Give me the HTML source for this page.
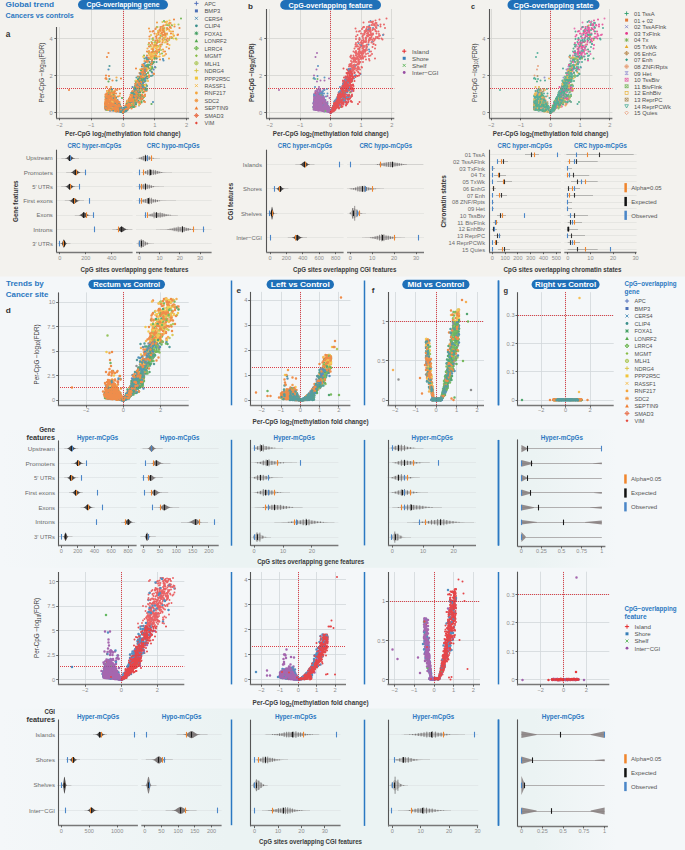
<!DOCTYPE html><html><head><meta charset="utf-8"><title>Figure</title><style>html,body{margin:0;padding:0;background:#f4f7f9;width:685px;height:850px;overflow:hidden;font-family:"Liberation Sans",sans-serif}svg{display:block}</style></head><body><svg width="685" height="850" viewBox="0 0 685 850" font-family="Liberation Sans, sans-serif"><rect x="0" y="0" width="685" height="850" fill="#f4f7f9"/>
<rect x="0" y="0" width="685" height="276.5" fill="#f3f2ee"/>
<defs><linearGradient id="band" x1="0" x2="1" y1="0" y2="0"><stop offset="0" stop-color="#ebf3f3" stop-opacity="0"/><stop offset="0.12" stop-color="#ebf3f3" stop-opacity="0.3"/><stop offset="0.33" stop-color="#ebf3f3" stop-opacity="1"/><stop offset="0.78" stop-color="#ebf3f3" stop-opacity="1"/><stop offset="0.9" stop-color="#ebf3f3" stop-opacity="0"/></linearGradient></defs>
<rect x="0" y="429.5" width="685" height="138.3" fill="url(#band)"/>
<rect x="0" y="708.5" width="685" height="141.5" fill="url(#band)"/>
<text x="5.6" y="6.9" font-size="7.54" fill="#2b78c1" font-weight="bold" textLength="48.5" lengthAdjust="spacingAndGlyphs">Global trend</text>
<text x="5.6" y="18.2" font-size="7.36" fill="#2b78c1" font-weight="bold" textLength="68.2" lengthAdjust="spacingAndGlyphs">Cancers vs controls</text>
<text x="5.8" y="36.8" font-size="8.28" fill="#333333" font-weight="bold" textLength="4.6" lengthAdjust="spacingAndGlyphs">a</text>
<text x="248" y="8.9" font-size="7.82" fill="#333333" font-weight="bold" textLength="4.9" lengthAdjust="spacingAndGlyphs">b</text>
<text x="471" y="8.9" font-size="7.82" fill="#333333" font-weight="bold" textLength="4" lengthAdjust="spacingAndGlyphs">c</text>
<line x1="59.5" y1="27" x2="59.5" y2="118" stroke="#d3d3cf" stroke-width="0.8"/>
<line x1="91.5" y1="9" x2="91.5" y2="118" stroke="#d3d3cf" stroke-width="0.8"/>
<line x1="123.5" y1="9" x2="123.5" y2="118" stroke="#d3d3cf" stroke-width="0.8"/>
<line x1="154.5" y1="9" x2="154.5" y2="118" stroke="#d3d3cf" stroke-width="0.8"/>
<line x1="186.5" y1="9" x2="186.5" y2="118" stroke="#d3d3cf" stroke-width="0.8"/>
<line x1="56.6" y1="112.5" x2="189.1" y2="112.5" stroke="#d3d3cf" stroke-width="0.8"/>
<line x1="56.6" y1="75.5" x2="189.1" y2="75.5" stroke="#d3d3cf" stroke-width="0.8"/>
<line x1="56.6" y1="38.5" x2="189.1" y2="38.5" stroke="#d3d3cf" stroke-width="0.8"/>
<line x1="123.5" y1="9" x2="123.5" y2="118" stroke="#dc4149" stroke-width="1.0" stroke-dasharray="1 1"/>
<line x1="57" y1="88.5" x2="189.1" y2="88.5" stroke="#dc4149" stroke-width="1.0" stroke-dasharray="1 1"/>
<g transform="scale(.5)" stroke-linecap="round" stroke-width="4.4" opacity="0.85"><path d="M338 80h0" stroke="#a7c44c"/><path d="M344 76h0" stroke="#66b247"/><path d="M325 44h0m0 17h0m12-10h0" stroke="#d8c23c"/><path d="M299 78h0m1 33h0m3-18h0m2 5h0m6-5h0m3-13h0m7-13h0m10 6h0" stroke="#f6b73c"/><path d="M222 194h0m3-3h0m0 30h0m6 0h0m4-21h0m17 13h0m6-3h0m7-36h0m11 20h0m6-24h0m2-11h0" stroke="#4d70b6"/><path d="M214 196h0m6 9h0m4-1h0m2-2h0m6 15h0m5-1h0m21-10h0m2-9h0m6-6h0m27-11h0m34-104h0m25 1h0" stroke="#86bc44"/><path d="M211 194h0m2 16h0m0 4h0m2-24h0m2-27h0m3 38h0m2 12h0m6-26h0m25 26h0m3-8h0m2 4h0m1-4h0m1 2h0m3-15h0m0 9h0m6-12h0m5-17h0m2 19h0m1-30h0m4 11h0m1-19h0m3 23h0m7-35h0m9-23h0" stroke="#52a84c"/><path d="M212 216h0m7-18h0m1-19h0m0 32h0m1-19h0m1 15h0m3-3h0m2-14h0m1 19h0m1 5h0m2-21h0m32 9h0m0 8h0m5-30h0m2 0h0m2 22h0m4-26h0m3-5h0m8-25h0m0 7h0m5-13h0m8-77h0m2 76h0m5 8h0m11-45h0m2-6h0m12-52h0m2 12h0" stroke="#f29236"/><path d="M252 212h0m2-6h0m0 1h0m3-5h0m0 3h0m0 7h0m0 1h0m1-5h0m2-8h0m2-4h0m1-2h0m1 0h0m1-5h0m1-4h0m0 14h0m2 12h0m1-33h0m0 6h0m1-3h0m2-8h0m0 12h0m1 20h0m8-7h0m4-49h0m0 17h0m3 36h0m3-62h0m1 8h0m3 9h0m1-38h0" stroke="#3a9a5c"/><path d="M219 180h0m3 0h0m1 32h0m5-15h0m8 22h0m1 0h0m17-5h0m2-4h0m1-2h0m1-2h0m6 9h0m2-29h0m1-3h0m2-4h0m2 0h0m10 20h0m1-33h0m9-5h0m6-10h0m2 0h0m7-48h0m5 3h0m3-14h0m2-26h0m4 16h0m3-23h0m3 53h0m3-36h0m4-16h0m6-19h0m0 49h0m8-18h0" stroke="#f2c53a"/><path d="M211 207h0m2 0h0m0 10h0m1 1h0m1-11h0m0 1h0m3-5h0m0 17h0m2-11h0m1 5h0m0 4h0m3-10h0m2-13h0m3 27h0m1-3h0m1-6h0m1-16h0m22 13h0m7 3h0m8-28h0m10-3h0m0 24h0m1-59h0m8-15h0m1 28h0m1-2h0m3-21h0m0 33h0m13-94h0m0 27h0m1 10h0m2 5h0m5-47h0m28-15h0" stroke="#f5a53a"/><path d="M213 204h0m3 3h0m1-68h0m0 74h0m1-9h0m5-12h0m1-1h0m2 22h0m2-12h0m2 4h0m4 5h0m5 13h0m1-6h0m2 1h0m0 1h0m1-3h0m0 2h0m2 6h0m1 1h0m1-1h0m1-2h0m0 1h0m1-3h0m0 1h0m1-4h0m0 2h0m1-2h0m1 4h0m2-16h0m0 10h0m0 1h0m1-5h0m1-2h0m3-2h0m1 1h0m2-10h0m1 2h0m4-9h0m1-7h0m0 16h0m4-30h0m2 20h0m3 13h0m4-12h0m8-64h0m38-6h0" stroke="#3a83b1"/><path d="M211 214h0m1-18h0m0 12h0m2-7h0m3 6h0m5-10h0m1-10h0m1-4h0m0 28h0m2 2h0m0 6h0m3-18h0m2-3h0m0 9h0m1 5h0m1 0h0m4 4h0m2 2h0m1 0h0m1-2h0m1 8h0m1-2h0m0 2h0m2-2h0m0 1h0m0 1h0m1 0h0m0 1h0m1-2h0m0 1h0m1-2h0m0 1h0m1-7h0m0 4h0m0 1h0m1-5h0m0 1h0m0 1h0m0 1h0m1-3h0m0 1h0m0 2h0m0 1h0m1-6h0m0 1h0m0 1h0m0 2h0m0 1h0m0 3h0m1-5h0m1 2h0m2-13h0m2 0h0m0 9h0m1 0h0m1-17h0m1 16h0m7-37h0m2 2h0m1 20h0m4-27h0m0 16h0m2-11h0m1-7h0m1-5h0m1 13h0m4-45h0m0 47h0m1-40h0m0 22h0m3 9h0m1-54h0m5 2h0m0 13h0m2 2h0m2-4h0m6-1h0m2-5h0m7 0h0" stroke="#3b8f8c"/><path d="M211 205h0m0 3h0m0 3h0m0 1h0m0 1h0m0 1h0m1-15h0m0 10h0m0 7h0m1-11h0m0 10h0m0 4h0m1-20h0m0 5h0m0 5h0m0 1h0m0 8h0m1-18h0m0 6h0m0 6h0m0 1h0m1-18h0m0 13h0m0 2h0m0 3h0m0 3h0m1-29h0m0 11h0m0 3h0m0 12h0m0 5h0m1-66h0m0 36h0m0 10h0m0 6h0m0 1h0m0 4h0m0 7h0m1-13h0m0 4h0m1-11h0m0 7h0m0 10h0m0 3h0m0 4h0m1-4h0m1-16h0m0 6h0m0 10h0m1-7h0m0 7h0m1-37h0m0 16h0m0 1h0m0 16h0m0 1h0m0 3h0m0 2h0m0 2h0m1-59h0m0 33h0m0 3h0m0 1h0m0 6h0m0 12h0m1-23h0m1 0h0m0 2h0m0 10h0m0 5h0m0 1h0m1-24h0m0 11h0m1-4h0m0 3h0m0 20h0m1 3h0m1-42h0m0 20h0m0 15h0m0 9h0m1-20h0m0 2h0m0 11h0m1-15h0m0 8h0m0 1h0m0 5h0m1-5h0m1 13h0m1-29h0m0 10h0m0 5h0m0 1h0m0 2h0m1-2h0m1 0h0m0 8h0m0 5h0m1-44h0m1 34h0m1 1h0m4 9h0m1 3h0m1-1h0m3-6h0m0 3h0m2-5h0m1-3h0m0 1h0m1-3h0m0 4h0m1-11h0m0 3h0m0 1h0m0 2h0m0 7h0m0 2h0m1-10h0m0 4h0m1-7h0m0 4h0m0 4h0m1-14h0m0 3h0m0 2h0m0 3h0m2-7h0m1 6h0m1-13h0m0 1h0m0 7h0m0 3h0m0 3h0m0 2h0m3-22h0m1 2h0m1-2h0m1 17h0m1-28h0m1 15h0m1 1h0m1 10h0m2-29h0m1-11h0m0 4h0m1-14h0m0 11h0m0 2h0m0 6h0m1 5h0m1 18h0m0 9h0m4-33h0m0 28h0m1-36h0m1-23h0m1 35h0m0 4h0m1-38h0m1-3h0m1 38h0m2-6h0m4-46h0m2 8h0m2-46h0m0 65h0m0 3h0m6-45h0m1-46h0m0 42h0m0 8h0m0 14h0m4-60h0m2-9h0m1 15h0m1 42h0m0 2h0m1-31h0m0 5h0m1-10h0m0 13h0m4-10h0m1 35h0m1-26h0m3-28h0m1-11h0m10 4h0m14-5h0m6 17h0" stroke="#ef7b2d"/><path d="M299 110h0" stroke="#f6b73c"/><path d="M302 70h0m2 38h0m12-46h0" stroke="#d8c23c"/><path d="M309 106h0m2-22h0m6 8h0m7-3h0m5-33h0m1 23h0" stroke="#a7c44c"/><path d="M286 138h0m2-27h0m0 35h0m0 6h0m0 21h0m17-95h0m1 24h0m2 12h0m3-27h0m0 48h0m23-85h0" stroke="#66b247"/><path d="M212 207h0m16-8h0m30 7h0m6 1h0m2-4h0m6-12h0m7-2h0m4 5h0m26-104h0m5-36h0m5 23h0m8-1h0" stroke="#86bc44"/><path d="M211 216h0m5-9h0m3 6h0m9-5h0m25 5h0m1-10h0m1 2h0m2 5h0m4 2h0m9-28h0m3-11h0m5 0h0m3 9h0m3 17h0m8-30h0m4-40h0" stroke="#52a84c"/><path d="M256 204h0m4-6h0m1 4h0m1 6h0m3-9h0m5-23h0m0 30h0m1-24h0m0 1h0m0 13h0m2-13h0m0 5h0m8-20h0m4-6h0m1 16h0m3-20h0m2 4h0m5-16h0" stroke="#3a9a5c"/><path d="M211 213h0m0 4h0m6-7h0m17-1h0m23-2h0m14-19h0m1-15h0m3 2h0m3-1h0m3-9h0m0 4h0m5-20h0m2-5h0m1 9h0m3 4h0m1-42h0m0 66h0m1-49h0m2 0h0" stroke="#4d70b6"/><path d="M211 192h0m1-36h0m1 39h0m1-4h0m2 27h0m8-8h0m2-7h0m2-19h0m0 30h0m2 1h0m9-1h0m1-4h0m15 3h0m2-1h0m1-1h0m1-8h0m11-6h0m16-50h0m22-36h0m6-66h0m2 56h0m1-1h0m2 13h0m7-14h0m1-37h0m3-18h0m16 19h0" stroke="#f29236"/><path d="M212 218h0m5-4h0m14-21h0m1 25h0m2 4h0m26-20h0m1-8h0m3 0h0m1-5h0m5-11h0m2 0h0m0 3h0m2-12h0m1 27h0m1-30h0m0 30h0m2-41h0m2-16h0m6 14h0m2 21h0m3-15h0m1-17h0m13-19h0m1-8h0m6-2h0m3-19h0m25-20h0" stroke="#f2c53a"/><path d="M212 207h0m2-6h0m0 18h0m1-7h0m1 1h0m3-15h0m3 15h0m5-13h0m0 21h0m1-22h0m1 19h0m1-8h0m6-3h0m17 4h0m5 3h0m4-21h0m5-3h0m0 4h0m0 10h0m5-28h0m2 22h0m5-22h0m1-10h0m8-12h0m0 10h0m4-47h0m3-20h0m2 7h0m8-15h0m0 17h0m7-9h0m10-24h0m5 30h0m1-27h0m3-2h0m7 43h0" stroke="#f5a53a"/><path d="M212 196h0m10 19h0m16 7h0m2-2h0m1 0h0m1-2h0m1 3h0m2 0h0m1 3h0m1-1h0m0 1h0m1-2h0m1-2h0m0 1h0m1-5h0m0 3h0m0 1h0m1-4h0m1-4h0m0 3h0m0 5h0m1-7h0m0 2h0m0 1h0m0 2h0m1-9h0m1 6h0m6-16h0m0 2h0m3-3h0m0 13h0m11-43h0m2-8h0m2 22h0m2 15h0m2-41h0m0 3h0m0 19h0m3-10h0m2-40h0m2 17h0m0 30h0m1 5h0" stroke="#3a83b1"/><path d="M213 199h0m0 3h0m0 1h0m4-20h0m0 19h0m1-8h0m0 3h0m1-11h0m0 24h0m1-13h0m0 4h0m1-16h0m0 23h0m0 6h0m1-2h0m1-33h0m3 18h0m2 4h0m0 15h0m2-12h0m0 13h0m2-22h0m1-34h0m1 48h0m1-3h0m2 2h0m1 6h0m0 1h0m3-1h0m0 1h0m0 1h0m0 2h0m1 3h0m0 1h0m2-1h0m0 1h0m1 2h0m1 1h0m1-3h0m0 1h0m0 1h0m1-3h0m0 1h0m0 1h0m1-3h0m0 1h0m1-4h0m0 1h0m0 2h0m0 1h0m1-6h0m0 2h0m0 1h0m0 1h0m1-3h0m0 1h0m1-4h0m0 3h0m0 4h0m1-6h0m0 2h0m3-7h0m1 0h0m3-11h0m2 0h0m1 1h0m1 2h0m5 5h0m1-38h0m0 8h0m1 2h0m2 22h0m1-26h0m1-6h0m1 12h0m2-21h0m0 5h0m1 33h0m3-39h0m2 35h0m2-60h0m1 13h0m3-22h0m2 54h0m7-37h0m5 10h0" stroke="#3b8f8c"/><path d="M210 207h0m1-18h0m0 14h0m0 1h0m0 1h0m0 1h0m0 1h0m0 3h0m0 3h0m0 5h0m0 1h0m1-19h0m0 9h0m0 2h0m0 6h0m0 2h0m1-28h0m0 1h0m0 14h0m1-92h0m0 68h0m0 8h0m0 17h0m0 1h0m0 3h0m0 1h0m0 5h0m1-16h0m0 3h0m0 8h0m0 2h0m0 3h0m0 2h0m1-30h0m0 16h0m0 8h0m0 1h0m1-8h0m0 7h0m1-25h0m0 16h0m0 3h0m0 13h0m1-22h0m0 13h0m1-33h0m0 7h0m0 13h0m0 6h0m0 9h0m0 6h0m1-10h0m0 1h0m1-8h0m0 11h0m0 2h0m0 2h0m0 4h0m1-22h0m0 16h0m1-34h0m0 22h0m0 7h0m1-18h0m0 14h0m1-15h0m0 16h0m0 1h0m0 2h0m0 9h0m1-33h0m0 1h0m0 14h0m0 11h0m4-5h0m0 14h0m1-34h0m0 19h0m0 4h0m0 10h0m1-6h0m0 6h0m1-16h0m0 14h0m2-5h0m0 1h0m1-6h0m0 4h0m0 1h0m0 3h0m0 2h0m2-6h0m1 4h0m2-59h0m1 65h0m3 3h0m1-2h0m1-1h0m1 0h0m1-4h0m0 2h0m1-4h0m0 5h0m1-10h0m1-3h0m0 13h0m1-18h0m0 1h0m0 7h0m0 2h0m1-12h0m0 5h0m0 5h0m1 8h0m1-13h0m0 2h0m0 8h0m1-10h0m0 1h0m1-1h0m1-10h0m0 4h0m0 5h0m1-5h0m0 2h0m0 3h0m0 1h0m1-10h0m0 11h0m1-10h0m0 20h0m1-27h0m1-8h0m0 12h0m1-3h0m1-5h0m0 6h0m1-14h0m0 10h0m0 5h0m0 7h0m1-6h0m1-16h0m1-10h0m0 13h0m0 8h0m0 24h0m2-49h0m2 11h0m0 6h0m0 6h0m2-18h0m0 2h0m1-11h0m1-14h0m0 49h0m2-11h0m0 11h0m1 1h0m0 3h0m1-38h0m0 31h0m2 5h0m1-36h0m0 12h0m0 24h0m1-40h0m0 20h0m2 14h0m1-55h0m2 6h0m0 10h0m0 3h0m2-44h0m2 25h0m2-29h0m0 30h0m1-64h0m0 32h0m4 31h0m1-17h0m0 2h0m4 27h0m1-57h0m0 13h0m3-2h0m0 9h0m1-56h0m4 14h0m0 14h0m2-7h0m2-19h0m1 32h0m3-17h0m2-17h0m0 3h0m3 45h0m3-23h0m1-13h0m1 16h0m4-37h0m1 8h0" stroke="#ef7b2d"/><path d="M297 105h0m14 3h0m4-54h0m7 46h0" stroke="#a7c44c"/><path d="M313 107h0m6-28h0m10-15h0m5 5h0" stroke="#d8c23c"/><path d="M271 162h0m14-6h0m6-7h0m27-45h0m10-42h0" stroke="#66b247"/><path d="M287 113h0m17-6h0m1-10h0m8-29h0m17 17h0m4-42h0m1 45h0m7-25h0" stroke="#f6b73c"/><path d="M212 209h0m2-3h0m9 12h0m8-5h0m24-1h0m1 2h0m6-18h0m7-13h0m11-23h0m3 16h0m9-42h0m12 11h0m3-6h0" stroke="#4d70b6"/><path d="M211 214h0m6-23h0m0 11h0m5-7h0m3-12h0m2 29h0m24 0h0m11-15h0m0 1h0m5-12h0m5 1h0m12-6h0m25-96h0m9-2h0m20-33h0" stroke="#86bc44"/><path d="M213 217h0m1-12h0m1 14h0m10-4h0m8 5h0m2-14h0m0 15h0m1-1h0m18-7h0m5-2h0m2-12h0m0 1h0m2-4h0m3-4h0m2 15h0m8-43h0m1 6h0m12-48h0m1 25h0m3 35h0m5-80h0m8-22h0m0 20h0m8 7h0m6-32h0m21-29h0m2 4h0m0 24h0" stroke="#f29236"/><path d="M212 205h0m1 2h0m2-24h0m2 16h0m6-7h0m2 10h0m0 3h0m1 11h0m9-8h0m1 10h0m3-9h0m16-1h0m4-6h0m0 3h0m4-13h0m0 5h0m12-22h0m3 3h0m6-15h0m1-21h0m18-6h0m1-13h0m1-12h0m11 2h0m1-29h0m8-2h0m1-13h0m7-23h0m13 22h0m1 9h0" stroke="#f2c53a"/><path d="M254 213h0m3-6h0m0 2h0m2 5h0m1-1h0m2 0h0m1-27h0m3 19h0m1-9h0m4-15h0m4-10h0m1 14h0m1-27h0m0 44h0m2-33h0m0 3h0m1-16h0m0 23h0m0 6h0m3-14h0m1-15h0m0 7h0m1 9h0m7-33h0m3-7h0m2 4h0m4-8h0m2 15h0m1-9h0" stroke="#3a9a5c"/><path d="M212 199h0m1 8h0m0 12h0m4-24h0m1 3h0m5 12h0m4-21h0m5 23h0m1-4h0m3 7h0m8-19h0m11 15h0m2-6h0m1-7h0m1 17h0m5-22h0m0 2h0m1 16h0m3-23h0m4-23h0m0 36h0m2-31h0m3 26h0m5-55h0m1 64h0m1-49h0m4 38h0m1-61h0m6-14h0m5 11h0m3 8h0m2-2h0" stroke="#52a84c"/><path d="M211 209h0m1 3h0m1-3h0m2 5h0m0 6h0m2-7h0m3-6h0m1 12h0m1-1h0m6-8h0m3-8h0m2 11h0m0 2h0m1-1h0m3-7h0m2-15h0m14 15h0m2-5h0m1 2h0m4 4h0m10-8h0m2 1h0m1-8h0m1-26h0m3-2h0m0 1h0m4 14h0m1-20h0m5-30h0m4 40h0m5-25h0m3-21h0m3-16h0m1-10h0m2 12h0m3-4h0m8-4h0m4 6h0m11-58h0m6-2h0m2 14h0" stroke="#f5a53a"/><path d="M212 219h0m14-23h0m0 16h0m12 3h0m0 5h0m2-6h0m5 10h0m0 1h0m1-1h0m0 1h0m1-2h0m0 1h0m1-2h0m0 1h0m1-7h0m0 4h0m1 1h0m1-6h0m0 6h0m2-4h0m0 2h0m1-5h0m3-1h0m6-15h0m6-19h0m1-3h0m1 32h0m4-37h0m1-12h0m2 12h0m1-8h0m1 11h0m1-28h0m9-3h0m0 20h0m1-32h0m13-9h0m0 3h0m2 79h0m20-86h0" stroke="#3a83b1"/><path d="M213 217h0m1-17h0m1 15h0m1-13h0m1 1h0m1-14h0m0 21h0m2 11h0m6-22h0m5 11h0m2-9h0m3 9h0m1-1h0m1-2h0m1 15h0m1-2h0m1 0h0m0 3h0m1-7h0m0 2h0m0 5h0m1-8h0m0 3h0m0 2h0m1-1h0m0 1h0m0 1h0m0 3h0m1-1h0m0 1h0m1 0h0m0 1h0m1-2h0m0 1h0m1-3h0m0 1h0m0 1h0m1-2h0m0 1h0m1-4h0m0 1h0m0 1h0m1-6h0m0 4h0m0 1h0m0 2h0m0 2h0m1-8h0m0 1h0m0 2h0m0 2h0m1-5h0m0 1h0m0 5h0m1-7h0m5-13h0m4-6h0m4 1h0m0 14h0m3-38h0m2 8h0m0 4h0m0 18h0m1-47h0m0 26h0m0 20h0m1-8h0m5-39h0m5 6h0m0 32h0m3-33h0m6-42h0m13 9h0" stroke="#3b8f8c"/><path d="M211 200h0m0 8h0m0 2h0m0 4h0m1-63h0m0 50h0m0 3h0m0 4h0m0 4h0m0 1h0m0 2h0m1-57h0m0 16h0m0 39h0m0 1h0m0 4h0m1-18h0m0 8h0m0 8h0m1-30h0m0 13h0m0 12h0m1-16h0m0 4h0m0 20h0m1-113h0m0 89h0m0 13h0m0 12h0m1-24h0m0 4h0m1 10h0m0 1h0m0 1h0m1-26h0m0 14h0m0 15h0m1-22h0m0 4h0m0 20h0m1-32h0m0 4h0m0 5h0m0 4h0m1-6h0m0 17h0m0 7h0m1 2h0m0 1h0m1-21h0m0 12h0m1-24h0m0 12h0m0 12h0m0 1h0m1-14h0m0 2h0m0 10h0m1-16h0m1-9h0m0 7h0m0 7h0m2 2h0m1 11h0m1-2h0m0 6h0m1-35h0m0 31h0m0 5h0m1-5h0m0 1h0m0 4h0m0 4h0m1-12h0m1 3h0m0 2h0m0 1h0m0 1h0m1-7h0m0 1h0m1-2h0m0 2h0m0 3h0m7 12h0m0 1h0m3-6h0m1 2h0m1-9h0m0 7h0m1-6h0m0 6h0m1-6h0m0 2h0m1-8h0m0 4h0m0 5h0m1-6h0m0 2h0m1-5h0m0 2h0m1-2h0m1-4h0m0 4h0m2-13h0m0 12h0m0 4h0m4-26h0m1 3h0m0 10h0m0 6h0m0 5h0m1-18h0m0 15h0m1-20h0m0 4h0m0 11h0m0 10h0m1-19h0m1-4h0m0 12h0m2-27h0m0 10h0m2-1h0m0 9h0m0 4h0m2-21h0m0 9h0m0 11h0m2 12h0m1-40h0m0 3h0m0 9h0m0 27h0m1-41h0m0 26h0m0 15h0m1-39h0m0 43h0m1-56h0m1 13h0m0 6h0m0 23h0m1-48h0m0 29h0m1-15h0m0 1h0m1-31h0m0 20h0m0 11h0m2-28h0m0 12h0m0 25h0m0 14h0m1 19h0m1-61h0m0 50h0m1 12h0m2-27h0m0 1h0m1-56h0m3-7h0m1 7h0m4-32h0m3 14h0m0 16h0m2-22h0m1-36h0m4 19h0m0 34h0m1-25h0m1-14h0m1 28h0m1-20h0m5-22h0m1-8h0m0 8h0m4-9h0m0 26h0m2-28h0m1 13h0m3 5h0m0 1h0m4-13h0m0 20h0m0 11h0m5-33h0m8-16h0m11 17h0" stroke="#ef7b2d"/><path d="M332 84h0" stroke="#d8c23c"/><path d="M300 106h0m7-11h0m13 0h0m7-40h0" stroke="#f6b73c"/><path d="M283 173h0m13-28h0m32-103h0m34-5h0" stroke="#66b247"/><path d="M297 89h0m3 4h0m3-9h0m3-5h0m51-30h0" stroke="#a7c44c"/><path d="M220 221h0m7 0h0m8-7h0m0 8h0m21-11h0m19-45h0m3 45h0m9-46h0m23-31h0" stroke="#4d70b6"/><path d="M214 220h0m4-34h0m7 33h0m12-9h0m16 1h0m3-5h0m1-2h0m0 2h0m1-6h0m6 9h0m3-20h0m1 11h0m0 3h0m3-18h0m50-114h0m3 36h0m3-50h0m17-6h0" stroke="#86bc44"/><path d="M254 208h0m1 2h0m3-7h0m0 6h0m2-8h0m0 5h0m1-8h0m5-12h0m0 28h0m2 0h0m4-5h0m1-27h0m1 1h0m2-24h0m2 2h0m0 16h0m2-13h0m5-3h0m3-3h0m2 21h0m3-1h0m1-25h0m1-19h0m13-10h0" stroke="#3a9a5c"/><path d="M212 216h0m7-12h0m2 15h0m9 3h0m3-21h0m29-11h0m0 7h0m3-2h0m7-34h0m0 44h0m3-29h0m3 34h0m9-96h0m2 78h0m1-21h0m5-34h0m0 2h0m4-28h0m2 23h0m2-17h0m2-8h0m5-22h0m3 9h0m4 4h0m11-30h0m21-21h0m4 30h0" stroke="#f2c53a"/><path d="M213 213h0m8-22h0m0 22h0m0 3h0m40-16h0m0 3h0m1-1h0m7-27h0m0 16h0m1 10h0m4-25h0m0 19h0m1-8h0m1 1h0m3 6h0m2-4h0m2 13h0m1-32h0m1-11h0m1 11h0m0 14h0m4-23h0m3 15h0m1-47h0m9 78h0m2-81h0m4-11h0m0 1h0" stroke="#52a84c"/><path d="M211 211h0m2-19h0m2 8h0m0 14h0m2 6h0m4-22h0m1-24h0m0 40h0m1-27h0m0 22h0m2-11h0m2-4h0m0 7h0m4 9h0m6-3h0m18 7h0m2-7h0m8-11h0m1-2h0m7-11h0m0 22h0m19-69h0m6-79h0m1 47h0m3 9h0m17-53h0m1 30h0m12 18h0" stroke="#f29236"/><path d="M211 203h0m4 12h0m2-9h0m0 12h0m1-18h0m5-11h0m0 15h0m2-23h0m1 15h0m6 3h0m1-44h0m3 64h0m0 1h0m20-10h0m6-16h0m1 12h0m7-22h0m5-19h0m1 9h0m1 24h0m13-16h0m6-20h0m3-44h0m3-3h0m4-2h0m2-20h0m6 6h0m5-36h0m8 18h0m1-21h0m1 51h0m4-17h0m5-35h0m10 12h0" stroke="#f5a53a"/><path d="M213 213h0m4 3h0m3-22h0m19 15h0m0 7h0m0 7h0m2-6h0m0 1h0m1 1h0m1-3h0m0 4h0m1 3h0m2 1h0m0 1h0m1-2h0m0 1h0m1-3h0m0 1h0m0 1h0m1-4h0m0 2h0m0 1h0m1-6h0m0 4h0m0 2h0m1-5h0m0 1h0m1-4h0m0 2h0m1 1h0m0 1h0m1-5h0m0 6h0m1-4h0m1-1h0m2-5h0m1 4h0m1-12h0m2-1h0m1 4h0m5-15h0m1 2h0m6-6h0m1-10h0m4-8h0m2 5h0m4 2h0m2-32h0m2 18h0m1-4h0m2-41h0m4 3h0" stroke="#3a83b1"/><path d="M212 207h0m0 2h0m2 7h0m1-19h0m0 17h0m4-82h0m0 26h0m0 46h0m4 4h0m1-29h0m3 17h0m0 24h0m3-15h0m3 2h0m1 16h0m2-15h0m0 6h0m2 6h0m1-11h0m0 6h0m0 1h0m0 1h0m3-1h0m0 4h0m0 4h0m1-2h0m1-1h0m0 1h0m0 2h0m2 0h0m0 1h0m1-2h0m0 1h0m1-5h0m0 2h0m0 1h0m0 1h0m1-5h0m0 2h0m1-4h0m0 1h0m0 1h0m0 1h0m0 1h0m0 1h0m1-6h0m0 1h0m0 1h0m0 2h0m1-5h0m0 1h0m0 5h0m0 1h0m1-5h0m0 2h0m0 1h0m0 1h0m0 1h0m2-12h0m0 3h0m0 3h0m3-5h0m1-4h0m3-6h0m0 3h0m1-17h0m0 13h0m1 1h0m2-5h0m2-7h0m0 6h0m1-4h0m1-7h0m2 23h0m1-29h0m2 19h0m4-35h0m1 34h0m1-47h0m2 12h0m7-21h0m1 9h0m1 32h0m2-8h0m5-48h0m3 28h0m11-35h0" stroke="#3b8f8c"/><path d="M138 180h0m73-23h0m0 41h0m0 9h0m0 2h0m0 6h0m0 1h0m1-22h0m0 10h0m0 12h0m1-29h0m0 14h0m0 1h0m0 8h0m0 6h0m1-22h0m0 5h0m0 2h0m0 3h0m0 3h0m0 11h0m1-26h0m0 10h0m0 7h0m0 4h0m0 5h0m1-20h0m0 7h0m0 7h0m1-18h0m0 6h0m0 1h0m0 11h0m0 2h0m1-34h0m0 2h0m0 9h0m0 5h0m0 6h0m0 14h0m1-29h0m0 8h0m0 8h0m0 14h0m1-26h0m0 4h0m0 12h0m0 3h0m1-14h0m0 17h0m1-15h0m0 8h0m0 1h0m0 1h0m1-12h0m0 16h0m0 7h0m1-20h0m1 8h0m0 2h0m2-23h0m0 14h0m0 15h0m0 3h0m1-33h0m0 24h0m1-15h0m0 5h0m1-17h0m0 14h0m0 8h0m0 7h0m0 6h0m0 1h0m0 2h0m1-5h0m0 7h0m1-21h0m0 13h0m0 9h0m1-20h0m0 11h0m0 5h0m1-12h0m1-5h0m0 2h0m1 9h0m0 4h0m1-7h0m0 3h0m0 5h0m0 3h0m0 2h0m1-14h0m0 2h0m0 2h0m1-9h0m1-17h0m1 26h0m1 6h0m4 5h0m0 1h0m1-1h0m1-4h0m4-9h0m0 7h0m3-9h0m0 8h0m1-8h0m0 3h0m0 1h0m1-1h0m1-15h0m0 5h0m0 5h0m0 8h0m1-18h0m0 2h0m0 2h0m0 7h0m0 3h0m0 1h0m2-22h0m0 7h0m0 2h0m0 2h0m0 1h0m0 9h0m1-21h0m0 11h0m0 2h0m0 8h0m2-17h0m1-3h0m0 8h0m0 2h0m1-2h0m1 3h0m3-10h0m1-25h0m0 17h0m1-47h0m1 49h0m0 10h0m0 5h0m1-26h0m0 26h0m1-39h0m0 25h0m2-12h0m1-9h0m1 4h0m0 25h0m0 10h0m1-46h0m0 11h0m1 1h0m1-17h0m0 10h0m0 11h0m1-37h0m0 6h0m1 0h0m0 45h0m1-60h0m0 26h0m0 36h0m2-53h0m0 4h0m0 37h0m2 4h0m1-36h0m0 42h0m0 3h0m3-52h0m1-37h0m4-10h0m0 23h0m4 13h0m2-43h0m0 39h0m13-60h0m1 34h0m2-39h0m3 7h0m2 2h0m0 16h0m1-27h0m0 3h0m2 9h0m2-3h0m8 30h0m1-20h0m3-10h0m14 2h0" stroke="#ef7b2d"/></g>
<line x1="56.5" y1="27" x2="56.5" y2="118.5" stroke="#555555" stroke-width="1.1"/>
<line x1="56.1" y1="118.5" x2="189.1" y2="118.5" stroke="#777" stroke-width="1.3"/>
<line x1="59.5" y1="118" x2="59.5" y2="120.3" stroke="#555555" stroke-width="0.9"/>
<line x1="91.5" y1="118" x2="91.5" y2="120.3" stroke="#555555" stroke-width="0.9"/>
<line x1="123.5" y1="118" x2="123.5" y2="120.3" stroke="#555555" stroke-width="0.9"/>
<line x1="154.5" y1="118" x2="154.5" y2="120.3" stroke="#555555" stroke-width="0.9"/>
<line x1="186.5" y1="118" x2="186.5" y2="120.3" stroke="#555555" stroke-width="0.9"/>
<line x1="54.4" y1="112.5" x2="56.6" y2="112.5" stroke="#555555" stroke-width="0.9"/>
<line x1="54.4" y1="75.5" x2="56.6" y2="75.5" stroke="#555555" stroke-width="0.9"/>
<line x1="54.4" y1="38.5" x2="56.6" y2="38.5" stroke="#555555" stroke-width="0.9"/>
<text x="59.4" y="127.2" font-size="5.89" fill="#8c8c8c" text-anchor="middle" textLength="6.4" lengthAdjust="spacingAndGlyphs">−2</text>
<text x="91.2" y="127.2" font-size="5.89" fill="#8c8c8c" text-anchor="middle" textLength="6.4" lengthAdjust="spacingAndGlyphs">−1</text>
<text x="123" y="127.2" font-size="5.89" fill="#8c8c8c" text-anchor="middle" textLength="3.2" lengthAdjust="spacingAndGlyphs">0</text>
<text x="154.8" y="127.2" font-size="5.89" fill="#8c8c8c" text-anchor="middle" textLength="3.2" lengthAdjust="spacingAndGlyphs">1</text>
<text x="186.6" y="127.2" font-size="5.89" fill="#8c8c8c" text-anchor="middle" textLength="3.2" lengthAdjust="spacingAndGlyphs">2</text>
<text x="52.8" y="114.7" font-size="5.89" fill="#8c8c8c" text-anchor="end" textLength="3.2" lengthAdjust="spacingAndGlyphs">0</text>
<text x="52.8" y="77.6" font-size="5.89" fill="#8c8c8c" text-anchor="end" textLength="3.2" lengthAdjust="spacingAndGlyphs">2</text>
<text x="52.8" y="40.5" font-size="5.89" fill="#8c8c8c" text-anchor="end" textLength="3.2" lengthAdjust="spacingAndGlyphs">4</text>
<text x="41.8" y="72.6" font-size="6.8" fill="#3a3a3a" text-anchor="middle" textLength="60" lengthAdjust="spacingAndGlyphs" transform="rotate(-90 41.8 72.6) translate(0 2.2)">Per-CpG −log<tspan font-size="4.5" dy="1.5">10</tspan><tspan dy="-1.5">(FDR)</tspan></text>
<text x="122.8" y="135.7" font-size="6.8" fill="#3a3a3a" font-weight="bold" text-anchor="middle" textLength="115.7" lengthAdjust="spacingAndGlyphs">Per-CpG log<tspan font-size="4.5" dy="1.5">2</tspan><tspan dy="-1.5">(methylation fold change)</tspan></text>
<rect x="78" y="0" width="90" height="9.5" rx="4.8" fill="#1f70b8"/>
<text x="123" y="7.2" font-size="6.99" fill="#ffffff" font-weight="bold" text-anchor="middle" textLength="73" lengthAdjust="spacingAndGlyphs">CpG-overlapping gene</text>
<path d="M194.3 3.4h4.2M196.4 1.3v4.2" stroke="#4a69b8" stroke-width="0.9"/>
<text x="204.5" y="5.8" font-size="6.07" fill="#505050" textLength="11.2" lengthAdjust="spacingAndGlyphs">APC</text>
<rect x="194.9" y="9.4" width="3" height="3" fill="#4d70b6"/>
<text x="204.5" y="13.2" font-size="6.07" fill="#505050" textLength="15.8" lengthAdjust="spacingAndGlyphs">BMP3</text>
<path d="M194.9 16.8l3 3M194.9 19.8l3 -3" stroke="#3a83b1" stroke-width="0.8"/>
<text x="204.5" y="20.7" font-size="6.07" fill="#505050" textLength="18" lengthAdjust="spacingAndGlyphs">CERS4</text>
<circle cx="196.4" cy="25.8" r="1.4" fill="#3b8f8c"/>
<text x="204.5" y="28.2" font-size="6.07" fill="#505050" textLength="15.7" lengthAdjust="spacingAndGlyphs">CLIP4</text>
<path d="M194.5 33.3h3.8M196.4 31.4v3.8M194.9 31.8l3 3M194.9 34.8l3 -3" stroke="#3a9a5c" stroke-width="0.8"/>
<text x="204.5" y="35.7" font-size="6.07" fill="#505050" textLength="17.9" lengthAdjust="spacingAndGlyphs">FOXA1</text>
<path d="M196.4 39L198.2 42.2L194.6 42.2Z" fill="#52a84c"/>
<text x="204.5" y="43.1" font-size="6.07" fill="#505050" textLength="22.1" lengthAdjust="spacingAndGlyphs">LONRF2</text>
<path d="M196.4 46.2L198.4 48.2L196.4 50.2L194.4 48.2ZM194.4 48.2h4M196.4 46.2v4" fill="none" stroke="#66b247" stroke-width="0.8"/>
<text x="204.5" y="50.6" font-size="6.07" fill="#505050" textLength="17.9" lengthAdjust="spacingAndGlyphs">LRRC4</text>
<path d="M196.4 54.2L197.9 55.7L196.4 57.2L194.9 55.7Z" fill="#86bc44"/>
<text x="204.5" y="58.1" font-size="6.07" fill="#505050" textLength="17.1" lengthAdjust="spacingAndGlyphs">MGMT</text>
<circle cx="196.4" cy="63.2" r="1.7" fill="none" stroke="#a7c44c" stroke-width="0.8"/>
<path d="M194.7 63.2h3.4M196.4 61.5v3.4" stroke="#a7c44c" stroke-width="0.7"/>
<text x="204.5" y="65.5" font-size="6.07" fill="#505050" textLength="15.4" lengthAdjust="spacingAndGlyphs">MLH1</text>
<path d="M194.3 70.6h4.2M196.4 68.5v4.2" stroke="#d8c23c" stroke-width="0.9"/>
<text x="204.5" y="73" font-size="6.07" fill="#505050" textLength="19.4" lengthAdjust="spacingAndGlyphs">NDRG4</text>
<rect x="194.9" y="76.6" width="3" height="3" fill="#f2c53a"/>
<text x="204.5" y="80.5" font-size="6.07" fill="#505050" textLength="25.7" lengthAdjust="spacingAndGlyphs">PPP2R5C</text>
<path d="M194.9 84.1l3 3M194.9 87.1l3 -3" stroke="#f6b73c" stroke-width="0.8"/>
<text x="204.5" y="87.9" font-size="6.07" fill="#505050" textLength="21.2" lengthAdjust="spacingAndGlyphs">RASSF1</text>
<circle cx="196.4" cy="93" r="1.4" fill="#f5a53a"/>
<text x="204.5" y="95.4" font-size="6.07" fill="#505050" textLength="21.2" lengthAdjust="spacingAndGlyphs">RNF217</text>
<path d="M194.5 100.5h3.8M196.4 98.6v3.8M194.9 99l3 3M194.9 102l3 -3" stroke="#f29236" stroke-width="0.8"/>
<text x="204.5" y="102.9" font-size="6.07" fill="#505050" textLength="14.6" lengthAdjust="spacingAndGlyphs">SDC2</text>
<path d="M196.4 106.2L198.2 109.5L194.6 109.5Z" fill="#ef7b2d"/>
<text x="204.5" y="110.4" font-size="6.07" fill="#505050" textLength="23.8" lengthAdjust="spacingAndGlyphs">SEPTIN9</text>
<path d="M196.4 113.5L198.4 115.5L196.4 117.5L194.4 115.5ZM194.4 115.5h4M196.4 113.5v4" fill="none" stroke="#e8623a" stroke-width="0.8"/>
<text x="204.5" y="117.8" font-size="6.07" fill="#505050" textLength="19.2" lengthAdjust="spacingAndGlyphs">SMAD3</text>
<path d="M196.4 121.4L197.9 122.9L196.4 124.4L194.9 122.9Z" fill="#e4473a"/>
<text x="204.5" y="125.3" font-size="6.07" fill="#505050" textLength="9.8" lengthAdjust="spacingAndGlyphs">VIM</text>
<line x1="269.5" y1="9" x2="269.5" y2="118" stroke="#d3d3cf" stroke-width="0.8"/>
<line x1="300.5" y1="9" x2="300.5" y2="118" stroke="#d3d3cf" stroke-width="0.8"/>
<line x1="330.5" y1="9" x2="330.5" y2="118" stroke="#d3d3cf" stroke-width="0.8"/>
<line x1="361.5" y1="9" x2="361.5" y2="118" stroke="#d3d3cf" stroke-width="0.8"/>
<line x1="391.5" y1="9" x2="391.5" y2="118" stroke="#d3d3cf" stroke-width="0.8"/>
<line x1="266.5" y1="112.5" x2="394.3" y2="112.5" stroke="#d3d3cf" stroke-width="0.8"/>
<line x1="266.5" y1="75.5" x2="394.3" y2="75.5" stroke="#d3d3cf" stroke-width="0.8"/>
<line x1="266.5" y1="38.5" x2="394.3" y2="38.5" stroke="#d3d3cf" stroke-width="0.8"/>
<line x1="330.5" y1="9" x2="330.5" y2="118" stroke="#dc4149" stroke-width="1.0" stroke-dasharray="1 1"/>
<line x1="266" y1="88.5" x2="394.3" y2="88.5" stroke="#dc4149" stroke-width="1.0" stroke-dasharray="1 1"/>
<g transform="scale(.5)" stroke-linecap="round" stroke-width="4" opacity="0.8"><path d="M631 208h0m9-21h0m3 13h0m1 1h0m10 15h0m9 7h0m3-11h0m4-1h0" stroke="#4daf4a"/><path d="M631 186h0m2 5h0m2 7h0m0 6h0m1-18h0m13 29h0m3 5h0m5 2h0" stroke="#e41a1c"/><path d="M699 130h0m3-19h0m0 21h0m3 9h0m1-7h0m2-2h0m0 2h0m1-37h0m0 37h0m1-2h0m1-43h0m1-16h0m0 13h0m0 21h0m0 3h0m0 14h0m1-31h0m0 18h0m0 30h0m2-7h0m1-41h0m0 15h0m0 9h0m0 19h0m1-16h0m0 3h0m0 15h0m1-40h0m0 7h0m0 1h0m0 17h0m1-23h0m0 13h0m1-18h0m1-10h0m3-27h0m0 29h0m2-19h0m0 3h0m0 5h0m0 41h0m1-37h0m0 27h0m3-15h0m1-9h0m0 16h0m0 3h0m1-42h0m0 2h0m0 57h0m3-46h0m1-8h0m0 2h0m1-14h0m1 5h0m1-3h0m1 3h0m1 4h0m1 5h0m1 2h0m2-23h0m0 34h0m0 14h0m1-44h0m1 7h0m3 40h0m1-56h0m1 14h0m1 1h0m0 11h0m2 7h0m2-11h0m1 14h0m9-8h0m1-20h0m2 7h0" stroke="#e8474a"/><path d="M628 210h0m0 9h0m2-24h0m2 14h0m0 4h0m1-6h0m2-55h0m1 61h0m1-27h0m0 10h0m0 23h0m2-21h0m0 11h0m2-18h0m3-7h0m0 13h0m2 8h0m2-18h0m2 17h0m2-11h0m0 15h0m1 3h0m1-2h0m1-2h0m3 11h0m0 1h0m0 1h0m1 0h0m0 1h0m1 0h0m1 4h0m1-1h0m0 1h0m4-9h0m0 5h0m1-10h0m1 4h0m0 2h0m1-1h0m1-15h0m0 3h0m0 1h0m0 4h0m0 2h0m1-9h0m0 2h0m0 2h0m1-6h0m2 7h0m1-13h0m0 12h0m1-16h0m0 16h0m1-12h0m1-2h0m2-18h0m0 8h0m1 3h0m0 4h0m2-9h0m0 9h0m2-17h0m1 24h0m2-15h0m0 15h0m1-28h0m1-9h0m2 11h0m2-14h0m6-18h0m1 4h0m10 9h0m9-38h0m13-18h0m3-36h0m1 30h0m1 10h0m1-42h0m2-15h0m5 14h0" stroke="#377eb8"/><path d="M627 205h0m0 2h0m0 7h0m1-16h0m0 2h0m0 4h0m0 4h0m0 1h0m0 4h0m0 5h0m1-26h0m0 12h0m0 1h0m0 3h0m0 1h0m0 1h0m0 3h0m0 3h0m0 2h0m1-16h0m0 5h0m0 7h0m0 1h0m0 1h0m1-17h0m0 6h0m0 1h0m0 3h0m0 5h0m0 2h0m0 1h0m0 2h0m0 1h0m1-30h0m0 12h0m0 5h0m0 5h0m0 3h0m0 1h0m1-77h0m0 50h0m0 17h0m0 2h0m0 2h0m0 10h0m1-57h0m0 33h0m0 11h0m0 6h0m1-31h0m0 6h0m0 8h0m0 7h0m0 1h0m1-7h0m0 7h0m0 1h0m0 4h0m1-31h0m0 13h0m0 9h0m0 7h0m0 9h0m1-42h0m0 20h0m0 12h0m0 2h0m0 5h0m0 1h0m0 4h0m1-31h0m0 5h0m0 3h0m0 9h0m1-25h0m0 17h0m0 8h0m0 8h0m0 3h0m0 1h0m0 2h0m1-57h0m0 20h0m0 2h0m0 21h0m0 2h0m0 3h0m1-14h0m0 20h0m1-22h0m0 2h0m0 6h0m0 9h0m1-23h0m0 12h0m0 15h0m0 2h0m1-22h0m0 4h0m1 6h0m0 6h0m0 7h0m0 5h0m1-24h0m0 23h0m0 1h0m1-10h0m0 6h0m0 1h0m1-58h0m0 53h0m0 1h0m1-6h0m0 2h0m1-5h0m1 2h0m0 1h0m0 1h0m0 3h0m0 1h0m0 2h0m0 3h0m0 1h0m1-12h0m0 4h0m0 4h0m0 6h0m1-14h0m0 1h0m0 8h0m0 3h0m1-16h0m0 6h0m0 13h0m1-9h0m1 6h0m1-2h0m0 3h0m1 1h0m1 0h0m7-5h0m13-25h0m15 3h0m8-37h0" stroke="#984ea3"/><path d="M661 225h0m1-2h0m0 1h0m0 1h0m1-4h0m0 1h0m0 1h0m0 1h0m1-4h0m0 3h0m1-4h0m0 1h0m1-5h0m0 4h0m1-6h0m0 2h0m0 1h0m0 1h0m0 1h0m0 2h0m0 1h0m0 1h0m1-11h0m0 1h0m0 1h0m0 3h0m0 2h0m0 1h0m0 1h0m1-17h0m0 2h0m0 6h0m1-1h0m0 3h0m0 1h0m0 3h0m1-12h0m0 5h0m0 1h0m0 3h0m1-7h0m0 2h0m0 1h0m0 2h0m1-9h0m0 3h0m0 1h0m0 3h0m0 1h0m1 4h0m1-9h0m1-9h0m0 1h0m0 1h0m0 1h0m0 1h0m0 4h0m0 2h0m0 5h0m1-17h0m0 2h0m0 5h0m0 1h0m0 5h0m1-22h0m0 10h0m0 6h0m0 7h0m1-15h0m0 5h0m1-10h0m0 7h0m0 1h0m0 6h0m1-13h0m0 4h0m0 8h0m0 8h0m1-24h0m0 2h0m0 1h0m0 5h0m0 8h0m1-2h0m1 6h0m1-30h0m0 6h0m0 2h0m0 1h0m1-23h0m0 11h0m0 3h0m0 5h0m0 12h0m0 8h0m0 1h0m0 3h0m1-68h0m0 28h0m0 8h0m0 8h0m0 10h0m0 3h0m0 8h0m0 1h0m1-21h0m0 8h0m0 11h0m1-36h0m0 10h0m0 12h0m0 13h0m1-29h0m0 1h0m0 3h0m1-4h0m0 6h0m0 25h0m1-34h0m0 9h0m0 34h0m1-52h0m0 2h0m0 2h0m0 1h0m0 25h0m0 17h0m1-40h0m0 4h0m0 25h0m0 2h0m0 11h0m1-43h0m0 3h0m0 12h0m0 2h0m1-22h0m0 10h0m0 29h0m1-43h0m0 4h0m0 13h0m0 5h0m0 25h0m1-44h0m0 2h0m0 20h0m0 8h0m1-40h0m0 6h0m0 1h0m0 6h0m0 4h0m0 6h0m1-15h0m0 16h0m1-35h0m0 15h0m0 1h0m0 5h0m0 20h0m1 23h0m1-19h0m0 9h0m1-45h0m0 12h0m0 16h0m1-27h0m0 30h0m1 0h0m3-33h0m0 1h0m0 16h0m3-11h0m3 1h0m2-7h0" stroke="#e42a2e"/><path d="M628 208h0m9 5h0" stroke="#e41a1c"/><path d="M630 218h0m5-60h0m4 57h0m2-11h0m1 9h0m10-2h0m1 5h0m1-7h0m14 5h0m11-20h0" stroke="#4daf4a"/><path d="M630 158h0m0 49h0m2-12h0m4-63h0m0 53h0m0 13h0m0 9h0m1-12h0m0 2h0m0 16h0m1-28h0m0 4h0m1 0h0m1 2h0m0 5h0m3-10h0m1 22h0m1-14h0m1 2h0m1-3h0m0 17h0m2-9h0m0 19h0m1 3h0m6-7h0m1 0h0m0 2h0m0 3h0m1-6h0m4 9h0m1-2h0m1-1h0m1-4h0m0 3h0m0 1h0m1-9h0m0 3h0m0 2h0m0 2h0m1-1h0m2-14h0m0 10h0m3-12h0m0 3h0m0 3h0m1 1h0m2-11h0m1 13h0m1-18h0m0 14h0m4-16h0m1-8h0m1-6h0m0 28h0m1-27h0m1 14h0m0 5h0m3-2h0m1-24h0m0 14h0m2-10h0m1-20h0m6-11h0m0 36h0m1-1h0m5-36h0m0 18h0m4-4h0m2-25h0m11 16h0m6-54h0m10-33h0m2-10h0" stroke="#377eb8"/><path d="M698 133h0m3-19h0m0 16h0m0 3h0m1 9h0m1-15h0m1 4h0m0 5h0m0 3h0m1-22h0m0 19h0m0 4h0m1 0h0m1-29h0m0 4h0m0 7h0m0 8h0m1-6h0m1-9h0m0 4h0m1 17h0m1-79h0m0 36h0m0 11h0m0 18h0m1-20h0m0 2h0m0 1h0m0 13h0m3-3h0m0 13h0m1-30h0m0 38h0m1-11h0m0 4h0m1-20h0m0 1h0m0 9h0m1-39h0m2 26h0m0 5h0m1-5h0m0 10h0m0 1h0m0 1h0m1-34h0m1-3h0m0 9h0m0 18h0m0 7h0m1-18h0m0 14h0m0 2h0m2-21h0m0 7h0m1-45h0m1 15h0m0 14h0m1-18h0m0 39h0m1-28h0m1-13h0m0 19h0m0 26h0m1-51h0m0 39h0m1 4h0m4-56h0m0 17h0m0 18h0m1-3h0m2-12h0m0 12h0m1-32h0m1 6h0m1-6h0m0 26h0m0 38h0m3-25h0m0 5h0m1-40h0m2 2h0m0 9h0m9-20h0" stroke="#e8474a"/><path d="M627 213h0m0 1h0m0 5h0m1-68h0m0 41h0m0 2h0m0 9h0m0 3h0m0 5h0m0 1h0m0 1h0m0 1h0m1-18h0m0 10h0m0 3h0m0 7h0m0 2h0m1-9h0m0 5h0m0 3h0m0 2h0m1-105h0m0 68h0m0 12h0m0 7h0m0 3h0m0 6h0m0 2h0m0 2h0m1-22h0m0 8h0m0 8h0m0 4h0m1-10h0m0 10h0m0 1h0m0 5h0m1-112h0m0 77h0m0 3h0m0 8h0m0 4h0m0 2h0m0 1h0m0 13h0m1-17h0m0 5h0m0 1h0m0 1h0m0 3h0m0 3h0m0 3h0m0 7h0m1-10h0m0 1h0m0 6h0m0 3h0m0 1h0m1-20h0m0 2h0m0 4h0m0 12h0m1-19h0m0 13h0m0 1h0m0 2h0m1-17h0m0 13h0m0 3h0m0 1h0m0 5h0m1-18h0m0 16h0m1-9h0m0 1h0m0 10h0m1-24h0m0 1h0m0 1h0m0 3h0m0 6h0m0 4h0m0 7h0m1-23h0m0 4h0m0 11h0m1-10h0m0 8h0m0 1h0m1 12h0m1-5h0m0 3h0m1-42h0m0 29h0m0 3h0m0 12h0m1-27h0m0 2h0m0 2h0m0 2h0m0 3h0m0 6h0m0 3h0m0 10h0m3-20h0m0 1h0m0 10h0m0 3h0m0 3h0m1-7h0m0 2h0m0 3h0m1-6h0m0 1h0m0 1h0m0 4h0m0 3h0m3-4h0m0 3h0m1-7h0m0 5h0m0 5h0m1-7h0m0 2h0m0 4h0m0 2h0m1-4h0m1 2h0m0 2h0m1 0h0m0 1h0m7-12h0m4-9h0m3-4h0m10 0h0m10-10h0m5-41h0" stroke="#984ea3"/><path d="M661 225h0m1-2h0m0 1h0m0 1h0m1-3h0m0 1h0m1-3h0m0 1h0m0 1h0m1-4h0m0 1h0m0 1h0m0 1h0m1-6h0m0 1h0m0 1h0m0 1h0m0 1h0m0 1h0m0 1h0m1-8h0m0 1h0m0 2h0m0 1h0m0 1h0m0 1h0m0 2h0m1-8h0m0 3h0m0 1h0m0 1h0m1-10h0m0 3h0m0 2h0m0 1h0m0 7h0m1-11h0m0 1h0m0 6h0m1-13h0m0 5h0m0 3h0m0 3h0m1-12h0m0 3h0m0 1h0m0 3h0m0 4h0m0 2h0m1-14h0m0 5h0m0 7h0m1-17h0m0 2h0m0 13h0m0 2h0m1-18h0m0 1h0m0 3h0m0 1h0m0 4h0m0 3h0m1-12h0m0 5h0m0 1h0m0 8h0m1-24h0m0 4h0m0 10h0m0 2h0m0 1h0m0 1h0m1-4h0m0 10h0m1-15h0m0 3h0m2-8h0m0 6h0m1-12h0m0 2h0m0 5h0m0 9h0m0 10h0m1-27h0m0 8h0m0 2h0m0 18h0m1-32h0m0 4h0m0 1h0m0 3h0m1-15h0m0 4h0m0 8h0m0 17h0m0 12h0m1-43h0m0 8h0m0 2h0m1 3h0m0 2h0m0 8h0m0 8h0m0 4h0m1-50h0m1 12h0m0 7h0m0 1h0m0 1h0m0 17h0m0 3h0m1-32h0m0 2h0m0 6h0m0 9h0m0 1h0m0 3h0m1-20h0m0 31h0m0 2h0m1-37h0m0 10h0m0 2h0m0 37h0m1-28h0m0 13h0m0 9h0m1-57h0m1 1h0m0 4h0m0 13h0m0 4h0m0 3h0m0 12h0m1-31h0m0 1h0m0 12h0m0 5h0m0 1h0m0 27h0m0 6h0m1-59h0m0 13h0m0 2h0m0 14h0m0 1h0m0 18h0m1-38h0m1-9h0m0 3h0m0 11h0m1-15h0m0 15h0m0 10h0m0 3h0m0 23h0m1-52h0m0 13h0m0 13h0m0 6h0m0 7h0m1-32h0m0 51h0m1-58h0m1 2h0m0 15h0m0 42h0m1-52h0m0 28h0m1-25h0m0 14h0m0 11h0m1 1h0m0 1h0m1-29h0m8 55h0m4-61h0" stroke="#e42a2e"/><path d="M629 201h0m1 0h0m16 4h0" stroke="#e41a1c"/><path d="M627 157h0m0 59h0m7-22h0m2 21h0m1-5h0m5 3h0m1-24h0m5 31h0m4-13h0m3 5h0m1 5h0m3 2h0m22-5h0m19-29h0m4-22h0" stroke="#4daf4a"/><path d="M627 207h0m0 7h0m1-58h0m0 33h0m0 14h0m3 3h0m0 1h0m0 11h0m0 1h0m1-21h0m0 15h0m0 5h0m2-23h0m0 4h0m0 4h0m0 13h0m2 0h0m1-8h0m3-29h0m0 2h0m1 17h0m1-12h0m1 1h0m1 12h0m1-15h0m4-4h0m0 28h0m2-8h0m0 8h0m1 5h0m1-6h0m1 2h0m1-22h0m0 25h0m2 3h0m0 3h0m3 3h0m1 4h0m1-1h0m1-4h0m0 2h0m2-6h0m0 2h0m0 2h0m1-4h0m1-1h0m0 1h0m0 1h0m1-4h0m1-10h0m0 4h0m1-1h0m0 2h0m3-11h0m0 1h0m0 2h0m0 7h0m0 2h0m0 2h0m2-13h0m1-4h0m0 5h0m10-21h0m2-14h0m1 2h0m2 39h0m1-1h0m2-19h0m7-47h0m9 13h0m2-21h0m7-52h0m20 25h0m5-19h0" stroke="#377eb8"/><path d="M699 129h0m5-5h0m1 15h0m2-36h0m0 12h0m0 22h0m1-18h0m1 0h0m3-41h0m0 33h0m0 5h0m1-53h0m1 27h0m0 28h0m1-5h0m0 26h0m2-35h0m0 21h0m0 9h0m1-71h0m0 34h0m0 12h0m0 18h0m0 9h0m1-60h0m0 3h0m0 10h0m0 9h0m0 4h0m0 22h0m3-57h0m0 23h0m0 14h0m1-17h0m1 6h0m0 42h0m1-62h0m1-18h0m0 60h0m0 2h0m1-63h0m0 27h0m0 3h0m2 16h0m0 1h0m0 12h0m3-38h0m0 2h0m0 2h0m1-19h0m0 30h0m1-36h0m0 17h0m0 18h0m3-17h0m1 40h0m0 6h0m1-63h0m0 26h0m0 40h0m1-51h0m1-14h0m0 20h0m2-3h0m0 1h0m0 11h0m2-25h0m1-17h0m1 34h0m2 3h0m1 37h0m1-55h0m0 15h0m2-31h0m2 30h0m5-5h0" stroke="#e8474a"/><path d="M627 207h0m0 7h0m1-9h0m0 2h0m0 3h0m0 1h0m0 1h0m0 3h0m0 1h0m0 1h0m1-30h0m0 5h0m0 4h0m0 3h0m0 6h0m0 2h0m0 4h0m0 1h0m0 3h0m0 2h0m1-18h0m0 1h0m0 2h0m0 2h0m0 3h0m0 1h0m0 2h0m0 5h0m1-25h0m0 1h0m0 5h0m0 1h0m0 17h0m0 4h0m1 1h0m1-24h0m0 6h0m0 4h0m0 2h0m0 6h0m1-33h0m0 18h0m0 7h0m0 1h0m0 8h0m0 2h0m1-36h0m0 15h0m1-16h0m0 19h0m0 14h0m0 7h0m1-34h0m0 19h0m0 6h0m0 4h0m0 7h0m1-23h0m0 8h0m0 7h0m0 4h0m0 1h0m1-38h0m0 12h0m0 6h0m0 4h0m0 5h0m0 1h0m0 4h0m1-33h0m0 31h0m0 6h0m1-22h0m0 4h0m0 9h0m0 6h0m0 3h0m0 3h0m1-27h0m0 4h0m0 6h0m0 5h0m0 9h0m1-26h0m0 4h0m0 3h0m0 4h0m0 2h0m0 2h0m0 7h0m0 7h0m0 2h0m1-36h0m0 14h0m1 0h0m0 15h0m1 1h0m1-1h0m0 1h0m0 6h0m1-19h0m0 7h0m0 2h0m0 1h0m0 3h0m1-14h0m0 2h0m0 4h0m0 2h0m0 5h0m1-7h0m0 2h0m0 2h0m0 5h0m0 2h0m0 4h0m1-6h0m0 3h0m0 2h0m0 1h0m1-3h0m1-11h0m0 1h0m0 1h0m0 3h0m0 10h0m1-8h0m0 7h0m1 0h0m1-8h0m0 4h0m1-5h0m0 3h0m1-59h0m0 59h0m0 3h0m0 1h0m0 4h0m1-28h0m1 28h0m1 0h0m0 1h0m1-2h0m7-13h0m2 3h0m13-34h0m11 20h0" stroke="#984ea3"/><path d="M661 225h0m1-2h0m0 1h0m0 1h0m1-3h0m0 1h0m1-7h0m0 4h0m0 1h0m0 1h0m0 1h0m1-5h0m0 1h0m0 3h0m1-6h0m0 1h0m0 2h0m0 1h0m0 1h0m1-9h0m0 3h0m0 1h0m0 3h0m0 1h0m1-12h0m0 3h0m0 2h0m0 2h0m0 1h0m0 1h0m0 1h0m0 3h0m1-15h0m0 1h0m0 2h0m0 2h0m0 2h0m0 3h0m0 3h0m1-12h0m0 12h0m1-12h0m0 6h0m0 6h0m1-14h0m0 2h0m0 3h0m0 3h0m0 2h0m1-12h0m0 2h0m0 1h0m0 2h0m0 1h0m1-8h0m0 2h0m0 2h0m0 8h0m0 2h0m1-21h0m0 7h0m0 6h0m0 3h0m0 3h0m1-23h0m0 7h0m0 2h0m0 1h0m0 8h0m0 5h0m0 1h0m1-18h0m0 1h0m0 4h0m0 5h0m0 5h0m1-19h0m0 3h0m0 16h0m0 6h0m1-23h0m1-8h0m0 13h0m1-8h0m0 8h0m0 4h0m0 1h0m1-26h0m0 10h0m0 4h0m0 2h0m1-9h0m0 3h0m0 2h0m0 4h0m0 9h0m0 4h0m1-29h0m0 1h0m0 13h0m1-11h0m0 25h0m1-45h0m0 6h0m0 12h0m0 2h0m0 27h0m1-31h0m0 10h0m0 19h0m1-37h0m0 3h0m0 11h0m0 3h0m0 2h0m1 8h0m1-30h0m0 2h0m0 8h0m0 11h0m1-29h0m0 11h0m0 11h0m0 23h0m1-42h0m0 5h0m0 4h0m0 25h0m0 1h0m0 8h0m1-58h0m0 8h0m0 9h0m0 2h0m0 5h0m0 1h0m0 1h0m0 2h0m0 20h0m1-55h0m0 21h0m0 4h0m0 3h0m1 4h0m0 20h0m0 6h0m0 1h0m1-57h0m0 23h0m0 32h0m1-40h0m0 7h0m0 8h0m1-11h0m0 3h0m0 8h0m0 21h0m0 7h0m1-59h0m0 21h0m0 1h0m0 35h0m1-44h0m2 11h0m0 30h0m1-36h0m0 2h0m0 31h0m1-29h0m0 9h0m0 8h0m0 10h0m1-33h0m0 24h0m1-10h0m1 8h0m2-33h0m2 9h0" stroke="#e42a2e"/><path d="M630 213h0m7-22h0" stroke="#e41a1c"/><path d="M629 209h0m14-18h0m4 9h0m4 22h0m19-14h0m6-5h0m4-2h0m7-18h0" stroke="#4daf4a"/><path d="M629 191h0m0 13h0m1-30h0m1 25h0m2 14h0m2-13h0m5 9h0m0 1h0m1 0h0m2-24h0m1 7h0m1-6h0m0 31h0m1-36h0m0 9h0m0 20h0m0 6h0m3-62h0m4 52h0m0 2h0m0 1h0m1-32h0m2 37h0m3 6h0m2 3h0m0 1h0m1-1h0m0 1h0m1-2h0m1-4h0m0 1h0m0 1h0m0 1h0m1-6h0m1 2h0m1-2h0m0 5h0m1-8h0m0 6h0m1-6h0m3-1h0m1-6h0m1-5h0m4-17h0m1 3h0m0 21h0m2-9h0m1-14h0m3-9h0m1-8h0m1 33h0m1-3h0m1-10h0m0 13h0m1-37h0m0 23h0m1-27h0m1 0h0m1 35h0m1-16h0m2-14h0m0 29h0m1-56h0m1 2h0m1 2h0m0 33h0m0 1h0m0 17h0m2-51h0m16-56h0m5 5h0m34-40h0m10 19h0" stroke="#377eb8"/><path d="M701 113h0m0 15h0m1-6h0m1-5h0m0 16h0m0 9h0m2 0h0m1-25h0m0 23h0m0 2h0m2-10h0m0 5h0m1-8h0m0 10h0m1-34h0m1 13h0m1 6h0m0 13h0m1-31h0m0 24h0m2-60h0m0 59h0m1-45h0m0 59h0m1-36h0m0 1h0m0 13h0m0 1h0m1-9h0m0 14h0m1-24h0m0 8h0m0 4h0m0 11h0m1-64h0m0 77h0m1-46h0m0 21h0m0 10h0m2 10h0m1-28h0m1-4h0m1-16h0m0 10h0m0 11h0m0 17h0m1-79h0m0 46h0m0 13h0m1-10h0m0 8h0m1-40h0m0 4h0m1 18h0m1 29h0m1-29h0m2-22h0m0 5h0m0 26h0m2 14h0m1-38h0m0 13h0m0 3h0m1-31h0m0 15h0m1-7h0m2-2h0m0 4h0m0 6h0m0 41h0m1-32h0m0 24h0m4-36h0m0 2h0m1-11h0m0 30h0m2-37h0m2-5h0m0 44h0m1-36h0m0 20h0m1-11h0m1-13h0m4 18h0m0 4h0m3-23h0m0 4h0m2 24h0m2 2h0m8-42h0" stroke="#e8474a"/><path d="M558 180h0m70 20h0m0 8h0m0 1h0m1-15h0m0 5h0m0 2h0m0 3h0m0 5h0m0 4h0m0 3h0m0 1h0m0 2h0m1-18h0m0 2h0m0 2h0m0 3h0m0 5h0m0 3h0m1-33h0m0 17h0m0 1h0m0 3h0m0 3h0m0 3h0m0 1h0m0 1h0m1-13h0m0 1h0m0 11h0m0 2h0m0 2h0m0 4h0m0 1h0m1-33h0m0 8h0m0 4h0m0 3h0m0 6h0m0 4h0m0 1h0m0 1h0m0 4h0m1-20h0m0 2h0m0 2h0m0 1h0m0 1h0m0 6h0m0 10h0m1-33h0m0 1h0m0 1h0m0 2h0m0 4h0m0 9h0m0 5h0m0 2h0m0 5h0m0 4h0m1-22h0m1-6h0m0 1h0m0 1h0m0 2h0m0 5h0m0 10h0m0 6h0m1-23h0m0 3h0m0 10h0m0 2h0m0 7h0m1-24h0m0 17h0m0 3h0m0 1h0m1-30h0m0 12h0m0 13h0m0 10h0m0 2h0m1-23h0m0 1h0m0 1h0m0 6h0m1 5h0m1-17h0m0 16h0m0 9h0m0 3h0m1-23h0m0 11h0m0 1h0m0 5h0m0 5h0m1-23h0m0 4h0m1 3h0m0 14h0m0 1h0m1-26h0m0 5h0m0 4h0m0 11h0m1-7h0m0 6h0m0 5h0m1-17h0m0 14h0m1-12h0m0 7h0m0 1h0m0 4h0m1-2h0m1-5h0m0 1h0m0 6h0m0 1h0m1-8h0m0 2h0m0 2h0m0 7h0m1-4h0m0 1h0m0 2h0m0 3h0m1-28h0m0 24h0m0 2h0m0 5h0m1-11h0m0 6h0m0 2h0m1-1h0m0 1h0m0 4h0m1-8h0m0 2h0m0 4h0m1-2h0m1 1h0m0 2h0m0 1h0m1-1h0m0 1h0m0 1h0m2-4h0m2-2h0m0 2h0m2-5h0m0 1h0m13-6h0m24-29h0" stroke="#984ea3"/><path d="M661 225h0m1-2h0m0 1h0m0 1h0m1-3h0m0 1h0m1-3h0m0 1h0m0 1h0m1-6h0m0 1h0m0 1h0m0 1h0m0 1h0m0 1h0m0 1h0m1-6h0m0 1h0m0 1h0m0 1h0m0 2h0m0 2h0m1-9h0m0 1h0m0 1h0m0 2h0m0 1h0m0 1h0m1-13h0m0 9h0m1-5h0m0 2h0m0 1h0m0 1h0m0 4h0m0 1h0m1-11h0m0 1h0m0 2h0m0 3h0m1-9h0m0 3h0m0 1h0m1-2h0m0 4h0m1-4h0m0 1h0m0 6h0m1-15h0m0 2h0m0 4h0m0 5h0m1-11h0m0 1h0m0 1h0m0 6h0m0 2h0m1-16h0m0 2h0m0 6h0m1-4h0m0 3h0m0 4h0m1-12h0m0 1h0m0 3h0m0 1h0m0 1h0m0 1h0m0 15h0m1-27h0m0 2h0m0 9h0m0 8h0m1-16h0m0 4h0m0 6h0m0 4h0m1-19h0m0 9h0m0 10h0m2-30h0m0 14h0m0 2h0m0 23h0m1-15h0m1-21h0m0 2h0m0 2h0m0 1h0m0 5h0m1-15h0m0 8h0m0 3h0m0 5h0m0 10h0m1 6h0m0 4h0m1-39h0m0 20h0m1-28h0m0 1h0m0 4h0m0 6h0m0 2h0m0 18h0m1-19h0m0 14h0m0 3h0m0 3h0m1-41h0m0 13h0m1 11h0m0 1h0m1-13h0m0 4h0m0 7h0m0 6h0m0 23h0m1-46h0m0 15h0m0 4h0m1-32h0m1 25h0m0 4h0m1-31h0m0 14h0m0 34h0m1-32h0m0 3h0m0 28h0m1-31h0m1-19h0m0 27h0m0 10h0m1-13h0m0 5h0m1-26h0m0 2h0m0 27h0m0 1h0m0 2h0m1-23h0m0 7h0m1-11h0m0 21h0m0 22h0m1-22h0m0 7h0m1-20h0m1 15h0m0 5h0m11-26h0m1 53h0" stroke="#e42a2e"/></g>
<line x1="266.5" y1="9" x2="266.5" y2="118.5" stroke="#555555" stroke-width="1.1"/>
<line x1="266" y1="118.5" x2="394.3" y2="118.5" stroke="#777" stroke-width="1.3"/>
<line x1="269.5" y1="118" x2="269.5" y2="120.3" stroke="#555555" stroke-width="0.9"/>
<line x1="300.5" y1="118" x2="300.5" y2="120.3" stroke="#555555" stroke-width="0.9"/>
<line x1="330.5" y1="118" x2="330.5" y2="120.3" stroke="#555555" stroke-width="0.9"/>
<line x1="361.5" y1="118" x2="361.5" y2="120.3" stroke="#555555" stroke-width="0.9"/>
<line x1="391.5" y1="118" x2="391.5" y2="120.3" stroke="#555555" stroke-width="0.9"/>
<line x1="264.3" y1="112.5" x2="266.5" y2="112.5" stroke="#555555" stroke-width="0.9"/>
<line x1="264.3" y1="75.5" x2="266.5" y2="75.5" stroke="#555555" stroke-width="0.9"/>
<line x1="264.3" y1="38.5" x2="266.5" y2="38.5" stroke="#555555" stroke-width="0.9"/>
<text x="269.6" y="127.2" font-size="5.89" fill="#8c8c8c" text-anchor="middle" textLength="6.4" lengthAdjust="spacingAndGlyphs">−2</text>
<text x="300.1" y="127.2" font-size="5.89" fill="#8c8c8c" text-anchor="middle" textLength="6.4" lengthAdjust="spacingAndGlyphs">−1</text>
<text x="330.7" y="127.2" font-size="5.89" fill="#8c8c8c" text-anchor="middle" textLength="3.2" lengthAdjust="spacingAndGlyphs">0</text>
<text x="361.2" y="127.2" font-size="5.89" fill="#8c8c8c" text-anchor="middle" textLength="3.2" lengthAdjust="spacingAndGlyphs">1</text>
<text x="391.8" y="127.2" font-size="5.89" fill="#8c8c8c" text-anchor="middle" textLength="3.2" lengthAdjust="spacingAndGlyphs">2</text>
<text x="262.3" y="114.7" font-size="5.89" fill="#8c8c8c" text-anchor="end" textLength="3.2" lengthAdjust="spacingAndGlyphs">0</text>
<text x="262.3" y="77.6" font-size="5.89" fill="#8c8c8c" text-anchor="end" textLength="3.2" lengthAdjust="spacingAndGlyphs">2</text>
<text x="262.3" y="40.5" font-size="5.89" fill="#8c8c8c" text-anchor="end" textLength="3.2" lengthAdjust="spacingAndGlyphs">4</text>
<text x="251.8" y="72.8" font-size="6.8" fill="#333" text-anchor="middle" font-weight="bold" textLength="58.5" lengthAdjust="spacingAndGlyphs" transform="rotate(-90 251.8 72.8) translate(0 2.2)">Per-CpG −log<tspan font-size="4.5" dy="1.5">10</tspan><tspan dy="-1.5">(FDR)</tspan></text>
<text x="330.7" y="135.7" font-size="6.8" fill="#3a3a3a" font-weight="bold" text-anchor="middle" textLength="115.7" lengthAdjust="spacingAndGlyphs">Per-CpG log<tspan font-size="4.5" dy="1.5">2</tspan><tspan dy="-1.5">(methylation fold change)</tspan></text>
<rect x="280.2" y="0" width="100.8" height="9.8" rx="4.9" fill="#1f70b8"/>
<text x="330.6" y="7.5" font-size="6.99" fill="#ffffff" font-weight="bold" text-anchor="middle" textLength="84" lengthAdjust="spacingAndGlyphs">CpG-overlapping feature</text>
<path d="M402.1 51.2h4.2M404.2 49.1v4.2" stroke="#e41a1c" stroke-width="0.9"/>
<text x="412" y="53.6" font-size="6.26" fill="#505050" textLength="17" lengthAdjust="spacingAndGlyphs">Island</text>
<rect x="402.7" y="56.8" width="3" height="3" fill="#377eb8"/>
<text x="412" y="60.7" font-size="6.26" fill="#505050" textLength="16.7" lengthAdjust="spacingAndGlyphs">Shore</text>
<path d="M402.7 63.9l3 3M402.7 66.9l3 -3" stroke="#4daf4a" stroke-width="0.8"/>
<text x="412" y="67.8" font-size="6.26" fill="#505050" textLength="14.4" lengthAdjust="spacingAndGlyphs">Shelf</text>
<circle cx="404.2" cy="72.5" r="1.4" fill="#984ea3"/>
<text x="412" y="74.9" font-size="6.26" fill="#505050" textLength="26.5" lengthAdjust="spacingAndGlyphs">Inter−CGI</text>
<line x1="491.5" y1="9" x2="491.5" y2="118" stroke="#d3d3cf" stroke-width="0.8"/>
<line x1="520.5" y1="9" x2="520.5" y2="118" stroke="#d3d3cf" stroke-width="0.8"/>
<line x1="550.5" y1="9" x2="550.5" y2="118" stroke="#d3d3cf" stroke-width="0.8"/>
<line x1="580.5" y1="9" x2="580.5" y2="118" stroke="#d3d3cf" stroke-width="0.8"/>
<line x1="609.5" y1="9" x2="609.5" y2="118" stroke="#d3d3cf" stroke-width="0.8"/>
<line x1="489.6" y1="112.5" x2="612.4" y2="112.5" stroke="#d3d3cf" stroke-width="0.8"/>
<line x1="489.6" y1="75.5" x2="612.4" y2="75.5" stroke="#d3d3cf" stroke-width="0.8"/>
<line x1="489.6" y1="38.5" x2="612.4" y2="38.5" stroke="#d3d3cf" stroke-width="0.8"/>
<line x1="550.5" y1="9" x2="550.5" y2="118" stroke="#dc4149" stroke-width="1.0" stroke-dasharray="1 1"/>
<line x1="490" y1="88.5" x2="612.4" y2="88.5" stroke="#dc4149" stroke-width="1.0" stroke-dasharray="1 1"/>
<g transform="scale(.5)" stroke-linecap="round" stroke-width="4" opacity="0.8"><path d="M1071 199h0m1 8h0m7-22h0m9 21h0m2 3h0m3 0h0m4 10h0" stroke="#a8874f"/><path d="M1075 220h0m2-9h0m4-8h0m3-17h0m9 30h0m1-8h0m0 1h0m3 4h0" stroke="#b8894d"/><path d="M1102 223h0m3-4h0m4 0h0m1 0h0m2-16h0m3-6h0m11 9h0m7-59h0" stroke="#e17a3b"/><path d="M1069 210h0m5-71h0m0 81h0m1-6h0m1-10h0m1-13h0m1 17h0m5-10h0m4-5h0m6 17h0m6 11h0" stroke="#e8926a"/><path d="M1102 224h0m3-3h0m3 0h0m2-11h0m2-3h0m5-9h0m2 3h0m1-7h0m3-15h0m7-19h0m2 35h0m7-54h0m5-2h0m2-7h0m0 21h0" stroke="#6fb052"/><path d="M1070 196h0m0 20h0m0 2h0m1-17h0m0 14h0m4-27h0m1-56h0m0 78h0m2 8h0m1-11h0m2-16h0m1 5h0m0 8h0m0 15h0m5 2h0m8-17h0" stroke="#e5956a"/><path d="M1071 216h0m6-30h0m0 10h0m5 14h0m4-12h0m3-43h0m0 59h0m8 2h0m3 8h0m1 1h0m1-1h0m25-69h0m10 8h0m4-41h0m1 60h0m1-34h0" stroke="#7d7fc5"/><path d="M1101 225h0m4-4h0m12-25h0m9-19h0m1 11h0m2 3h0m3-22h0m3-25h0m0 26h0m1-7h0m2 30h0m1-44h0m0 25h0m1-36h0m9-81h0m1 53h0m5-3h0m1 2h0m0 10h0m1-17h0m3-12h0m7 10h0m1-8h0m4 8h0m3-46h0m3 2h0" stroke="#e45da3"/><path d="M1070 210h0m1-6h0m4-6h0m1 6h0m3 14h0m2-14h0m9 3h0m1 7h0m5 0h0m5 11h0m2-2h0m4-2h0m2-10h0m1-9h0m0 3h0m0 8h0m1-8h0m1 2h0m7 4h0m6-30h0m4-17h0m2 13h0m0 18h0m2-25h0m1 20h0m3-46h0m0 12h0m0 25h0m4 2h0m2-13h0m6-19h0" stroke="#72ad4f"/><path d="M1071 210h0m9 5h0m2-34h0m0 38h0m6-4h0m1-14h0m3 12h0m1 1h0m3 6h0m1-2h0m0 6h0m1-4h0m3 4h0m4-7h0m1-2h0m1 2h0m1 4h0m1-10h0m3-3h0m2-14h0m0 6h0m0 15h0m1-4h0m1-13h0m4-3h0m3-3h0m2-13h0m4 9h0m1-19h0m1 35h0m7-26h0m4-16h0m6-26h0m6-21h0m0 2h0m10 0h0" stroke="#e8b23a"/><path d="M1069 209h0m1 2h0m1-11h0m0 13h0m0 5h0m4-4h0m1-11h0m0 9h0m3 4h0m3-6h0m2 4h0m3 8h0m1-20h0m1 1h0m0 4h0m0 5h0m1-3h0m3 4h0m3 7h0m2-1h0m1 2h0m2 3h0m0 1h0m1-1h0m1-2h0m3-6h0m0 4h0m1-4h0m7-17h0m0 11h0m1-10h0m0 2h0m3-9h0m0 18h0m4 0h0m2-11h0m1-11h0m0 10h0m5 3h0m2 4h0m2-24h0m2-24h0m1 4h0m3-20h0m2 1h0m2 26h0m1-52h0m0 60h0" stroke="#e7a92a"/><path d="M1101 225h0m1-2h0m0 1h0m3-6h0m0 1h0m2-5h0m0 5h0m1-11h0m2 4h0m1-8h0m1-1h0m0 2h0m2 2h0m2 7h0m1-17h0m2-1h0m0 5h0m1 4h0m4-29h0m1-8h0m5 3h0m6-31h0m0 21h0m0 2h0m2 34h0m1-55h0m1 16h0m1 15h0m0 1h0m2 5h0m1-37h0m7-49h0m0 18h0m5-48h0m0 62h0m1-46h0m0 24h0m0 8h0m6 0h0m1-56h0m0 41h0m0 11h0m1-15h0m1-38h0m1 59h0m3-53h0m4 5h0m5-1h0m0 12h0m8 21h0m3-41h0m2 18h0m3 3h0" stroke="#e5358c"/><path d="M1000 180h0m68 27h0m1-1h0m0 12h0m1-19h0m0 10h0m1 7h0m1-102h0m1 91h0m2-99h0m0 88h0m1 1h0m0 16h0m7 1h0m0 7h0m3-2h0m2 4h0m1-1h0m2-4h0m1-3h0m2 7h0m1-8h0m6 13h0m1-2h0m0 1h0m2-5h0m1 0h0m1-8h0m0 7h0m2-12h0m0 7h0m1-1h0m0 2h0m0 5h0m1-15h0m0 2h0m0 1h0m0 7h0m1-6h0m1-10h0m0 9h0m1 7h0m1-8h0m0 2h0m2-6h0m1-7h0m3-4h0m1-8h0m3 0h0m1-1h0m3 18h0m1-32h0m2-2h0m3 2h0m1 3h0m1-15h0m0 47h0m2-53h0m0 18h0m5-5h0m1-27h0m1 44h0m4-62h0m5-10h0m0 31h0m1-1h0m2-35h0m3 15h0m10-22h0m2-3h0m3-40h0m2 17h0m3 9h0" stroke="#35a58d"/><path d="M1069 208h0m1 0h0m0 8h0m2-8h0m0 1h0m1 1h0m0 3h0m1-30h0m1 23h0m2-6h0m0 13h0m3-9h0m0 12h0m1-5h0m1 4h0m3-16h0m1 6h0m1-3h0m0 5h0m3 11h0m3 4h0m1-13h0m0 6h0m1-8h0m0 16h0m2-5h0m0 2h0m1-4h0m0 5h0m1 0h0m0 1h0m1-1h0m0 4h0m1 0h0m1-2h0m0 1h0m1-2h0m0 1h0m1-5h0m0 5h0m1-7h0m0 4h0m1-5h0m0 2h0m3-4h0m1-7h0m0 9h0m2-15h0m0 6h0m0 7h0m1-2h0m2-12h0m4 9h0m4-29h0m1 27h0m1-21h0m2-15h0m0 12h0m0 16h0m1-2h0m4-32h0m0 7h0m0 1h0m2-20h0m0 32h0m0 14h0m1 7h0m1-30h0m1-33h0m0 18h0m0 39h0m3-45h0m0 40h0m1-30h0m4-42h0m1 10h0m4 5h0m8 10h0m1-41h0m5 9h0m12 3h0m6-58h0" stroke="#2e9f6e"/><path d="M1069 210h0m0 6h0m1-10h0m0 3h0m1-7h0m0 8h0m0 1h0m1-10h0m0 4h0m1-6h0m1 0h0m1-19h0m1 37h0m1-23h0m0 27h0m1-36h0m0 25h0m1 11h0m2-38h0m0 33h0m1 0h0m1-15h0m0 10h0m0 2h0m1-29h0m1 17h0m1 16h0m2-3h0m1 1h0m2 7h0m1-13h0m0 4h0m1-6h0m0 4h0m1-2h0m4 10h0m0 3h0m1-26h0m1 26h0m0 2h0m1 1h0m1-1h0m2-4h0m0 1h0m1-5h0m1 3h0m1-6h0m1-2h0m2-7h0m0 8h0m0 5h0m2-10h0m0 6h0m1-7h0m0 5h0m1-9h0m1-4h0m0 9h0m1-10h0m0 2h0m0 3h0m2-8h0m1 5h0m1-9h0m0 24h0m2-11h0m2-27h0m1 5h0m3 12h0m1-8h0m1-8h0m0 19h0m1-36h0m0 11h0m0 33h0m2-39h0m1-5h0m1-7h0m0 18h0m3 8h0m5-30h0m4-17h0m5-42h0m3 118h0m1-79h0m1-5h0m0 2h0m7-2h0m1-33h0m2-22h0m2 44h0m1 6h0m1-62h0m5 55h0m2-1h0m4-65h0m2 11h0m5-3h0m1-8h0" stroke="#2f9c87"/><path d="M1069 151h0m3 43h0m0 18h0m2-10h0m1 1h0m0 1h0m16 18h0m4-30h0m6 33h0" stroke="#e5956a"/><path d="M1103 223h0m1-7h0m1 2h0m8-3h0m13-12h0m7-8h0m0 13h0m29-118h0m6-25h0m0 37h0m19-22h0" stroke="#e17a3b"/><path d="M1069 216h0m1 2h0m0 1h0m2-11h0m3-1h0m3 9h0m4-7h0m1-16h0m0 19h0m9 5h0m3 6h0m4-3h0" stroke="#e8926a"/><path d="M1069 204h0m0 4h0m5 12h0m1-68h0m2 26h0m3 18h0m0 12h0m0 4h0m2-10h0m2-9h0m0 5h0m5 22h0m8 2h0" stroke="#a8874f"/><path d="M1069 210h0m2 4h0m5-34h0m1 27h0m2-9h0m2-7h0m3 17h0m8 7h0m1 1h0m10 7h0m4-7h0m9-18h0m13-32h0m1 9h0m9-4h0m23-36h0" stroke="#7d7fc5"/><path d="M1068 214h0m1 5h0m1-2h0m4-4h0m2-2h0m3-4h0m1-28h0m4 42h0m2-27h0m2 18h0m4 7h0m0 1h0m2-7h0m4 5h0m0 4h0m1-3h0m1 3h0m1 2h0" stroke="#b8894d"/><path d="M1102 224h0m1-2h0m1-2h0m1-4h0m0 5h0m3-10h0m2-1h0m1-3h0m2 8h0m1-17h0m1 5h0m2 14h0m4-28h0m0 2h0m1 2h0m3-20h0m2 8h0m1 20h0m2-48h0m5 13h0m4 11h0m11-61h0m14 1h0" stroke="#6fb052"/><path d="M1102 224h0m2-3h0m2 2h0m4-6h0m5-9h0m1-14h0m4-3h0m5-3h0m1-5h0m6-9h0m0 31h0m12-88h0m2-6h0m1 18h0m4-23h0m5 3h0m1-11h0m7-27h0m0 15h0m1-5h0m2 20h0m2-2h0m1-37h0m5 7h0m4-2h0m1 7h0m0 11h0m12-9h0m3-4h0" stroke="#e45da3"/><path d="M1070 205h0m2 4h0m0 5h0m2-12h0m0 8h0m1-3h0m3 7h0m3-16h0m1 0h0m1 2h0m5-2h0m0 6h0m4 14h0m0 1h0m1-9h0m1-1h0m7 16h0m1-2h0m3-6h0m0 3h0m2-6h0m2-6h0m0 8h0m1-5h0m3-10h0m2-1h0m7 0h0m0 14h0m3-34h0m0 22h0m0 6h0m3-45h0m1 1h0m15-22h0m0 36h0m11-55h0" stroke="#e8b23a"/><path d="M1068 219h0m1-6h0m2 3h0m1-2h0m6-23h0m3 5h0m5 24h0m3-6h0m0 1h0m12 10h0m1-1h0m4-7h0m0 4h0m2-10h0m0 3h0m1 5h0m2-9h0m0 2h0m2-6h0m3-6h0m0 8h0m9-27h0m2-17h0m2 12h0m2-2h0m3-5h0m2-10h0m1-10h0m0 7h0m0 3h0m1-12h0m2-2h0m5-30h0m12 0h0" stroke="#72ad4f"/><path d="M1068 216h0m1-11h0m1 2h0m0 5h0m1-54h0m3 55h0m1-31h0m2 19h0m0 12h0m7-26h0m0 8h0m4 18h0m2-2h0m10 12h0m1 2h0m1-2h0m0 1h0m1-2h0m1-2h0m1-3h0m0 1h0m0 1h0m0 1h0m0 2h0m1-7h0m0 4h0m2-6h0m1-10h0m7-2h0m1 5h0m1-12h0m5-11h0m2-22h0m1 4h0m1 4h0m1 4h0m0 3h0m1 18h0m1-36h0m2 18h0m1-4h0m4 19h0m5-44h0m0 57h0m2-47h0m2-27h0m2 16h0m1 5h0m3-10h0m7-48h0m17-12h0m11-31h0m0 67h0" stroke="#2e9f6e"/><path d="M1101 225h0m1-1h0m1-2h0m3-6h0m0 3h0m9-22h0m2-3h0m1 0h0m0 5h0m0 1h0m3 2h0m3-30h0m0 9h0m1-8h0m1 21h0m0 8h0m3-15h0m5 7h0m1-29h0m1-27h0m4 4h0m0 34h0m3-40h0m1 44h0m1-43h0m2 8h0m3-41h0m1-31h0m0 32h0m4 20h0m1-17h0m1-19h0m0 8h0m1-35h0m0 33h0m0 44h0m7-55h0m3 20h0m1-21h0m1 25h0m1-54h0m0 13h0m1 6h0m2 16h0m1-17h0m2-14h0m7 0h0m2-7h0m1 8h0m7 4h0m1 5h0m3-19h0m0 4h0" stroke="#e5358c"/><path d="M1070 187h0m0 18h0m1-6h0m0 9h0m1-4h0m0 3h0m2-18h0m0 11h0m2 13h0m2 0h0m1-15h0m1-17h0m0 11h0m6 19h0m1 2h0m2-16h0m0 22h0m1-3h0m1-4h0m1-5h0m1 5h0m1 5h0m0 3h0m1-10h0m3 12h0m2 2h0m1 1h0m1-1h0m2-4h0m1-4h0m1 3h0m1-4h0m0 1h0m0 3h0m2-8h0m0 2h0m4-5h0m0 1h0m0 5h0m3-12h0m0 6h0m1-6h0m5-25h0m3 28h0m3-43h0m0 25h0m1-11h0m1 29h0m2-16h0m3-48h0m4 12h0m3-14h0m9-15h0m2 4h0" stroke="#e7a92a"/><path d="M1068 205h0m1 2h0m1 9h0m1-9h0m0 3h0m1-4h0m0 7h0m0 6h0m1-27h0m2 4h0m0 8h0m0 12h0m2-37h0m0 26h0m2 3h0m1 1h0m0 9h0m2-21h0m2-10h0m0 12h0m0 2h0m1-2h0m2-1h0m1-5h0m2 17h0m2-17h0m1 25h0m0 3h0m3-9h0m0 6h0m1-2h0m4 9h0m2-2h0m1-4h0m0 1h0m2-9h0m0 6h0m0 2h0m1-3h0m0 2h0m1-4h0m2-8h0m0 3h0m0 1h0m1-8h0m0 12h0m1-4h0m4-20h0m0 6h0m2 13h0m2-24h0m2-7h0m1 21h0m1-15h0m2-6h0m0 23h0m2-8h0m2 10h0m1-33h0m4 5h0m1 19h0m2-28h0m1-53h0m3 47h0m2 17h0m2-74h0m2 29h0m2-8h0m3 10h0m2-12h0m1 5h0m3-16h0m3-30h0m1 21h0m6-25h0m7-1h0m4 27h0m3-60h0" stroke="#35a58d"/><path d="M1068 157h0m0 56h0m0 1h0m1-14h0m1 13h0m0 6h0m1-2h0m1-2h0m1-20h0m0 10h0m0 3h0m1-2h0m0 7h0m1-27h0m0 11h0m2 18h0m1-18h0m2 2h0m0 11h0m0 6h0m3-20h0m2-12h0m1 21h0m4-44h0m1 43h0m2 14h0m1-1h0m1-30h0m1 29h0m4 6h0m1 1h0m0 2h0m1-2h0m0 1h0m2-4h0m0 1h0m0 1h0m1-6h0m0 1h0m0 2h0m0 2h0m2-8h0m0 6h0m1-6h0m0 4h0m0 3h0m1-15h0m0 11h0m3-12h0m0 2h0m0 3h0m2-13h0m0 10h0m1 7h0m1-13h0m0 5h0m1-13h0m1 6h0m1 5h0m1-13h0m3-15h0m2 3h0m0 3h0m1-44h0m0 47h0m0 21h0m1-33h0m2 10h0m1-2h0m2-10h0m1-3h0m4 5h0m5-12h0m0 32h0m5-58h0m6-5h0m1 7h0m0 7h0m7-59h0m4 15h0m5-24h0m0 7h0m11-13h0m8-14h0m17 1h0" stroke="#2f9c87"/><path d="M1068 208h0m4 4h0m6 7h0m2-11h0m0 11h0m3-22h0m4-19h0m0 4h0m0 28h0" stroke="#a8874f"/><path d="M1072 212h0m3-3h0m2-14h0m1 11h0m3 13h0m2-26h0m2-6h0m0 14h0m8 8h0" stroke="#e8926a"/><path d="M1102 223h0m1-1h0m0 1h0m3-5h0m1-3h0m8-16h0m7-22h0m1 29h0m9-50h0m6 17h0m31-89h0" stroke="#e17a3b"/><path d="M1069 203h0m1-2h0m0 12h0m2 2h0m0 3h0m0 1h0m3-16h0m3 10h0m1-33h0m3 17h0m7 11h0m4 1h0m3 8h0" stroke="#b8894d"/><path d="M1102 223h0m0 1h0m3-6h0m4-11h0m3 5h0m1 1h0m4-15h0m9-5h0m4-28h0m2-11h0m7-21h0m3 25h0m1-34h0m7 27h0m2-33h0" stroke="#6fb052"/><path d="M1068 214h0m1-3h0m0 3h0m1-5h0m10 3h0m2-29h0m1 35h0m1-18h0m3 15h0m4 6h0m1-13h0m0 6h0m1-6h0m0 4h0m0 2h0m6 6h0" stroke="#e5956a"/><path d="M1070 191h0m2 13h0m0 13h0m4-28h0m6 32h0m4-4h0m5-11h0m7 18h0m6-3h0m2-5h0m9-15h0m4-12h0m12-21h0m2-29h0m4-6h0m9-14h0m1 20h0" stroke="#7d7fc5"/><path d="M1102 224h0m2-4h0m3-8h0m2-1h0m4-3h0m18 2h0m3-11h0m6 4h0m14-110h0m3 20h0m5-55h0m2 10h0m1 39h0m6-45h0m2-3h0m2 2h0m2 15h0m4 32h0m7-46h0m21-25h0" stroke="#e45da3"/><path d="M1073 213h0m1-5h0m0 5h0m4-17h0m2 22h0m1-8h0m2-9h0m5 10h0m16 5h0m1 3h0m1 1h0m2-7h0m1-10h0m1 10h0m6-18h0m5-6h0m1 5h0m1-10h0m3-1h0m3-11h0m0 3h0m4 3h0m0 1h0m2 17h0m3-67h0m1 17h0m4 24h0m7-52h0m5 2h0m5-4h0" stroke="#72ad4f"/><path d="M1069 189h0m0 19h0m0 4h0m0 1h0m2-39h0m0 25h0m0 20h0m1-22h0m1 15h0m0 1h0m1-26h0m0 8h0m1 3h0m1 5h0m1-6h0m2 18h0m1-28h0m0 25h0m3-1h0m5 1h0m1-3h0m1-29h0m1 23h0m2 5h0m0 15h0m1-1h0m1 0h0m2-1h0m4 4h0m4-9h0m0 4h0m2 0h0m1-7h0m0 4h0m4-15h0m5-16h0m4-1h0m1 3h0m6-21h0m0 8h0m2 23h0m1-37h0m5-5h0m11 1h0" stroke="#e8b23a"/><path d="M1068 213h0m1-4h0m0 6h0m1-11h0m1-2h0m2 10h0m0 4h0m0 2h0m1 0h0m1-16h0m2 8h0m0 6h0m1-42h0m1 18h0m0 22h0m2-4h0m2-8h0m1-3h0m1 19h0m1-14h0m2 13h0m1-4h0m1-13h0m0 23h0m2-10h0m2-4h0m3 14h0m0 1h0m1-67h0m0 61h0m4 6h0m10-18h0m2-5h0m2-5h0m0 1h0m1 4h0m2-4h0m1 7h0m1-8h0m5-9h0m1 14h0m7-37h0m1-10h0m3-14h0m1 57h0m4-41h0m1-22h0m1 44h0m10-33h0" stroke="#e7a92a"/><path d="M1102 223h0m1-1h0m3-3h0m1 0h0m1-12h0m0 7h0m2 0h0m0 1h0m2-5h0m0 5h0m1-12h0m3 8h0m2-23h0m0 19h0m1-20h0m1 3h0m1 20h0m1-21h0m0 2h0m1-12h0m5 17h0m6-50h0m0 2h0m1 51h0m1-28h0m2-41h0m2 49h0m3-4h0m1-35h0m4-35h0m8-19h0m0 19h0m0 1h0m1-6h0m1 13h0m1 1h0m1-10h0m2-17h0m0 19h0m1-9h0m4 3h0m1-16h0m1-8h0m1-13h0m0 32h0m1-24h0m6-14h0m6-7h0m0 6h0m0 11h0m1 10h0m4-36h0m2 26h0m6-28h0m1 32h0" stroke="#e5358c"/><path d="M1069 201h0m0 14h0m0 1h0m4-21h0m1-32h0m5 49h0m1-33h0m2 16h0m0 11h0m1 1h0m3 13h0m14 4h0m1 1h0m1-1h0m1-1h0m2-3h0m1-6h0m1 2h0m2-6h0m0 5h0m2-8h0m1-1h0m0 3h0m1-12h0m0 6h0m1-3h0m2-6h0m0 16h0m1-3h0m1-23h0m2 26h0m1-24h0m0 8h0m1 13h0m6-36h0m0 4h0m0 10h0m1-13h0m3-7h0m0 17h0m1-18h0m3-4h0m1 1h0m4-19h0m1 3h0m1 17h0m4-43h0m1 17h0m0 9h0m1-56h0m7 24h0m0 21h0m3 14h0m15-41h0m7-23h0m7-7h0m2-14h0" stroke="#2e9f6e"/><path d="M1068 192h0m1 17h0m2-1h0m2 5h0m1-15h0m1-10h0m1-30h0m1 40h0m0 23h0m1-8h0m0 3h0m1-10h0m3-12h0m0 2h0m0 12h0m1-22h0m1 30h0m4-6h0m2-1h0m7 7h0m0 7h0m1-3h0m3 5h0m1-1h0m1-3h0m0 1h0m1-2h0m1-3h0m0 4h0m1-6h0m0 1h0m1-1h0m0 7h0m1-7h0m0 6h0m6-19h0m0 8h0m1-9h0m0 4h0m0 7h0m2-26h0m2 13h0m1-7h0m4-8h0m0 17h0m2-10h0m2-17h0m3-1h0m1-27h0m0 36h0m0 22h0m1-7h0m3-51h0m0 30h0m1-16h0m0 20h0m1-20h0m2-32h0m0 24h0m0 19h0m1 21h0m1-59h0m0 56h0m1-28h0m5-29h0m2-21h0m6-13h0m0 29h0m1-51h0m3 15h0m0 15h0m1 28h0m1-61h0m16 3h0m3-26h0m3 38h0m17-9h0" stroke="#35a58d"/><path d="M1068 214h0m1-3h0m0 5h0m0 1h0m1-25h0m1 25h0m1-11h0m0 8h0m1-12h0m1-7h0m0 6h0m1-10h0m0 9h0m1-2h0m1 5h0m0 4h0m0 2h0m1-11h0m1-4h0m0 6h0m0 15h0m1-6h0m1-48h0m0 44h0m1 2h0m2 3h0m1 4h0m2-4h0m4-4h0m0 2h0m0 12h0m2-13h0m0 11h0m2-6h0m1 3h0m0 2h0m1-4h0m0 2h0m3 7h0m1 2h0m0 1h0m1-2h0m0 1h0m1-2h0m0 1h0m1-1h0m1-4h0m0 3h0m2-7h0m0 1h0m0 3h0m0 3h0m2-8h0m1-4h0m3-4h0m0 1h0m0 6h0m1-18h0m0 11h0m2-9h0m0 6h0m0 11h0m1-3h0m2-28h0m1 4h0m1 0h0m0 14h0m0 2h0m1-12h0m0 1h0m2-19h0m0 20h0m1-24h0m0 13h0m0 15h0m3-31h0m0 9h0m0 1h0m1-1h0m0 7h0m3 8h0m4-11h0m1 11h0m1-34h0m1-17h0m0 15h0m1-42h0m6 61h0m3-50h0m1-15h0m0 23h0m1-67h0m2 50h0m1 39h0m1-31h0m1 30h0m1-73h0m4 9h0m1 28h0m1-2h0m2-59h0m0 26h0m2-18h0m8-18h0m0 17h0m0 18h0m3-37h0m0 20h0m3 8h0m7-24h0" stroke="#2f9c87"/><path d="M1107 217h0m6-6h0m7-8h0m4-6h0m11 2h0m4-85h0m3 44h0m30-69h0m5-38h0m3 22h0" stroke="#e17a3b"/><path d="M1068 207h0m1 2h0m1-10h0m2-16h0m1 17h0m6 13h0m4-23h0m1-5h0m2 11h0m3 12h0m2-8h0m9 23h0" stroke="#e8926a"/><path d="M1070 217h0m2 3h0m3-15h0m4-13h0m2 7h0m0 19h0m3-3h0m4-20h0m0 28h0m4-8h0m3 1h0m3 4h0" stroke="#b8894d"/><path d="M1069 216h0m2-1h0m5-29h0m1 15h0m1 15h0m4 0h0m1-22h0m0 9h0m4 12h0m1 3h0m5-2h0m5 6h0m0 2h0" stroke="#e5956a"/><path d="M1073 198h0m3-11h0m21 31h0m4 7h0m5-13h0m1 4h0m1 0h0m5-16h0m4 0h0m1-6h0m7-18h0m0 17h0m3-26h0m16 13h0m15-56h0" stroke="#7d7fc5"/><path d="M1069 217h0m2-26h0m1 9h0m0 18h0m8-29h0m0 20h0m1-30h0m3 30h0m1-12h0m3 23h0m2-16h0m2 10h0m2-5h0" stroke="#a8874f"/><path d="M1107 220h0m2-5h0m13-15h0m2 13h0m8-18h0m1-10h0m1 10h0m1-23h0m2 4h0m19-66h0m9-65h0m6 45h0m4-32h0m0 27h0m2-30h0m2-11h0m3 0h0m7 30h0m4-23h0m11 18h0" stroke="#e45da3"/><path d="M1102 224h0m2-3h0m1-9h0m0 6h0m2 0h0m1-4h0m0 2h0m0 3h0m1-10h0m8-12h0m1 18h0m2-10h0m1-17h0m0 4h0m5 9h0m4-35h0m2-3h0m7-6h0m1-19h0m1 53h0m2-60h0m13-8h0" stroke="#6fb052"/><path d="M1069 207h0m6-11h0m2 24h0m2-18h0m4-3h0m1 13h0m3-5h0m4 4h0m1-3h0m0 3h0m0 5h0m9 9h0m2-2h0m5-10h0m1 0h0m1-12h0m1 6h0m0 2h0m1-4h0m0 1h0m0 1h0m14-2h0m2-37h0m2 9h0m10-31h0m1-29h0m1 75h0m3-22h0m5-16h0" stroke="#72ad4f"/><path d="M1068 198h0m1 2h0m1 7h0m0 7h0m2-28h0m0 4h0m0 6h0m0 5h0m3-1h0m1 7h0m1 12h0m1-22h0m5 12h0m16 11h0m2 5h0m2-3h0m3-7h0m0 6h0m12-26h0m3-7h0m2-4h0m2-14h0m2 25h0m1-7h0m4-29h0m0 4h0m5 29h0m2-8h0m2-40h0m4 38h0" stroke="#e8b23a"/><path d="M1068 212h0m2-20h0m2-2h0m0 29h0m1-5h0m1 2h0m1-12h0m2 0h0m1-12h0m1-5h0m0 2h0m0 6h0m4 10h0m0 5h0m2-16h0m4 7h0m3 7h0m0 2h0m1-3h0m1 9h0m1 2h0m1 0h0m2-2h0m3 9h0m1-2h0m1-2h0m0 2h0m3-5h0m1-5h0m0 3h0m2-6h0m2-3h0m4 6h0m1-10h0m1-4h0m4-3h0m4-29h0m4-8h0m2 52h0m5-40h0m2 4h0m2-5h0m4-29h0m1-26h0m0 63h0m2-63h0m4 15h0" stroke="#e7a92a"/><path d="M1101 225h0m2-2h0m1-3h0m0 1h0m3-2h0m1-6h0m0 3h0m1-9h0m0 4h0m1-2h0m2 0h0m0 5h0m1-5h0m1-8h0m1-1h0m2-8h0m2-18h0m2 10h0m1 5h0m2-7h0m3-1h0m0 9h0m4 6h0m1-35h0m2 36h0m5-67h0m0 35h0m6-25h0m0 41h0m1-57h0m3-20h0m1-18h0m3-16h0m1 66h0m1-38h0m1 6h0m1-24h0m3-13h0m0 18h0m2 8h0m0 15h0m2-32h0m1 18h0m0 10h0m1-10h0m1-28h0m2-6h0m4 7h0m2 15h0m1 39h0m1-66h0m0 7h0m0 41h0m1-43h0m0 4h0m4 16h0m2 3h0m2-35h0m2 42h0m4-40h0m10 20h0m3-21h0" stroke="#e5358c"/><path d="M1069 156h0m0 47h0m1-7h0m2 18h0m2-15h0m0 14h0m1 7h0m1-25h0m0 3h0m2 11h0m0 5h0m2-19h0m4 26h0m1 1h0m1-18h0m0 15h0m1-19h0m0 18h0m1-31h0m2 22h0m1-7h0m3-24h0m0 37h0m2-1h0m2 1h0m0 1h0m2 5h0m1 4h0m1-2h0m0 1h0m1-2h0m1-2h0m2-6h0m0 4h0m1-2h0m0 2h0m1-5h0m1-8h0m0 4h0m0 5h0m1-2h0m1-6h0m0 10h0m1-8h0m0 2h0m1-5h0m6-16h0m1 10h0m2-19h0m1 7h0m2-25h0m1 23h0m2-10h0m1-16h0m2-4h0m0 22h0m1 17h0m1-34h0m1 5h0m0 6h0m4-10h0m3-29h0m0 14h0m1-19h0m2 21h0m0 4h0m13-16h0m9-34h0m3-23h0m13 15h0" stroke="#35a58d"/><path d="M1070 194h0m0 9h0m0 4h0m1-6h0m0 6h0m1 4h0m1-4h0m1 5h0m1-2h0m3 9h0m1-25h0m0 19h0m2-9h0m0 16h0m1-28h0m1-6h0m0 5h0m1-2h0m0 21h0m2-19h0m0 31h0m1-12h0m0 3h0m3 1h0m0 8h0m2-2h0m1-12h0m0 3h0m1 3h0m6 10h0m1 1h0m2-5h0m0 1h0m0 2h0m1-4h0m1 1h0m1-8h0m0 4h0m0 3h0m2 1h0m1-9h0m1-3h0m0 1h0m0 1h0m0 3h0m2-16h0m2 1h0m1 0h0m0 8h0m3-16h0m1 1h0m0 4h0m1 4h0m3-21h0m0 7h0m3-12h0m0 36h0m1-26h0m1-17h0m1 5h0m0 16h0m1-17h0m3-11h0m0 32h0m2-18h0m1-12h0m0 31h0m1-30h0m1-1h0m2-28h0m0 69h0m2-49h0m1-13h0m0 19h0m4-62h0m0 22h0m1 43h0m10 42h0m18-135h0m0 30h0" stroke="#2e9f6e"/><path d="M1068 214h0m1-20h0m0 10h0m1 0h0m0 1h0m1-23h0m0 13h0m0 25h0m1-2h0m1 1h0m1-28h0m0 3h0m0 7h0m0 1h0m0 5h0m1-3h0m1-6h0m0 12h0m1-25h0m1 8h0m0 24h0m3-19h0m0 15h0m2 0h0m1-4h0m0 11h0m4-21h0m1 2h0m0 13h0m3-7h0m0 12h0m2-4h0m2 3h0m1 2h0m3 4h0m1 1h0m1-1h0m1-3h0m0 2h0m1-4h0m0 3h0m1-3h0m1-2h0m0 2h0m0 2h0m1-6h0m0 1h0m1-1h0m0 1h0m0 2h0m1-14h0m2 5h0m0 3h0m2-5h0m1-6h0m2-11h0m0 3h0m0 10h0m1 1h0m3-18h0m2 2h0m0 6h0m0 6h0m0 5h0m1-27h0m1 0h0m0 2h0m0 3h0m1 18h0m2-15h0m0 4h0m0 6h0m2-30h0m2-5h0m0 4h0m0 13h0m2-12h0m1 14h0m5 5h0m1-26h0m2-12h0m0 24h0m2-16h0m3-18h0m1-3h0m2-41h0m0 9h0m1-24h0m4 6h0m5 33h0m7-34h0m11-13h0m5-1h0m1 19h0m16-11h0" stroke="#2f9c87"/></g>
<line x1="489.5" y1="9" x2="489.5" y2="118.5" stroke="#555555" stroke-width="1.1"/>
<line x1="489.1" y1="118.5" x2="612.4" y2="118.5" stroke="#777" stroke-width="1.3"/>
<line x1="491.5" y1="118" x2="491.5" y2="120.3" stroke="#555555" stroke-width="0.9"/>
<line x1="520.5" y1="118" x2="520.5" y2="120.3" stroke="#555555" stroke-width="0.9"/>
<line x1="550.5" y1="118" x2="550.5" y2="120.3" stroke="#555555" stroke-width="0.9"/>
<line x1="580.5" y1="118" x2="580.5" y2="120.3" stroke="#555555" stroke-width="0.9"/>
<line x1="609.5" y1="118" x2="609.5" y2="120.3" stroke="#555555" stroke-width="0.9"/>
<line x1="487.4" y1="112.5" x2="489.6" y2="112.5" stroke="#555555" stroke-width="0.9"/>
<line x1="487.4" y1="75.5" x2="489.6" y2="75.5" stroke="#555555" stroke-width="0.9"/>
<line x1="487.4" y1="38.5" x2="489.6" y2="38.5" stroke="#555555" stroke-width="0.9"/>
<text x="491.3" y="127.2" font-size="5.89" fill="#8c8c8c" text-anchor="middle" textLength="6.4" lengthAdjust="spacingAndGlyphs">−2</text>
<text x="521" y="127.2" font-size="5.89" fill="#8c8c8c" text-anchor="middle" textLength="6.4" lengthAdjust="spacingAndGlyphs">−1</text>
<text x="550.6" y="127.2" font-size="5.89" fill="#8c8c8c" text-anchor="middle" textLength="3.2" lengthAdjust="spacingAndGlyphs">0</text>
<text x="580.2" y="127.2" font-size="5.89" fill="#8c8c8c" text-anchor="middle" textLength="3.2" lengthAdjust="spacingAndGlyphs">1</text>
<text x="609.9" y="127.2" font-size="5.89" fill="#8c8c8c" text-anchor="middle" textLength="3.2" lengthAdjust="spacingAndGlyphs">2</text>
<text x="485.5" y="114.7" font-size="5.89" fill="#8c8c8c" text-anchor="end" textLength="3.2" lengthAdjust="spacingAndGlyphs">0</text>
<text x="485.5" y="77.6" font-size="5.89" fill="#8c8c8c" text-anchor="end" textLength="3.2" lengthAdjust="spacingAndGlyphs">2</text>
<text x="485.5" y="40.5" font-size="5.89" fill="#8c8c8c" text-anchor="end" textLength="3.2" lengthAdjust="spacingAndGlyphs">4</text>
<text x="474.8" y="72.8" font-size="6.8" fill="#3a3a3a" text-anchor="middle" textLength="58.5" lengthAdjust="spacingAndGlyphs" transform="rotate(-90 474.8 72.8) translate(0 2.2)">Per-CpG −log<tspan font-size="4.5" dy="1.5">10</tspan><tspan dy="-1.5">(FDR)</tspan></text>
<text x="550.6" y="135.7" font-size="6.8" fill="#3a3a3a" font-weight="bold" text-anchor="middle" textLength="115.7" lengthAdjust="spacingAndGlyphs">Per-CpG log<tspan font-size="4.5" dy="1.5">2</tspan><tspan dy="-1.5">(methylation fold change)</tspan></text>
<rect x="507.5" y="0" width="92" height="9.8" rx="4.9" fill="#1f70b8"/>
<text x="553.5" y="7.5" font-size="6.99" fill="#ffffff" font-weight="bold" text-anchor="middle" textLength="80" lengthAdjust="spacingAndGlyphs">CpG-overlapping state</text>
<path d="M624.5 13.5h4.2M626.6 11.4v4.2" stroke="#2e9f6e" stroke-width="0.9"/>
<text x="634" y="15.9" font-size="6.07" fill="#505050" textLength="20.6" lengthAdjust="spacingAndGlyphs">01 TssA</text>
<rect x="625.1" y="18.6" width="3" height="3" fill="#e17a3b"/>
<text x="634" y="22.5" font-size="6.07" fill="#505050" textLength="19" lengthAdjust="spacingAndGlyphs">01 + 02</text>
<path d="M625.1 25.2l3 3M625.1 28.2l3 -3" stroke="#7d7fc5" stroke-width="0.8"/>
<text x="634" y="29.1" font-size="6.07" fill="#505050" textLength="32.3" lengthAdjust="spacingAndGlyphs">02 TssAFlnk</text>
<circle cx="626.6" cy="33.4" r="1.4" fill="#e5358c"/>
<text x="634" y="35.7" font-size="6.07" fill="#505050" textLength="26.2" lengthAdjust="spacingAndGlyphs">03 TxFlnk</text>
<path d="M624.7 40h3.8M626.6 38.1v3.8M625.1 38.5l3 3M625.1 41.5l3 -3" stroke="#72ad4f" stroke-width="0.8"/>
<text x="634" y="42.4" font-size="6.07" fill="#505050" textLength="14.4" lengthAdjust="spacingAndGlyphs">04 Tx</text>
<path d="M626.6 44.8L628.4 48.1L624.8 48.1Z" fill="#e7a92a"/>
<text x="634" y="49" font-size="6.07" fill="#505050" textLength="22.8" lengthAdjust="spacingAndGlyphs">05 TxWk</text>
<path d="M626.6 51.2L628.6 53.2L626.6 55.2L624.6 53.2ZM624.6 53.2h4M626.6 51.2v4" fill="none" stroke="#b8894d" stroke-width="0.8"/>
<text x="634" y="55.6" font-size="6.07" fill="#505050" textLength="22.4" lengthAdjust="spacingAndGlyphs">06 EnhG</text>
<path d="M626.6 58.3L628.1 59.8L626.6 61.3L625.1 59.8Z" fill="#2f9c87"/>
<text x="634" y="62.2" font-size="6.07" fill="#505050" textLength="18.4" lengthAdjust="spacingAndGlyphs">07 Enh</text>
<circle cx="626.6" cy="66.5" r="1.7" fill="none" stroke="#e5956a" stroke-width="0.8"/>
<path d="M624.9 66.5h3.4M626.6 64.8v3.4" stroke="#e5956a" stroke-width="0.7"/>
<text x="634" y="68.8" font-size="6.07" fill="#505050" textLength="33.7" lengthAdjust="spacingAndGlyphs">08 ZNF/Rpts</text>
<path d="M625.1 71.6h3L625.1 74.6h3Z" fill="none" stroke="#8e8bd0" stroke-width="0.7"/>
<text x="634" y="75.5" font-size="6.07" fill="#505050" textLength="17.6" lengthAdjust="spacingAndGlyphs">09 Het</text>
<rect x="625.1" y="78.2" width="3" height="3" fill="none" stroke="#e45da3" stroke-width="0.7"/>
<path d="M625.1 78.2l3 3M625.1 81.2l3 -3" stroke="#e45da3" stroke-width="0.6"/>
<text x="634" y="82.1" font-size="6.07" fill="#505050" textLength="25.6" lengthAdjust="spacingAndGlyphs">10 TssBiv</text>
<rect x="625.1" y="84.8" width="3" height="3" fill="none" stroke="#6fb052" stroke-width="0.7"/>
<path d="M625.1 84.8l3 3M625.1 87.8l3 -3" stroke="#6fb052" stroke-width="0.6"/>
<text x="634" y="88.7" font-size="6.07" fill="#505050" textLength="28.2" lengthAdjust="spacingAndGlyphs">11 BivFlnk</text>
<rect x="625.1" y="91.4" width="3" height="3" fill="none" stroke="#e8b23a" stroke-width="0.7"/>
<text x="634" y="95.3" font-size="6.07" fill="#505050" textLength="27" lengthAdjust="spacingAndGlyphs">12 EnhBiv</text>
<rect x="625.1" y="98.1" width="3" height="3" fill="none" stroke="#a8874f" stroke-width="0.7"/>
<path d="M625.1 98.1l3 3M625.1 101.1l3 -3" stroke="#a8874f" stroke-width="0.6"/>
<text x="634" y="101.9" font-size="6.07" fill="#505050" textLength="28.5" lengthAdjust="spacingAndGlyphs">13 ReprPC</text>
<path d="M626.6 108L628.4 104.7L624.8 104.7Z" fill="none" stroke="#35a58d" stroke-width="0.7"/>
<text x="634" y="108.6" font-size="6.07" fill="#505050" textLength="36.9" lengthAdjust="spacingAndGlyphs">14 ReprPCWk</text>
<path d="M626.6 111L628.4 112.8L626.6 114.6L624.8 112.8Z" fill="none" stroke="#e8926a" stroke-width="0.7"/>
<text x="634" y="115.2" font-size="6.07" fill="#505050" textLength="23.4" lengthAdjust="spacingAndGlyphs">15 Quies</text>
<line x1="57" y1="158.5" x2="132.6" y2="158.5" stroke="#e2e2de" stroke-width="0.8"/>
<line x1="136" y1="158.5" x2="211.6" y2="158.5" stroke="#e2e2de" stroke-width="0.8"/>
<line x1="57" y1="172.5" x2="132.6" y2="172.5" stroke="#e2e2de" stroke-width="0.8"/>
<line x1="136" y1="172.5" x2="211.6" y2="172.5" stroke="#e2e2de" stroke-width="0.8"/>
<line x1="57" y1="186.5" x2="132.6" y2="186.5" stroke="#e2e2de" stroke-width="0.8"/>
<line x1="136" y1="186.5" x2="211.6" y2="186.5" stroke="#e2e2de" stroke-width="0.8"/>
<line x1="57" y1="200.5" x2="132.6" y2="200.5" stroke="#e2e2de" stroke-width="0.8"/>
<line x1="136" y1="200.5" x2="211.6" y2="200.5" stroke="#e2e2de" stroke-width="0.8"/>
<line x1="57" y1="215.5" x2="132.6" y2="215.5" stroke="#e2e2de" stroke-width="0.8"/>
<line x1="136" y1="215.5" x2="211.6" y2="215.5" stroke="#e2e2de" stroke-width="0.8"/>
<line x1="57" y1="229.5" x2="132.6" y2="229.5" stroke="#e2e2de" stroke-width="0.8"/>
<line x1="136" y1="229.5" x2="211.6" y2="229.5" stroke="#e2e2de" stroke-width="0.8"/>
<line x1="57" y1="243.5" x2="132.6" y2="243.5" stroke="#e2e2de" stroke-width="0.8"/>
<line x1="136" y1="243.5" x2="211.6" y2="243.5" stroke="#e2e2de" stroke-width="0.8"/>
<line x1="61.4" y1="158.5" x2="79" y2="158.5" stroke="#8a8585" stroke-width="0.8" opacity="0.4"/>
<path d="M65 158.2 65.5 158.1 66 158 66.4 157.9 66.9 157.7 67.4 157.3 67.9 156.9 68.4 156.4 68.8 155.9 69.3 155.6 69.8 155.5 70.3 155.6 70.9 155.9 71.4 156.4 72 156.9 72.5 157.3 73 157.7 73.6 157.9 74.1 158 74.7 158.1 75.2 158.2 75.2 158.2 74.7 158.3 74.1 158.4 73.6 158.5 73 158.7 72.5 159.1 72 159.5 71.4 160 70.9 160.5 70.3 160.8 69.8 160.9 69.3 160.8 68.8 160.5 68.4 160 67.9 159.5 67.4 159.1 66.9 158.7 66.4 158.5 66 158.4 65.5 158.3 65 158.2Z" fill="#3d3a3a" opacity="0.9"/>
<line x1="69.5" y1="155.4" x2="69.5" y2="161" stroke="#1a1a1a" stroke-width="1.1"/>
<line x1="70.5" y1="155.4" x2="70.5" y2="161" stroke="#4a86c8" stroke-width="1.1"/>
<line x1="139.3" y1="158.5" x2="160" y2="158.5" stroke="#8a8585" stroke-width="0.8" opacity="0.25"/>
<path d="M135.6 158.2 136.5 158.1 137.4 158.1 138.4 158 139.3 157.8 140.3 157.5 141.2 157.1 142.2 156.7 143.1 156.3 144.1 156 145 155.9 146.3 156 147.5 156.3 148.8 156.7 150 157.1 151.3 157.5 152.6 157.8 153.8 158 155.1 158.1 156.3 158.1 157.6 158.2 157.6 158.2 156.3 158.3 155.1 158.3 153.8 158.4 152.6 158.6 151.3 158.9 150 159.3 148.8 159.7 147.5 160.1 146.3 160.4 145 160.4 144.1 160.4 143.1 160.1 142.2 159.7 141.2 159.3 140.3 158.9 139.3 158.6 138.4 158.4 137.4 158.3 136.5 158.3 135.6 158.2Z" fill="#8f8989" opacity="0.45"/>
<path d="M139.3 157.6V158.8M141.3 156.9V159.5M143.3 155.9V160.5M145.4 154.7V161.7M147.4 155.3V161.1M149.4 156.3V160.1M151.4 157.4V159M153.4 157.9V158.5" stroke="#4a4545" stroke-width="0.9" opacity="0.6"/>
<line x1="151.5" y1="155.4" x2="151.5" y2="161" stroke="#f0852d" stroke-width="1.1"/>
<line x1="145.5" y1="155.4" x2="145.5" y2="161" stroke="#1a1a1a" stroke-width="1.1"/>
<line x1="147.5" y1="155.4" x2="147.5" y2="161" stroke="#4a86c8" stroke-width="1.1"/>
<line x1="66.2" y1="172.5" x2="85.4" y2="172.5" stroke="#8a8585" stroke-width="0.8" opacity="0.4"/>
<path d="M70 172.4 70.5 172.4 71.1 172.3 71.6 172.1 72.2 171.9 72.7 171.6 73.2 171.1 73.8 170.6 74.3 170.2 74.9 169.8 75.4 169.7 76 169.8 76.6 170.2 77.2 170.6 77.8 171.1 78.4 171.6 79 171.9 79.6 172.1 80.2 172.3 80.8 172.4 81.4 172.4 81.4 172.5 80.8 172.5 80.2 172.6 79.6 172.7 79 173 78.4 173.3 77.8 173.7 77.2 174.2 76.6 174.7 76 175 75.4 175.1 74.9 175 74.3 174.7 73.8 174.2 73.2 173.7 72.7 173.3 72.2 173 71.6 172.7 71.1 172.6 70.5 172.5 70 172.5Z" fill="#3d3a3a" opacity="0.9"/>
<line x1="76.5" y1="169.6" x2="76.5" y2="175.2" stroke="#f0852d" stroke-width="1.1"/>
<line x1="75.5" y1="169.6" x2="75.5" y2="175.2" stroke="#1a1a1a" stroke-width="1.1"/>
<line x1="85.5" y1="169.6" x2="85.5" y2="175.2" stroke="#4a86c8" stroke-width="1.1"/>
<line x1="141.5" y1="172.5" x2="172" y2="172.5" stroke="#8a8585" stroke-width="0.8" opacity="0.25"/>
<path d="M139 172.4 140.1 172.4 141.2 172.3 142.3 172.2 143.4 172 144.5 171.7 145.6 171.3 146.7 170.9 147.8 170.6 148.9 170.3 150 170.2 151.9 170.3 153.8 170.6 155.7 170.9 157.6 171.3 159.4 171.7 161.3 172 163.2 172.2 165.1 172.3 167 172.4 168.9 172.4 168.9 172.5 167 172.5 165.1 172.6 163.2 172.7 161.3 172.9 159.4 173.2 157.6 173.5 155.7 173.9 153.8 174.3 151.9 174.6 150 174.7 148.9 174.6 147.8 174.3 146.7 173.9 145.6 173.5 144.5 173.2 143.4 172.9 142.3 172.7 141.2 172.6 140.1 172.5 139 172.5Z" fill="#8f8989" opacity="0.45"/>
<path d="M143.5 172V172.9M145.5 171.1V173.7M147.6 169.9V175M149.6 169.2V175.6M151.6 169.8V175.1M153.6 169.8V175M155.6 170.1V174.7M157.7 170.9V173.9M159.7 171.6V173.2M161.7 172.1V172.8" stroke="#4a4545" stroke-width="0.9" opacity="0.6"/>
<line x1="143.5" y1="169.6" x2="143.5" y2="175.2" stroke="#f0852d" stroke-width="1.1"/>
<line x1="150.5" y1="169.6" x2="150.5" y2="175.2" stroke="#1a1a1a" stroke-width="1.1"/>
<line x1="139.5" y1="169.6" x2="139.5" y2="175.2" stroke="#4a86c8" stroke-width="1.1"/>
<line x1="61.2" y1="186.5" x2="78.8" y2="186.5" stroke="#8a8585" stroke-width="0.8" opacity="0.4"/>
<path d="M64.8 186.6 65.3 186.6 65.8 186.5 66.2 186.4 66.7 186.1 67.2 185.8 67.7 185.3 68.2 184.9 68.6 184.4 69.1 184.1 69.6 184 70.1 184.1 70.7 184.4 71.2 184.9 71.8 185.3 72.3 185.8 72.8 186.1 73.4 186.4 73.9 186.5 74.5 186.6 75 186.6 75 186.7 74.5 186.7 73.9 186.8 73.4 187 72.8 187.2 72.3 187.5 71.8 188 71.2 188.5 70.7 188.9 70.1 189.2 69.6 189.4 69.1 189.2 68.6 188.9 68.2 188.5 67.7 188 67.2 187.5 66.7 187.2 66.2 187 65.8 186.8 65.3 186.7 64.8 186.7Z" fill="#3d3a3a" opacity="0.9"/>
<line x1="70.5" y1="183.9" x2="70.5" y2="189.5" stroke="#f0852d" stroke-width="1.1"/>
<line x1="69.5" y1="183.9" x2="69.5" y2="189.5" stroke="#1a1a1a" stroke-width="1.1"/>
<line x1="79.5" y1="183.9" x2="79.5" y2="189.5" stroke="#4a86c8" stroke-width="1.1"/>
<line x1="139.3" y1="186.5" x2="164" y2="186.5" stroke="#8a8585" stroke-width="0.8" opacity="0.25"/>
<path d="M135.6 186.6 136.5 186.6 137.4 186.5 138.4 186.4 139.3 186.2 140.3 185.9 141.2 185.6 142.2 185.2 143.1 184.8 144.1 184.5 145 184.4 146.4 184.5 147.8 184.8 149.3 185.2 150.7 185.6 152.1 185.9 153.5 186.2 154.9 186.4 156.3 186.5 157.8 186.6 159.2 186.6 159.2 186.7 157.8 186.7 156.3 186.8 154.9 186.9 153.5 187.1 152.1 187.4 150.7 187.8 149.3 188.2 147.8 188.5 146.4 188.8 145 188.9 144.1 188.8 143.1 188.5 142.2 188.2 141.2 187.8 140.3 187.4 139.3 187.1 138.4 186.9 137.4 186.8 136.5 186.7 135.6 186.7Z" fill="#8f8989" opacity="0.45"/>
<path d="M139.3 186.3V187M141.3 184.9V188.4M143.3 184.1V189.2M145.4 183.1V190.2M147.4 184.5V188.9M149.4 184.6V188.7M151.4 185.3V188M153.4 186.1V187.2" stroke="#4a4545" stroke-width="0.9" opacity="0.6"/>
<line x1="141.5" y1="183.9" x2="141.5" y2="189.5" stroke="#f0852d" stroke-width="1.1"/>
<line x1="145.5" y1="183.9" x2="145.5" y2="189.5" stroke="#1a1a1a" stroke-width="1.1"/>
<line x1="139.5" y1="183.9" x2="139.5" y2="189.5" stroke="#4a86c8" stroke-width="1.1"/>
<line x1="64.8" y1="200.5" x2="84" y2="200.5" stroke="#8a8585" stroke-width="0.8" opacity="0.4"/>
<path d="M68.6 200.9 69.1 200.8 69.7 200.7 70.2 200.6 70.8 200.4 71.3 200 71.8 199.6 72.4 199.1 72.9 198.6 73.5 198.3 74 198.2 74.6 198.3 75.2 198.6 75.8 199.1 76.4 199.6 77 200 77.6 200.4 78.2 200.6 78.8 200.7 79.4 200.8 80 200.9 80 200.9 79.4 201 78.8 201 78.2 201.2 77.6 201.4 77 201.8 76.4 202.2 75.8 202.7 75.2 203.1 74.6 203.5 74 203.6 73.5 203.5 72.9 203.1 72.4 202.7 71.8 202.2 71.3 201.8 70.8 201.4 70.2 201.2 69.7 201 69.1 201 68.6 200.9Z" fill="#3d3a3a" opacity="0.9"/>
<line x1="74.5" y1="198.1" x2="74.5" y2="203.7" stroke="#f0852d" stroke-width="1.1"/>
<line x1="73.5" y1="198.1" x2="73.5" y2="203.7" stroke="#1a1a1a" stroke-width="1.1"/>
<line x1="89.5" y1="198.1" x2="89.5" y2="203.7" stroke="#4a86c8" stroke-width="1.1"/>
<line x1="139.3" y1="200.5" x2="176" y2="200.5" stroke="#8a8585" stroke-width="0.8" opacity="0.25"/>
<path d="M135.4 200.9 136.7 200.8 137.9 200.8 139.2 200.6 140.4 200.4 141.7 200.2 143 199.8 144.2 199.4 145.5 199 146.7 198.7 148 198.6 149.9 198.7 151.8 199 153.7 199.4 155.6 199.8 157.4 200.2 159.3 200.4 161.2 200.6 163.1 200.8 165 200.8 166.9 200.9 166.9 200.9 165 200.9 163.1 201 161.2 201.1 159.3 201.3 157.4 201.6 155.6 202 153.7 202.4 151.8 202.8 149.9 203 148 203.1 146.7 203 145.5 202.8 144.2 202.4 143 202 141.7 201.6 140.4 201.3 139.2 201.1 137.9 201 136.7 200.9 135.4 200.9Z" fill="#8f8989" opacity="0.45"/>
<path d="M139.3 200.6V201.1M141.3 200V201.8M143.3 199.4V202.4M145.4 199V202.8M147.4 198.2V203.6M149.4 197.6V204.2M151.4 197.8V204M153.4 199.3V202.4M155.5 199.3V202.4M157.5 199.9V201.9M159.5 200.5V201.2" stroke="#4a4545" stroke-width="0.9" opacity="0.6"/>
<line x1="141.5" y1="198.1" x2="141.5" y2="203.7" stroke="#f0852d" stroke-width="1.1"/>
<line x1="148.5" y1="198.1" x2="148.5" y2="203.7" stroke="#1a1a1a" stroke-width="1.1"/>
<line x1="139.5" y1="198.1" x2="139.5" y2="203.7" stroke="#4a86c8" stroke-width="1.1"/>
<line x1="74.8" y1="215.5" x2="94" y2="215.5" stroke="#8a8585" stroke-width="0.8" opacity="0.4"/>
<path d="M78.6 215.1 79.1 215 79.7 215 80.2 214.8 80.8 214.6 81.3 214.2 81.8 213.8 82.4 213.3 82.9 212.9 83.5 212.5 84 212.4 84.6 212.5 85.2 212.9 85.8 213.3 86.4 213.8 87 214.2 87.6 214.6 88.2 214.8 88.8 215 89.4 215 90 215.1 90 215.1 89.4 215.2 88.8 215.3 88.2 215.4 87.6 215.7 87 216 86.4 216.4 85.8 216.9 85.2 217.4 84.6 217.7 84 217.8 83.5 217.7 82.9 217.4 82.4 216.9 81.8 216.4 81.3 216 80.8 215.7 80.2 215.4 79.7 215.3 79.1 215.2 78.6 215.1Z" fill="#3d3a3a" opacity="0.9"/>
<line x1="86.5" y1="212.3" x2="86.5" y2="217.9" stroke="#f0852d" stroke-width="1.1"/>
<line x1="83.5" y1="212.3" x2="83.5" y2="217.9" stroke="#1a1a1a" stroke-width="1.1"/>
<line x1="93.5" y1="212.3" x2="93.5" y2="217.9" stroke="#4a86c8" stroke-width="1.1"/>
<line x1="144" y1="215.5" x2="178" y2="215.5" stroke="#8a8585" stroke-width="0.8" opacity="0.25"/>
<path d="M143.4 215.1 144.7 215.1 145.9 215 147.2 214.9 148.4 214.7 149.7 214.4 151 214 152.2 213.6 153.5 213.2 154.7 213 156 212.9 158.2 213 160.4 213.2 162.6 213.6 164.8 214 167 214.4 169.2 214.7 171.4 214.9 173.6 215 175.8 215.1 178.1 215.1 178.1 215.1 175.8 215.2 173.6 215.2 171.4 215.4 169.2 215.6 167 215.9 164.8 216.2 162.6 216.6 160.4 217 158.2 217.3 156 217.4 154.7 217.3 153.5 217 152.2 216.6 151 216.2 149.7 215.9 148.4 215.6 147.2 215.4 145.9 215.2 144.7 215.2 143.4 215.1Z" fill="#8f8989" opacity="0.45"/>
<path d="M148 214.8V215.4M150.1 213.9V216.3M152.1 213.7V216.5M154.1 211.9V218.3M156.1 212.6V217.6M158.1 212.9V217.4M160.2 212.4V217.8M162.2 213V217.2M164.2 213.6V216.7M166.2 214.2V216.1M168.2 214.5V215.7M170.3 214.8V215.5" stroke="#4a4545" stroke-width="0.9" opacity="0.6"/>
<line x1="147.5" y1="212.3" x2="147.5" y2="217.9" stroke="#f0852d" stroke-width="1.1"/>
<line x1="156.5" y1="212.3" x2="156.5" y2="217.9" stroke="#1a1a1a" stroke-width="1.1"/>
<line x1="145.5" y1="212.3" x2="145.5" y2="217.9" stroke="#4a86c8" stroke-width="1.1"/>
<line x1="112.3" y1="229.5" x2="132.3" y2="229.5" stroke="#8a8585" stroke-width="0.8" opacity="0.4"/>
<path d="M116.1 229.3 116.6 229.3 117.2 229.2 117.7 229.1 118.3 228.8 118.8 228.5 119.3 228 119.9 227.5 120.4 227.1 121 226.8 121.5 226.7 122.2 226.8 122.8 227.1 123.5 227.5 124.1 228 124.8 228.5 125.5 228.8 126.1 229.1 126.8 229.2 127.4 229.3 128.1 229.3 128.1 229.4 127.4 229.4 126.8 229.5 126.1 229.6 125.5 229.9 124.8 230.2 124.1 230.7 123.5 231.2 122.8 231.6 122.2 231.9 121.5 232 121 231.9 120.4 231.6 119.9 231.2 119.3 230.7 118.8 230.2 118.3 229.9 117.7 229.6 117.2 229.5 116.6 229.4 116.1 229.4Z" fill="#3d3a3a" opacity="0.9"/>
<line x1="118.5" y1="226.5" x2="118.5" y2="232.2" stroke="#f0852d" stroke-width="1.1"/>
<line x1="121.5" y1="226.5" x2="121.5" y2="232.2" stroke="#1a1a1a" stroke-width="1.1"/>
<line x1="94.5" y1="226.5" x2="94.5" y2="232.2" stroke="#4a86c8" stroke-width="1.1"/>
<line x1="156" y1="229.5" x2="205" y2="229.5" stroke="#8a8585" stroke-width="0.8" opacity="0.25"/>
<path d="M159.9 229.3 162.2 229.3 164.4 229.2 166.6 229.1 168.8 228.9 171 228.7 173.2 228.3 175.4 227.9 177.6 227.6 179.8 227.3 182 227.2 183.6 227.3 185.2 227.6 186.7 227.9 188.3 228.3 189.9 228.7 191.4 228.9 193 229.1 194.6 229.2 196.2 229.3 197.8 229.3 197.8 229.4 196.2 229.4 194.6 229.5 193 229.6 191.4 229.8 189.9 230 188.3 230.4 186.7 230.8 185.2 231.1 183.6 231.4 182 231.4 179.8 231.4 177.6 231.1 175.4 230.8 173.2 230.4 171 230 168.8 229.8 166.6 229.6 164.4 229.5 162.2 229.4 159.9 229.4Z" fill="#8f8989" opacity="0.45"/>
<path d="M168.1 229V229.7M170.1 228.6V230.1M172.2 228.4V230.3M174.2 227.5V231.2M176.2 227.3V231.4M178.2 226.6V232.1M180.2 227.1V231.6M182.3 226.1V232.6M184.3 227V231.7M186.3 227.8V230.9M188.3 228.1V230.6M190.3 228.8V229.9M192.4 229V229.7" stroke="#4a4545" stroke-width="0.9" opacity="0.6"/>
<line x1="193.5" y1="226.5" x2="193.5" y2="232.2" stroke="#f0852d" stroke-width="1.1"/>
<line x1="182.5" y1="226.5" x2="182.5" y2="232.2" stroke="#1a1a1a" stroke-width="1.1"/>
<line x1="203.5" y1="226.5" x2="203.5" y2="232.2" stroke="#4a86c8" stroke-width="1.1"/>
<line x1="58.1" y1="243.5" x2="70.5" y2="243.5" stroke="#8a8585" stroke-width="0.8" opacity="0.4"/>
<path d="M61 243.5 61.3 243.5 61.5 243.4 61.8 243.1 62.1 242.8 62.4 242.3 62.6 241.6 62.9 240.9 63.2 240.2 63.4 239.8 63.7 239.6 64.1 239.8 64.4 240.2 64.8 240.9 65.1 241.6 65.5 242.3 65.9 242.8 66.2 243.1 66.6 243.4 66.9 243.5 67.3 243.5 67.3 243.6 66.9 243.7 66.6 243.8 66.2 244 65.9 244.4 65.5 244.9 65.1 245.5 64.8 246.2 64.4 246.9 64.1 247.4 63.7 247.6 63.4 247.4 63.2 246.9 62.9 246.2 62.6 245.5 62.4 244.9 62.1 244.4 61.8 244 61.5 243.8 61.3 243.7 61 243.6Z" fill="#3d3a3a" opacity="0.9"/>
<line x1="63.5" y1="240.8" x2="63.5" y2="246.4" stroke="#f0852d" stroke-width="1.1"/>
<line x1="64.5" y1="240.8" x2="64.5" y2="246.4" stroke="#1a1a1a" stroke-width="1.1"/>
<line x1="59.5" y1="240.8" x2="59.5" y2="246.4" stroke="#4a86c8" stroke-width="1.1"/>
<line x1="139.3" y1="243.5" x2="154" y2="243.5" stroke="#8a8585" stroke-width="0.8" opacity="0.25"/>
<path d="M136 243.5 136.5 243.5 137 243.4 137.5 243.2 138 242.8 138.5 242.4 139 241.8 139.5 241.1 140 240.4 140.5 240 141 239.8 142.1 240 143.2 240.4 144.3 241.1 145.4 241.8 146.5 242.4 147.6 242.8 148.7 243.2 149.8 243.4 150.9 243.5 152 243.5 152 243.6 150.9 243.7 149.8 243.8 148.7 244 147.6 244.3 146.5 244.8 145.4 245.4 144.3 246.1 143.2 246.7 142.1 247.2 141 247.3 140.5 247.2 140 246.7 139.5 246.1 139 245.4 138.5 244.8 138 244.3 137.5 244 137 243.8 136.5 243.7 136 243.6Z" fill="#8f8989" opacity="0.45"/>
<path d="M139.3 240.3V246.9M141.3 239.2V248M143.3 240.1V247M145.4 241.7V245.4M147.4 242.6V244.6" stroke="#4a4545" stroke-width="0.9" opacity="0.6"/>
<line x1="141.5" y1="240.8" x2="141.5" y2="246.4" stroke="#1a1a1a" stroke-width="1.1"/>
<line x1="139.5" y1="240.8" x2="139.5" y2="246.4" stroke="#4a86c8" stroke-width="1.1"/>
<line x1="56.5" y1="149.7" x2="56.5" y2="252.5" stroke="#555555" stroke-width="1.1"/>
<line x1="56.4" y1="252.5" x2="132.6" y2="252.5" stroke="#777" stroke-width="1.3"/>
<line x1="59.5" y1="252" x2="59.5" y2="254.2" stroke="#555555" stroke-width="0.9"/>
<text x="59.8" y="259.7" font-size="5.7" fill="#8c8c8c" text-anchor="middle" textLength="3.1" lengthAdjust="spacingAndGlyphs">0</text>
<line x1="85.5" y1="252" x2="85.5" y2="254.2" stroke="#555555" stroke-width="0.9"/>
<text x="85.8" y="259.7" font-size="5.7" fill="#8c8c8c" text-anchor="middle" textLength="9.2" lengthAdjust="spacingAndGlyphs">200</text>
<line x1="111.5" y1="252" x2="111.5" y2="254.2" stroke="#555555" stroke-width="0.9"/>
<text x="111.6" y="259.7" font-size="5.7" fill="#8c8c8c" text-anchor="middle" textLength="9.2" lengthAdjust="spacingAndGlyphs">400</text>
<line x1="136" y1="252.5" x2="211.6" y2="252.5" stroke="#777" stroke-width="1.3"/>
<line x1="139.5" y1="252" x2="139.5" y2="254.2" stroke="#555555" stroke-width="0.9"/>
<text x="139.3" y="259.7" font-size="5.7" fill="#8c8c8c" text-anchor="middle" textLength="3.1" lengthAdjust="spacingAndGlyphs">0</text>
<line x1="159.5" y1="252" x2="159.5" y2="254.2" stroke="#555555" stroke-width="0.9"/>
<text x="159.6" y="259.7" font-size="5.7" fill="#8c8c8c" text-anchor="middle" textLength="6.2" lengthAdjust="spacingAndGlyphs">10</text>
<line x1="179.5" y1="252" x2="179.5" y2="254.2" stroke="#555555" stroke-width="0.9"/>
<text x="179.8" y="259.7" font-size="5.7" fill="#8c8c8c" text-anchor="middle" textLength="6.2" lengthAdjust="spacingAndGlyphs">20</text>
<line x1="200.5" y1="252" x2="200.5" y2="254.2" stroke="#555555" stroke-width="0.9"/>
<text x="200" y="259.7" font-size="5.7" fill="#8c8c8c" text-anchor="middle" textLength="6.2" lengthAdjust="spacingAndGlyphs">30</text>
<text x="52.8" y="160.4" font-size="6.07" fill="#6a6a6a" text-anchor="end" textLength="26.9" lengthAdjust="spacingAndGlyphs">Upstream</text>
<text x="52.8" y="174.7" font-size="6.07" fill="#6a6a6a" text-anchor="end" textLength="29" lengthAdjust="spacingAndGlyphs">Promoters</text>
<text x="52.8" y="188.9" font-size="6.07" fill="#6a6a6a" text-anchor="end" textLength="20.6" lengthAdjust="spacingAndGlyphs">5′ UTRs</text>
<text x="52.8" y="203.1" font-size="6.07" fill="#6a6a6a" text-anchor="end" textLength="29.5" lengthAdjust="spacingAndGlyphs">First exons</text>
<text x="52.8" y="217.4" font-size="6.07" fill="#6a6a6a" text-anchor="end" textLength="16.2" lengthAdjust="spacingAndGlyphs">Exons</text>
<text x="52.8" y="231.6" font-size="6.07" fill="#6a6a6a" text-anchor="end" textLength="19.5" lengthAdjust="spacingAndGlyphs">Introns</text>
<text x="52.8" y="245.8" font-size="6.07" fill="#6a6a6a" text-anchor="end" textLength="20.6" lengthAdjust="spacingAndGlyphs">3′ UTRs</text>
<text x="15.4" y="201.2" font-size="7" fill="#333333" text-anchor="middle" font-weight="bold" textLength="41.5" lengthAdjust="spacingAndGlyphs" transform="rotate(-90 15.4 201.2) translate(0 2.4)">Gene features</text>
<text x="94.4" y="147.9" font-size="6.35" fill="#2b78c1" font-weight="bold" text-anchor="middle" textLength="54" lengthAdjust="spacingAndGlyphs">CRC hyper-mCpGs</text>
<text x="173.2" y="147.9" font-size="6.35" fill="#2b78c1" font-weight="bold" text-anchor="middle" textLength="52.7" lengthAdjust="spacingAndGlyphs">CRC hypo-mCpGs</text>
<text x="134.5" y="271.5" font-size="6.35" fill="#3a3a3a" font-weight="bold" text-anchor="middle" textLength="107.8" lengthAdjust="spacingAndGlyphs">CpG sites overlapping gene features</text>
<line x1="267" y1="164.5" x2="343.6" y2="164.5" stroke="#e2e2de" stroke-width="0.8"/>
<line x1="347" y1="164.5" x2="424" y2="164.5" stroke="#e2e2de" stroke-width="0.8"/>
<line x1="267" y1="188.5" x2="343.6" y2="188.5" stroke="#e2e2de" stroke-width="0.8"/>
<line x1="347" y1="188.5" x2="424" y2="188.5" stroke="#e2e2de" stroke-width="0.8"/>
<line x1="267" y1="213.5" x2="343.6" y2="213.5" stroke="#e2e2de" stroke-width="0.8"/>
<line x1="347" y1="213.5" x2="424" y2="213.5" stroke="#e2e2de" stroke-width="0.8"/>
<line x1="267" y1="237.5" x2="343.6" y2="237.5" stroke="#e2e2de" stroke-width="0.8"/>
<line x1="347" y1="237.5" x2="424" y2="237.5" stroke="#e2e2de" stroke-width="0.8"/>
<line x1="295.3" y1="164.5" x2="314.5" y2="164.5" stroke="#8a8585" stroke-width="0.8" opacity="0.4"/>
<path d="M299.1 164.5 299.6 164.4 300.2 164.3 300.7 164.2 301.3 163.9 301.8 163.6 302.3 163.1 302.9 162.6 303.4 162.2 304 161.8 304.5 161.7 305.1 161.8 305.7 162.2 306.3 162.6 306.9 163.1 307.5 163.6 308.1 163.9 308.7 164.2 309.3 164.3 309.9 164.4 310.5 164.5 310.5 164.5 309.9 164.6 309.3 164.7 308.7 164.8 308.1 165.1 307.5 165.4 306.9 165.9 306.3 166.4 305.7 166.8 305.1 167.2 304.5 167.3 304 167.2 303.4 166.8 302.9 166.4 302.3 165.9 301.8 165.4 301.3 165.1 300.7 164.8 300.2 164.7 299.6 164.6 299.1 164.5Z" fill="#3d3a3a" opacity="0.9"/>
<line x1="305.5" y1="161.7" x2="305.5" y2="167.3" stroke="#f0852d" stroke-width="1.1"/>
<line x1="304.5" y1="161.7" x2="304.5" y2="167.3" stroke="#1a1a1a" stroke-width="1.1"/>
<line x1="339.5" y1="161.7" x2="339.5" y2="167.3" stroke="#4a86c8" stroke-width="1.1"/>
<line x1="360" y1="164.5" x2="423" y2="164.5" stroke="#8a8585" stroke-width="0.8" opacity="0.25"/>
<path d="M371.1 164.5 373 164.4 374.9 164.4 376.8 164.2 378.7 164 380.6 163.7 382.4 163.3 384.3 162.9 386.2 162.5 388.1 162.2 390 162.1 392.2 162.2 394.4 162.5 396.6 162.9 398.8 163.3 401 163.7 403.2 164 405.4 164.2 407.6 164.4 409.8 164.4 412.1 164.5 412.1 164.5 409.8 164.6 407.6 164.6 405.4 164.8 403.2 165 401 165.3 398.8 165.7 396.6 166.1 394.4 166.5 392.2 166.8 390 166.9 388.1 166.8 386.2 166.5 384.3 166.1 382.4 165.7 380.6 165.3 378.7 165 376.8 164.8 374.9 164.6 373 164.6 371.1 164.5Z" fill="#8f8989" opacity="0.45"/>
<path d="M377.5 164.1V164.9M379.7 163.7V165.3M381.9 163.3V165.7M384.1 162.7V166.3M386.3 162.4V166.6M388.5 162.1V166.9M390.7 161.8V167.2M392.8 162.2V166.8M395 162.6V166.4M397.2 162.8V166.2M399.4 163.2V165.8M401.6 163.6V165.4M403.8 164.1V164.9M406 164.2V164.8" stroke="#4a4545" stroke-width="0.9" opacity="0.6"/>
<line x1="380.5" y1="161.7" x2="380.5" y2="167.3" stroke="#f0852d" stroke-width="1.1"/>
<line x1="392.5" y1="161.7" x2="392.5" y2="167.3" stroke="#1a1a1a" stroke-width="1.1"/>
<line x1="350.5" y1="161.7" x2="350.5" y2="167.3" stroke="#4a86c8" stroke-width="1.1"/>
<line x1="272.4" y1="188.5" x2="288.4" y2="188.5" stroke="#8a8585" stroke-width="0.8" opacity="0.4"/>
<path d="M275.8 188.9 276.2 188.8 276.6 188.7 277.1 188.6 277.5 188.3 277.9 188 278.3 187.5 278.7 187 279.2 186.6 279.6 186.2 280 186.1 280.5 186.2 281 186.6 281.4 187 281.9 187.5 282.4 188 282.9 188.3 283.4 188.6 283.8 188.7 284.3 188.8 284.8 188.9 284.8 188.9 284.3 189 283.8 189.1 283.4 189.2 282.9 189.5 282.4 189.8 281.9 190.3 281.4 190.8 281 191.2 280.5 191.6 280 191.7 279.6 191.6 279.2 191.2 278.7 190.8 278.3 190.3 277.9 189.8 277.5 189.5 277.1 189.2 276.6 189.1 276.2 189 275.8 188.9Z" fill="#3d3a3a" opacity="0.9"/>
<line x1="279.5" y1="186.1" x2="279.5" y2="191.7" stroke="#f0852d" stroke-width="1.1"/>
<line x1="280.5" y1="186.1" x2="280.5" y2="191.7" stroke="#1a1a1a" stroke-width="1.1"/>
<line x1="274.5" y1="186.1" x2="274.5" y2="191.7" stroke="#4a86c8" stroke-width="1.1"/>
<line x1="349" y1="188.5" x2="384" y2="188.5" stroke="#8a8585" stroke-width="0.8" opacity="0.25"/>
<path d="M346.2 188.9 347.8 188.8 349.4 188.8 351 188.6 352.6 188.4 354.1 188.1 355.7 187.7 357.3 187.3 358.9 186.9 360.4 186.6 362 186.5 363.9 186.6 365.8 186.9 367.7 187.3 369.6 187.7 371.4 188.1 373.3 188.4 375.2 188.6 377.1 188.8 379 188.8 380.9 188.9 380.9 188.9 379 189 377.1 189 375.2 189.2 373.3 189.4 371.4 189.7 369.6 190.1 367.7 190.5 365.8 190.9 363.9 191.2 362 191.3 360.4 191.2 358.9 190.9 357.3 190.5 355.7 190.1 354.1 189.7 352.6 189.4 351 189.2 349.4 189 347.8 189 346.2 188.9Z" fill="#8f8989" opacity="0.45"/>
<path d="M351.2 188.5V189.3M353.4 188.1V189.7M355.6 187.4V190.4M357.8 186.3V191.5M359.9 186V191.8M362.1 185.9V191.9M364.3 185.7V192.1M366.5 187V190.8M368.7 187.5V190.3M370.9 188V189.8M373.1 188.2V189.6M375.3 188.6V189.2" stroke="#4a4545" stroke-width="0.9" opacity="0.6"/>
<line x1="372.5" y1="186.1" x2="372.5" y2="191.7" stroke="#f0852d" stroke-width="1.1"/>
<line x1="362.5" y1="186.1" x2="362.5" y2="191.7" stroke="#1a1a1a" stroke-width="1.1"/>
<line x1="365.5" y1="186.1" x2="365.5" y2="191.7" stroke="#4a86c8" stroke-width="1.1"/>
<line x1="267.2" y1="213.5" x2="277.2" y2="213.5" stroke="#8a8585" stroke-width="0.8" opacity="0.4"/>
<path d="M269.9 213.2 270.1 213.1 270.3 212.9 270.5 212.6 270.7 212 270.9 211.2 271.2 210.1 271.4 209 271.6 207.9 271.8 207.1 272 206.8 272.2 207.1 272.5 207.9 272.7 209 273 210.1 273.2 211.2 273.4 212 273.7 212.6 273.9 212.9 274.2 213.1 274.4 213.2 274.4 213.4 274.2 213.5 273.9 213.7 273.7 214 273.4 214.6 273.2 215.4 273 216.5 272.7 217.6 272.5 218.7 272.2 219.5 272 219.8 271.8 219.5 271.6 218.7 271.4 217.6 271.2 216.5 270.9 215.4 270.7 214.6 270.5 214 270.3 213.7 270.1 213.5 269.9 213.4Z" fill="#3d3a3a" opacity="0.9"/>
<line x1="272.5" y1="210.5" x2="272.5" y2="216.1" stroke="#f0852d" stroke-width="1.1"/>
<line x1="271.5" y1="210.5" x2="271.5" y2="216.1" stroke="#1a1a1a" stroke-width="1.1"/>
<line x1="269.5" y1="210.5" x2="269.5" y2="216.1" stroke="#4a86c8" stroke-width="1.1"/>
<line x1="350.3" y1="213.5" x2="366" y2="213.5" stroke="#8a8585" stroke-width="0.8" opacity="0.25"/>
<path d="M348.5 213.2 349 213.2 349.5 213 350 212.7 350.5 212.3 351 211.6 351.5 210.7 352 209.8 352.5 208.9 353 208.3 353.5 208.1 354.4 208.3 355.4 208.9 356.3 209.8 357.3 210.7 358.2 211.6 359.2 212.3 360.1 212.7 361.1 213 362 213.2 362.9 213.2 362.9 213.4 362 213.4 361.1 213.6 360.1 213.9 359.2 214.3 358.2 215 357.3 215.9 356.3 216.8 355.4 217.7 354.4 218.3 353.5 218.6 353 218.3 352.5 217.7 352 216.8 351.5 215.9 351 215 350.5 214.3 350 213.9 349.5 213.6 349 213.4 348.5 213.4Z" fill="#8f8989" opacity="0.45"/>
<path d="M350.3 212.5V214.1M352.5 208V218.6M354.7 205.9V220.7M356.9 209.4V217.2M359.1 211.7V214.9M361.2 213V213.6" stroke="#4a4545" stroke-width="0.9" opacity="0.6"/>
<line x1="359.5" y1="210.5" x2="359.5" y2="216.1" stroke="#f0852d" stroke-width="1.1"/>
<line x1="353.5" y1="210.5" x2="353.5" y2="216.1" stroke="#1a1a1a" stroke-width="1.1"/>
<line x1="357.5" y1="210.5" x2="357.5" y2="216.1" stroke="#4a86c8" stroke-width="1.1"/>
<line x1="287.8" y1="237.5" x2="307" y2="237.5" stroke="#8a8585" stroke-width="0.8" opacity="0.4"/>
<path d="M291.6 237.7 292.1 237.6 292.7 237.5 293.2 237.4 293.8 237.1 294.3 236.8 294.8 236.3 295.4 235.8 295.9 235.4 296.5 235 297 234.9 297.6 235 298.2 235.4 298.8 235.8 299.4 236.3 300 236.8 300.6 237.1 301.2 237.4 301.8 237.5 302.4 237.6 303 237.7 303 237.7 302.4 237.8 301.8 237.9 301.2 238 300.6 238.3 300 238.6 299.4 239.1 298.8 239.6 298.2 240 297.6 240.4 297 240.5 296.5 240.4 295.9 240 295.4 239.6 294.8 239.1 294.3 238.6 293.8 238.3 293.2 238 292.7 237.9 292.1 237.8 291.6 237.7Z" fill="#3d3a3a" opacity="0.9"/>
<line x1="295.5" y1="234.9" x2="295.5" y2="240.5" stroke="#f0852d" stroke-width="1.1"/>
<line x1="297.5" y1="234.9" x2="297.5" y2="240.5" stroke="#1a1a1a" stroke-width="1.1"/>
<line x1="270.5" y1="234.9" x2="270.5" y2="240.5" stroke="#4a86c8" stroke-width="1.1"/>
<line x1="362" y1="237.5" x2="405" y2="237.5" stroke="#8a8585" stroke-width="0.8" opacity="0.25"/>
<path d="M364.1 237.7 366 237.6 367.9 237.6 369.8 237.4 371.7 237.2 373.6 236.9 375.4 236.5 377.3 236.1 379.2 235.7 381.1 235.4 383 235.3 384.9 235.4 386.8 235.7 388.7 236.1 390.6 236.5 392.4 236.9 394.3 237.2 396.2 237.4 398.1 237.6 400 237.6 401.9 237.7 401.9 237.7 400 237.8 398.1 237.8 396.2 238 394.3 238.2 392.4 238.5 390.6 238.9 388.7 239.3 386.8 239.7 384.9 240 383 240.1 381.1 240 379.2 239.7 377.3 239.3 375.4 238.9 373.6 238.5 371.7 238.2 369.8 238 367.9 237.8 366 237.8 364.1 237.7Z" fill="#8f8989" opacity="0.45"/>
<path d="M370.8 237.3V238.1M372.9 236.9V238.5M375.1 236.4V239M377.3 235.8V239.6M379.5 234.8V240.6M381.7 234.1V241.3M383.9 234.3V241.1M386.1 235.5V239.9M388.3 235.6V239.8M390.5 236.3V239.1M392.7 236.6V238.8M394.8 237.3V238.1" stroke="#4a4545" stroke-width="0.9" opacity="0.6"/>
<line x1="394.5" y1="234.9" x2="394.5" y2="240.5" stroke="#f0852d" stroke-width="1.1"/>
<line x1="382.5" y1="234.9" x2="382.5" y2="240.5" stroke="#1a1a1a" stroke-width="1.1"/>
<line x1="418.5" y1="234.9" x2="418.5" y2="240.5" stroke="#4a86c8" stroke-width="1.1"/>
<line x1="266.5" y1="149.7" x2="266.5" y2="252.5" stroke="#555555" stroke-width="1.1"/>
<line x1="266.4" y1="252.5" x2="343.6" y2="252.5" stroke="#777" stroke-width="1.3"/>
<line x1="270.5" y1="252" x2="270.5" y2="254.2" stroke="#555555" stroke-width="0.9"/>
<text x="270" y="259.7" font-size="5.7" fill="#8c8c8c" text-anchor="middle" textLength="3.1" lengthAdjust="spacingAndGlyphs">0</text>
<line x1="286.5" y1="252" x2="286.5" y2="254.2" stroke="#555555" stroke-width="0.9"/>
<text x="286.4" y="259.7" font-size="5.7" fill="#8c8c8c" text-anchor="middle" textLength="9.2" lengthAdjust="spacingAndGlyphs">200</text>
<line x1="302.5" y1="252" x2="302.5" y2="254.2" stroke="#555555" stroke-width="0.9"/>
<text x="302.8" y="259.7" font-size="5.7" fill="#8c8c8c" text-anchor="middle" textLength="9.2" lengthAdjust="spacingAndGlyphs">400</text>
<line x1="319.5" y1="252" x2="319.5" y2="254.2" stroke="#555555" stroke-width="0.9"/>
<text x="319.2" y="259.7" font-size="5.7" fill="#8c8c8c" text-anchor="middle" textLength="9.2" lengthAdjust="spacingAndGlyphs">600</text>
<line x1="335.5" y1="252" x2="335.5" y2="254.2" stroke="#555555" stroke-width="0.9"/>
<text x="335.6" y="259.7" font-size="5.7" fill="#8c8c8c" text-anchor="middle" textLength="9.2" lengthAdjust="spacingAndGlyphs">800</text>
<line x1="347" y1="252.5" x2="424" y2="252.5" stroke="#777" stroke-width="1.3"/>
<line x1="350.5" y1="252" x2="350.5" y2="254.2" stroke="#555555" stroke-width="0.9"/>
<text x="350.3" y="259.7" font-size="5.7" fill="#8c8c8c" text-anchor="middle" textLength="3.1" lengthAdjust="spacingAndGlyphs">0</text>
<line x1="372.5" y1="252" x2="372.5" y2="254.2" stroke="#555555" stroke-width="0.9"/>
<text x="372.2" y="259.7" font-size="5.7" fill="#8c8c8c" text-anchor="middle" textLength="6.2" lengthAdjust="spacingAndGlyphs">10</text>
<line x1="394.5" y1="252" x2="394.5" y2="254.2" stroke="#555555" stroke-width="0.9"/>
<text x="394.1" y="259.7" font-size="5.7" fill="#8c8c8c" text-anchor="middle" textLength="6.2" lengthAdjust="spacingAndGlyphs">20</text>
<line x1="416.5" y1="252" x2="416.5" y2="254.2" stroke="#555555" stroke-width="0.9"/>
<text x="416" y="259.7" font-size="5.7" fill="#8c8c8c" text-anchor="middle" textLength="6.2" lengthAdjust="spacingAndGlyphs">30</text>
<text x="262" y="166.7" font-size="6.07" fill="#6a6a6a" text-anchor="end" textLength="19.3" lengthAdjust="spacingAndGlyphs">Islands</text>
<text x="262" y="191.1" font-size="6.07" fill="#6a6a6a" text-anchor="end" textLength="18.9" lengthAdjust="spacingAndGlyphs">Shores</text>
<text x="262" y="215.5" font-size="6.07" fill="#6a6a6a" text-anchor="end" textLength="21.1" lengthAdjust="spacingAndGlyphs">Shelves</text>
<text x="262" y="239.9" font-size="6.07" fill="#6a6a6a" text-anchor="end" textLength="25.7" lengthAdjust="spacingAndGlyphs">Inter−CGI</text>
<text x="230.8" y="201.4" font-size="7" fill="#333333" text-anchor="middle" font-weight="bold" textLength="37" lengthAdjust="spacingAndGlyphs" transform="rotate(-90 230.8 201.4) translate(0 2.4)">CGI features</text>
<text x="305" y="147.9" font-size="6.35" fill="#2b78c1" font-weight="bold" text-anchor="middle" textLength="54.4" lengthAdjust="spacingAndGlyphs">CRC hyper-mCpGs</text>
<text x="385.7" y="147.9" font-size="6.35" fill="#2b78c1" font-weight="bold" text-anchor="middle" textLength="52.6" lengthAdjust="spacingAndGlyphs">CRC hypo-mCpGs</text>
<text x="344.7" y="271.5" font-size="6.35" fill="#3a3a3a" font-weight="bold" text-anchor="middle" textLength="103.4" lengthAdjust="spacingAndGlyphs">CpG sites overlapping CGI features</text>
<line x1="490" y1="154.5" x2="561" y2="154.5" stroke="#e2e2de" stroke-width="0.8"/>
<line x1="564.3" y1="154.5" x2="636.6" y2="154.5" stroke="#e2e2de" stroke-width="0.8"/>
<line x1="490" y1="161.5" x2="561" y2="161.5" stroke="#e2e2de" stroke-width="0.8"/>
<line x1="564.3" y1="161.5" x2="636.6" y2="161.5" stroke="#e2e2de" stroke-width="0.8"/>
<line x1="490" y1="168.5" x2="561" y2="168.5" stroke="#e2e2de" stroke-width="0.8"/>
<line x1="564.3" y1="168.5" x2="636.6" y2="168.5" stroke="#e2e2de" stroke-width="0.8"/>
<line x1="490" y1="175.5" x2="561" y2="175.5" stroke="#e2e2de" stroke-width="0.8"/>
<line x1="564.3" y1="175.5" x2="636.6" y2="175.5" stroke="#e2e2de" stroke-width="0.8"/>
<line x1="490" y1="181.5" x2="561" y2="181.5" stroke="#e2e2de" stroke-width="0.8"/>
<line x1="564.3" y1="181.5" x2="636.6" y2="181.5" stroke="#e2e2de" stroke-width="0.8"/>
<line x1="490" y1="188.5" x2="561" y2="188.5" stroke="#e2e2de" stroke-width="0.8"/>
<line x1="564.3" y1="188.5" x2="636.6" y2="188.5" stroke="#e2e2de" stroke-width="0.8"/>
<line x1="490" y1="195.5" x2="561" y2="195.5" stroke="#e2e2de" stroke-width="0.8"/>
<line x1="564.3" y1="195.5" x2="636.6" y2="195.5" stroke="#e2e2de" stroke-width="0.8"/>
<line x1="490" y1="202.5" x2="561" y2="202.5" stroke="#e2e2de" stroke-width="0.8"/>
<line x1="564.3" y1="202.5" x2="636.6" y2="202.5" stroke="#e2e2de" stroke-width="0.8"/>
<line x1="490" y1="208.5" x2="561" y2="208.5" stroke="#e2e2de" stroke-width="0.8"/>
<line x1="564.3" y1="208.5" x2="636.6" y2="208.5" stroke="#e2e2de" stroke-width="0.8"/>
<line x1="490" y1="215.5" x2="561" y2="215.5" stroke="#e2e2de" stroke-width="0.8"/>
<line x1="564.3" y1="215.5" x2="636.6" y2="215.5" stroke="#e2e2de" stroke-width="0.8"/>
<line x1="490" y1="222.5" x2="561" y2="222.5" stroke="#e2e2de" stroke-width="0.8"/>
<line x1="564.3" y1="222.5" x2="636.6" y2="222.5" stroke="#e2e2de" stroke-width="0.8"/>
<line x1="490" y1="229.5" x2="561" y2="229.5" stroke="#e2e2de" stroke-width="0.8"/>
<line x1="564.3" y1="229.5" x2="636.6" y2="229.5" stroke="#e2e2de" stroke-width="0.8"/>
<line x1="490" y1="235.5" x2="561" y2="235.5" stroke="#e2e2de" stroke-width="0.8"/>
<line x1="564.3" y1="235.5" x2="636.6" y2="235.5" stroke="#e2e2de" stroke-width="0.8"/>
<line x1="490" y1="242.5" x2="561" y2="242.5" stroke="#e2e2de" stroke-width="0.8"/>
<line x1="564.3" y1="242.5" x2="636.6" y2="242.5" stroke="#e2e2de" stroke-width="0.8"/>
<line x1="490" y1="249.5" x2="561" y2="249.5" stroke="#e2e2de" stroke-width="0.8"/>
<line x1="564.3" y1="249.5" x2="636.6" y2="249.5" stroke="#e2e2de" stroke-width="0.8"/>
<line x1="525" y1="154.5" x2="539" y2="154.5" stroke="#777" stroke-width="0.9" opacity="0.5"/>
<line x1="534.5" y1="152.5" x2="534.5" y2="157.1" stroke="#f0852d" stroke-width="1.1"/>
<line x1="531.5" y1="152.5" x2="531.5" y2="157.1" stroke="#333" stroke-width="1.1"/>
<line x1="557.5" y1="152.5" x2="557.5" y2="157.1" stroke="#4a86c8" stroke-width="1.1"/>
<line x1="498" y1="161.5" x2="508" y2="161.5" stroke="#777" stroke-width="0.9" opacity="0.5"/>
<line x1="501.5" y1="159.2" x2="501.5" y2="163.9" stroke="#f0852d" stroke-width="1.1"/>
<line x1="503.5" y1="159.2" x2="503.5" y2="163.9" stroke="#333" stroke-width="1.1"/>
<line x1="497.5" y1="159.2" x2="497.5" y2="163.9" stroke="#4a86c8" stroke-width="1.1"/>
<line x1="492" y1="168.5" x2="495" y2="168.5" stroke="#777" stroke-width="0.9" opacity="0.5"/>
<line x1="492.5" y1="166" x2="492.5" y2="170.6" stroke="#333" stroke-width="1.1"/>
<line x1="492.5" y1="166" x2="492.5" y2="170.6" stroke="#4a86c8" stroke-width="1.1"/>
<line x1="494" y1="175.5" x2="506" y2="175.5" stroke="#777" stroke-width="0.9" opacity="0.5"/>
<line x1="498.5" y1="172.8" x2="498.5" y2="177.4" stroke="#f0852d" stroke-width="1.1"/>
<line x1="499.5" y1="172.8" x2="499.5" y2="177.4" stroke="#333" stroke-width="1.1"/>
<line x1="492.5" y1="172.8" x2="492.5" y2="177.4" stroke="#4a86c8" stroke-width="1.1"/>
<line x1="497" y1="181.5" x2="512" y2="181.5" stroke="#777" stroke-width="0.9" opacity="0.5"/>
<line x1="503.5" y1="179.5" x2="503.5" y2="184.1" stroke="#f0852d" stroke-width="1.1"/>
<line x1="504.5" y1="179.5" x2="504.5" y2="184.1" stroke="#333" stroke-width="1.1"/>
<line x1="492.5" y1="179.5" x2="492.5" y2="184.1" stroke="#4a86c8" stroke-width="1.1"/>
<line x1="492" y1="188.5" x2="496" y2="188.5" stroke="#777" stroke-width="0.9" opacity="0.5"/>
<line x1="493.5" y1="186.2" x2="493.5" y2="190.9" stroke="#f0852d" stroke-width="1.1"/>
<line x1="493.5" y1="186.2" x2="493.5" y2="190.9" stroke="#333" stroke-width="1.1"/>
<line x1="496" y1="195.5" x2="507" y2="195.5" stroke="#777" stroke-width="0.9" opacity="0.5"/>
<line x1="499.5" y1="193" x2="499.5" y2="197.6" stroke="#f0852d" stroke-width="1.1"/>
<line x1="501.5" y1="193" x2="501.5" y2="197.6" stroke="#333" stroke-width="1.1"/>
<line x1="492.5" y1="193" x2="492.5" y2="197.6" stroke="#4a86c8" stroke-width="1.1"/>
<line x1="492" y1="202.5" x2="494" y2="202.5" stroke="#777" stroke-width="0.9" opacity="0.5"/>
<line x1="492.5" y1="199.8" x2="492.5" y2="204.4" stroke="#4a86c8" stroke-width="1.1"/>
<line x1="492" y1="208.5" x2="494" y2="208.5" stroke="#777" stroke-width="0.9" opacity="0.5"/>
<line x1="492.5" y1="206.5" x2="492.5" y2="211.1" stroke="#4a86c8" stroke-width="1.1"/>
<line x1="497" y1="215.5" x2="506" y2="215.5" stroke="#777" stroke-width="0.9" opacity="0.5"/>
<line x1="502.5" y1="213.2" x2="502.5" y2="217.9" stroke="#f0852d" stroke-width="1.1"/>
<line x1="500.5" y1="213.2" x2="500.5" y2="217.9" stroke="#333" stroke-width="1.1"/>
<line x1="524.5" y1="213.2" x2="524.5" y2="217.9" stroke="#4a86c8" stroke-width="1.1"/>
<line x1="493" y1="222.5" x2="498" y2="222.5" stroke="#777" stroke-width="0.9" opacity="0.5"/>
<line x1="496.5" y1="220" x2="496.5" y2="224.6" stroke="#f0852d" stroke-width="1.1"/>
<line x1="495.5" y1="220" x2="495.5" y2="224.6" stroke="#333" stroke-width="1.1"/>
<line x1="495.5" y1="220" x2="495.5" y2="224.6" stroke="#4a86c8" stroke-width="1.1"/>
<line x1="492" y1="229.5" x2="497" y2="229.5" stroke="#777" stroke-width="0.9" opacity="0.5"/>
<line x1="493.5" y1="226.8" x2="493.5" y2="231.4" stroke="#333" stroke-width="1.1"/>
<line x1="494.5" y1="226.8" x2="494.5" y2="231.4" stroke="#4a86c8" stroke-width="1.1"/>
<line x1="494" y1="235.5" x2="501" y2="235.5" stroke="#777" stroke-width="0.9" opacity="0.5"/>
<line x1="497.5" y1="233.5" x2="497.5" y2="238.1" stroke="#333" stroke-width="1.1"/>
<line x1="499.5" y1="233.5" x2="499.5" y2="238.1" stroke="#4a86c8" stroke-width="1.1"/>
<line x1="494" y1="242.5" x2="499" y2="242.5" stroke="#777" stroke-width="0.9" opacity="0.5"/>
<line x1="495.5" y1="240.2" x2="495.5" y2="244.9" stroke="#f0852d" stroke-width="1.1"/>
<line x1="496.5" y1="240.2" x2="496.5" y2="244.9" stroke="#333" stroke-width="1.1"/>
<line x1="492.5" y1="240.2" x2="492.5" y2="244.9" stroke="#4a86c8" stroke-width="1.1"/>
<line x1="498" y1="249.5" x2="510" y2="249.5" stroke="#777" stroke-width="0.9" opacity="0.5"/>
<line x1="502.5" y1="247" x2="502.5" y2="251.6" stroke="#f0852d" stroke-width="1.1"/>
<line x1="504.5" y1="247" x2="504.5" y2="251.6" stroke="#333" stroke-width="1.1"/>
<line x1="492.5" y1="247" x2="492.5" y2="251.6" stroke="#4a86c8" stroke-width="1.1"/>
<line x1="566.4" y1="154.5" x2="633.7" y2="154.5" stroke="#777" stroke-width="0.9" opacity="0.5"/>
<line x1="587.5" y1="152.5" x2="587.5" y2="157.1" stroke="#f0852d" stroke-width="1.1"/>
<line x1="599.5" y1="152.5" x2="599.5" y2="157.1" stroke="#333" stroke-width="1.1"/>
<line x1="576.5" y1="152.5" x2="576.5" y2="157.1" stroke="#4a86c8" stroke-width="1.1"/>
<line x1="567.7" y1="161.5" x2="597.7" y2="161.5" stroke="#777" stroke-width="0.9" opacity="0.5"/>
<line x1="569.5" y1="159.2" x2="569.5" y2="163.9" stroke="#f0852d" stroke-width="1.1"/>
<line x1="576.5" y1="159.2" x2="576.5" y2="163.9" stroke="#333" stroke-width="1.1"/>
<line x1="574.5" y1="159.2" x2="574.5" y2="163.9" stroke="#4a86c8" stroke-width="1.1"/>
<line x1="567.7" y1="168.5" x2="572" y2="168.5" stroke="#777" stroke-width="0.9" opacity="0.5"/>
<line x1="567.5" y1="166" x2="567.5" y2="170.6" stroke="#4a86c8" stroke-width="1.1"/>
<line x1="567.7" y1="175.5" x2="589.2" y2="175.5" stroke="#777" stroke-width="0.9" opacity="0.5"/>
<line x1="567.5" y1="172.8" x2="567.5" y2="177.4" stroke="#f0852d" stroke-width="1.1"/>
<line x1="573.5" y1="172.8" x2="573.5" y2="177.4" stroke="#333" stroke-width="1.1"/>
<line x1="569.5" y1="172.8" x2="569.5" y2="177.4" stroke="#4a86c8" stroke-width="1.1"/>
<line x1="571" y1="181.5" x2="597.7" y2="181.5" stroke="#777" stroke-width="0.9" opacity="0.5"/>
<line x1="585.5" y1="179.5" x2="585.5" y2="184.1" stroke="#f0852d" stroke-width="1.1"/>
<line x1="577.5" y1="179.5" x2="577.5" y2="184.1" stroke="#333" stroke-width="1.1"/>
<line x1="581.5" y1="179.5" x2="581.5" y2="184.1" stroke="#4a86c8" stroke-width="1.1"/>
<line x1="567.7" y1="188.5" x2="580" y2="188.5" stroke="#777" stroke-width="0.9" opacity="0.5"/>
<line x1="572.5" y1="186.2" x2="572.5" y2="190.9" stroke="#f0852d" stroke-width="1.1"/>
<line x1="568.5" y1="186.2" x2="568.5" y2="190.9" stroke="#333" stroke-width="1.1"/>
<line x1="574.5" y1="186.2" x2="574.5" y2="190.9" stroke="#4a86c8" stroke-width="1.1"/>
<line x1="567.7" y1="195.5" x2="593" y2="195.5" stroke="#777" stroke-width="0.9" opacity="0.5"/>
<line x1="569.5" y1="193" x2="569.5" y2="197.6" stroke="#f0852d" stroke-width="1.1"/>
<line x1="574.5" y1="193" x2="574.5" y2="197.6" stroke="#333" stroke-width="1.1"/>
<line x1="567.5" y1="193" x2="567.5" y2="197.6" stroke="#4a86c8" stroke-width="1.1"/>
<line x1="567.7" y1="202.5" x2="572" y2="202.5" stroke="#777" stroke-width="0.9" opacity="0.5"/>
<line x1="567.5" y1="199.8" x2="567.5" y2="204.4" stroke="#4a86c8" stroke-width="1.1"/>
<line x1="567.7" y1="208.5" x2="572" y2="208.5" stroke="#777" stroke-width="0.9" opacity="0.5"/>
<line x1="567.5" y1="206.5" x2="567.5" y2="211.1" stroke="#4a86c8" stroke-width="1.1"/>
<line x1="567.7" y1="215.5" x2="588" y2="215.5" stroke="#777" stroke-width="0.9" opacity="0.5"/>
<line x1="574.5" y1="213.2" x2="574.5" y2="217.9" stroke="#333" stroke-width="1.1"/>
<line x1="570.5" y1="213.2" x2="570.5" y2="217.9" stroke="#4a86c8" stroke-width="1.1"/>
<line x1="567.7" y1="222.5" x2="582" y2="222.5" stroke="#777" stroke-width="0.9" opacity="0.5"/>
<line x1="574.5" y1="220" x2="574.5" y2="224.6" stroke="#f0852d" stroke-width="1.1"/>
<line x1="570.5" y1="220" x2="570.5" y2="224.6" stroke="#333" stroke-width="1.1"/>
<line x1="572.5" y1="220" x2="572.5" y2="224.6" stroke="#4a86c8" stroke-width="1.1"/>
<line x1="567.7" y1="229.5" x2="578" y2="229.5" stroke="#777" stroke-width="0.9" opacity="0.5"/>
<line x1="568.5" y1="226.8" x2="568.5" y2="231.4" stroke="#333" stroke-width="1.1"/>
<line x1="567.7" y1="235.5" x2="585" y2="235.5" stroke="#777" stroke-width="0.9" opacity="0.5"/>
<line x1="571.5" y1="233.5" x2="571.5" y2="238.1" stroke="#333" stroke-width="1.1"/>
<line x1="567.5" y1="233.5" x2="567.5" y2="238.1" stroke="#4a86c8" stroke-width="1.1"/>
<line x1="567.7" y1="242.5" x2="580" y2="242.5" stroke="#777" stroke-width="0.9" opacity="0.5"/>
<line x1="574.5" y1="240.2" x2="574.5" y2="244.9" stroke="#f0852d" stroke-width="1.1"/>
<line x1="570.5" y1="240.2" x2="570.5" y2="244.9" stroke="#333" stroke-width="1.1"/>
<line x1="572.5" y1="240.2" x2="572.5" y2="244.9" stroke="#4a86c8" stroke-width="1.1"/>
<line x1="567.7" y1="249.5" x2="597.7" y2="249.5" stroke="#777" stroke-width="0.9" opacity="0.5"/>
<line x1="585.5" y1="247" x2="585.5" y2="251.6" stroke="#f0852d" stroke-width="1.1"/>
<line x1="577.5" y1="247" x2="577.5" y2="251.6" stroke="#333" stroke-width="1.1"/>
<line x1="610.5" y1="247" x2="610.5" y2="251.6" stroke="#4a86c8" stroke-width="1.1"/>
<line x1="568.3" y1="226.8" x2="568.3" y2="231.4" stroke="#111" stroke-width="1.8"/>
<line x1="489.5" y1="149.7" x2="489.5" y2="252.5" stroke="#555555" stroke-width="1.1"/>
<line x1="489" y1="252.5" x2="561" y2="252.5" stroke="#777" stroke-width="1.3"/>
<line x1="492.5" y1="252" x2="492.5" y2="254.2" stroke="#555555" stroke-width="0.9"/>
<text x="492.2" y="259.7" font-size="5.7" fill="#8c8c8c" text-anchor="middle" textLength="3.1" lengthAdjust="spacingAndGlyphs">0</text>
<line x1="505.5" y1="252" x2="505.5" y2="254.2" stroke="#555555" stroke-width="0.9"/>
<text x="505.1" y="259.7" font-size="5.7" fill="#8c8c8c" text-anchor="middle" textLength="9.2" lengthAdjust="spacingAndGlyphs">100</text>
<line x1="517.5" y1="252" x2="517.5" y2="254.2" stroke="#555555" stroke-width="0.9"/>
<text x="517.9" y="259.7" font-size="5.7" fill="#8c8c8c" text-anchor="middle" textLength="9.2" lengthAdjust="spacingAndGlyphs">200</text>
<line x1="530.5" y1="252" x2="530.5" y2="254.2" stroke="#555555" stroke-width="0.9"/>
<text x="530.7" y="259.7" font-size="5.7" fill="#8c8c8c" text-anchor="middle" textLength="9.2" lengthAdjust="spacingAndGlyphs">300</text>
<line x1="543.5" y1="252" x2="543.5" y2="254.2" stroke="#555555" stroke-width="0.9"/>
<text x="543.5" y="259.7" font-size="5.7" fill="#8c8c8c" text-anchor="middle" textLength="9.2" lengthAdjust="spacingAndGlyphs">400</text>
<line x1="556.5" y1="252" x2="556.5" y2="254.2" stroke="#555555" stroke-width="0.9"/>
<text x="556.3" y="259.7" font-size="5.7" fill="#8c8c8c" text-anchor="middle" textLength="9.2" lengthAdjust="spacingAndGlyphs">500</text>
<line x1="564.3" y1="252.5" x2="636.6" y2="252.5" stroke="#777" stroke-width="1.3"/>
<line x1="567.5" y1="252" x2="567.5" y2="254.2" stroke="#555555" stroke-width="0.9"/>
<text x="567.7" y="259.7" font-size="5.7" fill="#8c8c8c" text-anchor="middle" textLength="3.1" lengthAdjust="spacingAndGlyphs">0</text>
<line x1="590.5" y1="252" x2="590.5" y2="254.2" stroke="#555555" stroke-width="0.9"/>
<text x="590.4" y="259.7" font-size="5.7" fill="#8c8c8c" text-anchor="middle" textLength="6.2" lengthAdjust="spacingAndGlyphs">10</text>
<line x1="613.5" y1="252" x2="613.5" y2="254.2" stroke="#555555" stroke-width="0.9"/>
<text x="613" y="259.7" font-size="5.7" fill="#8c8c8c" text-anchor="middle" textLength="6.2" lengthAdjust="spacingAndGlyphs">20</text>
<line x1="635.5" y1="252" x2="635.5" y2="254.2" stroke="#555555" stroke-width="0.9"/>
<text x="635.6" y="259.7" font-size="5.7" fill="#8c8c8c" text-anchor="middle" textLength="6.2" lengthAdjust="spacingAndGlyphs">30</text>
<text x="485" y="157" font-size="5.98" fill="#6a6a6a" text-anchor="end" textLength="20.3" lengthAdjust="spacingAndGlyphs">01 TssA</text>
<text x="485" y="163.8" font-size="5.98" fill="#6a6a6a" text-anchor="end" textLength="31.9" lengthAdjust="spacingAndGlyphs">02 TssAFlnk</text>
<text x="485" y="170.5" font-size="5.98" fill="#6a6a6a" text-anchor="end" textLength="25.8" lengthAdjust="spacingAndGlyphs">03 TxFlnk</text>
<text x="485" y="177.3" font-size="5.98" fill="#6a6a6a" text-anchor="end" textLength="14.2" lengthAdjust="spacingAndGlyphs">04 Tx</text>
<text x="485" y="184" font-size="5.98" fill="#6a6a6a" text-anchor="end" textLength="22.5" lengthAdjust="spacingAndGlyphs">05 TxWk</text>
<text x="485" y="190.8" font-size="5.98" fill="#6a6a6a" text-anchor="end" textLength="22.1" lengthAdjust="spacingAndGlyphs">06 EnhG</text>
<text x="485" y="197.5" font-size="5.98" fill="#6a6a6a" text-anchor="end" textLength="18.1" lengthAdjust="spacingAndGlyphs">07 Enh</text>
<text x="485" y="204.3" font-size="5.98" fill="#6a6a6a" text-anchor="end" textLength="33.1" lengthAdjust="spacingAndGlyphs">08 ZNF/Rpts</text>
<text x="485" y="211" font-size="5.98" fill="#6a6a6a" text-anchor="end" textLength="17.3" lengthAdjust="spacingAndGlyphs">09 Het</text>
<text x="485" y="217.8" font-size="5.98" fill="#6a6a6a" text-anchor="end" textLength="25.2" lengthAdjust="spacingAndGlyphs">10 TssBiv</text>
<text x="485" y="224.5" font-size="5.98" fill="#6a6a6a" text-anchor="end" textLength="27.8" lengthAdjust="spacingAndGlyphs">11 BivFlnk</text>
<text x="485" y="231.3" font-size="5.98" fill="#6a6a6a" text-anchor="end" textLength="26.6" lengthAdjust="spacingAndGlyphs">12 EnhBiv</text>
<text x="485" y="238" font-size="5.98" fill="#6a6a6a" text-anchor="end" textLength="28.1" lengthAdjust="spacingAndGlyphs">13 ReprPC</text>
<text x="485" y="244.8" font-size="5.98" fill="#6a6a6a" text-anchor="end" textLength="36.4" lengthAdjust="spacingAndGlyphs">14 ReprPCWk</text>
<text x="485" y="251.5" font-size="5.98" fill="#6a6a6a" text-anchor="end" textLength="23" lengthAdjust="spacingAndGlyphs">15 Quies</text>
<text x="443.6" y="201.4" font-size="7" fill="#333333" text-anchor="middle" font-weight="bold" textLength="52.2" lengthAdjust="spacingAndGlyphs" transform="rotate(-90 443.6 201.4) translate(0 2.4)">Chromatin states</text>
<text x="524.8" y="147.9" font-size="6.35" fill="#2b78c1" font-weight="bold" text-anchor="middle" textLength="54.5" lengthAdjust="spacingAndGlyphs">CRC hyper-mCpGs</text>
<text x="600.4" y="147.9" font-size="6.35" fill="#2b78c1" font-weight="bold" text-anchor="middle" textLength="52.7" lengthAdjust="spacingAndGlyphs">CRC hypo-mCpGs</text>
<text x="562.5" y="271.5" font-size="6.35" fill="#3a3a3a" font-weight="bold" text-anchor="middle" textLength="117.8" lengthAdjust="spacingAndGlyphs">CpG sites overlapping chromatin states</text>
<rect x="624.4" y="183.1" width="2.5" height="9.2" fill="#f0852d"/>
<text x="631.3" y="190" font-size="6.07" fill="#555" textLength="30.4" lengthAdjust="spacingAndGlyphs">Alpha=0.05</text>
<rect x="624.4" y="196.9" width="2.5" height="9.2" fill="#111"/>
<text x="631.3" y="203.8" font-size="6.07" fill="#555" textLength="25.4" lengthAdjust="spacingAndGlyphs">Expected</text>
<rect x="624.4" y="210.7" width="2.5" height="9.2" fill="#4a86c8"/>
<text x="631.3" y="217.6" font-size="6.07" fill="#555" textLength="26.2" lengthAdjust="spacingAndGlyphs">Observed</text>
<text x="6" y="286.1" font-size="8.1" fill="#2b78c1" font-weight="bold" textLength="37.8" lengthAdjust="spacingAndGlyphs">Trends by</text>
<text x="5.8" y="297" font-size="8.1" fill="#2b78c1" font-weight="bold" textLength="42.6" lengthAdjust="spacingAndGlyphs">Cancer site</text>
<text x="5.8" y="312.8" font-size="8.1" fill="#333333" font-weight="bold" textLength="5.1" lengthAdjust="spacingAndGlyphs">d</text>
<text x="236.5" y="292.8" font-size="8.1" fill="#333333" font-weight="bold" textLength="4.6" lengthAdjust="spacingAndGlyphs">e</text>
<text x="371.8" y="292.8" font-size="8.1" fill="#333333" font-weight="bold" textLength="2.7" lengthAdjust="spacingAndGlyphs">f</text>
<text x="503.5" y="292.8" font-size="8.1" fill="#333333" font-weight="bold" textLength="4.6" lengthAdjust="spacingAndGlyphs">g</text>
<line x1="86.5" y1="292.4" x2="86.5" y2="405.2" stroke="#d2d7da" stroke-width="0.8"/>
<line x1="123.5" y1="292.4" x2="123.5" y2="405.2" stroke="#d2d7da" stroke-width="0.8"/>
<line x1="160.5" y1="292.4" x2="160.5" y2="405.2" stroke="#d2d7da" stroke-width="0.8"/>
<line x1="58.4" y1="400.5" x2="188.7" y2="400.5" stroke="#d2d7da" stroke-width="0.8"/>
<line x1="58.4" y1="375.5" x2="188.7" y2="375.5" stroke="#d2d7da" stroke-width="0.8"/>
<line x1="58.4" y1="351.5" x2="188.7" y2="351.5" stroke="#d2d7da" stroke-width="0.8"/>
<line x1="58.4" y1="326.5" x2="188.7" y2="326.5" stroke="#d2d7da" stroke-width="0.8"/>
<line x1="58.4" y1="302.5" x2="188.7" y2="302.5" stroke="#d2d7da" stroke-width="0.8"/>
<line x1="123.5" y1="292" x2="123.5" y2="405.2" stroke="#dc4149" stroke-width="1.0" stroke-dasharray="1 1"/>
<line x1="58" y1="387.5" x2="188.7" y2="387.5" stroke="#dc4149" stroke-width="1.0" stroke-dasharray="1 1"/>
<g transform="scale(.5)" stroke-linecap="round" stroke-width="5" opacity="0.85"><path d="M215 783h0m12 1h0" stroke="#e8623a"/><path d="M262 783h0m17-46h0m1 1h0m1 12h0" stroke="#4a69b8"/><path d="M306 667h0m16-64h0m11 13h0m6 60h0m1-48h0" stroke="#a7c44c"/><path d="M240 799h0m2-4h0m7 3h0m1 1h0m1-2h0m6-15h0m18-21h0" stroke="#4d70b6"/><path d="M292 682h0m10-2h0m9-12h0m20-40h0m5-20h0m7 27h0m5-7h0m4-13h0" stroke="#f6b73c"/><path d="M247 800h0m7-9h0m5-15h0m4-11h0m0 9h0m19-30h0m8-25h0m9-11h0m24-51h0m20-54h0" stroke="#d8c23c"/><path d="M226 792h0m4-2h0m7 5h0m2-8h0m11 12h0m10-12h0m2 1h0m3-1h0m1-4h0m3-7h0m6-7h0m1-1h0m0 1h0m5-14h0m4-7h0m7-21h0m16-14h0" stroke="#86bc44"/><path d="M250 792h0m4 1h0m2 2h0m1-9h0m2 0h0m2-13h0m0 8h0m1 2h0m8-26h0m3 6h0m1-9h0m5-15h0m6-14h0m4-5h0m2 5h0m11-24h0m4-3h0" stroke="#7f7f7f"/><path d="M212 786h0m0 3h0m3-2h0m2 1h0m1-8h0m0 10h0m4-28h0m0 29h0m11 6h0m1-1h0m1-33h0m1 31h0m1-9h0m1 14h0m3-6h0m1-2h0m0 3h0" stroke="#f29236"/><path d="M249 798h0m0 1h0m4-10h0m6-5h0m1-5h0m0 4h0m3-3h0m2-2h0m1-5h0m3-5h0m2-11h0m0 10h0m3-24h0m6 4h0m1-3h0m0 4h0m4-13h0m5-32h0m1 26h0m1-11h0m2-11h0m3 2h0m3-13h0m1-7h0m2 0h0" stroke="#5d7f95"/><path d="M252 797h0m1-1h0m3-3h0m1 0h0m0 2h0m1-3h0m1-1h0m0 2h0m2-8h0m4 2h0m1 1h0m1-10h0m2-5h0m2 9h0m2-17h0m3 0h0m0 12h0m1-4h0m4-17h0m0 5h0m1-6h0m1-2h0m0 18h0m2-20h0m25-128h0m10 7h0m2 25h0m2 18h0m5-75h0" stroke="#66b247"/><path d="M211 787h0m1 8h0m1-8h0m3-5h0m2-1h0m0 10h0m1-19h0m2 1h0m1 13h0m1 5h0m1-32h0m17 33h0m7 7h0m4-6h0m5-4h0m7-10h0m1-3h0m17-80h0m13 13h0m8-26h0m0 6h0m2 1h0m2-26h0m3 16h0m1-50h0m1 16h0m14-11h0m2-18h0m15 15h0" stroke="#f5a53a"/><path d="M252 796h0m2-5h0m0 3h0m1-1h0m1-1h0m1-5h0m2 1h0m0 4h0m2-17h0m1 10h0m1 0h0m2-6h0m4-16h0m1-1h0m0 18h0m2 6h0m4-18h0m1 7h0m3 0h0m2-15h0m1-11h0m1-6h0m0 11h0m0 6h0m1-24h0m0 14h0m1-16h0m6-24h0m1 17h0m4-32h0m1 32h0m1-26h0m3 26h0m1-11h0m4-41h0m0 23h0m4-59h0m3 47h0m3-47h0m8 45h0m10 4h0" stroke="#3a9a5c"/><path d="M217 791h0m0 4h0m3-9h0m0 6h0m3-16h0m0 5h0m0 9h0m0 3h0m8-10h0m8 8h0m3 1h0m7 5h0m6-6h0m5-5h0m1-2h0m1-13h0m4-1h0m9-27h0m0 6h0m0 10h0m3-20h0m9-17h0m11-12h0m4-61h0m1 1h0m2 36h0m7-57h0m2-1h0m0 49h0m3-33h0m0 26h0m2-38h0m0 30h0m2 12h0m3-67h0m4 24h0m1-5h0m7-7h0m2 25h0m3 7h0m4-52h0m12 19h0" stroke="#f2c53a"/><path d="M212 780h0m5-2h0m1 1h0m0 13h0m2-1h0m1-65h0m3 63h0m1-12h0m2-4h0m1 9h0m0 12h0m2-11h0m5 2h0m4 6h0m19-1h0m2-1h0m2-5h0m0 1h0m2 4h0m2-4h0m1-7h0m0 11h0m1-3h0m1-6h0m1-7h0m0 3h0m2-6h0m0 3h0m1-3h0m2-2h0m2-8h0m0 9h0m1-12h0m3-3h0m2-6h0m1 6h0m0 17h0m3-8h0m1-1h0m1-15h0m4-15h0m4-13h0m5 2h0m3-11h0m0 7h0m8-14h0m7-17h0" stroke="#52a84c"/><path d="M210 787h0m14-4h0m2 4h0m3 4h0m2-8h0m3 11h0m1 2h0m1-7h0m2 0h0m1 7h0m1 0h0m1-1h0m0 5h0m3-3h0m1 1h0m0 2h0m1 0h0m1 0h0m1-1h0m1 0h0m1-1h0m2-4h0m0 1h0m0 2h0m1-3h0m0 1h0m1-2h0m1 2h0m1-1h0m2-3h0m2-1h0m2-11h0m1 9h0m2-13h0m3-8h0m0 2h0m0 11h0m4-21h0m2-7h0m0 7h0m1-7h0m2-37h0m0 45h0m1-16h0m3-20h0m0 30h0m1 7h0m1-11h0m2-38h0m0 27h0m0 27h0m15-71h0m5 11h0m1-12h0m0 10h0m2 5h0m7-21h0" stroke="#3a83b1"/><path d="M213 793h0m1-2h0m0 2h0m1-22h0m0 19h0m5-1h0m1-3h0m1 7h0m1-7h0m0 2h0m1 9h0m1-11h0m0 8h0m1-52h0m0 28h0m1 16h0m0 3h0m0 8h0m3-6h0m3 1h0m1 2h0m0 3h0m1-5h0m2-3h0m1-5h0m1 7h0m0 5h0m2-1h0m0 2h0m1-2h0m1 0h0m0 1h0m0 4h0m1-3h0m0 2h0m1 0h0m0 1h0m1 0h0m1 0h0m1-1h0m0 1h0m1-2h0m0 1h0m0 1h0m1-3h0m0 1h0m0 1h0m1-4h0m0 1h0m0 2h0m0 1h0m1-8h0m0 4h0m0 1h0m0 1h0m1-4h0m0 2h0m0 1h0m1-1h0m0 2h0m1-8h0m0 3h0m0 2h0m0 2h0m1-15h0m0 9h0m0 2h0m0 2h0m2 3h0m2-15h0m1 1h0m0 2h0m1-1h0m1-13h0m0 4h0m3-16h0m1 16h0m1 0h0m0 7h0m1-20h0m0 21h0m2-28h0m0 9h0m0 10h0m0 5h0m2-6h0m3-27h0m0 6h0m0 14h0m1-4h0m1 4h0m1-7h0m1-30h0m1-3h0m0 31h0m2 5h0m2-39h0m3 30h0m1-66h0m1 6h0m0 27h0m5-7h0m4 9h0m5 0h0m1 0h0m3-22h0m16-16h0" stroke="#3b8f8c"/><path d="M144 775h0m66 11h0m0 1h0m0 1h0m0 3h0m0 1h0m1-14h0m0 14h0m0 1h0m0 2h0m1-51h0m0 46h0m1-11h0m0 9h0m0 1h0m0 1h0m0 1h0m0 3h0m1-23h0m0 4h0m0 15h0m0 4h0m0 2h0m1-27h0m0 8h0m0 6h0m0 7h0m0 2h0m0 3h0m1-19h0m0 6h0m0 8h0m1-10h0m0 4h0m0 3h0m0 1h0m0 5h0m1-23h0m0 9h0m0 2h0m0 6h0m1-14h0m0 5h0m0 9h0m0 4h0m0 1h0m1-19h0m0 1h0m0 1h0m0 5h0m0 13h0m0 3h0m0 1h0m1-32h0m0 6h0m0 23h0m1-10h0m0 6h0m0 1h0m0 1h0m1-48h0m0 21h0m0 10h0m0 5h0m0 5h0m0 5h0m0 4h0m0 3h0m1-93h0m0 43h0m0 23h0m0 15h0m1-22h0m0 3h0m0 16h0m0 1h0m0 13h0m0 2h0m1-21h0m0 7h0m0 1h0m0 2h0m0 5h0m0 2h0m1-25h0m0 7h0m0 13h0m0 3h0m0 2h0m0 3h0m1-8h0m0 5h0m1-25h0m0 4h0m0 16h0m0 6h0m0 1h0m1-26h0m0 18h0m0 9h0m1-11h0m0 9h0m0 3h0m1-25h0m0 6h0m0 4h0m0 11h0m1-17h0m0 6h0m0 10h0m0 2h0m0 4h0m1-24h0m0 3h0m0 2h0m0 5h0m0 1h0m0 2h0m0 1h0m0 2h0m0 5h0m0 2h0m1-19h0m0 5h0m0 10h0m0 1h0m1-12h0m0 4h0m0 10h0m0 1h0m1-11h0m0 2h0m0 2h0m0 5h0m1-12h0m0 3h0m0 2h0m0 7h0m1-12h0m0 7h0m0 2h0m1-5h0m0 1h0m1-3h0m0 5h0m0 1h0m1-15h0m1 18h0m1 2h0m5 1h0m4-2h0m1-2h0m1-4h0m0 2h0m2-6h0m0 1h0m2 0h0m0 1h0m1-6h0m4-6h0m0 4h0m0 1h0m1-2h0m1-11h0m0 10h0m2-13h0m2 5h0m2-8h0m0 10h0m3-7h0m1-19h0m1-1h0m0 10h0m2 3h0m2-1h0m1 6h0m1-37h0m0 34h0m1-24h0m1-17h0m0 33h0m1-34h0m0 29h0m3-21h0m0 16h0m2-7h0m4-56h0m3-2h0m0 19h0m0 18h0m0 23h0m1-32h0m1 7h0m3-81h0m1 43h0m1 6h0m2 4h0m1-27h0m0 7h0m1 13h0m0 13h0m4-24h0m0 7h0m0 11h0m1-2h0m1-38h0m0 25h0m2-21h0m0 67h0m1-94h0m1-3h0m0 54h0m1-29h0m1-23h0m0 48h0m1-60h0m2 4h0m0 34h0m0 22h0m1-25h0m0 12h0m0 29h0m1-82h0m0 27h0m6-32h0m0 54h0m0 4h0m0 11h0m1 11h0m0 3h0m1-42h0m1 0h0m1-14h0m0 3h0m0 15h0m5-36h0m2 29h0m4-35h0m2 10h0m1 38h0m5-35h0m2 0h0" stroke="#ef7b2d"/><path d="M259 785h0" stroke="#4a69b8"/><path d="M216 796h0m1-5h0m22 1h0" stroke="#e8623a"/><path d="M313 640h0m5 32h0m9-30h0m4-43h0m1 26h0m10 25h0m12-20h0" stroke="#a7c44c"/><path d="M309 669h0m2-47h0m1 42h0m6-38h0m2 25h0m3-3h0m4 5h0m0 2h0m15-39h0m4 6h0" stroke="#f6b73c"/><path d="M253 795h0m2-4h0m4-4h0m2-3h0m1-12h0m9-3h0m6-23h0m47-98h0m5 12h0m5-2h0m6-24h0" stroke="#d8c23c"/><path d="M214 779h0m0 15h0m1-12h0m2 7h0m1-9h0m1-74h0m1 73h0m2 15h0m2-6h0m6-2h0m2 11h0" stroke="#f29236"/><path d="M242 799h0m5 1h0m1-1h0m0 1h0m3-5h0m1 0h0m0 3h0m1-3h0m4-6h0m1-5h0m4-5h0m5-10h0m5-12h0m0 2h0m1-4h0m3 2h0" stroke="#4d70b6"/><path d="M211 790h0m1 0h0m3-119h0m10 116h0m11 9h0m25-11h0m0 7h0m3-6h0m2-8h0m9-12h0m0 3h0m2-12h0m8 0h0m1-13h0m0 28h0m6-31h0m16-45h0m0 12h0m11-3h0" stroke="#86bc44"/><path d="M252 794h0m2 0h0m3-3h0m2-4h0m2-6h0m1 0h0m3-31h0m1 14h0m1 6h0m0 4h0m1-2h0m1-11h0m1 9h0m1-3h0m1-6h0m1-11h0m3-10h0m1 12h0m0 2h0m1 0h0m4-9h0m2 0h0m8-35h0m8-1h0m1-24h0" stroke="#5d7f95"/><path d="M215 790h0m5 6h0m10-15h0m1-2h0m4 2h0m0 2h0m2 9h0m8 6h0m8-2h0m4-6h0m0 1h0m2-3h0m5-7h0m1-2h0m0 1h0m0 3h0m0 1h0m2-3h0m2-8h0m1-1h0m0 6h0m1-5h0m9-5h0m2 2h0m2-6h0m0 4h0m1-17h0m2-4h0m10-19h0m8-22h0m2 7h0m1-12h0" stroke="#52a84c"/><path d="M210 794h0m7-13h0m3 0h0m2 4h0m1 1h0m10-7h0m1 12h0m4 5h0m3-6h0m15-6h0m1 0h0m2 3h0m6-9h0m4-17h0m0 3h0m8-17h0m4-5h0m1-33h0m15-46h0m3 45h0m1-9h0m1-31h0m3-11h0m2 7h0m3 13h0m2-24h0m6 14h0m1-27h0m3 35h0m8-50h0m6 17h0m2-10h0m5-20h0" stroke="#f2c53a"/><path d="M247 800h0m1 0h0m3-3h0m1-9h0m1 3h0m2 3h0m0 1h0m1-3h0m0 3h0m1-2h0m1-4h0m3-8h0m1-6h0m1 3h0m0 6h0m0 1h0m3-26h0m0 18h0m9-31h0m0 6h0m0 22h0m3-25h0m2 3h0m0 7h0m1-14h0m4-4h0m4-6h0m0 3h0m3 9h0m1-13h0m6 10h0m2-22h0m26-68h0" stroke="#3a9a5c"/><path d="M216 783h0m1 7h0m1-9h0m1 4h0m4-2h0m6-10h0m2 21h0m1-2h0m4-11h0m0 11h0m3 0h0m3 2h0m0 3h0m5 3h0m5-7h0m1 0h0m8-10h0m5-16h0m1 4h0m2-15h0m2-3h0m0 15h0m4-7h0m9-32h0m19-64h0m3-18h0m0 19h0m8-21h0m1 17h0m2-40h0m0 47h0m17-37h0m1-13h0m6 19h0m12-40h0" stroke="#f5a53a"/><path d="M255 794h0m1-1h0m2-3h0m1-1h0m3-4h0m0 1h0m1-3h0m2-3h0m0 2h0m1-4h0m3-5h0m1 2h0m0 1h0m1-7h0m1 4h0m2-4h0m4-10h0m0 24h0m2-26h0m1 0h0m4-7h0m0 18h0m5-36h0m1 8h0m3 3h0m6-28h0m1-1h0m1-74h0m4 40h0m1 33h0m3-2h0m8-12h0m8-55h0m2 12h0m5-15h0m6-23h0" stroke="#66b247"/><path d="M249 798h0m0 1h0m6-7h0m1-2h0m3-1h0m0 3h0m1-10h0m3-16h0m1 12h0m1 0h0m1-2h0m2-11h0m3 19h0m1-27h0m1-25h0m0 25h0m0 5h0m2-7h0m0 3h0m2-19h0m3 12h0m3-18h0m1 13h0m1-21h0m1 16h0m1-5h0m2-14h0m0 10h0m3-5h0m2-1h0m2 1h0m3-15h0m7 4h0m1-26h0m3-3h0m7 4h0m1 5h0" stroke="#7f7f7f"/><path d="M213 788h0m1-12h0m2 9h0m1 11h0m1-30h0m10 15h0m0 16h0m7-12h0m9 11h0m0 1h0m0 1h0m1 0h0m1 1h0m1 1h0m1-1h0m0 1h0m1-3h0m0 2h0m1-1h0m0 1h0m1-3h0m0 1h0m1-2h0m0 1h0m0 1h0m1-3h0m0 1h0m0 1h0m0 1h0m2-8h0m2 0h0m3-1h0m1-6h0m3-4h0m2 1h0m1 3h0m2-15h0m1 7h0m1-6h0m1-16h0m1-7h0m1 1h0m0 5h0m3 18h0m2-23h0m2-21h0m0 35h0m2-21h0m0 32h0m2-35h0m2 21h0m2-34h0m1-13h0m5-13h0m2-4h0m0 10h0m1 5h0m1-10h0" stroke="#3a83b1"/><path d="M212 791h0m3-3h0m1 7h0m2-3h0m1-6h0m2 0h0m0 10h0m3-3h0m1-11h0m4-4h0m1-9h0m0 29h0m4-16h0m0 15h0m1-17h0m0 13h0m1-2h0m2 7h0m1-5h0m1 3h0m1-4h0m0 4h0m0 3h0m1-3h0m0 1h0m1-2h0m0 2h0m0 1h0m1-2h0m0 1h0m0 1h0m0 1h0m1 0h0m1 0h0m1 1h0m1-1h0m0 1h0m1-2h0m0 1h0m1-4h0m0 2h0m0 1h0m0 1h0m1-4h0m0 1h0m0 1h0m0 2h0m1-4h0m0 1h0m0 1h0m1-4h0m0 2h0m0 1h0m1-6h0m0 3h0m0 4h0m1-10h0m0 4h0m0 4h0m1-7h0m1 5h0m1-5h0m2-4h0m0 2h0m1-13h0m0 13h0m0 1h0m0 2h0m2-12h0m0 6h0m1-2h0m2-10h0m3 1h0m0 6h0m1 1h0m1-24h0m0 14h0m0 1h0m0 4h0m2-15h0m0 4h0m1-43h0m0 35h0m4-17h0m0 3h0m0 8h0m3-61h0m0 76h0m1-10h0m1-25h0m2 6h0m1 0h0m0 22h0m1-9h0m1-20h0m4-18h0m4 4h0m1-7h0m3-8h0m0 32h0m2-39h0m3 1h0m8 2h0" stroke="#3b8f8c"/><path d="M208 789h0m2-23h0m0 25h0m0 1h0m0 1h0m1-24h0m0 18h0m0 2h0m0 2h0m0 4h0m1-16h0m0 8h0m0 3h0m0 2h0m0 4h0m1-3h0m0 1h0m1-16h0m0 3h0m0 3h0m0 2h0m0 1h0m0 2h0m1-19h0m0 17h0m0 4h0m0 1h0m1-10h0m0 11h0m1-44h0m0 30h0m0 12h0m0 2h0m1-14h0m0 6h0m0 5h0m0 5h0m1-57h0m0 7h0m0 16h0m0 12h0m0 11h0m0 3h0m0 2h0m0 5h0m0 1h0m0 2h0m1-23h0m0 3h0m0 3h0m0 5h0m0 6h0m0 1h0m0 3h0m1-15h0m0 4h0m0 1h0m0 10h0m0 1h0m1-29h0m0 2h0m0 2h0m0 16h0m0 2h0m0 7h0m1-28h0m0 1h0m0 6h0m0 1h0m0 1h0m0 3h0m0 7h0m0 6h0m0 1h0m1-18h0m0 17h0m0 3h0m1-19h0m0 5h0m0 1h0m0 3h0m0 3h0m0 8h0m1-54h0m0 22h0m0 13h0m0 16h0m1-28h0m0 1h0m0 23h0m1-15h0m0 9h0m0 2h0m0 3h0m0 2h0m0 2h0m1-47h0m0 30h0m0 6h0m0 1h0m0 6h0m0 8h0m1-36h0m0 22h0m0 6h0m0 4h0m1-14h0m0 6h0m0 2h0m0 7h0m1-19h0m0 5h0m1 6h0m0 4h0m1-2h0m0 2h0m0 4h0m0 5h0m1-16h0m0 2h0m0 1h0m0 1h0m0 3h0m0 4h0m0 3h0m0 2h0m1-36h0m0 21h0m0 2h0m0 2h0m0 4h0m0 6h0m1-15h0m0 9h0m0 1h0m0 4h0m0 2h0m2-9h0m0 1h0m1-1h0m0 1h0m0 1h0m0 5h0m1-4h0m0 1h0m0 3h0m1-3h0m0 4h0m1-5h0m0 5h0m1 2h0m1-1h0m1 1h0m1 0h0m3-2h0m2-4h0m0 1h0m1-2h0m1-2h0m0 2h0m0 1h0m2-1h0m1 2h0m1-12h0m0 12h0m1-15h0m0 4h0m1-10h0m1 8h0m1 0h0m0 3h0m0 6h0m2-16h0m0 9h0m2-32h0m2 16h0m0 1h0m1-21h0m0 20h0m1 12h0m1-18h0m1 5h0m0 2h0m1-5h0m1-15h0m3 1h0m0 13h0m1-14h0m0 21h0m4-39h0m0 24h0m1-34h0m1-8h0m0 9h0m1 3h0m0 12h0m1-13h0m1 34h0m1-26h0m1-1h0m1 5h0m0 7h0m4-44h0m2 1h0m3-23h0m2 14h0m0 19h0m2-69h0m0 39h0m0 11h0m2-14h0m1-76h0m0 54h0m0 26h0m1-10h0m1-13h0m0 12h0m2-9h0m0 5h0m0 14h0m2 10h0m0 13h0m2-70h0m3-13h0m0 57h0m1-59h0m0 57h0m1-31h0m0 35h0m2-37h0m1-18h0m1 7h0m0 24h0m1-17h0m3-10h0m0 4h0m1-34h0m0 33h0m1 24h0m4-34h0m0 4h0m3 27h0m2-41h0m0 42h0m3-21h0m2 7h0m0 14h0m1-28h0m3-16h0" stroke="#ef7b2d"/><path d="M254 793h0m8-14h0m34-67h0" stroke="#4a69b8"/><path d="M303 675h0m8-21h0m7 6h0m2-56h0m26 44h0" stroke="#a7c44c"/><path d="M229 797h0m2-18h0m4 6h0m0 4h0m1-24h0m3 27h0" stroke="#e8623a"/><path d="M302 671h0m13 3h0m2-67h0m6 62h0m5-39h0m6-1h0m1-17h0" stroke="#f6b73c"/><path d="M260 783h0m6-21h0m9-6h0m5-21h0m27-65h0m15-17h0m0 27h0m9-32h0m1-22h0m15-14h0" stroke="#d8c23c"/><path d="M214 794h0m1-13h0m1-6h0m0 14h0m5 5h0m1 2h0m2-28h0m1 29h0m2-30h0m2 3h0m0 27h0m5-14h0m4 2h0m1 2h0m3 4h0" stroke="#f29236"/><path d="M252 793h0m3-4h0m2-5h0m0 4h0m0 2h0m2-8h0m2 0h0m5-15h0m0 9h0m11-27h0m1 6h0m2-10h0m4-31h0m1 19h0m1 6h0m2-6h0m5-14h0" stroke="#5d7f95"/><path d="M240 796h0m0 2h0m3 2h0m1 0h0m2 0h0m5-3h0m2 1h0m3-10h0m3-3h0m5-7h0m2-2h0m4-10h0m6-26h0m0 8h0m3-2h0m1-4h0m14-27h0" stroke="#4d70b6"/><path d="M248 800h0m2-7h0m3-2h0m0 2h0m0 3h0m1-5h0m0 1h0m0 2h0m1-6h0m0 4h0m2 3h0m9-23h0m5-6h0m7-12h0m0 15h0m3-41h0m8-7h0m8-34h0m9 0h0" stroke="#7f7f7f"/><path d="M213 784h0m1 5h0m2-3h0m3-23h0m11 14h0m2 10h0m3 6h0m1 5h0m3-8h0m0 7h0m3 0h0m1-1h0m10 0h0m3-5h0m1 2h0m2 0h0m16-23h0m2-6h0m2-7h0m3 1h0m1 2h0m1-11h0m2-8h0m2-1h0m34-57h0" stroke="#86bc44"/><path d="M210 791h0m0 2h0m2-18h0m1 7h0m0 6h0m1-1h0m0 9h0m6-6h0m5 3h0m2-5h0m3 9h0m18 3h0m3-2h0m4-4h0m5-4h0m3-6h0m5-8h0m1-1h0m5 0h0m2-13h0m0 1h0m1 6h0m4-14h0m3-8h0m9-19h0m4-11h0m17-14h0" stroke="#52a84c"/><path d="M255 793h0m0 3h0m1 0h0m3-2h0m1-7h0m3-5h0m1-2h0m1 4h0m3-5h0m6-8h0m1-7h0m3-6h0m0 3h0m0 3h0m4-12h0m1 12h0m1-9h0m1 10h0m1-18h0m1-5h0m19-31h0m0 4h0m1-49h0m0 56h0m5-36h0m7-16h0m2-43h0m7-20h0m21-4h0" stroke="#66b247"/><path d="M210 784h0m0 5h0m4 6h0m1 1h0m1-6h0m0 2h0m8-1h0m4-5h0m1 7h0m2-8h0m0 3h0m8-36h0m2 41h0m1-1h0m6 8h0m4-6h0m5-4h0m22-45h0m1-8h0m2-3h0m7-24h0m4 8h0m5-5h0m8-60h0m7 16h0m3-1h0m12-1h0m3-34h0m4-12h0m1-13h0" stroke="#f5a53a"/><path d="M247 800h0m1-1h0m3-6h0m4-14h0m0 10h0m0 8h0m2-8h0m0 3h0m1-1h0m1 1h0m1-7h0m2-7h0m1-16h0m0 15h0m0 8h0m1-7h0m1 1h0m3-2h0m0 1h0m2-16h0m1 1h0m0 9h0m2-1h0m6-29h0m0 14h0m1 17h0m2-20h0m4-13h0m1 12h0m6-59h0m1 43h0m8-30h0m2 5h0m6-1h0m1-55h0m11 28h0m1-46h0m3-8h0m5 7h0" stroke="#3a9a5c"/><path d="M210 784h0m1 12h0m2-92h0m4 93h0m1-24h0m1 3h0m11 10h0m7 12h0m3-8h0m2 9h0m4 0h0m6-8h0m1 1h0m2 0h0m2-5h0m1-1h0m7-8h0m11-24h0m5-33h0m0 6h0m4 13h0m1-22h0m1 16h0m0 1h0m8-32h0m10-37h0m2-26h0m2 10h0m2-1h0m0 31h0m1-24h0m7 17h0m2-22h0m4-22h0m0 30h0m1-35h0m1 3h0m1 8h0m0 28h0m1-41h0m0 16h0m2-3h0m3 45h0m4-66h0m3-11h0m1 2h0m6 25h0" stroke="#f2c53a"/><path d="M213 772h0m3 2h0m7 18h0m1-25h0m5 23h0m1-18h0m2 9h0m3 4h0m5 12h0m1-2h0m0 1h0m1 1h0m0 2h0m1-2h0m2 3h0m2 0h0m1 0h0m1-2h0m0 1h0m1-1h0m0 1h0m1-4h0m0 1h0m1-1h0m0 1h0m1-1h0m1-5h0m1 3h0m3-5h0m1-2h0m2-3h0m0 1h0m2 5h0m4-9h0m1-4h0m1-3h0m2-13h0m0 14h0m0 6h0m2-12h0m2 0h0m0 6h0m1-22h0m3 16h0m1-45h0m1 20h0m0 11h0m1-7h0m2-7h0m1 27h0m2-47h0m6-13h0m0 34h0m8-24h0m3-16h0m8-7h0m8 0h0" stroke="#3a83b1"/><path d="M211 788h0m1-10h0m1 13h0m1-5h0m3 1h0m3-2h0m0 1h0m1-11h0m0 22h0m1-19h0m0 10h0m0 3h0m3-17h0m2 22h0m2 0h0m2 0h0m2-6h0m0 3h0m0 3h0m2-9h0m0 3h0m2-2h0m2 8h0m0 2h0m1-7h0m0 6h0m1-39h0m0 38h0m1-3h0m0 2h0m0 4h0m1-4h0m0 2h0m0 2h0m1-2h0m0 2h0m0 1h0m1-1h0m2 1h0m1-1h0m0 1h0m1-2h0m0 1h0m1-3h0m0 1h0m0 1h0m0 1h0m1-2h0m0 1h0m1-5h0m0 2h0m0 1h0m0 1h0m1-3h0m0 1h0m0 1h0m2 0h0m1-10h0m0 3h0m0 1h0m1-5h0m1 2h0m0 1h0m1-1h0m0 1h0m0 1h0m0 1h0m0 1h0m1-4h0m0 2h0m2-16h0m0 3h0m1-3h0m1 10h0m1-14h0m0 19h0m1-5h0m2-24h0m2 8h0m0 13h0m1-7h0m1 2h0m3-24h0m0 10h0m1 5h0m0 11h0m1-42h0m0 14h0m2-4h0m1 15h0m1-14h0m1-13h0m2 2h0m0 11h0m2-20h0m0 8h0m0 1h0m4-28h0m1 11h0m1 10h0m8-26h0m1-14h0m1 9h0m2-10h0m0 12h0m3 10h0m0 4h0m1 15h0" stroke="#3b8f8c"/><path d="M210 786h0m0 2h0m0 2h0m0 3h0m1-6h0m0 1h0m0 1h0m0 2h0m0 1h0m0 1h0m0 2h0m0 1h0m1-9h0m1-12h0m0 1h0m0 2h0m0 6h0m0 12h0m0 1h0m1-19h0m0 6h0m0 6h0m0 3h0m0 2h0m1-25h0m0 9h0m0 4h0m0 5h0m0 3h0m0 1h0m0 1h0m0 2h0m1-26h0m0 9h0m0 5h0m0 2h0m0 6h0m0 3h0m1-4h0m0 4h0m1-18h0m0 6h0m0 1h0m0 1h0m0 1h0m0 1h0m0 1h0m0 1h0m0 1h0m0 2h0m0 1h0m0 4h0m0 1h0m1-27h0m0 9h0m0 15h0m1-32h0m0 13h0m0 8h0m0 12h0m0 1h0m1-24h0m0 9h0m0 4h0m0 4h0m0 1h0m1-58h0m0 40h0m0 2h0m0 1h0m0 1h0m0 8h0m0 3h0m0 2h0m0 9h0m1-47h0m0 21h0m0 9h0m0 1h0m0 13h0m1-53h0m0 29h0m0 5h0m0 8h0m0 14h0m1-38h0m0 7h0m0 26h0m1-15h0m0 6h0m0 9h0m0 2h0m1-11h0m0 14h0m1-19h0m0 1h0m0 7h0m0 4h0m0 3h0m0 1h0m0 1h0m1-28h0m0 16h0m1-25h0m0 12h0m0 5h0m0 8h0m0 1h0m1-13h0m0 8h0m0 2h0m0 1h0m0 6h0m0 1h0m0 4h0m1-14h0m0 4h0m0 1h0m0 2h0m0 11h0m1-22h0m0 10h0m1-6h0m0 2h0m0 2h0m0 15h0m1-19h0m0 2h0m0 2h0m0 1h0m0 1h0m0 7h0m0 2h0m0 2h0m1-17h0m0 2h0m0 4h0m0 3h0m0 5h0m0 2h0m1-13h0m0 3h0m0 5h0m0 2h0m0 1h0m0 3h0m1-9h0m0 3h0m0 2h0m0 2h0m1-8h0m0 3h0m0 2h0m1 4h0m1-6h0m0 4h0m0 2h0m1-4h0m0 2h0m0 1h0m0 3h0m1-2h0m0 3h0m1 0h0m1 0h0m0 1h0m4-2h0m2-4h0m2-2h0m2-8h0m0 4h0m1-4h0m0 8h0m1-7h0m1-3h0m0 6h0m2-6h0m1 2h0m2-7h0m0 7h0m4-11h0m0 5h0m1-13h0m0 15h0m1-4h0m1-16h0m0 6h0m0 1h0m2-1h0m0 12h0m0 2h0m3-26h0m0 3h0m0 8h0m1-15h0m1-10h0m0 9h0m1 5h0m1-14h0m0 25h0m0 4h0m1-7h0m1-17h0m1-10h0m0 19h0m0 2h0m0 3h0m1-9h0m1 0h0m0 5h0m0 9h0m1-30h0m0 11h0m2-46h0m0 26h0m1-20h0m1 32h0m1-8h0m1-30h0m1 36h0m8-61h0m1-2h0m0 2h0m0 6h0m1-6h0m1-37h0m1 28h0m0 15h0m1 2h0m0 23h0m1-79h0m1 52h0m1-11h0m4 7h0m1-17h0m0 64h0m7-89h0m0 48h0m3 3h0m2-13h0m1-46h0m1-13h0m0 23h0m0 3h0m1-11h0m0 21h0m4-19h0m0 16h0m0 20h0m2-59h0m1 20h0m1-24h0m0 8h0m1-8h0m1 3h0m6 58h0" stroke="#ef7b2d"/><path d="M259 785h0m9-12h0m9-35h0" stroke="#4a69b8"/><path d="M306 662h0m0 10h0m7-5h0m4 1h0m20-8h0m2-26h0" stroke="#a7c44c"/><path d="M211 788h0m13 7h0m2-11h0m2-14h0m4 11h0m2 2h0" stroke="#e8623a"/><path d="M212 788h0m1-7h0m0 7h0m5 5h0m2-20h0m1 7h0m1 11h0m1-5h0m2-17h0m2 12h0m8 8h0m1-1h0m2 3h0" stroke="#f29236"/><path d="M304 603h0m0 57h0m9-21h0m2 20h0m1 12h0m2-64h0m2 42h0m5 4h0m4-3h0m2-27h0m2-26h0m2 21h0m7 10h0m6-14h0" stroke="#f6b73c"/><path d="M256 791h0m4-6h0m2-4h0m4-6h0m13-29h0m3-3h0m19-62h0m14 1h0m17-48h0m2 24h0m9-32h0m2-13h0m0 57h0m2-70h0m0 12h0" stroke="#d8c23c"/><path d="M239 795h0m6 3h0m2 2h0m1 0h0m3-2h0m5-10h0m1-6h0m1 1h0m0 4h0m0 3h0m1-4h0m2-2h0m1-2h0m1-3h0m1-22h0m2 20h0m10-18h0m17-37h0m7-34h0" stroke="#4d70b6"/><path d="M214 786h0m1 8h0m9-16h0m6 16h0m3-17h0m5 17h0m15 2h0m4-5h0m3-5h0m8-12h0m3-3h0m4-4h0m2 2h0m2-2h0m6-7h0m1-10h0m7-9h0m4-24h0m1 4h0m10-19h0" stroke="#86bc44"/><path d="M251 796h0m2-2h0m1-1h0m1-4h0m0 2h0m0 1h0m1-7h0m4-4h0m0 1h0m1 2h0m2-5h0m1-8h0m1 7h0m1-1h0m3-7h0m7-15h0m3-4h0m7-57h0m3 36h0m4-13h0m11-30h0m2-2h0m4-1h0" stroke="#5d7f95"/><path d="M247 800h0m1 0h0m6-2h0m1-6h0m2 0h0m1-3h0m6-3h0m2-24h0m1 8h0m2 3h0m4-13h0m0 9h0m1-20h0m0 4h0m3 3h0m5-3h0m0 5h0m1-9h0m3-4h0m1-25h0m0 32h0m1-3h0m8-19h0" stroke="#7f7f7f"/><path d="M211 784h0m1-5h0m0 11h0m1-8h0m1 5h0m4-20h0m0 16h0m5-5h0m2-7h0m3 9h0m1 11h0m5-5h0m1 10h0m2-7h0m0 2h0m9 8h0m5-3h0m4-3h0m15-33h0m5 1h0m4-18h0m9-15h0m8-28h0m9-11h0m2-48h0m15-19h0m5 26h0m7-40h0m2 66h0m6-35h0" stroke="#f5a53a"/><path d="M213 786h0m0 5h0m5-11h0m2-8h0m8-21h0m5 20h0m1 5h0m1 9h0m24-2h0m0 4h0m9-16h0m0 3h0m1-7h0m22-113h0m1 66h0m16-60h0m4-13h0m1 20h0m1 15h0m1-9h0m2-39h0m1 37h0m0 11h0m2-32h0m3-9h0m2-21h0m3-2h0m4-19h0m4 15h0m2-14h0m4 33h0m8-19h0m6 12h0" stroke="#f2c53a"/><path d="M250 799h0m5-5h0m1-2h0m1 2h0m1-5h0m4-3h0m0 2h0m8-18h0m5 3h0m3-11h0m1 4h0m1-3h0m2-4h0m2 3h0m0 6h0m2-18h0m11-18h0m3-10h0m1 6h0m4-54h0m1-26h0m3 32h0m0 22h0m2-12h0m0 14h0m4-11h0m2 10h0m7-53h0m1 33h0m6-44h0m1 48h0m5-57h0m1-10h0m5 1h0" stroke="#66b247"/><path d="M210 796h0m3-10h0m2 8h0m7-12h0m3-9h0m3 18h0m5-16h0m3 4h0m0 16h0m20-1h0m1-3h0m0 1h0m2-3h0m2-1h0m3-6h0m7-10h0m1 1h0m1-5h0m0 9h0m3-9h0m1-6h0m0 10h0m0 4h0m2-17h0m4-12h0m0 26h0m5-18h0m2-20h0m5 12h0m5-35h0m2 5h0m2 5h0m9-34h0m0 10h0m10-9h0" stroke="#52a84c"/><path d="M247 800h0m6-7h0m2 2h0m2-7h0m0 4h0m7-17h0m0 10h0m2-20h0m0 1h0m1 15h0m0 1h0m1-9h0m1-12h0m2-8h0m1 14h0m1 4h0m2-7h0m2-28h0m0 36h0m3-10h0m1-15h0m1 19h0m1-13h0m1-7h0m1 23h0m12-44h0m2-9h0m1-3h0m0 15h0m2-29h0m10-61h0m3 10h0m1 32h0m10-62h0m27-3h0m4 4h0" stroke="#3a9a5c"/><path d="M212 789h0m2-4h0m1 2h0m3-8h0m3 10h0m3-23h0m0 14h0m1-6h0m3 7h0m3 3h0m4-6h0m0 11h0m2-32h0m0 1h0m1 34h0m1 4h0m0 2h0m1-4h0m0 4h0m1-2h0m0 2h0m1-3h0m0 2h0m0 1h0m2-1h0m0 1h0m1 0h0m1 1h0m0 1h0m1 0h0m1-1h0m0 1h0m1-2h0m1 1h0m1-4h0m0 1h0m1-1h0m0 2h0m1-10h0m0 1h0m0 5h0m0 1h0m2 2h0m3-11h0m1 2h0m2-5h0m1 4h0m3-11h0m0 2h0m2-14h0m0 7h0m1 5h0m2-8h0m1-6h0m3-5h0m3 15h0m2-21h0m1-34h0m1 22h0m1 0h0m1 6h0m1 16h0m2-7h0m1-33h0m0 19h0m0 38h0m3-73h0m5-5h0m11-7h0m0 11h0" stroke="#3a83b1"/><path d="M210 786h0m3-3h0m0 1h0m2 11h0m1-10h0m0 12h0m1-19h0m1 12h0m1-22h0m1 8h0m3-14h0m2 25h0m2-4h0m4 4h0m1-1h0m5 2h0m1-1h0m1 11h0m1-9h0m0 7h0m0 2h0m1-4h0m0 4h0m1-2h0m0 1h0m2 0h0m0 2h0m0 1h0m1-1h0m1 0h0m1 1h0m1-2h0m0 1h0m0 1h0m1-1h0m1-4h0m0 2h0m0 2h0m1-3h0m0 1h0m1-1h0m0 1h0m1-5h0m0 2h0m1 3h0m1-4h0m0 1h0m1-8h0m1-1h0m0 6h0m1-5h0m0 1h0m0 1h0m0 4h0m0 1h0m1-10h0m0 3h0m0 2h0m1-1h0m2-7h0m0 11h0m1-23h0m1 17h0m1-8h0m1-7h0m1-10h0m0 14h0m0 6h0m1-14h0m0 11h0m1-22h0m0 11h0m0 13h0m1-35h0m0 13h0m0 9h0m0 3h0m1-9h0m1-6h0m1 7h0m1-1h0m0 25h0m1-40h0m0 21h0m0 11h0m2-38h0m0 18h0m0 26h0m1-43h0m1 24h0m2-30h0m1 18h0m1-10h0m1-17h0m1 19h0m0 4h0m0 6h0m3-16h0m2-13h0m1-5h0m0 13h0m1 7h0m2-39h0m3 12h0m1-21h0m10-1h0m25-7h0m6 10h0" stroke="#3b8f8c"/><path d="M206 783h0m4 6h0m1-11h0m0 4h0m0 4h0m0 1h0m0 3h0m0 3h0m0 1h0m1-9h0m0 4h0m1-6h0m0 2h0m0 3h0m0 3h0m0 3h0m1-30h0m0 8h0m0 8h0m0 11h0m1-11h0m0 7h0m0 2h0m0 1h0m0 2h0m0 4h0m1-36h0m0 3h0m0 6h0m0 1h0m0 18h0m0 1h0m0 2h0m0 5h0m0 1h0m1-15h0m0 6h0m0 2h0m0 5h0m1-46h0m0 43h0m1-31h0m0 5h0m0 14h0m0 3h0m0 5h0m0 6h0m0 1h0m1-75h0m0 48h0m0 10h0m0 7h0m0 4h0m0 3h0m0 2h0m1-6h0m0 2h0m1-7h0m0 3h0m0 7h0m1-8h0m0 3h0m0 9h0m1-28h0m0 8h0m0 2h0m0 5h0m0 6h0m0 1h0m1-18h0m0 2h0m0 14h0m0 7h0m0 1h0m1-29h0m0 27h0m1-18h0m0 4h0m0 1h0m0 8h0m1-17h0m0 8h0m0 5h0m0 6h0m1-5h0m0 2h0m0 8h0m1-51h0m0 22h0m0 13h0m0 8h0m0 3h0m0 2h0m1-22h0m0 5h0m0 1h0m0 2h0m0 4h0m0 14h0m1-22h0m0 17h0m1-18h0m0 14h0m0 3h0m1-48h0m0 31h0m0 1h0m0 4h0m0 1h0m0 5h0m1-44h0m0 40h0m0 6h0m0 5h0m0 1h0m0 3h0m1-28h0m0 9h0m0 8h0m0 6h0m1-7h0m0 4h0m0 2h0m1-5h0m0 1h0m0 3h0m0 4h0m0 2h0m0 1h0m1-7h0m0 1h0m1-39h0m0 41h0m0 1h0m0 5h0m1-40h0m0 31h0m2 4h0m1 1h0m2 4h0m1 1h0m1-1h0m2-4h0m4-5h0m1 6h0m2 0h0m1-10h0m0 5h0m1-9h0m0 3h0m0 8h0m1-8h0m1-2h0m1-1h0m0 7h0m1-5h0m1-7h0m5-23h0m0 10h0m0 13h0m2-13h0m0 8h0m1-7h0m0 1h0m2-24h0m1 10h0m0 1h0m0 18h0m1-32h0m1 7h0m1 5h0m0 32h0m2-28h0m1-4h0m1 13h0m1-34h0m1 34h0m2-47h0m0 16h0m3-24h0m2-2h0m0 12h0m5-1h0m2-64h0m2 13h0m0 18h0m0 35h0m1-21h0m1-27h0m0 38h0m3-82h0m1 59h0m1-47h0m1 36h0m1-6h0m2-5h0m1 1h0m0 21h0m2-36h0m2 1h0m3-33h0m0 34h0m1-8h0m0 13h0m0 18h0m1-2h0m1-15h0m1-31h0m2-1h0m1 35h0m2-37h0m1 14h0m3-14h0m1-22h0m2 6h0m6 32h0m1-43h0m0 37h0m3-34h0m0 10h0m0 12h0m1 18h0m4-26h0m0 5h0m2 12h0" stroke="#ef7b2d"/></g>
<line x1="58.5" y1="292.4" x2="58.5" y2="405.7" stroke="#555555" stroke-width="1.1"/>
<line x1="57.9" y1="405.5" x2="188.7" y2="405.5" stroke="#777" stroke-width="1.3"/>
<line x1="86.5" y1="405.2" x2="86.5" y2="407.5" stroke="#555555" stroke-width="0.9"/>
<line x1="123.5" y1="405.2" x2="123.5" y2="407.5" stroke="#555555" stroke-width="0.9"/>
<line x1="160.5" y1="405.2" x2="160.5" y2="407.5" stroke="#555555" stroke-width="0.9"/>
<line x1="56.2" y1="400.5" x2="58.4" y2="400.5" stroke="#555555" stroke-width="0.9"/>
<line x1="56.2" y1="375.5" x2="58.4" y2="375.5" stroke="#555555" stroke-width="0.9"/>
<line x1="56.2" y1="351.5" x2="58.4" y2="351.5" stroke="#555555" stroke-width="0.9"/>
<line x1="56.2" y1="326.5" x2="58.4" y2="326.5" stroke="#555555" stroke-width="0.9"/>
<line x1="56.2" y1="302.5" x2="58.4" y2="302.5" stroke="#555555" stroke-width="0.9"/>
<text x="86.2" y="412.4" font-size="5.89" fill="#8c8c8c" text-anchor="middle" textLength="6.4" lengthAdjust="spacingAndGlyphs">−2</text>
<text x="123.4" y="412.4" font-size="5.89" fill="#8c8c8c" text-anchor="middle" textLength="3.2" lengthAdjust="spacingAndGlyphs">0</text>
<text x="160.6" y="412.4" font-size="5.89" fill="#8c8c8c" text-anchor="middle" textLength="3.2" lengthAdjust="spacingAndGlyphs">2</text>
<text x="55.2" y="402.4" font-size="5.89" fill="#8c8c8c" text-anchor="end" textLength="3.2" lengthAdjust="spacingAndGlyphs">0</text>
<text x="55.2" y="377.9" font-size="5.89" fill="#8c8c8c" text-anchor="end" textLength="8" lengthAdjust="spacingAndGlyphs">2.5</text>
<text x="55.2" y="353.4" font-size="5.89" fill="#8c8c8c" text-anchor="end" textLength="3.2" lengthAdjust="spacingAndGlyphs">5</text>
<text x="55.2" y="328.9" font-size="5.89" fill="#8c8c8c" text-anchor="end" textLength="8" lengthAdjust="spacingAndGlyphs">7.5</text>
<text x="55.2" y="304.4" font-size="5.89" fill="#8c8c8c" text-anchor="end" textLength="6.4" lengthAdjust="spacingAndGlyphs">10</text>
<text x="36.8" y="354.4" font-size="6.8" fill="#3a3a3a" text-anchor="middle" textLength="60" lengthAdjust="spacingAndGlyphs" transform="rotate(-90 36.8 354.4) translate(0 2.2)">Per-CpG −log<tspan font-size="4.5" dy="1.5">10</tspan><tspan dy="-1.5">(FDR)</tspan></text>
<rect x="88.4" y="279.7" width="76.6" height="9.3" rx="4.7" fill="#1f70b8"/>
<text x="126.7" y="286.7" font-size="6.99" fill="#ffffff" font-weight="bold" text-anchor="middle" textLength="67" lengthAdjust="spacingAndGlyphs">Rectum vs Control</text>
<line x1="231.5" y1="280.5" x2="231.5" y2="405.3" stroke="#2a78c2" stroke-width="1.5"/>
<line x1="261.5" y1="291.9" x2="261.5" y2="405.3" stroke="#d2d7da" stroke-width="0.8"/>
<line x1="281.5" y1="291.9" x2="281.5" y2="405.3" stroke="#d2d7da" stroke-width="0.8"/>
<line x1="300.5" y1="291.9" x2="300.5" y2="405.3" stroke="#d2d7da" stroke-width="0.8"/>
<line x1="319.5" y1="291.9" x2="319.5" y2="405.3" stroke="#d2d7da" stroke-width="0.8"/>
<line x1="338.5" y1="291.9" x2="338.5" y2="405.3" stroke="#d2d7da" stroke-width="0.8"/>
<line x1="250.4" y1="400.5" x2="350.4" y2="400.5" stroke="#d2d7da" stroke-width="0.8"/>
<line x1="250.4" y1="375.5" x2="350.4" y2="375.5" stroke="#d2d7da" stroke-width="0.8"/>
<line x1="250.4" y1="350.5" x2="350.4" y2="350.5" stroke="#d2d7da" stroke-width="0.8"/>
<line x1="250.4" y1="325.5" x2="350.4" y2="325.5" stroke="#d2d7da" stroke-width="0.8"/>
<line x1="250.4" y1="300.5" x2="350.4" y2="300.5" stroke="#d2d7da" stroke-width="0.8"/>
<line x1="300.5" y1="292" x2="300.5" y2="405.3" stroke="#dc4149" stroke-width="1.0" stroke-dasharray="1 1"/>
<line x1="250" y1="367.5" x2="350.4" y2="367.5" stroke="#dc4149" stroke-width="1.0" stroke-dasharray="1 1"/>
<g transform="scale(.5)" stroke-linecap="round" stroke-width="5" opacity="0.85"><path d="M620 787h0" stroke="#4a69b8"/><path d="M568 793h0m24 6h0" stroke="#e8623a"/><path d="M654 729h0m2-16h0m4 12h0" stroke="#f6b73c"/><path d="M648 728h0m7 2h0m1-2h0" stroke="#a7c44c"/><path d="M619 792h0m8-14h0m5-4h0m3-9h0" stroke="#d8c23c"/><path d="M535 782h0m70 18h0m30-22h0m7-13h0m3 6h0" stroke="#52a84c"/><path d="M572 794h0m3-12h0m10-12h0m4 8h0m6 19h0m1 2h0" stroke="#f29236"/><path d="M586 781h0m3 2h0m4 5h0m19 11h0m35-41h0m4 10h0m9-32h0" stroke="#86bc44"/><path d="M568 794h0m4 3h0m5-2h0m3-8h0m44-7h0m14-28h0m6 2h0m9-21h0m9-20h0" stroke="#f5a53a"/><path d="M608 799h0m1 0h0m10-11h0m7-7h0m1-2h0m2 0h0m4-20h0m1 10h0m13-26h0m1 5h0" stroke="#5d7f95"/><path d="M606 800h0m4 0h0m15-10h0m6-7h0m1 3h0m6-16h0m5-10h0m8-32h0m2-17h0m0 34h0m5-10h0" stroke="#66b247"/><path d="M610 798h0m1 0h0m5-7h0m10-5h0m2 1h0m7-10h0m4-13h0m2 0h0m2-3h0m3 4h0m2-26h0m4-7h0m2-2h0" stroke="#3a9a5c"/><path d="M568 787h0m1 1h0m1 5h0m3-8h0m4 3h0m1-7h0m6 17h0m5-14h0m34 3h0m20-36h0m2-3h0m10-30h0m0 12h0m5-8h0m1 11h0m1-14h0" stroke="#f2c53a"/><path d="M604 800h0m13-4h0m5-6h0m1 1h0m1-2h0m1-4h0m1 1h0m0 1h0m2-7h0m5-11h0m1-6h0m1 9h0m2 1h0m1-5h0m2 8h0m1-28h0m7 8h0m1-10h0m1-5h0" stroke="#7f7f7f"/><path d="M584 790h0m0 3h0m2-3h0m2 7h0m3-8h0m0 7h0m3-3h0m4 6h0m5 1h0m2 0h0m5-2h0m0 1h0m1 0h0m5-8h0m3 2h0m1-1h0m3-1h0m0 2h0m3-12h0m3-1h0m0 1h0m22-44h0" stroke="#4d70b6"/><path d="M575 757h0m5 37h0m1-2h0m0 3h0m0 1h0m2 2h0m2-4h0m1-2h0m0 4h0m1 2h0m3-10h0m0 7h0m2 1h0m4 3h0m2-3h0m0 3h0m0 1h0m3 0h0m2-1h0m1 0h0m0 1h0m1 0h0m1-2h0m1 1h0m2-2h0m0 2h0m1-1h0m2 0h0m2-2h0m0 1h0m1-2h0m0 4h0m3-5h0m0 1h0m1-1h0m1-2h0m1 0h0m1-4h0m1 4h0m1 2h0m1-5h0m1-5h0m0 2h0m0 2h0m1-7h0m1 1h0m0 3h0m0 3h0m0 7h0m2-16h0m0 5h0m1-5h0m2-1h0m1-10h0m0 11h0m2-13h0m3-13h0m2 3h0m2 5h0m1-23h0m2 6h0m1 2h0m3 5h0m1-15h0m1 18h0m3-9h0" stroke="#3a83b1"/><path d="M535 792h0m23 3h0m5-2h0m1-3h0m0 1h0m0 3h0m0 1h0m0 1h0m1-7h0m1-1h0m1 2h0m0 5h0m1 2h0m1-6h0m0 5h0m2-26h0m0 15h0m0 5h0m0 2h0m1-11h0m0 1h0m0 15h0m1-18h0m0 6h0m0 11h0m1-13h0m0 3h0m0 2h0m2 9h0m1-15h0m2 15h0m1-5h0m1-15h0m1 12h0m2 2h0m1-36h0m0 29h0m2 1h0m2 2h0m2-6h0m0 6h0m0 6h0m0 2h0m0 1h0m3 2h0m1 0h0m2 2h0m1-2h0m0 1h0m2 1h0m10-2h0m5-5h0m2 0h0m5-4h0m5-2h0m1-8h0m1-5h0m1 9h0m0 2h0m2-4h0m4-17h0m0 8h0m3-24h0m4-5h0m0 8h0m3 3h0m3-27h0m1 33h0m3-41h0m0 7h0m1-7h0m1 0h0m1 15h0m1-6h0m4-7h0m21-126h0" stroke="#ef7b2d"/><path d="M564 790h0m3 3h0m1-8h0m1-14h0m5 11h0m4 16h0m1-8h0m0 6h0m1-16h0m0 13h0m1-14h0m0 17h0m1-7h0m0 4h0m1-8h0m0 13h0m1-12h0m1 5h0m0 1h0m0 2h0m0 4h0m1-9h0m0 1h0m0 1h0m1 4h0m0 4h0m1-8h0m0 4h0m0 5h0m1-3h0m1-16h0m0 17h0m1-16h0m0 15h0m0 2h0m1-2h0m0 1h0m1-10h0m1 12h0m1-2h0m0 1h0m1-1h0m0 1h0m1-6h0m0 6h0m1-2h0m0 3h0m1-1h0m0 1h0m1 0h0m1 0h0m1 0h0m1 0h0m1 0h0m1-1h0m0 1h0m1-2h0m0 1h0m0 1h0m1-1h0m0 1h0m1-1h0m1-3h0m0 2h0m0 1h0m1 1h0m1-2h0m0 1h0m1-3h0m0 1h0m0 1h0m1 1h0m1-2h0m0 1h0m1-4h0m0 1h0m0 2h0m1-7h0m0 3h0m0 1h0m0 1h0m0 4h0m1-6h0m0 3h0m0 1h0m1-8h0m0 3h0m0 7h0m1-5h0m1-3h0m1-3h0m0 3h0m0 1h0m1-2h0m0 1h0m1-8h0m0 7h0m0 4h0m1-10h0m0 2h0m0 2h0m1-6h0m0 2h0m0 14h0m1-5h0m0 2h0m1-5h0m2-11h0m0 5h0m0 7h0m2-11h0m1-6h0m0 11h0m1-10h0m2-23h0m1 15h0m2 1h0m0 5h0m3-12h0m2-2h0m1-15h0m1 5h0m0 15h0m2 7h0m2-33h0m0 1h0m1 0h0m0 5h0m8-2h0" stroke="#3b8f8c"/><path d="M625 788h0" stroke="#4a69b8"/><path d="M569 781h0m27 19h0" stroke="#e8623a"/><path d="M652 725h0m8 1h0m2-2h0" stroke="#a7c44c"/><path d="M646 733h0m1 1h0m3-8h0" stroke="#f6b73c"/><path d="M605 800h0m28-28h0m2-1h0m3-4h0m17-53h0" stroke="#d8c23c"/><path d="M575 797h0m39 0h0m18-17h0m5-3h0m2-2h0m2-6h0m9-14h0" stroke="#86bc44"/><path d="M564 795h0m1-2h0m2-7h0m1-4h0m0 9h0m6-6h0m15 1h0m7 13h0" stroke="#f29236"/><path d="M609 799h0m18-23h0m7-12h0m5-1h0m2 7h0m1-1h0m1-16h0m1 5h0m2-11h0" stroke="#7f7f7f"/><path d="M615 798h0m1-1h0m11-11h0m0 13h0m1-13h0m2-3h0m14-16h0m9-23h0m4-14h0" stroke="#66b247"/><path d="M566 798h0m23-2h0m4-1h0m1 3h0m30-3h0m5-9h0m3-6h0m5-8h0m9-19h0m4 13h0" stroke="#52a84c"/><path d="M567 793h0m14 5h0m10-24h0m33 12h0m2-5h0m8-15h0m9-16h0m5-10h0m6-10h0m2-5h0m1-7h0" stroke="#f2c53a"/><path d="M572 792h0m2 6h0m3-12h0m3 1h0m17 9h0m14 2h0m14-16h0m2-4h0m22-47h0m0 5h0m4-8h0m0 3h0m1-19h0m3-2h0" stroke="#f5a53a"/><path d="M604 800h0m5-3h0m1 1h0m3-5h0m9-8h0m1 4h0m2-10h0m1 5h0m0 1h0m3-7h0m1 3h0m4-7h0m2-2h0m1-1h0m4-12h0m2-21h0" stroke="#5d7f95"/><path d="M619 793h0m7-6h0m0 12h0m2-17h0m4-8h0m1 0h0m6-29h0m0 23h0m1 4h0m3-7h0m1-18h0m0 12h0m4-15h0m5-8h0m0 8h0m1 3h0m4-8h0m2-20h0m2-3h0" stroke="#3a9a5c"/><path d="M587 799h0m8-2h0m7 3h0m2-1h0m0 1h0m1 0h0m2 0h0m1-1h0m1 0h0m2-1h0m4-1h0m3-3h0m7-5h0m0 1h0m10-20h0m14-31h0m1-2h0m2 0h0" stroke="#4d70b6"/><path d="M578 794h0m3 1h0m6 1h0m0 1h0m3-1h0m0 4h0m1-6h0m2 5h0m2 1h0m1-9h0m0 8h0m4 1h0m4 0h0m1 0h0m3-3h0m0 2h0m4-3h0m0 1h0m2-6h0m0 4h0m2 0h0m1-2h0m1 0h0m0 1h0m1-3h0m3-4h0m0 5h0m1-4h0m1 1h0m2-1h0m3-10h0m0 1h0m0 4h0m3-12h0m3-5h0m0 3h0m0 3h0m2-2h0m2-6h0m2-13h0m0 1h0m2 0h0m5 0h0m1-14h0m10 14h0" stroke="#3a83b1"/><path d="M512 785h0m50 2h0m1 5h0m0 4h0m1-7h0m0 1h0m0 4h0m1-6h0m0 1h0m0 4h0m0 3h0m1-6h0m0 4h0m0 1h0m1-9h0m0 4h0m0 1h0m0 4h0m1-1h0m0 4h0m1-39h0m0 27h0m0 1h0m0 9h0m1-6h0m1 0h0m0 6h0m0 1h0m1 1h0m1-13h0m1-6h0m0 8h0m0 1h0m0 2h0m2-9h0m0 9h0m0 1h0m0 1h0m1-2h0m0 6h0m1-13h0m0 8h0m1-8h0m0 4h0m0 10h0m1-15h0m1-7h0m0 8h0m0 7h0m0 7h0m1-16h0m2 12h0m0 1h0m0 5h0m1-18h0m1 5h0m0 9h0m0 4h0m1-22h0m1 8h0m1 13h0m2-17h0m0 4h0m0 11h0m0 4h0m1-15h0m0 2h0m0 10h0m1-17h0m2 15h0m1 2h0m0 2h0m1-1h0m0 1h0m8 1h0m7-2h0m1 0h0m1-3h0m1-5h0m0 6h0m8-5h0m3-14h0m0 2h0m6-10h0m0 7h0m1-1h0m6-6h0m3-14h0m0 4h0m4-13h0m1-7h0m1-21h0m0 38h0m0 6h0m1-7h0m1-14h0m0 7h0m1-19h0m1-1h0m1-3h0m1-5h0m1-3h0m1 1h0m0 3h0m0 10h0m0 2h0m0 3h0m1-22h0m1 4h0m0 2h0m0 12h0m0 13h0m1-6h0m1-25h0" stroke="#ef7b2d"/><path d="M564 790h0m7-3h0m2 1h0m0 2h0m1-38h0m5 33h0m0 10h0m1-2h0m0 1h0m0 1h0m1-2h0m0 3h0m2-8h0m0 4h0m0 3h0m0 2h0m2-6h0m0 8h0m1-10h0m0 6h0m1 2h0m0 1h0m1-2h0m1-10h0m0 7h0m0 3h0m1-8h0m0 1h0m0 5h0m0 2h0m0 1h0m4-10h0m1 11h0m1 1h0m0 1h0m1-3h0m0 2h0m1 0h0m1 1h0m1 0h0m1 0h0m2 0h0m1-1h0m0 1h0m1-1h0m0 1h0m1-2h0m0 2h0m1-2h0m0 1h0m1-2h0m0 2h0m1-3h0m0 1h0m0 2h0m1-4h0m0 1h0m0 2h0m1-3h0m0 3h0m0 1h0m1-1h0m1-2h0m0 4h0m1-6h0m0 2h0m1-3h0m0 2h0m0 1h0m2-2h0m0 1h0m0 1h0m1-7h0m0 4h0m1-3h0m0 1h0m0 2h0m1-2h0m0 3h0m1-8h0m0 4h0m0 2h0m0 1h0m2-6h0m0 1h0m0 2h0m1-2h0m0 1h0m1 2h0m1-1h0m1-6h0m0 13h0m2-21h0m0 3h0m1-7h0m2 2h0m2-4h0m0 6h0m2-12h0m1 2h0m1-1h0m1-25h0m0 27h0m2-7h0m1-8h0m0 2h0m1-5h0m0 1h0m1 3h0m2-12h0m0 22h0m1-22h0m9-3h0" stroke="#3b8f8c"/><path d="M612 795h0m19-16h0" stroke="#4a69b8"/><path d="M588 776h0m11 22h0" stroke="#e8623a"/><path d="M652 725h0m5-1h0m1 4h0m3-2h0" stroke="#f6b73c"/><path d="M604 799h0m31-46h0m8-1h0m5-13h0" stroke="#5d7f95"/><path d="M603 800h0m32-30h0m5-19h0m1 11h0m11-37h0m6-8h0" stroke="#d8c23c"/><path d="M616 796h0m9-9h0m2-9h0m0 4h0m1-7h0m0 6h0m2-5h0m2 5h0" stroke="#7f7f7f"/><path d="M563 791h0m6 0h0m7-51h0m0 42h0m2 7h0m5-2h0m1-4h0m11 16h0m4 1h0" stroke="#f29236"/><path d="M564 787h0m18 0h0m9-2h0m30 8h0m2-2h0m3-4h0m1-1h0m11-16h0m10-14h0m1 0h0" stroke="#86bc44"/><path d="M624 789h0m7-6h0m7-14h0m2-6h0m3-15h0m1 14h0m2-12h0m0 8h0m2-32h0m1-7h0" stroke="#3a9a5c"/><path d="M569 787h0m4 7h0m4-3h0m2-3h0m20 12h0m39-33h0m15-54h0m1 17h0m3-9h0m4-5h0m1 12h0" stroke="#f5a53a"/><path d="M619 797h0m21-23h0m2-11h0m5-3h0m1-1h0m1-11h0m2-2h0m2-5h0m1 4h0m6-33h0m2 24h0m16 54h0" stroke="#66b247"/><path d="M577 794h0m4-12h0m32 16h0m12-1h0m1-5h0m13-19h0m5-14h0m5-3h0m1-6h0m0 4h0m5-15h0m4-2h0" stroke="#52a84c"/><path d="M570 750h0m0 30h0m2 8h0m52-1h0m3-4h0m6-9h0m17-41h0m1-13h0m1 14h0m3-14h0m3-5h0m1 4h0m3 5h0m0 2h0" stroke="#f2c53a"/><path d="M580 789h0m2-1h0m1 5h0m3-3h0m0 3h0m2 2h0m4 0h0m4 4h0m2 1h0m2 0h0m2 0h0m5-2h0m0 1h0m3-1h0m2-1h0m0 1h0m1-2h0m1-3h0m0 1h0m0 3h0m1 3h0m1-5h0m3-1h0m20-26h0m8-26h0" stroke="#4d70b6"/><path d="M573 797h0m7-9h0m1 1h0m0 5h0m1-2h0m2-4h0m0 2h0m1 7h0m3 0h0m0 2h0m3-2h0m2 0h0m1 1h0m0 1h0m2-6h0m1 7h0m1-4h0m1 4h0m2 0h0m1 0h0m1 0h0m1-1h0m0 1h0m1-1h0m0 1h0m2-1h0m1 0h0m1 0h0m1-1h0m0 1h0m1-2h0m0 1h0m1-1h0m1-2h0m0 2h0m1 0h0m1-2h0m2 0h0m1-8h0m0 3h0m0 3h0m1-1h0m1-5h0m2 1h0m0 3h0m5-15h0m13-8h0m1-24h0m2 2h0m0 13h0m1-14h0m1 3h0m2-6h0m6 9h0m1-13h0" stroke="#3a83b1"/><path d="M563 793h0m1-5h0m1-2h0m1 6h0m1-8h0m2 2h0m0 1h0m0 1h0m0 6h0m0 3h0m1-12h0m1-16h0m0 22h0m0 4h0m1-5h0m1 2h0m1-6h0m0 11h0m1-16h0m0 3h0m0 2h0m0 6h0m0 3h0m1 2h0m0 1h0m1-19h0m0 10h0m0 2h0m0 3h0m0 2h0m1-13h0m1 0h0m0 1h0m1-1h0m0 11h0m1-7h0m1-7h0m0 2h0m1 9h0m1-7h0m0 11h0m1 1h0m0 2h0m2-15h0m0 12h0m2-17h0m0 8h0m0 1h0m0 10h0m1-14h0m0 9h0m0 5h0m1-10h0m0 1h0m1-31h0m0 34h0m2 7h0m1-3h0m2-2h0m0 6h0m2 0h0m4 0h0m1 0h0m2 1h0m1-2h0m8-2h0m5-10h0m4-7h0m2 8h0m1-6h0m2-13h0m1 4h0m1 5h0m4 3h0m1-18h0m4-6h0m1 6h0m0 2h0m2-10h0m0 4h0m1 3h0m0 5h0m1-41h0m0 19h0m1 7h0m1-36h0m1 32h0m2-18h0m0 3h0m2-5h0m1-10h0m1-1h0m0 11h0m0 5h0m0 8h0m1-16h0m2 7h0m3-19h0m2 4h0m0 1h0m8-35h0" stroke="#ef7b2d"/><path d="M573 788h0m3-7h0m3 12h0m1-4h0m2-6h0m0 7h0m0 3h0m0 4h0m1-3h0m1-17h0m0 13h0m1 7h0m1-6h0m1 3h0m0 1h0m0 3h0m1-8h0m0 5h0m1-6h0m0 3h0m0 8h0m1-10h0m0 6h0m0 1h0m1-2h0m1-5h0m0 4h0m0 3h0m0 1h0m1-12h0m0 11h0m0 1h0m0 2h0m1-10h0m0 4h0m0 5h0m1-3h0m0 2h0m2-3h0m1 2h0m0 2h0m2 0h0m0 1h0m1 0h0m1 0h0m1 0h0m1 0h0m1 0h0m1-1h0m0 1h0m1-3h0m0 2h0m1-2h0m0 1h0m0 1h0m1-1h0m0 1h0m1-4h0m0 1h0m0 1h0m1 0h0m0 2h0m1-3h0m0 1h0m1-3h0m1 2h0m0 1h0m0 2h0m1-4h0m0 1h0m1-3h0m0 2h0m0 1h0m1-2h0m0 1h0m0 4h0m1-11h0m0 2h0m0 3h0m0 6h0m1-7h0m0 1h0m1 2h0m1-4h0m0 1h0m0 2h0m0 5h0m1-11h0m0 1h0m0 7h0m1-13h0m0 8h0m1-2h0m1 2h0m0 1h0m0 8h0m1-19h0m1-3h0m4 1h0m0 2h0m1-11h0m1 4h0m0 3h0m1-4h0m1-21h0m0 21h0m1-6h0m1-14h0m1 3h0m4-7h0m0 24h0m1-18h0m1-11h0m0 2h0m2-6h0m0 8h0m5 2h0" stroke="#3b8f8c"/><path d="M580 779h0" stroke="#e8623a"/><path d="M602 800h0m25-23h0m0 8h0m30-55h0" stroke="#d8c23c"/><path d="M647 714h0m5 21h0m1-12h0m2 8h0m5-10h0" stroke="#f6b73c"/><path d="M647 729h0m2-1h0m0 7h0m7 0h0m3-25h0m15-12h0" stroke="#a7c44c"/><path d="M563 796h0m11-3h0m11-15h0m4 18h0m3-10h0m18 13h0m18-14h0m18-26h0m3-12h0" stroke="#86bc44"/><path d="M562 790h0m0 3h0m3 3h0m13-3h0m3-2h0m4 7h0m4 1h0m5-4h0m5 4h0m1 1h0" stroke="#f5a53a"/><path d="M568 794h0m40 5h0m5-7h0m19-15h0m4-8h0m0 1h0m16-43h0m0 4h0m8-20h0m4-17h0" stroke="#f2c53a"/><path d="M563 789h0m1 1h0m3-6h0m4 1h0m1 6h0m1-41h0m6 35h0m9 13h0m3-14h0m2 16h0" stroke="#f29236"/><path d="M621 783h0m5 1h0m1-9h0m0 8h0m1 0h0m2-10h0m0 4h0m1-2h0m5-4h0m5-17h0m1-16h0" stroke="#5d7f95"/><path d="M604 800h0m6-4h0m3 2h0m8-7h0m2-4h0m1 0h0m5-13h0m0 8h0m5-3h0m2-12h0m8-30h0" stroke="#7f7f7f"/><path d="M578 793h0m3-6h0m2-10h0m5 8h0m1 14h0m9 1h0m17-1h0m4-5h0m8-6h0m2-4h0m3-5h0m7-11h0m11-16h0" stroke="#52a84c"/><path d="M591 796h0m2-1h0m1-7h0m1 10h0m6 2h0m1 0h0m1 0h0m10-2h0m4-5h0m2 1h0m1-2h0m5-5h0m2-2h0m4-6h0m12-29h0m2-3h0m1-8h0" stroke="#4d70b6"/><path d="M615 797h0m10-8h0m2-2h0m1 8h0m4-11h0m2 2h0m2-11h0m3-6h0m1-2h0m8-37h0m0 28h0m2-7h0m1-6h0m0 10h0m1-24h0m6-19h0m2 22h0m2 55h0" stroke="#66b247"/><path d="M602 800h0m1 0h0m5-1h0m3-1h0m7 0h0m15-13h0m1-12h0m0 1h0m0 7h0m1-10h0m1 2h0m2-1h0m1-13h0m0 11h0m1-16h0m8-13h0m0 16h0m2-13h0m4-18h0m0 7h0m4 57h0" stroke="#3a9a5c"/><path d="M569 783h0m4 4h0m7 6h0m1 0h0m2-2h0m0 2h0m0 6h0m2-4h0m2-1h0m0 5h0m1-7h0m3 7h0m1 1h0m1-1h0m1-8h0m0 8h0m1-1h0m0 1h0m2 1h0m5 0h0m1 0h0m1-1h0m2-1h0m0 1h0m0 1h0m1-3h0m0 1h0m0 1h0m2-2h0m1 2h0m2-2h0m0 1h0m2-4h0m0 3h0m1 2h0m1-9h0m0 6h0m1-2h0m0 4h0m1-4h0m2-3h0m0 1h0m1-4h0m0 3h0m0 1h0m0 1h0m1-3h0m1-5h0m0 3h0m0 3h0m1-3h0m0 2h0m0 2h0m6-6h0m8-22h0m3 1h0m0 1h0m2-10h0m2-9h0m2-6h0m3 1h0" stroke="#3a83b1"/><path d="M541 792h0m22-4h0m0 3h0m0 1h0m0 1h0m1-8h0m0 7h0m1-6h0m1 2h0m0 5h0m3-1h0m0 4h0m1-31h0m0 29h0m1-10h0m0 2h0m0 3h0m0 4h0m1-4h0m1-6h0m0 1h0m0 8h0m0 4h0m0 2h0m1-10h0m0 1h0m1-9h0m0 15h0m1-9h0m0 1h0m0 7h0m1-4h0m2 0h0m1-10h0m0 6h0m0 2h0m2-8h0m0 7h0m0 6h0m1-14h0m1 18h0m2-11h0m0 3h0m1 8h0m1-14h0m1 1h0m1 3h0m2 4h0m0 5h0m0 4h0m1-12h0m2 3h0m1 4h0m1 5h0m2 0h0m3 0h0m6 0h0m4-7h0m0 5h0m4-2h0m2-2h0m1-1h0m2-2h0m4-8h0m2-5h0m1 0h0m1-4h0m1 7h0m2-7h0m1-6h0m5-7h0m0 1h0m1-34h0m3 29h0m1-14h0m4-21h0m0 10h0m2 1h0m0 25h0m1-38h0m1-10h0m1 6h0m0 12h0m2-17h0m1 14h0m1 0h0m1-9h0m2 22h0m1-22h0m1-3h0m0 8h0m0 22h0m6-49h0m2 0h0" stroke="#ef7b2d"/><path d="M563 794h0m4 4h0m1-19h0m0 10h0m1 0h0m0 3h0m11-11h0m0 11h0m0 1h0m0 7h0m1-14h0m0 4h0m0 1h0m0 2h0m0 5h0m1-6h0m3 3h0m0 5h0m1-12h0m0 10h0m2-5h0m0 4h0m0 2h0m1-5h0m0 2h0m1 3h0m1-16h0m0 13h0m1 1h0m1-5h0m0 5h0m0 2h0m1-11h0m0 2h0m2 3h0m0 6h0m1-1h0m0 1h0m0 1h0m1 0h0m1-2h0m0 1h0m0 1h0m1 0h0m1 0h0m1 0h0m1-1h0m0 1h0m2-1h0m0 1h0m1-1h0m1 0h0m0 1h0m1-1h0m1-1h0m0 1h0m1-4h0m0 1h0m0 2h0m0 1h0m1-1h0m1 0h0m2-5h0m1 3h0m1-6h0m0 5h0m0 2h0m1-3h0m0 1h0m0 1h0m1-2h0m0 1h0m0 5h0m1-7h0m0 2h0m0 1h0m2-8h0m0 3h0m0 2h0m1-5h0m0 4h0m0 4h0m1-7h0m0 3h0m0 4h0m1-15h0m0 2h0m0 4h0m1 2h0m1-1h0m1-1h0m0 7h0m1 5h0m4-31h0m1 10h0m2-4h0m1-4h0m2 0h0m2-16h0m5 1h0m12-9h0" stroke="#3b8f8c"/></g>
<line x1="250.5" y1="291.9" x2="250.5" y2="405.8" stroke="#555555" stroke-width="1.1"/>
<line x1="249.9" y1="405.5" x2="350.4" y2="405.5" stroke="#777" stroke-width="1.3"/>
<line x1="261.5" y1="405.3" x2="261.5" y2="407.6" stroke="#555555" stroke-width="0.9"/>
<line x1="281.5" y1="405.3" x2="281.5" y2="407.6" stroke="#555555" stroke-width="0.9"/>
<line x1="300.5" y1="405.3" x2="300.5" y2="407.6" stroke="#555555" stroke-width="0.9"/>
<line x1="319.5" y1="405.3" x2="319.5" y2="407.6" stroke="#555555" stroke-width="0.9"/>
<line x1="338.5" y1="405.3" x2="338.5" y2="407.6" stroke="#555555" stroke-width="0.9"/>
<line x1="248.2" y1="400.5" x2="250.4" y2="400.5" stroke="#555555" stroke-width="0.9"/>
<line x1="248.2" y1="375.5" x2="250.4" y2="375.5" stroke="#555555" stroke-width="0.9"/>
<line x1="248.2" y1="350.5" x2="250.4" y2="350.5" stroke="#555555" stroke-width="0.9"/>
<line x1="248.2" y1="325.5" x2="250.4" y2="325.5" stroke="#555555" stroke-width="0.9"/>
<line x1="248.2" y1="300.5" x2="250.4" y2="300.5" stroke="#555555" stroke-width="0.9"/>
<text x="261.7" y="412.4" font-size="5.89" fill="#8c8c8c" text-anchor="middle" textLength="6.4" lengthAdjust="spacingAndGlyphs">−2</text>
<text x="281" y="412.4" font-size="5.89" fill="#8c8c8c" text-anchor="middle" textLength="6.4" lengthAdjust="spacingAndGlyphs">−1</text>
<text x="300.3" y="412.4" font-size="5.89" fill="#8c8c8c" text-anchor="middle" textLength="3.2" lengthAdjust="spacingAndGlyphs">0</text>
<text x="319.6" y="412.4" font-size="5.89" fill="#8c8c8c" text-anchor="middle" textLength="3.2" lengthAdjust="spacingAndGlyphs">1</text>
<text x="338.9" y="412.4" font-size="5.89" fill="#8c8c8c" text-anchor="middle" textLength="3.2" lengthAdjust="spacingAndGlyphs">2</text>
<text x="247.4" y="402.2" font-size="5.89" fill="#8c8c8c" text-anchor="end" textLength="3.2" lengthAdjust="spacingAndGlyphs">0</text>
<text x="247.4" y="377.2" font-size="5.89" fill="#8c8c8c" text-anchor="end" textLength="3.2" lengthAdjust="spacingAndGlyphs">1</text>
<text x="247.4" y="352.2" font-size="5.89" fill="#8c8c8c" text-anchor="end" textLength="3.2" lengthAdjust="spacingAndGlyphs">2</text>
<text x="247.4" y="327.2" font-size="5.89" fill="#8c8c8c" text-anchor="end" textLength="3.2" lengthAdjust="spacingAndGlyphs">3</text>
<text x="247.4" y="302.2" font-size="5.89" fill="#8c8c8c" text-anchor="end" textLength="3.2" lengthAdjust="spacingAndGlyphs">4</text>
<rect x="266.6" y="279.8" width="67.4" height="9.2" rx="4.6" fill="#1f70b8"/>
<text x="300.3" y="286.7" font-size="6.99" fill="#ffffff" font-weight="bold" text-anchor="middle" textLength="59" lengthAdjust="spacingAndGlyphs">Left vs Control</text>
<text x="310.6" y="423.5" font-size="6.8" fill="#3a3a3a" font-weight="bold" text-anchor="middle" textLength="116" lengthAdjust="spacingAndGlyphs">Per-CpG log<tspan font-size="4.5" dy="1.5">2</tspan><tspan dy="-1.5">(methylation fold change)</tspan></text>
<line x1="364.5" y1="280.5" x2="364.5" y2="405.3" stroke="#2a78c2" stroke-width="1.5"/>
<line x1="395.5" y1="292" x2="395.5" y2="405.3" stroke="#d2d7da" stroke-width="0.8"/>
<line x1="415.5" y1="292" x2="415.5" y2="405.3" stroke="#d2d7da" stroke-width="0.8"/>
<line x1="436.5" y1="292" x2="436.5" y2="405.3" stroke="#d2d7da" stroke-width="0.8"/>
<line x1="456.5" y1="292" x2="456.5" y2="405.3" stroke="#d2d7da" stroke-width="0.8"/>
<line x1="477.5" y1="292" x2="477.5" y2="405.3" stroke="#d2d7da" stroke-width="0.8"/>
<line x1="388" y1="400.5" x2="484" y2="400.5" stroke="#d2d7da" stroke-width="0.8"/>
<line x1="388" y1="360.5" x2="484" y2="360.5" stroke="#d2d7da" stroke-width="0.8"/>
<line x1="388" y1="321.5" x2="484" y2="321.5" stroke="#d2d7da" stroke-width="0.8"/>
<line x1="436.5" y1="292" x2="436.5" y2="405.3" stroke="#dc4149" stroke-width="1.0" stroke-dasharray="1 1"/>
<line x1="388" y1="321.5" x2="484" y2="321.5" stroke="#dc4149" stroke-width="1.0" stroke-dasharray="1 1"/>
<g transform="scale(.5)" stroke-linecap="round" stroke-width="5" opacity="0.85"><path d="M907 642h0" stroke="#a7c44c"/><path d="M872 798h0m1 1h0m5-1h0m1 0h0m0 1h0m0 1h0" stroke="#4d70b6"/><path d="M853 695h0m4 38h0m1 50h0m7 8h0m0 7h0m49-163h0m4-6h0m14-25h0" stroke="#f5a53a"/><path d="M852 684h0m1 44h0m4 11h0m2 14h0m1-15h0m6 52h0m47-162h0m3-4h0" stroke="#f6b73c"/><path d="M854 707h0m3-27h0m0 4h0m1 72h0m2 19h0m3 2h0m1-11h0m0 19h0m1 2h0" stroke="#f29236"/><path d="M856 687h0m3 53h0m0 21h0m2-31h0m1 40h0m2 7h0m0 10h0m2 12h0m2 0h0m46-167h0m3-4h0m1-8h0" stroke="#f2c53a"/><path d="M852 749h0m1-20h0m7 11h0m0 12h0m6 35h0m0 3h0m15 10h0m3-6h0m1-1h0m2-7h0m14-106h0m0 19h0m1 24h0m4-10h0m3 14h0m5-74h0m1 2h0m1 36h0m26 89h0" stroke="#7f7f7f"/><path d="M876 800h0m1-1h0m4 1h0m4-8h0m1-10h0m0 7h0m0 1h0m0 1h0m0 3h0m1-4h0m4-22h0m2 2h0m0 4h0m1-21h0m2-41h0m0 54h0m2-10h0m3-18h0m2-27h0m0 7h0m2-39h0m0 28h0m1-70h0m10 12h0" stroke="#3a9a5c"/><path d="M852 705h0m1-23h0m3 42h0m0 20h0m3-9h0m7 65h0m9-2h0m6 2h0m1-2h0m0 1h0m2-4h0m1 0h0m4-22h0m0 5h0m7-29h0m1-2h0m1-5h0m0 2h0m2-28h0m1 21h0m1-12h0m2-32h0m1 10h0m0 15h0m1-53h0m0 24h0m0 18h0m4-43h0m3-10h0m0 18h0m2-26h0m0 69h0" stroke="#86bc44"/><path d="M884 794h0m0 1h0m1-4h0m1 0h0m1-7h0m1-1h0m1 3h0m1-26h0m1 10h0m1 10h0m0 2h0m2-22h0m1 15h0m1-46h0m0 24h0m1-13h0m2-24h0m3 2h0m1-31h0m1-1h0m0 12h0m2-4h0m0 32h0m0 3h0m0 13h0m2-48h0m1-32h0m0 38h0m1 4h0m0 9h0m1-62h0m0 29h0m0 5h0m2-18h0m1-6h0m1 7h0m2 11h0m9 43h0" stroke="#66b247"/><path d="M853 702h0m1-14h0m3 39h0m1 25h0m2 12h0m2 0h0m6 34h0m3 1h0m6 1h0m7-9h0m0 1h0m1-4h0m0 4h0m1-10h0m1 6h0m2-14h0m0 1h0m0 14h0m1-20h0m2-18h0m1 11h0m0 6h0m1-10h0m1-12h0m0 2h0m0 4h0m0 10h0m1-18h0m1-23h0m2-7h0m0 29h0m0 4h0m3-33h0m0 40h0m3-64h0m0 28h0m2-64h0m2 7h0m0 134h0m1-99h0m0 2h0m3-23h0m0 19h0m3-21h0m1-10h0" stroke="#52a84c"/><path d="M853 702h0m2-22h0m1 35h0m1 21h0m3-12h0m1 27h0m3 39h0m2 8h0m0 1h0m1-1h0m0 1h0m0 1h0m1-2h0m1 1h0m2-1h0m1 2h0m1-1h0m3 0h0m1-1h0m0 1h0m1-1h0m3 0h0m0 1h0m0 1h0m1-3h0m0 2h0m1-4h0m0 2h0m0 2h0m0 1h0m4-12h0m2-3h0m1-13h0m1-21h0m3 21h0m2-37h0m0 4h0m2-13h0m0 2h0m5-55h0m0 49h0m1-4h0m0 29h0m1-21h0m1-63h0m3 79h0m2-87h0m1 21h0m0 26h0m2-46h0" stroke="#3a83b1"/><path d="M852 693h0m1-15h0m0 4h0m0 24h0m0 18h0m0 11h0m1 3h0m1-31h0m0 29h0m0 1h0m0 16h0m1-54h0m1 11h0m0 25h0m0 14h0m1-8h0m0 20h0m0 6h0m0 1h0m2-31h0m0 26h0m1-4h0m0 10h0m1-19h0m0 13h0m1 13h0m0 7h0m0 2h0m0 1h0m1-10h0m0 4h0m0 8h0m0 10h0m0 2h0m1-11h0m1 3h0m0 1h0m0 2h0m12 4h0m4-1h0m0 1h0m1-1h0m1-3h0m1-6h0m0 1h0m2-3h0m0 1h0m1-2h0m1-11h0m5-25h0m1-11h0m1-39h0m1 50h0m1 1h0m1-47h0m0 24h0m1-31h0m0 49h0m2-125h0m2 83h0m0 15h0m2-41h0m0 29h0m0 3h0m1-9h0m0 99h0m1-96h0m1-79h0m3 56h0m4-52h0m0 5h0m1-10h0m0 2h0m0 17h0" stroke="#ef7b2d"/><path d="M852 684h0m2 8h0m1 34h0m1 18h0m0 9h0m4-32h0m2 47h0m1 2h0m1 12h0m0 16h0m1 1h0m0 1h0m1-15h0m0 15h0m1-2h0m0 1h0m0 1h0m1-1h0m1 1h0m1-1h0m0 1h0m1-2h0m0 1h0m1-1h0m0 1h0m1 0h0m0 1h0m1-2h0m0 1h0m0 1h0m1-2h0m1 1h0m1-1h0m0 1h0m1-1h0m0 1h0m2-1h0m0 1h0m1 0h0m1-1h0m0 1h0m0 1h0m1-5h0m0 2h0m0 1h0m1-5h0m0 3h0m0 1h0m3-13h0m1 1h0m0 2h0m3-31h0m0 16h0m1-4h0m1 0h0m2-14h0m0 18h0m1-68h0m4 48h0m1 8h0m3-70h0m1-4h0m0 2h0m0 13h0m0 32h0m1-37h0m3-6h0m1-44h0m0 26h0m1-4h0" stroke="#3b8f8c"/><path d="M910 624h0" stroke="#a7c44c"/><path d="M911 643h0m4-16h0" stroke="#d8c23c"/><path d="M873 799h0m30-129h0" stroke="#5d7f95"/><path d="M854 726h0m1-7h0m1 11h0m6 41h0m3 29h0m1-5h0" stroke="#f29236"/><path d="M854 757h0m6-2h0m0 6h0m3 4h0m1 15h0m9 18h0m26-109h0" stroke="#f5a53a"/><path d="M852 712h0m3 5h0m2 3h0m3 14h0m3 49h0m4 15h0m35-168h0" stroke="#f6b73c"/><path d="M864 800h0m2-3h0m0 1h0m6 1h0m0 1h0m5-1h0m2 0h0m3-1h0m1-1h0" stroke="#4d70b6"/><path d="M852 690h0m2 21h0m3 3h0m1-7h0m0 54h0m1-60h0m0 62h0m2 3h0m3 16h0m8 16h0m39-173h0" stroke="#f2c53a"/><path d="M853 719h0m0 20h0m3 5h0m1-36h0m2 30h0m2 22h0m0 17h0m1-8h0m2-3h0m0 14h0m2 20h0m27-40h0m0 4h0m2-2h0m2-29h0m0 9h0m8-16h0m1-35h0m0 31h0m5-33h0m2-22h0m3-14h0" stroke="#7f7f7f"/><path d="M856 740h0m1-5h0m1-29h0m2 2h0m1 52h0m1 6h0m3 20h0m9 12h0m11-4h0m4-20h0m0 9h0m2-12h0m0 1h0m5-19h0m1-5h0m1-3h0m3-11h0m4-46h0m1 49h0m1-37h0m7-52h0m0 12h0m0 9h0m0 6h0m0 37h0m3-41h0" stroke="#86bc44"/><path d="M875 800h0m5-2h0m2 1h0m1-3h0m0 2h0m1-5h0m0 1h0m4-8h0m1-19h0m1 4h0m1 1h0m2 5h0m1-50h0m2 37h0m1-23h0m2 9h0m2-6h0m0 8h0m3-28h0m1-55h0m0 12h0m1-3h0m0 20h0m2-23h0m3-51h0m1 74h0m3-20h0" stroke="#66b247"/><path d="M878 798h0m3 0h0m3-3h0m2-9h0m0 1h0m0 2h0m0 2h0m1-9h0m0 5h0m1 1h0m3-14h0m2-11h0m1-44h0m1 43h0m1-14h0m0 9h0m2-17h0m2-29h0m4-13h0m0 42h0m1-24h0m2-66h0m1-4h0m0 31h0m3 9h0m0 16h0" stroke="#3a9a5c"/><path d="M855 697h0m5-4h0m5 86h0m12 21h0m5-1h0m1-2h0m1-3h0m1 0h0m1-5h0m0 1h0m0 3h0m1-10h0m1 3h0m0 2h0m2-18h0m0 3h0m0 1h0m2-30h0m0 33h0m2-35h0m0 20h0m0 2h0m1-25h0m0 33h0m1-18h0m0 3h0m1-32h0m1 26h0m2-16h0m3-19h0m2-12h0m1-41h0m0 28h0m0 31h0m3-59h0m1 8h0m1-13h0m1 60h0m1-70h0m0 49h0m1-2h0m1-12h0" stroke="#52a84c"/><path d="M854 729h0m0 33h0m2-41h0m2-19h0m1-21h0m5 117h0m1 1h0m0 1h0m2-4h0m0 1h0m0 1h0m0 1h0m1 1h0m1-2h0m0 1h0m1-1h0m1 1h0m2 0h0m3-1h0m0 2h0m1 0h0m1-1h0m1 0h0m1-1h0m0 1h0m1 0h0m0 1h0m1-2h0m0 1h0m1-2h0m0 2h0m0 1h0m2-7h0m0 3h0m1-11h0m0 7h0m6-33h0m1 10h0m0 3h0m1-11h0m1-1h0m3-26h0m0 29h0m2-34h0m3-29h0m4-54h0m0 61h0m0 32h0m3-24h0m1-43h0m7-3h0" stroke="#3a83b1"/><path d="M853 712h0m0 16h0m1 26h0m2-29h0m0 16h0m1 10h0m1-25h0m1-4h0m1 44h0m1-24h0m0 35h0m1-42h0m0 14h0m0 12h0m0 8h0m0 5h0m1-1h0m0 2h0m1 1h0m0 6h0m0 1h0m1-1h0m0 5h0m0 3h0m0 1h0m1 0h0m0 2h0m1 5h0m1 1h0m2-1h0m1 1h0m1 0h0m4-1h0m5 2h0m5-10h0m1 0h0m0 1h0m1-11h0m1-8h0m0 4h0m0 4h0m0 3h0m0 1h0m1-5h0m1-10h0m1-2h0m1-9h0m0 8h0m0 1h0m1-10h0m1 3h0m2-14h0m1-81h0m0 88h0m0 1h0m3-61h0m2 47h0m1-79h0m0 39h0m1-70h0m0 29h0m0 4h0m0 29h0m4-49h0m3-7h0m0 11h0m1-10h0m1-12h0m0 11h0m1 7h0m1 23h0m0 36h0m2-70h0m0 9h0" stroke="#ef7b2d"/><path d="M852 696h0m0 19h0m1-4h0m2 38h0m1-55h0m0 13h0m1 24h0m1 30h0m0 5h0m0 8h0m1-25h0m0 28h0m1-31h0m2 20h0m1 13h0m0 21h0m1-21h0m0 19h0m0 1h0m0 1h0m1-10h0m0 8h0m0 1h0m1-1h0m1-1h0m0 1h0m0 1h0m0 1h0m1-2h0m0 1h0m1-1h0m0 1h0m0 1h0m1 0h0m1-2h0m0 1h0m0 1h0m1-2h0m1 0h0m1 0h0m0 1h0m0 1h0m3-2h0m0 2h0m1-1h0m1-1h0m0 1h0m1-1h0m1 1h0m0 1h0m1-2h0m0 1h0m0 1h0m1-4h0m0 2h0m0 1h0m1-5h0m0 2h0m0 1h0m2-11h0m1 0h0m2-10h0m0 4h0m1-2h0m1 4h0m1-9h0m1-8h0m1-12h0m0 3h0m1-9h0m5-26h0m2-55h0m2 32h0m6-8h0m0 31h0m7-68h0" stroke="#3b8f8c"/><path d="M915 626h0" stroke="#a7c44c"/><path d="M914 631h0m2 12h0" stroke="#d8c23c"/><path d="M856 759h0m3-72h0m2 70h0m1 10h0m0 2h0m5 30h0m48-163h0" stroke="#f6b73c"/><path d="M854 747h0m1-42h0m4-4h0m1 58h0m2 18h0m1 6h0m3 10h0m5 5h0" stroke="#f29236"/><path d="M865 798h0m2 2h0m5 0h0m1-2h0m7 2h0m1-1h0m2 1h0" stroke="#4d70b6"/><path d="M855 697h0m2 57h0m2-53h0m0 53h0m3-1h0m0 16h0m2 16h0m0 4h0m1-7h0m51-154h0" stroke="#f2c53a"/><path d="M786 740h0m68-39h0m2-22h0m0 14h0m0 18h0m3 37h0m1-1h0m2 11h0m0 21h0m4 9h0m1 12h0m49-161h0m2-20h0" stroke="#f5a53a"/><path d="M858 723h0m7 75h0m19-7h0m1-2h0m2 2h0m1-9h0m2-8h0m3-17h0m2-8h0m4 6h0m1-49h0m3-22h0m2 49h0m1-82h0m0 63h0m2-65h0m0 27h0m0 24h0" stroke="#7f7f7f"/><path d="M876 798h0m6 1h0m2-9h0m1-1h0m0 3h0m2-4h0m1-26h0m4 3h0m1 13h0m1-13h0m2-25h0m1 14h0m0 5h0m3-48h0m0 10h0m0 16h0m1-8h0m1-9h0m3-20h0m3-21h0m0 16h0m2 7h0m2-51h0m0 18h0m0 16h0m0 35h0m5-42h0" stroke="#66b247"/><path d="M855 706h0m3-1h0m5 48h0m0 16h0m2 19h0m9 11h0m2-1h0m10-8h0m1 0h0m1-22h0m0 5h0m3-6h0m1 4h0m2-23h0m3-7h0m2-21h0m1 0h0m4-4h0m1-4h0m0 24h0m0 3h0m1-69h0m0 9h0m0 39h0m1-19h0m1-44h0m0 41h0m0 18h0m6-36h0" stroke="#86bc44"/><path d="M874 798h0m10-6h0m0 2h0m1-9h0m1 4h0m0 1h0m0 2h0m3-12h0m0 5h0m1-7h0m0 3h0m1-4h0m1-25h0m0 7h0m0 11h0m0 1h0m1-18h0m0 9h0m0 2h0m0 3h0m1-13h0m0 22h0m1-12h0m0 5h0m1-11h0m1-18h0m1-14h0m2 8h0m3-20h0m0 12h0m1-12h0m2-72h0m0 35h0m1 19h0m2 4h0m0 8h0m3-21h0m2-36h0m3 12h0" stroke="#3a9a5c"/><path d="M855 726h0m20 72h0m1 1h0m2-1h0m1 0h0m2 1h0m0 1h0m2-4h0m0 2h0m1-8h0m0 2h0m1-4h0m1 5h0m3-15h0m1-2h0m0 14h0m1-23h0m1-2h0m1-7h0m0 2h0m1-34h0m1 50h0m2-33h0m0 3h0m0 5h0m0 1h0m0 2h0m0 9h0m1-24h0m2 3h0m0 7h0m2-63h0m0 38h0m1-24h0m1-14h0m1 17h0m1-7h0m0 42h0m1-86h0m0 13h0m0 36h0m0 31h0m1-31h0m2-20h0m2-15h0m1 62h0m1-77h0m0 8h0m1 15h0m1 14h0m1-44h0" stroke="#52a84c"/><path d="M853 723h0m5 4h0m6 72h0m1-18h0m0 7h0m1 5h0m0 6h0m0 1h0m1-3h0m0 1h0m0 2h0m1-1h0m1-1h0m0 1h0m1 0h0m1 1h0m2-2h0m0 2h0m1-1h0m1 0h0m1-1h0m0 2h0m1-2h0m1 2h0m1-1h0m1-1h0m0 1h0m0 1h0m1-2h0m0 1h0m0 1h0m1-1h0m2-2h0m1-8h0m3-5h0m3 1h0m1-21h0m5-43h0m3-7h0m0 2h0m0 5h0m6-21h0m0 14h0m1 0h0m1-6h0m1-20h0m1-32h0m1 51h0m2-54h0m2-2h0m1 60h0m2-60h0" stroke="#3a83b1"/><path d="M840 756h0m12-50h0m0 34h0m1-53h0m0 39h0m1-12h0m0 2h0m0 9h0m3-42h0m0 29h0m0 1h0m0 20h0m1-2h0m0 11h0m0 13h0m2-13h0m0 10h0m1 10h0m0 12h0m0 3h0m1-59h0m0 17h0m0 20h0m1 3h0m0 7h0m0 2h0m0 2h0m0 4h0m1 8h0m0 19h0m1-26h0m0 5h0m0 10h0m0 2h0m1-2h0m0 1h0m6 9h0m8 0h0m1 1h0m3-7h0m0 2h0m1-5h0m2-2h0m5-23h0m1-6h0m1 2h0m1-14h0m3-21h0m0 18h0m3-48h0m0 48h0m1-59h0m1 52h0m1-7h0m2-90h0m0 101h0m1-101h0m2 16h0m3 51h0m3-56h0m1 5h0m8-56h0" stroke="#ef7b2d"/><path d="M852 685h0m2 78h0m1-16h0m0 4h0m1-50h0m0 43h0m1-12h0m0 3h0m1-7h0m4 29h0m2 31h0m1-3h0m0 4h0m0 9h0m0 1h0m0 1h0m1-5h0m1 3h0m0 2h0m1-1h0m1 0h0m0 1h0m1-2h0m0 1h0m0 1h0m1 0h0m1-2h0m0 2h0m2-1h0m0 1h0m1-2h0m0 1h0m0 1h0m1-2h0m1 1h0m1-1h0m0 1h0m1 1h0m1-2h0m0 1h0m1 0h0m0 1h0m1-3h0m0 1h0m0 1h0m1-1h0m0 1h0m2-10h0m1 1h0m1-5h0m3-17h0m0 1h0m1-4h0m2-2h0m3-7h0m2 8h0m1-31h0m2-68h0m0 32h0m0 24h0m2-28h0m0 15h0m6-50h0m5 17h0" stroke="#3b8f8c"/><path d="M907 636h0" stroke="#a7c44c"/><path d="M916 619h0" stroke="#d8c23c"/><path d="M866 794h0m6 4h0m0 1h0m37-157h0" stroke="#f6b73c"/><path d="M866 799h0m1 0h0m8 1h0m1-2h0m5 2h0m1-1h0m1-3h0m0 1h0" stroke="#4d70b6"/><path d="M856 685h0m1 27h0m1 22h0m6 43h0m1-5h0m0 15h0m1 11h0m1 2h0" stroke="#f5a53a"/><path d="M854 716h0m1-31h0m1 43h0m1 12h0m1-21h0m0 30h0m1-30h0m0 31h0m3-1h0" stroke="#f29236"/><path d="M797 759h0m56-32h0m1-15h0m7 53h0m3 18h0m8 17h0m12-4h0m6-15h0m1-12h0m0 4h0m6-34h0m0 3h0m9-97h0m0 11h0m1 62h0m4-3h0" stroke="#7f7f7f"/><path d="M852 678h0m4 78h0m1-23h0m3 13h0m1-10h0m0 28h0m0 16h0m1-39h0m0 14h0m1-2h0m0 15h0m1 10h0m47-135h0m3-2h0m1-20h0m3 16h0" stroke="#f2c53a"/><path d="M855 698h0m3 39h0m4 29h0m13 32h0m3 2h0m4-1h0m3-11h0m0 3h0m1-13h0m0 9h0m2-3h0m2-25h0m0 16h0m0 6h0m2-16h0m1-2h0m7-33h0m2-9h0m0 13h0m1-33h0m2-3h0m3 16h0m1-61h0m2 26h0m1 0h0m1 9h0m3-6h0m0 20h0m2-45h0" stroke="#86bc44"/><path d="M879 799h0m4-4h0m0 2h0m2-8h0m1 3h0m1-8h0m0 6h0m1-2h0m2-7h0m1-9h0m0 9h0m2-17h0m2-1h0m2-71h0m0 39h0m0 5h0m1-15h0m0 35h0m4-38h0m0 40h0m1 2h0m1-8h0m4-45h0m3-60h0m0 34h0m1-27h0m1 27h0m2-25h0m0 25h0m3-41h0m16-12h0" stroke="#3a9a5c"/><path d="M876 798h0m7-3h0m2-4h0m0 2h0m1-2h0m1-5h0m1-9h0m0 7h0m0 3h0m4-44h0m0 17h0m0 8h0m1-35h0m5 13h0m1 9h0m1 10h0m4-94h0m0 6h0m1 24h0m1-25h0m0 17h0m0 17h0m0 6h0m1-92h0m0 41h0m0 28h0m0 26h0m1-88h0m0 39h0m1 8h0m0 8h0m1-41h0m0 12h0m0 6h0m8-5h0m18-15h0" stroke="#66b247"/><path d="M858 752h0m0 6h0m1-37h0m2 16h0m2 42h0m0 21h0m1-21h0m1 15h0m0 6h0m1-2h0m4 1h0m2 1h0m1 0h0m1-2h0m1 0h0m0 1h0m0 1h0m1 0h0m2-2h0m3 2h0m1-1h0m1-3h0m0 3h0m4-22h0m0 10h0m3-4h0m1-24h0m1 23h0m4-29h0m2 2h0m15-83h0m1-27h0m1 0h0m3 40h0" stroke="#3a83b1"/><path d="M857 695h0m2 51h0m1-14h0m19 68h0m2 0h0m2-2h0m1-6h0m1-1h0m0 3h0m0 1h0m2-13h0m0 6h0m0 3h0m1-18h0m0 3h0m2-23h0m0 12h0m2-1h0m1 16h0m2-22h0m1-9h0m2-41h0m0 33h0m0 12h0m1-5h0m1-29h0m2-36h0m1 20h0m0 5h0m0 17h0m2-49h0m0 24h0m0 26h0m2-70h0m1 0h0m1 11h0m0 3h0m0 33h0m2-43h0m0 15h0m2-25h0m0 33h0m1-18h0m1-17h0m0 1h0m0 5h0" stroke="#52a84c"/><path d="M844 787h0m6-57h0m2-13h0m1 3h0m1-23h0m1-17h0m1 40h0m0 2h0m0 3h0m1-4h0m0 1h0m0 25h0m0 5h0m1-37h0m1 26h0m0 11h0m1-32h0m0 9h0m0 16h0m0 11h0m0 4h0m1-27h0m0 24h0m0 17h0m1-47h0m0 23h0m0 13h0m0 9h0m2 5h0m0 13h0m1-5h0m0 15h0m1-11h0m0 3h0m0 6h0m2 0h0m1 0h0m2 0h0m0 1h0m4-1h0m1 2h0m2-2h0m2 1h0m4-6h0m0 3h0m3-4h0m4-21h0m1-12h0m0 2h0m0 10h0m3-43h0m0 34h0m1-34h0m0 22h0m1-9h0m0 14h0m2-27h0m0 7h0m0 15h0m1-5h0m1-56h0m1-15h0m0 56h0m1 67h0m1-91h0m0 6h0m1-83h0m1 49h0m1 22h0m0 22h0m5-48h0m2-20h0m0 4h0m1-31h0m0 1h0m0 2h0m0 25h0m0 23h0m0 22h0m1-44h0m0 20h0" stroke="#ef7b2d"/><path d="M854 683h0m1 20h0m1-13h0m0 16h0m0 2h0m2 5h0m2 25h0m0 28h0m1-6h0m2 14h0m0 4h0m0 4h0m1-4h0m0 21h0m1 1h0m1-1h0m0 1h0m1-3h0m0 1h0m0 1h0m0 1h0m2-1h0m0 1h0m1-2h0m0 1h0m1-1h0m0 2h0m1-2h0m0 1h0m1 1h0m1-2h0m0 1h0m1-1h0m1 0h0m0 2h0m1-2h0m0 1h0m1-1h0m1 0h0m0 2h0m1-1h0m2-1h0m0 1h0m1-4h0m0 1h0m0 1h0m0 1h0m0 1h0m1-1h0m2-15h0m1 3h0m1-6h0m1-4h0m1 5h0m1-9h0m2-45h0m1 30h0m0 16h0m1-34h0m0 2h0m0 10h0m1-2h0m0 2h0m1-7h0m1-36h0m1 24h0m2-74h0m2 85h0m1-55h0m1-2h0m0 35h0m1 7h0m1-26h0m0 7h0m2-51h0m8 10h0m1-11h0" stroke="#3b8f8c"/></g>
<line x1="388.5" y1="292" x2="388.5" y2="405.8" stroke="#555555" stroke-width="1.1"/>
<line x1="387.5" y1="405.5" x2="484" y2="405.5" stroke="#777" stroke-width="1.3"/>
<line x1="395.5" y1="405.3" x2="395.5" y2="407.6" stroke="#555555" stroke-width="0.9"/>
<line x1="415.5" y1="405.3" x2="415.5" y2="407.6" stroke="#555555" stroke-width="0.9"/>
<line x1="436.5" y1="405.3" x2="436.5" y2="407.6" stroke="#555555" stroke-width="0.9"/>
<line x1="456.5" y1="405.3" x2="456.5" y2="407.6" stroke="#555555" stroke-width="0.9"/>
<line x1="477.5" y1="405.3" x2="477.5" y2="407.6" stroke="#555555" stroke-width="0.9"/>
<line x1="385.8" y1="400.5" x2="388" y2="400.5" stroke="#555555" stroke-width="0.9"/>
<line x1="385.8" y1="360.5" x2="388" y2="360.5" stroke="#555555" stroke-width="0.9"/>
<line x1="385.8" y1="321.5" x2="388" y2="321.5" stroke="#555555" stroke-width="0.9"/>
<text x="395.2" y="412.4" font-size="5.89" fill="#8c8c8c" text-anchor="middle" textLength="6.4" lengthAdjust="spacingAndGlyphs">−2</text>
<text x="415.7" y="412.4" font-size="5.89" fill="#8c8c8c" text-anchor="middle" textLength="6.4" lengthAdjust="spacingAndGlyphs">−1</text>
<text x="436.2" y="412.4" font-size="5.89" fill="#8c8c8c" text-anchor="middle" textLength="3.2" lengthAdjust="spacingAndGlyphs">0</text>
<text x="456.7" y="412.4" font-size="5.89" fill="#8c8c8c" text-anchor="middle" textLength="3.2" lengthAdjust="spacingAndGlyphs">1</text>
<text x="477.2" y="412.4" font-size="5.89" fill="#8c8c8c" text-anchor="middle" textLength="3.2" lengthAdjust="spacingAndGlyphs">2</text>
<text x="385.2" y="402.2" font-size="5.89" fill="#8c8c8c" text-anchor="end" textLength="3.2" lengthAdjust="spacingAndGlyphs">0</text>
<text x="385.2" y="363.1" font-size="5.89" fill="#8c8c8c" text-anchor="end" textLength="8" lengthAdjust="spacingAndGlyphs">0.5</text>
<text x="385.2" y="323.9" font-size="5.89" fill="#8c8c8c" text-anchor="end" textLength="3.2" lengthAdjust="spacingAndGlyphs">1</text>
<rect x="402.3" y="279.8" width="67.2" height="9.2" rx="4.6" fill="#1f70b8"/>
<text x="435.9" y="286.7" font-size="6.99" fill="#ffffff" font-weight="bold" text-anchor="middle" textLength="57" lengthAdjust="spacingAndGlyphs">Mid vs Control</text>
<line x1="498.5" y1="280.5" x2="498.5" y2="405.3" stroke="#2a78c2" stroke-width="1.5"/>
<line x1="541.5" y1="292.2" x2="541.5" y2="405.4" stroke="#d2d7da" stroke-width="0.8"/>
<line x1="565.5" y1="292.2" x2="565.5" y2="405.4" stroke="#d2d7da" stroke-width="0.8"/>
<line x1="590.5" y1="292.2" x2="590.5" y2="405.4" stroke="#d2d7da" stroke-width="0.8"/>
<line x1="517.7" y1="400.5" x2="613.7" y2="400.5" stroke="#d2d7da" stroke-width="0.8"/>
<line x1="517.7" y1="371.5" x2="613.7" y2="371.5" stroke="#d2d7da" stroke-width="0.8"/>
<line x1="517.7" y1="343.5" x2="613.7" y2="343.5" stroke="#d2d7da" stroke-width="0.8"/>
<line x1="517.7" y1="315.5" x2="613.7" y2="315.5" stroke="#d2d7da" stroke-width="0.8"/>
<line x1="565.5" y1="292" x2="565.5" y2="405.4" stroke="#dc4149" stroke-width="1.0" stroke-dasharray="1 1"/>
<line x1="518" y1="315.5" x2="613.7" y2="315.5" stroke="#dc4149" stroke-width="1.0" stroke-dasharray="1 1"/>
<g transform="scale(.5)" stroke-linecap="round" stroke-width="5" opacity="0.85"><path d="M1158 784h0" stroke="#f6b73c"/><path d="M1109 799h0m2 0h0m0 1h0m2 0h0m44 0h0" stroke="#f5a53a"/><path d="M1044 800h0m66-1h0m0 1h0m3-1h0m44 1h0m6 0h0" stroke="#3a9a5c"/><path d="M1115 800h0m9 0h0m8 0h0m1 0h0m3 0h0m4 0h0m10 0h0m3-1h0" stroke="#3a83b1"/><path d="M1107 800h0m1 0h0m1 0h0m2 0h0m8 0h0m27 0h0m10 0h0m1-1h0m0 1h0m1 0h0m1 0h0m1 0h0m1 0h0m1-1h0" stroke="#ef7b2d"/><path d="M1114 800h0m3-1h0m0 1h0m1 0h0m1-1h0m0 1h0m1 0h0m1 0h0m1 0h0m1 0h0m1-1h0m2 1h0m3-1h0m1 1h0m1 0h0m1-1h0m0 1h0m1 0h0m2 0h0m1 0h0m1 0h0m1-1h0m0 1h0m1 0h0m1-1h0m0 1h0m1-1h0m0 1h0m1 0h0m1-1h0m2 0h0m0 1h0m1 0h0m1 0h0m1-1h0m1 0h0m2 1h0m1 0h0m2-1h0m0 1h0m1 0h0" stroke="#3b8f8c"/><path d="M1158 800h0m4 0h0" stroke="#f5a53a"/><path d="M1107 800h0m2-1h0m47 1h0m2 0h0m1-1h0m0 1h0m3-1h0m0 1h0" stroke="#3a9a5c"/><path d="M1118 799h0m0 1h0m5-1h0m0 1h0m5 0h0m3-1h0m4 0h0m5 0h0m1 1h0m1 0h0m1-1h0m2 0h0m6 1h0m3-1h0" stroke="#3a83b1"/><path d="M1100 800h0m8 0h0m1 0h0m1-1h0m6 1h0m3-1h0m3 1h0m13-1h0m2 1h0m4 0h0m2 0h0m13 0h0m1 0h0m2-1h0m1 0h0m1 1h0m1 0h0m1 0h0" stroke="#ef7b2d"/><path d="M1115 800h0m2-1h0m0 1h0m1-1h0m1 1h0m1-1h0m1 1h0m1-1h0m1 1h0m1-1h0m0 1h0m1-1h0m0 1h0m1-1h0m0 1h0m1 0h0m2-1h0m0 1h0m1 0h0m1 0h0m1 0h0m1 0h0m2-1h0m2 0h0m1 0h0m0 1h0m2-1h0m1 0h0m0 1h0m2-1h0m0 1h0m1 0h0m1 0h0m1 0h0m1-1h0m1 1h0m1-1h0m1 1h0m2 0h0m1 0h0m1-1h0m1 1h0m1-1h0" stroke="#3b8f8c"/><path d="M1159 596h0" stroke="#f6b73c"/><path d="M1111 799h0m45 0h0m1 0h0m4 1h0m1 0h0" stroke="#3a9a5c"/><path d="M1109 800h0m2-1h0m0 1h0m50-1h0m1 0h0m0 1h0" stroke="#f5a53a"/><path d="M1115 799h0m2 1h0m2-1h0m0 1h0m4 0h0m3-1h0m8 1h0m5 0h0m2-1h0m13 0h0m1 1h0" stroke="#3a83b1"/><path d="M1107 799h0m0 1h0m1 0h0m1 0h0m1-1h0m0 1h0m1 0h0m1-1h0m1 1h0m5 0h0m12-1h0m21 1h0m1 0h0m4 0h0m1-1h0m1 1h0m1 0h0m16 0h0" stroke="#ef7b2d"/><path d="M1113 800h0m4 0h0m1-1h0m1 0h0m1 0h0m0 1h0m1-1h0m2 0h0m0 1h0m2-1h0m1 0h0m1 0h0m0 1h0m1-1h0m0 1h0m1 0h0m1 0h0m1 0h0m1 0h0m1-1h0m2 1h0m1-1h0m0 1h0m3 0h0m1 0h0m1 0h0m1-1h0m1 0h0m1 0h0m0 1h0m2 0h0m1 0h0m1-1h0m1 1h0m1 0h0m1-1h0m0 1h0m2-1h0m1 0h0m1 1h0m1 0h0" stroke="#3b8f8c"/><path d="M1114 800h0m11-1h0m2 1h0m4-1h0m21 1h0" stroke="#3a83b1"/><path d="M1109 800h0m1-1h0m1 1h0m1-1h0m45 0h0m6 1h0" stroke="#3a9a5c"/><path d="M1109 800h0m1 0h0m1 0h0m1-1h0m0 1h0m1 0h0" stroke="#f5a53a"/><path d="M1107 799h0m2 0h0m1 1h0m2-1h0m0 1h0m5 0h0m1 0h0m12-1h0m15 1h0m3 0h0m1-1h0m8 0h0m1 1h0m1-1h0m0 1h0m1 0h0m1-1h0m1 0h0m1 0h0" stroke="#ef7b2d"/><path d="M1113 800h0m3-1h0m1 1h0m1-1h0m0 1h0m1-1h0m1 1h0m1 0h0m1 0h0m3 0h0m1-1h0m0 1h0m1-1h0m1 1h0m1-1h0m1 1h0m3-1h0m1 0h0m1 1h0m1 0h0m1 0h0m1 0h0m1 0h0m2 0h0m2 0h0m1-1h0m0 1h0m1-1h0m1 1h0m2 0h0m1-1h0m0 1h0m1-1h0m0 1h0m1 0h0m1-1h0m1 1h0m1-1h0m1 1h0m1 0h0" stroke="#3b8f8c"/></g>
<line x1="517.5" y1="292.2" x2="517.5" y2="405.9" stroke="#555555" stroke-width="1.1"/>
<line x1="517.2" y1="405.5" x2="613.7" y2="405.5" stroke="#777" stroke-width="1.3"/>
<line x1="541.5" y1="405.4" x2="541.5" y2="407.7" stroke="#555555" stroke-width="0.9"/>
<line x1="565.5" y1="405.4" x2="565.5" y2="407.7" stroke="#555555" stroke-width="0.9"/>
<line x1="590.5" y1="405.4" x2="590.5" y2="407.7" stroke="#555555" stroke-width="0.9"/>
<line x1="515.5" y1="400.5" x2="517.7" y2="400.5" stroke="#555555" stroke-width="0.9"/>
<line x1="515.5" y1="371.5" x2="517.7" y2="371.5" stroke="#555555" stroke-width="0.9"/>
<line x1="515.5" y1="343.5" x2="517.7" y2="343.5" stroke="#555555" stroke-width="0.9"/>
<line x1="515.5" y1="315.5" x2="517.7" y2="315.5" stroke="#555555" stroke-width="0.9"/>
<text x="541.3" y="412.4" font-size="5.89" fill="#8c8c8c" text-anchor="middle" textLength="6.4" lengthAdjust="spacingAndGlyphs">−2</text>
<text x="565.7" y="412.4" font-size="5.89" fill="#8c8c8c" text-anchor="middle" textLength="3.2" lengthAdjust="spacingAndGlyphs">0</text>
<text x="590.1" y="412.4" font-size="5.89" fill="#8c8c8c" text-anchor="middle" textLength="3.2" lengthAdjust="spacingAndGlyphs">2</text>
<text x="514.6" y="402.3" font-size="5.89" fill="#8c8c8c" text-anchor="end" textLength="3.2" lengthAdjust="spacingAndGlyphs">0</text>
<text x="514.6" y="374" font-size="5.89" fill="#8c8c8c" text-anchor="end" textLength="8" lengthAdjust="spacingAndGlyphs">0.1</text>
<text x="514.6" y="345.6" font-size="5.89" fill="#8c8c8c" text-anchor="end" textLength="8" lengthAdjust="spacingAndGlyphs">0.2</text>
<text x="514.6" y="317.3" font-size="5.89" fill="#8c8c8c" text-anchor="end" textLength="8" lengthAdjust="spacingAndGlyphs">0.3</text>
<rect x="531.6" y="279.8" width="68" height="9.2" rx="4.6" fill="#1f70b8"/>
<text x="565.6" y="286.7" font-size="6.99" fill="#ffffff" font-weight="bold" text-anchor="middle" textLength="61" lengthAdjust="spacingAndGlyphs">Right vs Control</text>
<line x1="498.5" y1="280.5" x2="498.5" y2="405.3" stroke="#2a78c2" stroke-width="1.5"/>
<text x="624.5" y="285.7" font-size="6.44" fill="#2b78c1" font-weight="bold" textLength="52" lengthAdjust="spacingAndGlyphs">CpG−overlapping</text>
<text x="624.5" y="294.1" font-size="6.44" fill="#2b78c1" font-weight="bold" textLength="15" lengthAdjust="spacingAndGlyphs">gene</text>
<path d="M624.9 301h4.2M627 298.9v4.2" stroke="#4a69b8" stroke-width="0.9"/>
<text x="634.5" y="303.4" font-size="6.07" fill="#505050" textLength="11.2" lengthAdjust="spacingAndGlyphs">APC</text>
<rect x="625.5" y="307" width="3" height="3" fill="#4d70b6"/>
<text x="634.5" y="310.9" font-size="6.07" fill="#505050" textLength="15.8" lengthAdjust="spacingAndGlyphs">BMP3</text>
<path d="M625.5 314.5l3 3M625.5 317.5l3 -3" stroke="#3a83b1" stroke-width="0.8"/>
<text x="634.5" y="318.4" font-size="6.07" fill="#505050" textLength="18" lengthAdjust="spacingAndGlyphs">CERS4</text>
<circle cx="627" cy="323.5" r="1.4" fill="#3b8f8c"/>
<text x="634.5" y="325.8" font-size="6.07" fill="#505050" textLength="15.7" lengthAdjust="spacingAndGlyphs">CLIP4</text>
<path d="M625.1 331h3.8M627 329.1v3.8M625.5 329.5l3 3M625.5 332.5l3 -3" stroke="#3a9a5c" stroke-width="0.8"/>
<text x="634.5" y="333.3" font-size="6.07" fill="#505050" textLength="17.9" lengthAdjust="spacingAndGlyphs">FOXA1</text>
<path d="M627 336.6L628.8 339.9L625.2 339.9Z" fill="#52a84c"/>
<text x="634.5" y="340.8" font-size="6.07" fill="#505050" textLength="22.1" lengthAdjust="spacingAndGlyphs">LONRF2</text>
<path d="M627 343.9L629 345.9L627 347.9L625 345.9ZM625 345.9h4M627 343.9v4" fill="none" stroke="#66b247" stroke-width="0.8"/>
<text x="634.5" y="348.3" font-size="6.07" fill="#505050" textLength="17.9" lengthAdjust="spacingAndGlyphs">LRRC4</text>
<path d="M627 351.9L628.5 353.4L627 354.9L625.5 353.4Z" fill="#86bc44"/>
<text x="634.5" y="355.8" font-size="6.07" fill="#505050" textLength="17.1" lengthAdjust="spacingAndGlyphs">MGMT</text>
<circle cx="627" cy="360.9" r="1.7" fill="none" stroke="#a7c44c" stroke-width="0.8"/>
<path d="M625.3 360.9h3.4M627 359.2v3.4" stroke="#a7c44c" stroke-width="0.7"/>
<text x="634.5" y="363.3" font-size="6.07" fill="#505050" textLength="15.4" lengthAdjust="spacingAndGlyphs">MLH1</text>
<path d="M624.9 368.4h4.2M627 366.3v4.2" stroke="#d8c23c" stroke-width="0.9"/>
<text x="634.5" y="370.8" font-size="6.07" fill="#505050" textLength="19.4" lengthAdjust="spacingAndGlyphs">NDRG4</text>
<rect x="625.5" y="374.4" width="3" height="3" fill="#f2c53a"/>
<text x="634.5" y="378.3" font-size="6.07" fill="#505050" textLength="25.7" lengthAdjust="spacingAndGlyphs">PPP2R5C</text>
<path d="M625.5 381.9l3 3M625.5 384.9l3 -3" stroke="#f6b73c" stroke-width="0.8"/>
<text x="634.5" y="385.8" font-size="6.07" fill="#505050" textLength="21.2" lengthAdjust="spacingAndGlyphs">RASSF1</text>
<circle cx="627" cy="390.9" r="1.4" fill="#f5a53a"/>
<text x="634.5" y="393.3" font-size="6.07" fill="#505050" textLength="21.2" lengthAdjust="spacingAndGlyphs">RNF217</text>
<path d="M625.1 398.4h3.8M627 396.5v3.8M625.5 396.9l3 3M625.5 399.9l3 -3" stroke="#f29236" stroke-width="0.8"/>
<text x="634.5" y="400.7" font-size="6.07" fill="#505050" textLength="14.6" lengthAdjust="spacingAndGlyphs">SDC2</text>
<path d="M627 404.1L628.8 407.4L625.2 407.4Z" fill="#ef7b2d"/>
<text x="634.5" y="408.2" font-size="6.07" fill="#505050" textLength="23.8" lengthAdjust="spacingAndGlyphs">SEPTIN9</text>
<path d="M627 411.4L629 413.4L627 415.4L625 413.4ZM625 413.4h4M627 411.4v4" fill="none" stroke="#e8623a" stroke-width="0.8"/>
<text x="634.5" y="415.7" font-size="6.07" fill="#505050" textLength="19.2" lengthAdjust="spacingAndGlyphs">SMAD3</text>
<path d="M627 419.3L628.5 420.8L627 422.3L625.5 420.8Z" fill="#e4473a"/>
<text x="634.5" y="423.2" font-size="6.07" fill="#505050" textLength="9.8" lengthAdjust="spacingAndGlyphs">VIM</text>
<line x1="59" y1="448.5" x2="136.6" y2="448.5" stroke="#e0e4e6" stroke-width="0.8"/>
<line x1="140.4" y1="448.5" x2="218.7" y2="448.5" stroke="#e0e4e6" stroke-width="0.8"/>
<line x1="59" y1="463.5" x2="136.6" y2="463.5" stroke="#e0e4e6" stroke-width="0.8"/>
<line x1="140.4" y1="463.5" x2="218.7" y2="463.5" stroke="#e0e4e6" stroke-width="0.8"/>
<line x1="59" y1="477.5" x2="136.6" y2="477.5" stroke="#e0e4e6" stroke-width="0.8"/>
<line x1="140.4" y1="477.5" x2="218.7" y2="477.5" stroke="#e0e4e6" stroke-width="0.8"/>
<line x1="59" y1="492.5" x2="136.6" y2="492.5" stroke="#e0e4e6" stroke-width="0.8"/>
<line x1="140.4" y1="492.5" x2="218.7" y2="492.5" stroke="#e0e4e6" stroke-width="0.8"/>
<line x1="59" y1="507.5" x2="136.6" y2="507.5" stroke="#e0e4e6" stroke-width="0.8"/>
<line x1="140.4" y1="507.5" x2="218.7" y2="507.5" stroke="#e0e4e6" stroke-width="0.8"/>
<line x1="59" y1="522.5" x2="136.6" y2="522.5" stroke="#e0e4e6" stroke-width="0.8"/>
<line x1="140.4" y1="522.5" x2="218.7" y2="522.5" stroke="#e0e4e6" stroke-width="0.8"/>
<line x1="59" y1="536.5" x2="136.6" y2="536.5" stroke="#e0e4e6" stroke-width="0.8"/>
<line x1="140.4" y1="536.5" x2="218.7" y2="536.5" stroke="#e0e4e6" stroke-width="0.8"/>
<line x1="64.3" y1="448.5" x2="78.3" y2="448.5" stroke="#8a8585" stroke-width="0.8" opacity="0.4"/>
<path d="M66.5 448.5 67 448.4 67.5 448.3 67.9 448.2 68.4 448 68.9 447.6 69.4 447.2 69.9 446.7 70.3 446.2 70.8 445.9 71.3 445.8 71.8 445.9 72.4 446.2 72.9 446.7 73.5 447.2 74 447.6 74.5 448 75.1 448.2 75.6 448.3 76.2 448.4 76.7 448.5 76.7 448.5 76.2 448.6 75.6 448.7 75.1 448.8 74.5 449 74 449.4 73.5 449.8 72.9 450.3 72.4 450.8 71.8 451.1 71.3 451.2 70.8 451.1 70.3 450.8 69.9 450.3 69.4 449.8 68.9 449.4 68.4 449 67.9 448.8 67.5 448.7 67 448.6 66.5 448.5Z" fill="#3d3a3a" opacity="0.9"/>
<line x1="71.5" y1="445.7" x2="71.5" y2="451.3" stroke="#1a1a1a" stroke-width="1.1"/>
<line x1="72.5" y1="445.7" x2="72.5" y2="451.3" stroke="#4a86c8" stroke-width="1.1"/>
<line x1="71.2" y1="463.5" x2="85.2" y2="463.5" stroke="#8a8585" stroke-width="0.8" opacity="0.4"/>
<path d="M73.4 463.2 73.9 463.1 74.4 463.1 74.8 462.9 75.3 462.7 75.8 462.3 76.3 461.9 76.8 461.4 77.2 461 77.7 460.6 78.2 460.5 78.7 460.6 79.3 461 79.8 461.4 80.4 461.9 80.9 462.3 81.4 462.7 82 462.9 82.5 463.1 83.1 463.1 83.6 463.2 83.6 463.2 83.1 463.3 82.5 463.4 82 463.5 81.4 463.8 80.9 464.1 80.4 464.5 79.8 465 79.3 465.5 78.7 465.8 78.2 465.9 77.7 465.8 77.2 465.5 76.8 465 76.3 464.5 75.8 464.1 75.3 463.8 74.8 463.5 74.4 463.4 73.9 463.3 73.4 463.2Z" fill="#3d3a3a" opacity="0.9"/>
<line x1="78.5" y1="460.4" x2="78.5" y2="466" stroke="#f0852d" stroke-width="1.1"/>
<line x1="77.5" y1="460.4" x2="77.5" y2="466" stroke="#1a1a1a" stroke-width="1.1"/>
<line x1="86.5" y1="460.4" x2="86.5" y2="466" stroke="#4a86c8" stroke-width="1.1"/>
<line x1="64.3" y1="477.5" x2="78.3" y2="477.5" stroke="#8a8585" stroke-width="0.8" opacity="0.4"/>
<path d="M66.5 477.9 67 477.9 67.5 477.8 67.9 477.6 68.4 477.4 68.9 477.1 69.4 476.6 69.9 476.1 70.3 475.7 70.8 475.4 71.3 475.2 71.8 475.4 72.4 475.7 72.9 476.1 73.5 476.6 74 477.1 74.5 477.4 75.1 477.6 75.6 477.8 76.2 477.9 76.7 477.9 76.7 478 76.2 478 75.6 478.1 75.1 478.2 74.5 478.5 74 478.8 73.5 479.3 72.9 479.7 72.4 480.2 71.8 480.5 71.3 480.6 70.8 480.5 70.3 480.2 69.9 479.7 69.4 479.3 68.9 478.8 68.4 478.5 67.9 478.2 67.5 478.1 67 478 66.5 478Z" fill="#3d3a3a" opacity="0.9"/>
<line x1="71.5" y1="475.1" x2="71.5" y2="480.7" stroke="#f0852d" stroke-width="1.1"/>
<line x1="70.5" y1="475.1" x2="70.5" y2="480.7" stroke="#1a1a1a" stroke-width="1.1"/>
<line x1="81.5" y1="475.1" x2="81.5" y2="480.7" stroke="#4a86c8" stroke-width="1.1"/>
<line x1="69" y1="492.5" x2="83" y2="492.5" stroke="#8a8585" stroke-width="0.8" opacity="0.4"/>
<path d="M71.2 492.6 71.7 492.6 72.2 492.5 72.6 492.4 73.1 492.1 73.6 491.8 74.1 491.3 74.6 490.9 75 490.4 75.5 490.1 76 490 76.5 490.1 77.1 490.4 77.6 490.9 78.2 491.3 78.7 491.8 79.2 492.1 79.8 492.4 80.3 492.5 80.9 492.6 81.4 492.6 81.4 492.7 80.9 492.7 80.3 492.8 79.8 493 79.2 493.2 78.7 493.5 78.2 494 77.6 494.5 77.1 494.9 76.5 495.2 76 495.4 75.5 495.2 75 494.9 74.6 494.5 74.1 494 73.6 493.5 73.1 493.2 72.6 493 72.2 492.8 71.7 492.7 71.2 492.7Z" fill="#3d3a3a" opacity="0.9"/>
<line x1="76.5" y1="489.9" x2="76.5" y2="495.5" stroke="#f0852d" stroke-width="1.1"/>
<line x1="75.5" y1="489.9" x2="75.5" y2="495.5" stroke="#1a1a1a" stroke-width="1.1"/>
<line x1="97.5" y1="489.9" x2="97.5" y2="495.5" stroke="#4a86c8" stroke-width="1.1"/>
<line x1="80.6" y1="507.5" x2="94.6" y2="507.5" stroke="#8a8585" stroke-width="0.8" opacity="0.4"/>
<path d="M82.8 507.4 83.3 507.3 83.8 507.2 84.2 507.1 84.7 506.8 85.2 506.5 85.7 506.1 86.2 505.6 86.6 505.1 87.1 504.8 87.6 504.7 88.1 504.8 88.7 505.1 89.2 505.6 89.8 506.1 90.3 506.5 90.8 506.8 91.4 507.1 91.9 507.2 92.5 507.3 93 507.4 93 507.4 92.5 507.5 91.9 507.5 91.4 507.7 90.8 507.9 90.3 508.3 89.8 508.7 89.2 509.2 88.7 509.6 88.1 510 87.6 510.1 87.1 510 86.6 509.6 86.2 509.2 85.7 508.7 85.2 508.3 84.7 507.9 84.2 507.7 83.8 507.5 83.3 507.5 82.8 507.4Z" fill="#3d3a3a" opacity="0.9"/>
<line x1="88.5" y1="504.6" x2="88.5" y2="510.2" stroke="#f0852d" stroke-width="1.1"/>
<line x1="87.5" y1="504.6" x2="87.5" y2="510.2" stroke="#1a1a1a" stroke-width="1.1"/>
<line x1="102.5" y1="504.6" x2="102.5" y2="510.2" stroke="#4a86c8" stroke-width="1.1"/>
<line x1="121" y1="522.5" x2="135" y2="522.5" stroke="#8a8585" stroke-width="0.8" opacity="0.4"/>
<path d="M123.5 522.1 124 522 124.4 521.9 124.8 521.8 125.3 521.6 125.8 521.2 126.2 520.8 126.7 520.3 127.1 519.8 127.5 519.5 128 519.4 128.5 519.5 129.1 519.8 129.6 520.3 130.2 520.8 130.7 521.2 131.2 521.6 131.8 521.8 132.3 521.9 132.9 522 133.4 522.1 133.4 522.1 132.9 522.2 132.3 522.3 131.8 522.4 131.2 522.6 130.7 523 130.2 523.4 129.6 523.9 129.1 524.4 128.5 524.7 128 524.8 127.5 524.7 127.1 524.4 126.7 523.9 126.2 523.4 125.8 523 125.3 522.6 124.8 522.4 124.4 522.3 124 522.2 123.5 522.1Z" fill="#3d3a3a" opacity="0.9"/>
<line x1="125.5" y1="519.3" x2="125.5" y2="524.9" stroke="#f0852d" stroke-width="1.1"/>
<line x1="128.5" y1="519.3" x2="128.5" y2="524.9" stroke="#1a1a1a" stroke-width="1.1"/>
<line x1="96.5" y1="519.3" x2="96.5" y2="524.9" stroke="#4a86c8" stroke-width="1.1"/>
<line x1="58.5" y1="536.5" x2="72.5" y2="536.5" stroke="#8a8585" stroke-width="0.8" opacity="0.4"/>
<path d="M63.1 536.8 63.3 536.7 63.6 536.6 63.8 536.4 64.1 536 64.3 535.5 64.5 534.8 64.8 534 65 533.3 65.3 532.8 65.5 532.6 65.8 532.8 66.1 533.3 66.4 534 66.7 534.8 67 535.5 67.3 536 67.6 536.4 67.9 536.6 68.2 536.7 68.5 536.8 68.5 536.9 68.2 536.9 67.9 537.1 67.6 537.3 67.3 537.7 67 538.2 66.7 538.9 66.4 539.6 66.1 540.3 65.8 540.8 65.5 541 65.3 540.8 65 540.3 64.8 539.6 64.5 538.9 64.3 538.2 64.1 537.7 63.8 537.3 63.6 537.1 63.3 536.9 63.1 536.9Z" fill="#3d3a3a" opacity="0.9"/>
<line x1="65.5" y1="534" x2="65.5" y2="539.6" stroke="#f0852d" stroke-width="1.1"/>
<line x1="65.5" y1="534" x2="65.5" y2="539.6" stroke="#1a1a1a" stroke-width="1.1"/>
<line x1="61.5" y1="534" x2="61.5" y2="539.6" stroke="#4a86c8" stroke-width="1.1"/>
<line x1="142.5" y1="448.5" x2="162.7" y2="448.5" stroke="#8a8585" stroke-width="0.8" opacity="0.4"/>
<path d="M147 448.5 147.4 448.4 147.9 448.3 148.3 448.2 148.8 447.9 149.2 447.5 149.7 447 150.2 446.5 150.6 446 151.1 445.6 151.5 445.5 152 445.6 152.6 446 153.1 446.5 153.7 447 154.2 447.5 154.7 447.9 155.3 448.2 155.8 448.3 156.4 448.4 156.9 448.5 156.9 448.5 156.4 448.6 155.8 448.7 155.3 448.8 154.7 449.1 154.2 449.5 153.7 450 153.1 450.5 152.6 451 152 451.4 151.5 451.5 151.1 451.4 150.6 451 150.2 450.5 149.7 450 149.2 449.5 148.8 449.1 148.3 448.8 147.9 448.7 147.4 448.6 147 448.5Z" fill="#6d6666" opacity="0.85"/>
<line x1="151.5" y1="445.7" x2="151.5" y2="451.3" stroke="#1a1a1a" stroke-width="1.1"/>
<line x1="151.5" y1="445.7" x2="151.5" y2="451.3" stroke="#4a86c8" stroke-width="1.1"/>
<line x1="146.6" y1="463.5" x2="170.4" y2="463.5" stroke="#8a8585" stroke-width="0.8" opacity="0.4"/>
<path d="M151.2 463.2 151.7 463.1 152.2 463.1 152.6 462.9 153.1 462.6 153.6 462.2 154.1 461.8 154.6 461.2 155 460.7 155.5 460.4 156 460.2 156.8 460.4 157.6 460.7 158.3 461.2 159.1 461.8 159.9 462.2 160.7 462.6 161.5 462.9 162.2 463.1 163 463.1 163.8 463.2 163.8 463.3 163 463.3 162.2 463.4 161.5 463.6 160.7 463.8 159.9 464.2 159.1 464.7 158.3 465.2 157.6 465.7 156.8 466.1 156 466.2 155.5 466.1 155 465.7 154.6 465.2 154.1 464.7 153.6 464.2 153.1 463.8 152.6 463.6 152.2 463.4 151.7 463.3 151.2 463.3Z" fill="#6d6666" opacity="0.85"/>
<line x1="153.5" y1="460.4" x2="153.5" y2="466" stroke="#f0852d" stroke-width="1.1"/>
<line x1="156.5" y1="460.4" x2="156.5" y2="466" stroke="#1a1a1a" stroke-width="1.1"/>
<line x1="145.5" y1="460.4" x2="145.5" y2="466" stroke="#4a86c8" stroke-width="1.1"/>
<line x1="141.8" y1="477.5" x2="162.8" y2="477.5" stroke="#8a8585" stroke-width="0.8" opacity="0.4"/>
<path d="M146.3 477.9 146.8 477.9 147.2 477.8 147.7 477.6 148.1 477.3 148.6 477 149 476.5 149.5 475.9 149.9 475.4 150.4 475.1 150.8 474.9 151.4 475.1 152 475.4 152.6 475.9 153.2 476.5 153.8 477 154.4 477.3 155 477.6 155.6 477.8 156.2 477.9 156.8 477.9 156.8 478 156.2 478 155.6 478.1 155 478.3 154.4 478.5 153.8 478.9 153.2 479.4 152.6 479.9 152 480.4 151.4 480.8 150.8 480.9 150.4 480.8 149.9 480.4 149.5 479.9 149 479.4 148.6 478.9 148.1 478.5 147.7 478.3 147.2 478.1 146.8 478 146.3 478Z" fill="#6d6666" opacity="0.85"/>
<line x1="148.5" y1="475.1" x2="148.5" y2="480.7" stroke="#f0852d" stroke-width="1.1"/>
<line x1="150.5" y1="475.1" x2="150.5" y2="480.7" stroke="#1a1a1a" stroke-width="1.1"/>
<line x1="143.5" y1="475.1" x2="143.5" y2="480.7" stroke="#4a86c8" stroke-width="1.1"/>
<line x1="145.2" y1="492.5" x2="168.2" y2="492.5" stroke="#8a8585" stroke-width="0.8" opacity="0.4"/>
<path d="M149.8 492.6 150.3 492.6 150.8 492.5 151.2 492.3 151.7 492.1 152.2 491.7 152.7 491.2 153.2 490.7 153.6 490.2 154.1 489.8 154.6 489.7 155.3 489.8 156 490.2 156.8 490.7 157.5 491.2 158.2 491.7 158.9 492.1 159.6 492.3 160.4 492.5 161.1 492.6 161.8 492.6 161.8 492.7 161.1 492.7 160.4 492.8 159.6 493 158.9 493.3 158.2 493.6 157.5 494.1 156.8 494.7 156 495.2 155.3 495.5 154.6 495.7 154.1 495.5 153.6 495.2 153.2 494.7 152.7 494.1 152.2 493.6 151.7 493.3 151.2 493 150.8 492.8 150.3 492.7 149.8 492.7Z" fill="#6d6666" opacity="0.85"/>
<line x1="151.5" y1="489.9" x2="151.5" y2="495.5" stroke="#f0852d" stroke-width="1.1"/>
<line x1="154.5" y1="489.9" x2="154.5" y2="495.5" stroke="#1a1a1a" stroke-width="1.1"/>
<line x1="144.5" y1="489.9" x2="144.5" y2="495.5" stroke="#4a86c8" stroke-width="1.1"/>
<line x1="153.8" y1="507.5" x2="179.2" y2="507.5" stroke="#8a8585" stroke-width="0.8" opacity="0.4"/>
<path d="M158.6 507.3 159.1 507.3 159.7 507.2 160.2 507 160.8 506.8 161.3 506.4 161.8 505.9 162.4 505.4 162.9 504.9 163.5 504.5 164 504.4 164.8 504.5 165.7 504.9 166.5 505.4 167.4 505.9 168.2 506.4 169 506.8 169.9 507 170.7 507.2 171.6 507.3 172.4 507.3 172.4 507.4 171.6 507.5 170.7 507.5 169.9 507.7 169 508 168.2 508.4 167.4 508.8 166.5 509.4 165.7 509.9 164.8 510.2 164 510.4 163.5 510.2 162.9 509.9 162.4 509.4 161.8 508.8 161.3 508.4 160.8 508 160.2 507.7 159.7 507.5 159.1 507.5 158.6 507.4Z" fill="#6d6666" opacity="0.85"/>
<line x1="160.5" y1="504.6" x2="160.5" y2="510.2" stroke="#f0852d" stroke-width="1.1"/>
<line x1="164.5" y1="504.6" x2="164.5" y2="510.2" stroke="#1a1a1a" stroke-width="1.1"/>
<line x1="152.5" y1="504.6" x2="152.5" y2="510.2" stroke="#4a86c8" stroke-width="1.1"/>
<line x1="181" y1="522.5" x2="208" y2="522.5" stroke="#8a8585" stroke-width="0.8" opacity="0.4"/>
<path d="M187 522.1 187.9 522 188.8 521.9 189.7 521.8 190.6 521.5 191.5 521.1 192.4 520.6 193.3 520.1 194.2 519.6 195.1 519.2 196 519.1 196.6 519.2 197.2 519.6 197.8 520.1 198.4 520.6 199 521.1 199.6 521.5 200.2 521.8 200.8 521.9 201.4 522 202 522.1 202 522.1 201.4 522.2 200.8 522.3 200.2 522.4 199.6 522.7 199 523.1 198.4 523.6 197.8 524.1 197.2 524.6 196.6 525 196 525.1 195.1 525 194.2 524.6 193.3 524.1 192.4 523.6 191.5 523.1 190.6 522.7 189.7 522.4 188.8 522.3 187.9 522.2 187 522.1Z" fill="#6d6666" opacity="0.85"/>
<line x1="199.5" y1="519.3" x2="199.5" y2="524.9" stroke="#f0852d" stroke-width="1.1"/>
<line x1="195.5" y1="519.3" x2="195.5" y2="524.9" stroke="#1a1a1a" stroke-width="1.1"/>
<line x1="214.5" y1="519.3" x2="214.5" y2="524.9" stroke="#4a86c8" stroke-width="1.1"/>
<line x1="140.4" y1="536.5" x2="155.8" y2="536.5" stroke="#8a8585" stroke-width="0.8" opacity="0.4"/>
<path d="M144.3 536.8 144.6 536.7 144.8 536.6 145.1 536.3 145.4 536 145.7 535.4 145.9 534.7 146.2 534 146.5 533.2 146.7 532.7 147 532.5 147.4 532.7 147.7 533.2 148.1 534 148.4 534.7 148.8 535.4 149.2 536 149.5 536.3 149.9 536.6 150.2 536.7 150.6 536.8 150.6 536.9 150.2 536.9 149.9 537.1 149.5 537.3 149.2 537.7 148.8 538.2 148.4 538.9 148.1 539.7 147.7 540.4 147.4 540.9 147 541.1 146.7 540.9 146.5 540.4 146.2 539.7 145.9 538.9 145.7 538.2 145.4 537.7 145.1 537.3 144.8 537.1 144.6 536.9 144.3 536.9Z" fill="#6d6666" opacity="0.85"/>
<line x1="148.5" y1="534" x2="148.5" y2="539.6" stroke="#f0852d" stroke-width="1.1"/>
<line x1="146.5" y1="534" x2="146.5" y2="539.6" stroke="#1a1a1a" stroke-width="1.1"/>
<line x1="148.5" y1="534" x2="148.5" y2="539.6" stroke="#4a86c8" stroke-width="1.1"/>
<line x1="58.5" y1="440.4" x2="58.5" y2="546.2" stroke="#555555" stroke-width="1.1"/>
<line x1="58.4" y1="545.5" x2="136.6" y2="545.5" stroke="#777" stroke-width="1.3"/>
<line x1="61.5" y1="545.7" x2="61.5" y2="547.9" stroke="#555555" stroke-width="0.9"/>
<text x="61.3" y="553.4" font-size="5.7" fill="#8c8c8c" text-anchor="middle" textLength="3.1" lengthAdjust="spacingAndGlyphs">0</text>
<line x1="77.5" y1="545.7" x2="77.5" y2="547.9" stroke="#555555" stroke-width="0.9"/>
<text x="77.8" y="553.4" font-size="5.7" fill="#8c8c8c" text-anchor="middle" textLength="9.2" lengthAdjust="spacingAndGlyphs">200</text>
<line x1="94.5" y1="545.7" x2="94.5" y2="547.9" stroke="#555555" stroke-width="0.9"/>
<text x="94.5" y="553.4" font-size="5.7" fill="#8c8c8c" text-anchor="middle" textLength="9.2" lengthAdjust="spacingAndGlyphs">400</text>
<line x1="111.5" y1="545.7" x2="111.5" y2="547.9" stroke="#555555" stroke-width="0.9"/>
<text x="111.2" y="553.4" font-size="5.7" fill="#8c8c8c" text-anchor="middle" textLength="9.2" lengthAdjust="spacingAndGlyphs">600</text>
<line x1="128.5" y1="545.7" x2="128.5" y2="547.9" stroke="#555555" stroke-width="0.9"/>
<text x="128" y="553.4" font-size="5.7" fill="#8c8c8c" text-anchor="middle" textLength="9.2" lengthAdjust="spacingAndGlyphs">800</text>
<line x1="140.4" y1="545.5" x2="218.7" y2="545.5" stroke="#777" stroke-width="1.3"/>
<line x1="143.5" y1="545.7" x2="143.5" y2="547.9" stroke="#555555" stroke-width="0.9"/>
<text x="143.6" y="553.4" font-size="5.7" fill="#8c8c8c" text-anchor="middle" textLength="3.1" lengthAdjust="spacingAndGlyphs">0</text>
<line x1="159.5" y1="545.7" x2="159.5" y2="547.9" stroke="#555555" stroke-width="0.9"/>
<text x="159.9" y="553.4" font-size="5.7" fill="#8c8c8c" text-anchor="middle" textLength="6.2" lengthAdjust="spacingAndGlyphs">50</text>
<line x1="176.5" y1="545.7" x2="176.5" y2="547.9" stroke="#555555" stroke-width="0.9"/>
<text x="176.3" y="553.4" font-size="5.7" fill="#8c8c8c" text-anchor="middle" textLength="9.2" lengthAdjust="spacingAndGlyphs">100</text>
<line x1="192.5" y1="545.7" x2="192.5" y2="547.9" stroke="#555555" stroke-width="0.9"/>
<text x="192.6" y="553.4" font-size="5.7" fill="#8c8c8c" text-anchor="middle" textLength="9.2" lengthAdjust="spacingAndGlyphs">150</text>
<line x1="208.5" y1="545.7" x2="208.5" y2="547.9" stroke="#555555" stroke-width="0.9"/>
<text x="208.9" y="553.4" font-size="5.7" fill="#8c8c8c" text-anchor="middle" textLength="9.2" lengthAdjust="spacingAndGlyphs">200</text>
<text x="55" y="450.8" font-size="6.16" fill="#6a6a6a" text-anchor="end" textLength="27.3" lengthAdjust="spacingAndGlyphs">Upstream</text>
<text x="55" y="465.5" font-size="6.16" fill="#6a6a6a" text-anchor="end" textLength="29.5" lengthAdjust="spacingAndGlyphs">Promoters</text>
<text x="55" y="480.2" font-size="6.16" fill="#6a6a6a" text-anchor="end" textLength="20.9" lengthAdjust="spacingAndGlyphs">5′ UTRs</text>
<text x="55" y="494.9" font-size="6.16" fill="#6a6a6a" text-anchor="end" textLength="29.9" lengthAdjust="spacingAndGlyphs">First exons</text>
<text x="55" y="509.7" font-size="6.16" fill="#6a6a6a" text-anchor="end" textLength="16.5" lengthAdjust="spacingAndGlyphs">Exons</text>
<text x="55" y="524.4" font-size="6.16" fill="#6a6a6a" text-anchor="end" textLength="19.8" lengthAdjust="spacingAndGlyphs">Introns</text>
<text x="55" y="539.1" font-size="6.16" fill="#6a6a6a" text-anchor="end" textLength="20.9" lengthAdjust="spacingAndGlyphs">3′ UTRs</text>
<text x="55" y="431.9" font-size="6.44" fill="#333333" font-weight="bold" text-anchor="end" textLength="15.8" lengthAdjust="spacingAndGlyphs">Gene</text>
<text x="55" y="440.3" font-size="6.44" fill="#333333" font-weight="bold" text-anchor="end" textLength="28.5" lengthAdjust="spacingAndGlyphs">features</text>
<text x="97.6" y="440.3" font-size="6.35" fill="#2b78c1" font-weight="bold" text-anchor="middle" textLength="41.3" lengthAdjust="spacingAndGlyphs">Hyper-mCpGs</text>
<text x="179.7" y="440.3" font-size="6.35" fill="#2b78c1" font-weight="bold" text-anchor="middle" textLength="39.5" lengthAdjust="spacingAndGlyphs">Hypo-mCpGs</text>
<line x1="231.5" y1="439.8" x2="231.5" y2="545.7" stroke="#2a78c2" stroke-width="1.5"/>
<line x1="251.1" y1="448.5" x2="338.4" y2="448.5" stroke="#e0e4e6" stroke-width="0.8"/>
<line x1="251.1" y1="462.5" x2="338.4" y2="462.5" stroke="#e0e4e6" stroke-width="0.8"/>
<line x1="251.1" y1="477.5" x2="338.4" y2="477.5" stroke="#e0e4e6" stroke-width="0.8"/>
<line x1="251.1" y1="492.5" x2="338.4" y2="492.5" stroke="#e0e4e6" stroke-width="0.8"/>
<line x1="251.1" y1="507.5" x2="338.4" y2="507.5" stroke="#e0e4e6" stroke-width="0.8"/>
<line x1="251.1" y1="522.5" x2="338.4" y2="522.5" stroke="#e0e4e6" stroke-width="0.8"/>
<line x1="251.1" y1="537.5" x2="338.4" y2="537.5" stroke="#e0e4e6" stroke-width="0.8"/>
<line x1="254.6" y1="448.5" x2="283" y2="448.5" stroke="#8a8585" stroke-width="0.8" opacity="0.3"/>
<path d="M250 448 251.1 447.9 252.2 447.9 253.3 447.7 254.4 447.5 255.5 447.2 256.6 446.8 257.7 446.4 258.8 446 259.9 445.7 261 445.6 262.9 445.7 264.8 446 266.7 446.4 268.6 446.8 270.4 447.2 272.3 447.5 274.2 447.7 276.1 447.9 278 447.9 279.9 448 279.9 448 278 448.1 276.1 448.1 274.2 448.3 272.3 448.5 270.4 448.8 268.6 449.2 266.7 449.6 264.8 450 262.9 450.3 261 450.4 259.9 450.3 258.8 450 257.7 449.6 256.6 449.2 255.5 448.8 254.4 448.5 253.3 448.3 252.2 448.1 251.1 448.1 250 448Z" fill="#8f8989" opacity="0.45"/>
<path d="M254.6 447.5V448.5M257.5 446.2V449.8M260.4 444.4V451.6M263.3 444.5V451.5M266.2 446.1V449.9M269 446.5V449.5M271.9 447.3V448.7M274.8 447.7V448.3" stroke="#4a4545" stroke-width="0.9" opacity="0.65"/>
<line x1="261.5" y1="445.2" x2="261.5" y2="450.8" stroke="#1a1a1a" stroke-width="1.1"/>
<line x1="254.5" y1="445.2" x2="254.5" y2="450.8" stroke="#4a86c8" stroke-width="1.1"/>
<line x1="254.6" y1="462.5" x2="297" y2="462.5" stroke="#8a8585" stroke-width="0.8" opacity="0.3"/>
<path d="M251.2 462.8 252.8 462.8 254.4 462.7 256 462.6 257.6 462.4 259.1 462.1 260.7 461.8 262.3 461.3 263.9 461 265.4 460.7 267 460.6 269.5 460.7 272 461 274.6 461.3 277.1 461.8 279.6 462.1 282.1 462.4 284.6 462.6 287.2 462.7 289.7 462.8 292.2 462.8 292.2 462.9 289.7 462.9 287.2 463 284.6 463.1 282.1 463.3 279.6 463.6 277.1 463.9 274.6 464.4 272 464.7 269.5 465 267 465.1 265.4 465 263.9 464.7 262.3 464.4 260.7 463.9 259.1 463.6 257.6 463.3 256 463.1 254.4 463 252.8 462.9 251.2 462.9Z" fill="#8f8989" opacity="0.45"/>
<path d="M257.5 462.3V463.4M260.4 461.9V463.8M263.3 460.4V465.3M266.2 459.6V466.1M269 459.4V466.3M271.9 460.8V464.9M274.8 461.4V464.3M277.7 461.3V464.4M280.6 462.3V463.4M283.5 462.4V463.3" stroke="#4a4545" stroke-width="0.9" opacity="0.65"/>
<line x1="277.5" y1="460.1" x2="277.5" y2="465.7" stroke="#f0852d" stroke-width="1.1"/>
<line x1="267.5" y1="460.1" x2="267.5" y2="465.7" stroke="#1a1a1a" stroke-width="1.1"/>
<line x1="300.5" y1="460.1" x2="300.5" y2="465.7" stroke="#4a86c8" stroke-width="1.1"/>
<line x1="254.6" y1="477.5" x2="283" y2="477.5" stroke="#8a8585" stroke-width="0.8" opacity="0.3"/>
<path d="M249 477.7 250.1 477.6 251.2 477.6 252.3 477.4 253.4 477.2 254.5 476.9 255.6 476.5 256.7 476.1 257.8 475.7 258.9 475.4 260 475.3 261.9 475.4 263.8 475.7 265.7 476.1 267.6 476.5 269.4 476.9 271.3 477.2 273.2 477.4 275.1 477.6 277 477.6 278.9 477.7 278.9 477.7 277 477.8 275.1 477.8 273.2 478 271.3 478.2 269.4 478.5 267.6 478.9 265.7 479.3 263.8 479.7 261.9 480 260 480.1 258.9 480 257.8 479.7 256.7 479.3 255.6 478.9 254.5 478.5 253.4 478.2 252.3 478 251.2 477.8 250.1 477.8 249 477.7Z" fill="#8f8989" opacity="0.45"/>
<path d="M254.6 476.9V478.5M257.5 475.2V480.2M260.4 475.1V480.3M263.3 474.9V480.5M266.2 475.9V479.5M269 476.6V478.8M271.9 477.4V478" stroke="#4a4545" stroke-width="0.9" opacity="0.65"/>
<line x1="260.5" y1="474.9" x2="260.5" y2="480.5" stroke="#1a1a1a" stroke-width="1.1"/>
<line x1="268.5" y1="474.9" x2="268.5" y2="480.5" stroke="#4a86c8" stroke-width="1.1"/>
<line x1="254.6" y1="492.5" x2="290" y2="492.5" stroke="#8a8585" stroke-width="0.8" opacity="0.3"/>
<path d="M250.8 492.5 252.2 492.5 253.7 492.4 255.1 492.3 256.5 492.1 257.9 491.8 259.3 491.4 260.7 491 262.2 490.6 263.6 490.3 265 490.2 267.2 490.3 269.4 490.6 271.6 491 273.8 491.4 276 491.8 278.2 492.1 280.4 492.3 282.6 492.4 284.8 492.5 287.1 492.5 287.1 492.6 284.8 492.6 282.6 492.7 280.4 492.8 278.2 493 276 493.3 273.8 493.7 271.6 494.1 269.4 494.5 267.2 494.8 265 494.9 263.6 494.8 262.2 494.5 260.7 494.1 259.3 493.7 257.9 493.3 256.5 493 255.1 492.8 253.7 492.7 252.2 492.6 250.8 492.6Z" fill="#8f8989" opacity="0.45"/>
<path d="M257.5 491.7V493.4M260.4 490.8V494.3M263.3 489V496.1M266.2 489.8V495.3M269 489.9V495.2M271.9 490.2V494.9M274.8 491.6V493.5M277.7 492.1V493M280.6 492.3V492.8" stroke="#4a4545" stroke-width="0.9" opacity="0.65"/>
<line x1="274.5" y1="489.8" x2="274.5" y2="495.4" stroke="#f0852d" stroke-width="1.1"/>
<line x1="265.5" y1="489.8" x2="265.5" y2="495.4" stroke="#1a1a1a" stroke-width="1.1"/>
<line x1="268.5" y1="489.8" x2="268.5" y2="495.4" stroke="#4a86c8" stroke-width="1.1"/>
<line x1="254.6" y1="507.5" x2="302.7" y2="507.5" stroke="#8a8585" stroke-width="0.8" opacity="0.3"/>
<path d="M256.1 507.4 258 507.3 259.9 507.3 261.8 507.2 263.7 507 265.6 506.7 267.4 506.3 269.3 505.9 271.2 505.5 273.1 505.2 275 505.1 277.8 505.2 280.7 505.5 283.5 505.9 286.3 506.3 289.2 506.7 292 507 294.8 507.2 297.7 507.3 300.5 507.3 303.4 507.4 303.4 507.4 300.5 507.5 297.7 507.5 294.8 507.6 292 507.8 289.2 508.1 286.3 508.5 283.5 508.9 280.7 509.3 277.8 509.6 275 509.6 273.1 509.6 271.2 509.3 269.3 508.9 267.4 508.5 265.6 508.1 263.7 507.8 261.8 507.6 259.9 507.5 258 507.5 256.1 507.4Z" fill="#8f8989" opacity="0.45"/>
<path d="M263.3 507V507.8M266.2 506.6V508.2M269 505.9V508.9M271.9 504.8V510M274.8 505V509.8M277.7 505.1V509.7M280.6 504.9V509.9M283.5 505.7V509.1M286.4 506V508.8M289.3 506.6V508.2M292.2 506.9V507.9" stroke="#4a4545" stroke-width="0.9" opacity="0.65"/>
<line x1="265.5" y1="504.6" x2="265.5" y2="510.2" stroke="#f0852d" stroke-width="1.1"/>
<line x1="274.5" y1="504.6" x2="274.5" y2="510.2" stroke="#1a1a1a" stroke-width="1.1"/>
<line x1="268.5" y1="504.6" x2="268.5" y2="510.2" stroke="#4a86c8" stroke-width="1.1"/>
<line x1="274.3" y1="522.5" x2="334.5" y2="522.5" stroke="#8a8585" stroke-width="0.8" opacity="0.3"/>
<path d="M277.6 522.2 280.5 522.2 283.3 522.1 286.2 522 289 521.8 291.8 521.5 294.7 521.2 297.5 520.7 300.3 520.4 303.2 520.1 306 520 308.5 520.1 311 520.4 313.6 520.7 316.1 521.2 318.6 521.5 321.1 521.8 323.6 522 326.2 522.1 328.7 522.2 331.2 522.2 331.2 522.3 328.7 522.3 326.2 522.4 323.6 522.5 321.1 522.7 318.6 523 316.1 523.3 313.6 523.8 311 524.1 308.5 524.4 306 524.5 303.2 524.4 300.3 524.1 297.5 523.8 294.7 523.3 291.8 523 289 522.7 286.2 522.5 283.3 522.4 280.5 522.3 277.6 522.3Z" fill="#8f8989" opacity="0.45"/>
<path d="M288.7 521.9V522.6M291.6 521.5V523M294.5 520.7V523.8M297.4 519.9V524.6M300.3 520.3V524.2M303.2 519.3V525.2M306.1 518.7V525.8M309 519.2V525.3M311.9 520.4V524.1M314.8 520.8V523.7M317.6 521.4V523.1M320.5 521.5V523M323.4 521.9V522.6" stroke="#4a4545" stroke-width="0.9" opacity="0.65"/>
<line x1="294.5" y1="519.5" x2="294.5" y2="525" stroke="#f0852d" stroke-width="1.1"/>
<line x1="306.5" y1="519.5" x2="306.5" y2="525" stroke="#1a1a1a" stroke-width="1.1"/>
<line x1="296.5" y1="519.5" x2="296.5" y2="525" stroke="#4a86c8" stroke-width="1.1"/>
<line x1="254.1" y1="537.5" x2="271" y2="537.5" stroke="#8a8585" stroke-width="0.8" opacity="0.3"/>
<path d="M251.3 537.1 251.9 537 252.5 536.9 253 536.7 253.6 536.3 254.2 535.8 254.7 535.2 255.3 534.5 255.9 533.8 256.4 533.4 257 533.2 258.1 533.4 259.2 533.8 260.3 534.5 261.4 535.2 262.5 535.8 263.6 536.3 264.7 536.7 265.8 536.9 266.9 537 268 537.1 268 537.1 266.9 537.2 265.8 537.3 264.7 537.5 263.6 537.9 262.5 538.4 261.4 539 260.3 539.7 259.2 540.4 258.1 540.8 257 541 256.4 540.8 255.9 540.4 255.3 539.7 254.7 539 254.2 538.4 253.6 537.9 253 537.5 252.5 537.3 251.9 537.2 251.3 537.1Z" fill="#8f8989" opacity="0.45"/>
<path d="M254.1 535.4V538.8M257 532.3V541.9M259.9 532.6V541.6M262.8 535.6V538.6M265.7 536.8V537.4" stroke="#4a4545" stroke-width="0.9" opacity="0.65"/>
<line x1="257.5" y1="534.3" x2="257.5" y2="539.9" stroke="#1a1a1a" stroke-width="1.1"/>
<line x1="254.5" y1="534.3" x2="254.5" y2="539.9" stroke="#4a86c8" stroke-width="1.1"/>
<line x1="250.5" y1="439.9" x2="250.5" y2="545.9" stroke="#555555" stroke-width="1.1"/>
<line x1="250.6" y1="545.5" x2="338.4" y2="545.5" stroke="#777" stroke-width="1.3"/>
<line x1="254.5" y1="545.4" x2="254.5" y2="547.6" stroke="#555555" stroke-width="0.9"/>
<text x="254.1" y="553.4" font-size="5.7" fill="#8c8c8c" text-anchor="middle" textLength="3.1" lengthAdjust="spacingAndGlyphs">0</text>
<line x1="283.5" y1="545.4" x2="283.5" y2="547.6" stroke="#555555" stroke-width="0.9"/>
<text x="283" y="553.4" font-size="5.7" fill="#8c8c8c" text-anchor="middle" textLength="6.2" lengthAdjust="spacingAndGlyphs">10</text>
<line x1="311.5" y1="545.4" x2="311.5" y2="547.6" stroke="#555555" stroke-width="0.9"/>
<text x="311.9" y="553.4" font-size="5.7" fill="#8c8c8c" text-anchor="middle" textLength="6.2" lengthAdjust="spacingAndGlyphs">20</text>
<text x="294.2" y="440.1" font-size="6.35" fill="#2b78c1" font-weight="bold" text-anchor="middle" textLength="41.2" lengthAdjust="spacingAndGlyphs">Hyper-mCpGs</text>
<text x="310.7" y="564.2" font-size="6.35" fill="#3a3a3a" font-weight="bold" text-anchor="middle" textLength="107.1" lengthAdjust="spacingAndGlyphs">CpG sites overlapping gene features</text>
<line x1="364.5" y1="439.9" x2="364.5" y2="545.4" stroke="#2a78c2" stroke-width="1.5"/>
<line x1="388.5" y1="448.5" x2="476" y2="448.5" stroke="#e0e4e6" stroke-width="0.8"/>
<line x1="388.5" y1="462.5" x2="476" y2="462.5" stroke="#e0e4e6" stroke-width="0.8"/>
<line x1="388.5" y1="477.5" x2="476" y2="477.5" stroke="#e0e4e6" stroke-width="0.8"/>
<line x1="388.5" y1="492.5" x2="476" y2="492.5" stroke="#e0e4e6" stroke-width="0.8"/>
<line x1="388.5" y1="507.5" x2="476" y2="507.5" stroke="#e0e4e6" stroke-width="0.8"/>
<line x1="388.5" y1="522.5" x2="476" y2="522.5" stroke="#e0e4e6" stroke-width="0.8"/>
<line x1="388.5" y1="537.5" x2="476" y2="537.5" stroke="#e0e4e6" stroke-width="0.8"/>
<line x1="392.2" y1="448.5" x2="423.5" y2="448.5" stroke="#8a8585" stroke-width="0.8" opacity="0.3"/>
<path d="M386.4 448 387.7 447.9 388.9 447.9 390.2 447.7 391.4 447.5 392.7 447.2 394 446.8 395.2 446.4 396.5 446 397.7 445.7 399 445.6 401.2 445.7 403.4 446 405.6 446.4 407.8 446.8 410 447.2 412.2 447.5 414.4 447.7 416.6 447.9 418.8 447.9 421.1 448 421.1 448 418.8 448.1 416.6 448.1 414.4 448.3 412.2 448.5 410 448.8 407.8 449.2 405.6 449.6 403.4 450 401.2 450.3 399 450.4 397.7 450.3 396.5 450 395.2 449.6 394 449.2 392.7 448.8 391.4 448.5 390.2 448.3 388.9 448.1 387.7 448.1 386.4 448Z" fill="#8f8989" opacity="0.45"/>
<path d="M392.2 447.3V448.7M395.3 445.8V450.2M398.3 444.7V451.3M401.4 444.7V451.3M404.5 445.1V450.9M407.5 446.8V449.2M410.6 447.1V448.9M413.7 447.7V448.3" stroke="#4a4545" stroke-width="0.9" opacity="0.65"/>
<line x1="398.5" y1="445.2" x2="398.5" y2="450.8" stroke="#1a1a1a" stroke-width="1.1"/>
<line x1="392.5" y1="445.2" x2="392.5" y2="450.8" stroke="#4a86c8" stroke-width="1.1"/>
<line x1="392.2" y1="462.5" x2="430" y2="462.5" stroke="#8a8585" stroke-width="0.8" opacity="0.3"/>
<path d="M388.2 462.8 389.8 462.8 391.4 462.7 393 462.6 394.6 462.4 396.1 462.1 397.7 461.8 399.3 461.3 400.9 461 402.4 460.7 404 460.6 406.5 460.7 409 461 411.6 461.3 414.1 461.8 416.6 462.1 419.1 462.4 421.6 462.6 424.2 462.7 426.7 462.8 429.2 462.8 429.2 462.9 426.7 462.9 424.2 463 421.6 463.1 419.1 463.3 416.6 463.6 414.1 463.9 411.6 464.4 409 464.7 406.5 465 404 465.1 402.4 465 400.9 464.7 399.3 464.4 397.7 463.9 396.1 463.6 394.6 463.3 393 463.1 391.4 463 389.8 462.9 388.2 462.9Z" fill="#8f8989" opacity="0.45"/>
<path d="M395.3 462.4V463.3M398.3 461.1V464.6M401.4 459.8V465.9M404.5 459.7V466M407.5 460.7V465M410.6 461.1V464.6M413.7 461.1V464.6M416.7 462.1V463.6M419.8 462.4V463.3" stroke="#4a4545" stroke-width="0.9" opacity="0.65"/>
<line x1="413.5" y1="460.1" x2="413.5" y2="465.7" stroke="#f0852d" stroke-width="1.1"/>
<line x1="404.5" y1="460.1" x2="404.5" y2="465.7" stroke="#1a1a1a" stroke-width="1.1"/>
<line x1="438.5" y1="460.1" x2="438.5" y2="465.7" stroke="#4a86c8" stroke-width="1.1"/>
<line x1="392.2" y1="477.5" x2="420" y2="477.5" stroke="#8a8585" stroke-width="0.8" opacity="0.3"/>
<path d="M386.4 477.7 387.7 477.6 388.9 477.6 390.2 477.4 391.4 477.2 392.7 476.9 394 476.5 395.2 476.1 396.5 475.7 397.7 475.4 399 475.3 401 475.4 403.1 475.7 405.1 476.1 407.2 476.5 409.2 476.9 411.3 477.2 413.3 477.4 415.4 477.6 417.4 477.6 419.5 477.7 419.5 477.7 417.4 477.8 415.4 477.8 413.3 478 411.3 478.2 409.2 478.5 407.2 478.9 405.1 479.3 403.1 479.7 401 480 399 480.1 397.7 480 396.5 479.7 395.2 479.3 394 478.9 392.7 478.5 391.4 478.2 390.2 478 388.9 477.8 387.7 477.8 386.4 477.7Z" fill="#8f8989" opacity="0.45"/>
<path d="M392.2 477.1V478.3M395.3 475.9V479.5M398.3 474.5V480.9M401.4 474.1V481.3M404.5 475.9V479.5M407.5 476.6V478.8M410.6 477V478.4" stroke="#4a4545" stroke-width="0.9" opacity="0.65"/>
<line x1="407.5" y1="474.9" x2="407.5" y2="480.5" stroke="#f0852d" stroke-width="1.1"/>
<line x1="398.5" y1="474.9" x2="398.5" y2="480.5" stroke="#1a1a1a" stroke-width="1.1"/>
<line x1="404.5" y1="474.9" x2="404.5" y2="480.5" stroke="#4a86c8" stroke-width="1.1"/>
<line x1="392.2" y1="492.5" x2="428" y2="492.5" stroke="#8a8585" stroke-width="0.8" opacity="0.3"/>
<path d="M387.8 492.5 389.2 492.5 390.7 492.4 392.1 492.3 393.5 492.1 394.9 491.8 396.3 491.4 397.7 491 399.2 490.6 400.6 490.3 402 490.2 404.2 490.3 406.4 490.6 408.6 491 410.8 491.4 413 491.8 415.2 492.1 417.4 492.3 419.6 492.4 421.8 492.5 424.1 492.5 424.1 492.6 421.8 492.6 419.6 492.7 417.4 492.8 415.2 493 413 493.3 410.8 493.7 408.6 494.1 406.4 494.5 404.2 494.8 402 494.9 400.6 494.8 399.2 494.5 397.7 494.1 396.3 493.7 394.9 493.3 393.5 493 392.1 492.8 390.7 492.7 389.2 492.6 387.8 492.6Z" fill="#8f8989" opacity="0.45"/>
<path d="M392.2 492.3V492.8M395.3 491.6V493.5M398.3 490.4V494.7M401.4 489.4V495.7M404.5 489V496.1M407.5 490.4V494.7M410.6 490.7V494.4M413.7 491.6V493.5M416.7 492.1V493" stroke="#4a4545" stroke-width="0.9" opacity="0.65"/>
<line x1="410.5" y1="489.8" x2="410.5" y2="495.4" stroke="#f0852d" stroke-width="1.1"/>
<line x1="402.5" y1="489.8" x2="402.5" y2="495.4" stroke="#1a1a1a" stroke-width="1.1"/>
<line x1="404.5" y1="489.8" x2="404.5" y2="495.4" stroke="#4a86c8" stroke-width="1.1"/>
<line x1="392.2" y1="507.5" x2="442" y2="507.5" stroke="#8a8585" stroke-width="0.8" opacity="0.3"/>
<path d="M392.1 507.4 394 507.3 395.9 507.3 397.8 507.2 399.7 507 401.6 506.7 403.4 506.3 405.3 505.9 407.2 505.5 409.1 505.2 411 505.1 414.1 505.2 417.3 505.5 420.4 505.9 423.6 506.3 426.8 506.7 429.9 507 433.1 507.2 436.2 507.3 439.4 507.3 442.5 507.4 442.5 507.4 439.4 507.5 436.2 507.5 433.1 507.6 429.9 507.8 426.8 508.1 423.6 508.5 420.4 508.9 417.3 509.3 414.1 509.6 411 509.6 409.1 509.6 407.2 509.3 405.3 508.9 403.4 508.5 401.6 508.1 399.7 507.8 397.8 507.6 395.9 507.5 394 507.5 392.1 507.4Z" fill="#8f8989" opacity="0.45"/>
<path d="M398.3 507V507.8M401.4 506.7V508.1M404.5 505.7V509.1M407.5 504.5V510.3M410.6 504.1V510.7M413.7 504.9V509.9M416.7 505.4V509.4M419.8 505.3V509.5M422.8 505.8V509M425.9 506.6V508.2M429 506.8V508M432 507V507.8" stroke="#4a4545" stroke-width="0.9" opacity="0.65"/>
<line x1="401.5" y1="504.6" x2="401.5" y2="510.2" stroke="#f0852d" stroke-width="1.1"/>
<line x1="411.5" y1="504.6" x2="411.5" y2="510.2" stroke="#1a1a1a" stroke-width="1.1"/>
<line x1="404.5" y1="504.6" x2="404.5" y2="510.2" stroke="#4a86c8" stroke-width="1.1"/>
<line x1="407" y1="522.5" x2="474" y2="522.5" stroke="#8a8585" stroke-width="0.8" opacity="0.3"/>
<path d="M408.5 522.2 411.6 522.2 414.8 522.1 417.9 522 421.1 521.8 424.2 521.5 427.4 521.2 430.6 520.7 433.7 520.4 436.9 520.1 440 520 442.8 520.1 445.7 520.4 448.5 520.7 451.3 521.2 454.2 521.5 457 521.8 459.8 522 462.7 522.1 465.5 522.2 468.4 522.2 468.4 522.3 465.5 522.3 462.7 522.4 459.8 522.5 457 522.7 454.2 523 451.3 523.3 448.5 523.8 445.7 524.1 442.8 524.4 440 524.5 436.9 524.4 433.7 524.1 430.6 523.8 427.4 523.3 424.2 523 421.1 522.7 417.9 522.5 414.8 522.4 411.6 522.3 408.5 522.3Z" fill="#8f8989" opacity="0.45"/>
<path d="M419.3 521.8V522.7M422.3 521.5V523M425.4 521.4V523.1M428.5 520.9V523.6M431.5 519.9V524.6M434.6 520.1V524.4M437.6 519V525.5M440.7 518.9V525.6M443.8 519.2V525.3M446.8 520V524.5M449.9 520.7V523.8M453 521V523.5M456 521.7V522.8M459.1 521.9V522.6" stroke="#4a4545" stroke-width="0.9" opacity="0.65"/>
<line x1="425.5" y1="519.5" x2="425.5" y2="525" stroke="#f0852d" stroke-width="1.1"/>
<line x1="440.5" y1="519.5" x2="440.5" y2="525" stroke="#1a1a1a" stroke-width="1.1"/>
<line x1="419.5" y1="519.5" x2="419.5" y2="525" stroke="#4a86c8" stroke-width="1.1"/>
<line x1="391.7" y1="537.5" x2="411" y2="537.5" stroke="#8a8585" stroke-width="0.8" opacity="0.3"/>
<path d="M388.7 537.1 389.3 537 390 536.9 390.6 536.7 391.2 536.3 391.8 535.8 392.5 535.2 393.1 534.5 393.7 533.8 394.4 533.4 395 533.2 396.1 533.4 397.2 533.8 398.3 534.5 399.4 535.2 400.5 535.8 401.6 536.3 402.7 536.7 403.8 536.9 404.9 537 406 537.1 406 537.1 404.9 537.2 403.8 537.3 402.7 537.5 401.6 537.9 400.5 538.4 399.4 539 398.3 539.7 397.2 540.4 396.1 540.8 395 541 394.4 540.8 393.7 540.4 393.1 539.7 392.5 539 391.8 538.4 391.2 537.9 390.6 537.5 390 537.3 389.3 537.2 388.7 537.1Z" fill="#8f8989" opacity="0.45"/>
<path d="M391.7 535.6V538.6M394.8 531.5V542.7M397.8 533.7V540.5M400.9 535.6V538.6" stroke="#4a4545" stroke-width="0.9" opacity="0.65"/>
<line x1="395.5" y1="534.3" x2="395.5" y2="539.9" stroke="#1a1a1a" stroke-width="1.1"/>
<line x1="391.5" y1="534.3" x2="391.5" y2="539.9" stroke="#4a86c8" stroke-width="1.1"/>
<line x1="388.5" y1="439.9" x2="388.5" y2="545.9" stroke="#555555" stroke-width="1.1"/>
<line x1="388" y1="545.5" x2="476" y2="545.5" stroke="#777" stroke-width="1.3"/>
<line x1="392.5" y1="545.4" x2="392.5" y2="547.6" stroke="#555555" stroke-width="0.9"/>
<text x="392.4" y="553.4" font-size="5.7" fill="#8c8c8c" text-anchor="middle" textLength="3.1" lengthAdjust="spacingAndGlyphs">0</text>
<line x1="423.5" y1="545.4" x2="423.5" y2="547.6" stroke="#555555" stroke-width="0.9"/>
<text x="423" y="553.4" font-size="5.7" fill="#8c8c8c" text-anchor="middle" textLength="6.2" lengthAdjust="spacingAndGlyphs">10</text>
<line x1="453.5" y1="545.4" x2="453.5" y2="547.6" stroke="#555555" stroke-width="0.9"/>
<text x="453.7" y="553.4" font-size="5.7" fill="#8c8c8c" text-anchor="middle" textLength="6.2" lengthAdjust="spacingAndGlyphs">20</text>
<text x="432.2" y="440.1" font-size="6.35" fill="#2b78c1" font-weight="bold" text-anchor="middle" textLength="41.5" lengthAdjust="spacingAndGlyphs">Hyper-mCpGs</text>
<line x1="498.5" y1="439.9" x2="498.5" y2="545.4" stroke="#2a78c2" stroke-width="1.5"/>
<line x1="521.4" y1="448.5" x2="601.8" y2="448.5" stroke="#9a9595" stroke-width="0.9" opacity="0.8"/>
<path d="M521.4 445L527 448L527 449.2L521.4 452.2Z" fill="#8a8282" opacity="0.9"/>
<line x1="527.5" y1="445.8" x2="527.5" y2="451.4" stroke="#1a1a1a" stroke-width="1.1"/>
<line x1="601.5" y1="445.8" x2="601.5" y2="451.4" stroke="#4a86c8" stroke-width="1.1"/>
<line x1="521.4" y1="463.5" x2="601.8" y2="463.5" stroke="#9a9595" stroke-width="0.9" opacity="0.8"/>
<path d="M521.4 460L533 463L533 463.8L521.4 466.8Z" fill="#8a8282" opacity="0.9"/>
<path d="M593 463.2L601.8 462.6L601.8 464.2L593 463.6Z" fill="#8a8282" opacity="0.9"/>
<line x1="531.5" y1="460.6" x2="531.5" y2="466.2" stroke="#1a1a1a" stroke-width="1.1"/>
<line x1="521.5" y1="460.6" x2="521.5" y2="466.2" stroke="#4a86c8" stroke-width="1.1"/>
<line x1="521.4" y1="478.5" x2="601.8" y2="478.5" stroke="#9a9595" stroke-width="0.9" opacity="0.8"/>
<path d="M521.4 474.5L527 477.6L527 478.6L521.4 481.7Z" fill="#8a8282" opacity="0.9"/>
<line x1="527.5" y1="475.3" x2="527.5" y2="480.9" stroke="#1a1a1a" stroke-width="1.1"/>
<line x1="521.5" y1="475.3" x2="521.5" y2="480.9" stroke="#4a86c8" stroke-width="1.1"/>
<line x1="521.4" y1="492.5" x2="601.8" y2="492.5" stroke="#9a9595" stroke-width="0.9" opacity="0.8"/>
<path d="M521.4 489.5L531 492.4L531 493.4L521.4 496.2Z" fill="#8a8282" opacity="0.9"/>
<path d="M594 492.7L601.8 492.1L601.8 493.7L594 493.1Z" fill="#8a8282" opacity="0.9"/>
<line x1="530.5" y1="490.1" x2="530.5" y2="495.7" stroke="#1a1a1a" stroke-width="1.1"/>
<line x1="521.5" y1="490.1" x2="521.5" y2="495.7" stroke="#4a86c8" stroke-width="1.1"/>
<line x1="521.4" y1="507.5" x2="601.8" y2="507.5" stroke="#9a9595" stroke-width="0.9" opacity="0.8"/>
<path d="M521.4 504.6L534 507.2L534 508L521.4 510.6Z" fill="#8a8282" opacity="0.9"/>
<path d="M590 507.4L601.8 506.4L601.8 508.8L590 507.8Z" fill="#8a8282" opacity="0.9"/>
<line x1="538.5" y1="504.8" x2="538.5" y2="510.4" stroke="#1a1a1a" stroke-width="1.1"/>
<line x1="521.5" y1="504.8" x2="521.5" y2="510.4" stroke="#4a86c8" stroke-width="1.1"/>
<line x1="521.4" y1="522.5" x2="601.8" y2="522.5" stroke="#9a9595" stroke-width="0.9" opacity="0.8"/>
<path d="M521.4 520.1L537 522.1L537 522.6L521.4 524.6Z" fill="#8a8282" opacity="0.9"/>
<path d="M585 522.1L601.8 520.4L601.8 524.4L585 522.6Z" fill="#8a8282" opacity="0.9"/>
<line x1="563.5" y1="519.6" x2="563.5" y2="525.1" stroke="#1a1a1a" stroke-width="1.1"/>
<line x1="521.5" y1="519.6" x2="521.5" y2="525.1" stroke="#4a86c8" stroke-width="1.1"/>
<line x1="521.4" y1="537.5" x2="601.8" y2="537.5" stroke="#9a9595" stroke-width="0.9" opacity="0.8"/>
<path d="M521.4 532.1L525.5 536.3L525.5 537.9L521.4 542.1Z" fill="#8a8282" opacity="0.9"/>
<line x1="521.5" y1="534.3" x2="521.5" y2="539.9" stroke="#4a86c8" stroke-width="1.1"/>
<line x1="517.5" y1="439.4" x2="517.5" y2="546.7" stroke="#555555" stroke-width="1.1"/>
<line x1="517.7" y1="546.5" x2="605.4" y2="546.5" stroke="#777" stroke-width="1.3"/>
<line x1="521.5" y1="546.2" x2="521.5" y2="548.4" stroke="#555555" stroke-width="0.9"/>
<text x="521.4" y="553.4" font-size="5.7" fill="#8c8c8c" text-anchor="middle" textLength="3.1" lengthAdjust="spacingAndGlyphs">0</text>
<line x1="541.5" y1="546.2" x2="541.5" y2="548.4" stroke="#555555" stroke-width="0.9"/>
<text x="541.5" y="553.4" font-size="5.7" fill="#8c8c8c" text-anchor="middle" textLength="10.8" lengthAdjust="spacingAndGlyphs">0.25</text>
<line x1="561.5" y1="546.2" x2="561.5" y2="548.4" stroke="#555555" stroke-width="0.9"/>
<text x="561.6" y="553.4" font-size="5.7" fill="#8c8c8c" text-anchor="middle" textLength="7.7" lengthAdjust="spacingAndGlyphs">0.5</text>
<line x1="581.5" y1="546.2" x2="581.5" y2="548.4" stroke="#555555" stroke-width="0.9"/>
<text x="581.7" y="553.4" font-size="5.7" fill="#8c8c8c" text-anchor="middle" textLength="10.8" lengthAdjust="spacingAndGlyphs">0.75</text>
<line x1="601.5" y1="546.2" x2="601.5" y2="548.4" stroke="#555555" stroke-width="0.9"/>
<text x="601.8" y="553.4" font-size="5.7" fill="#8c8c8c" text-anchor="middle" textLength="3.1" lengthAdjust="spacingAndGlyphs">1</text>
<text x="561.9" y="439.9" font-size="6.35" fill="#2b78c1" font-weight="bold" text-anchor="middle" textLength="42.2" lengthAdjust="spacingAndGlyphs">Hyper-mCpGs</text>
<rect x="624.2" y="474.4" width="2.5" height="9.2" fill="#f0852d"/>
<text x="631" y="481.3" font-size="6.07" fill="#555" textLength="30.4" lengthAdjust="spacingAndGlyphs">Alpha=0.05</text>
<rect x="624.2" y="488.4" width="2.5" height="9.2" fill="#111"/>
<text x="631" y="495.3" font-size="6.07" fill="#555" textLength="25.4" lengthAdjust="spacingAndGlyphs">Expected</text>
<rect x="624.2" y="502.2" width="2.5" height="9.2" fill="#4a86c8"/>
<text x="631" y="509.1" font-size="6.07" fill="#555" textLength="26.2" lengthAdjust="spacingAndGlyphs">Observed</text>
<line x1="498.5" y1="440" x2="498.5" y2="545.7" stroke="#2a78c2" stroke-width="1.5"/>
<line x1="85.5" y1="572" x2="85.5" y2="684.5" stroke="#d2d7da" stroke-width="0.8"/>
<line x1="121.5" y1="572" x2="121.5" y2="684.5" stroke="#d2d7da" stroke-width="0.8"/>
<line x1="157.5" y1="572" x2="157.5" y2="684.5" stroke="#d2d7da" stroke-width="0.8"/>
<line x1="58.4" y1="679.5" x2="184.3" y2="679.5" stroke="#d2d7da" stroke-width="0.8"/>
<line x1="58.4" y1="655.5" x2="184.3" y2="655.5" stroke="#d2d7da" stroke-width="0.8"/>
<line x1="58.4" y1="630.5" x2="184.3" y2="630.5" stroke="#d2d7da" stroke-width="0.8"/>
<line x1="58.4" y1="606.5" x2="184.3" y2="606.5" stroke="#d2d7da" stroke-width="0.8"/>
<line x1="58.4" y1="581.5" x2="184.3" y2="581.5" stroke="#d2d7da" stroke-width="0.8"/>
<line x1="121.5" y1="572" x2="121.5" y2="684.5" stroke="#dc4149" stroke-width="1.0" stroke-dasharray="1 1"/>
<line x1="58" y1="666.5" x2="184.3" y2="666.5" stroke="#dc4149" stroke-width="1.0" stroke-dasharray="1 1"/>
<g transform="scale(.5)" stroke-linecap="round" stroke-width="5" opacity="0.85"><path d="M215 1353h0m16-2h0" stroke="#4daf4a"/><path d="M286 1212h0m8 14h0m1 18h0m1-13h0m1 10h0m1-2h0m0 7h0m1-1h0m0 3h0m0 1h0m1-89h0m0 25h0m0 22h0m0 32h0m0 1h0m0 4h0m0 7h0m1-52h0m0 23h0m0 15h0m1-14h0m1 6h0m1-2h0m0 9h0m1-23h0m1 13h0m0 7h0m1-17h0m0 26h0m0 5h0m1-30h0m1-14h0m1 0h0m0 33h0m2-51h0m0 40h0m1-47h0m0 25h0m0 7h0m0 35h0m1-82h0m0 37h0m0 2h0m0 8h0m0 25h0m1-57h0m0 36h0m1-14h0m0 7h0m0 7h0m0 2h0m0 25h0m0 7h0m1-39h0m1-43h0m0 22h0m0 26h0m0 14h0m1-51h0m0 44h0m1-9h0m0 2h0m1-30h0m0 1h0m0 6h0m0 24h0m0 11h0m1-46h0m0 18h0m0 21h0m2-25h0m1-10h0m0 3h0m1-31h0m0 6h0m0 77h0m1-43h0m1-19h0m1-17h0m0 12h0m0 6h0m0 22h0m3-23h0m0 58h0m2-25h0m1-23h0m0 25h0m1-41h0m0 14h0m0 6h0m1-33h0m5 11h0m3 5h0m0 17h0m1-35h0m3 16h0" stroke="#e9494c" stroke-width="3.8"/><path d="M207 1352h0m1-15h0m0 9h0m1-12h0m1 13h0m0 1h0m1 5h0m1-13h0m1 7h0m1-10h0m0 1h0m1 12h0m1-30h0m1 20h0m0 5h0m0 4h0m0 2h0m0 5h0m1-35h0m1 23h0m0 5h0m0 2h0m0 4h0m1-5h0m0 5h0m1-37h0m2 31h0m1-4h0m0 3h0m0 1h0m0 1h0m1-11h0m1-8h0m1 0h0m0 11h0m0 15h0m2-12h0m0 4h0m1-10h0m1 4h0m0 13h0m1-5h0m0 5h0m1-1h0m1-11h0m0 6h0m0 7h0m1-46h0m0 44h0m1 1h0m2-5h0m0 2h0m2 5h0m1-1h0m1 1h0m1 0h0m0 1h0m1-1h0m1-1h0m1-2h0m0 1h0m1-2h0m0 2h0m1-4h0m0 2h0m1-3h0m0 1h0m1-3h0m1 0h0m2-5h0m0 2h0m2-5h0m0 1h0m0 8h0m1-8h0m1-10h0m0 11h0m1-16h0m0 23h0m1-18h0m1-16h0m2 21h0m2-30h0m0 8h0m0 3h0m0 4h0m0 4h0m1-1h0m1-6h0m0 8h0m1-16h0m0 2h0m0 3h0m2-3h0m1 1h0m1-16h0m0 7h0m1 13h0m1-2h0m1-17h0m1 16h0m1-32h0m0 11h0m2 25h0m1-42h0m0 18h0m1-13h0m1-24h0m0 21h0m0 2h0m3-15h0m0 12h0m1 1h0m1 20h0m1 1h0m3-29h0m0 18h0m1-23h0m2-9h0m6-26h0m1 22h0m2 2h0m1 6h0m1-22h0m8-7h0m1-4h0m7-41h0m17 33h0" stroke="#377eb8"/><path d="M203 1342h0m4 4h0m0 6h0m1-6h0m0 1h0m0 4h0m0 2h0m0 1h0m1-15h0m1-76h0m0 71h0m0 8h0m0 4h0m0 1h0m0 3h0m0 5h0m1-25h0m0 1h0m0 7h0m0 7h0m0 1h0m0 2h0m0 1h0m0 1h0m0 2h0m0 1h0m0 1h0m1-25h0m0 7h0m0 5h0m0 1h0m0 3h0m0 2h0m0 4h0m0 3h0m0 1h0m1-33h0m0 13h0m0 9h0m0 3h0m0 2h0m0 4h0m0 1h0m0 1h0m1-16h0m0 2h0m0 5h0m0 4h0m1-15h0m0 2h0m0 2h0m0 1h0m0 6h0m0 2h0m0 3h0m0 4h0m1-58h0m0 42h0m0 3h0m0 5h0m0 4h0m0 2h0m0 1h0m1-69h0m0 46h0m0 1h0m0 1h0m0 2h0m0 3h0m0 7h0m0 3h0m0 2h0m0 4h0m0 1h0m1-25h0m0 9h0m1-2h0m0 11h0m0 5h0m0 2h0m0 2h0m1-26h0m0 6h0m0 2h0m0 2h0m0 2h0m0 8h0m0 1h0m0 4h0m1-30h0m0 4h0m0 2h0m0 3h0m0 2h0m0 5h0m1-41h0m0 36h0m0 6h0m0 8h0m0 5h0m1-54h0m0 25h0m0 8h0m1 5h0m0 1h0m0 1h0m0 11h0m1-24h0m0 5h0m0 5h0m0 9h0m0 4h0m0 4h0m1-28h0m0 14h0m0 6h0m0 1h0m0 4h0m0 3h0m1-25h0m0 4h0m0 8h0m0 2h0m0 10h0m0 2h0m1-18h0m0 2h0m0 1h0m0 2h0m0 2h0m0 5h0m0 2h0m1 1h0m0 3h0m1-54h0m0 36h0m0 1h0m0 1h0m0 4h0m0 2h0m0 2h0m0 2h0m0 1h0m0 1h0m0 2h0m1-18h0m0 2h0m0 1h0m0 3h0m0 1h0m0 1h0m0 2h0m0 2h0m1-9h0m0 1h0m0 4h0m0 1h0m0 7h0m1-9h0m0 1h0m0 3h0m0 4h0m0 2h0m0 2h0m0 1h0m1-11h0m0 3h0m0 1h0m0 3h0m0 2h0m1-9h0m0 11h0m1-8h0m0 6h0m0 2h0m1-40h0m0 33h0m0 2h0m0 2h0m0 1h0m0 1h0m0 1h0m0 1h0m1-6h0m0 1h0m0 1h0m0 2h0m0 1h0m1-1h0m0 1h0m0 1h0m0 1h0m1-4h0m0 1h0m0 1h0m0 1h0m0 1h0m1-1h0m0 1h0m1-1h0m2 0h0m8-15h0m7-10h0m4 2h0m6-34h0m4 22h0m3-38h0m12 17h0" stroke="#984ea3"/><path d="M214 1308h0m5 19h0m17 26h0m7 6h0m1-2h0m0 1h0m0 1h0m1-3h0m0 1h0m0 1h0m0 1h0m1-7h0m0 2h0m0 1h0m0 2h0m1-5h0m0 1h0m0 2h0m0 1h0m0 1h0m1-3h0m0 1h0m0 1h0m1-8h0m0 4h0m0 1h0m0 2h0m0 2h0m1-6h0m0 2h0m0 2h0m1-17h0m0 9h0m0 1h0m0 3h0m0 3h0m0 2h0m1-7h0m0 2h0m0 1h0m0 2h0m1-8h0m0 1h0m0 1h0m0 1h0m0 1h0m0 1h0m0 1h0m0 1h0m1-10h0m0 2h0m0 1h0m0 1h0m0 5h0m1-17h0m0 5h0m0 5h0m0 2h0m1-4h0m0 4h0m0 1h0m0 1h0m0 2h0m1-10h0m0 1h0m0 1h0m0 1h0m0 1h0m0 3h0m1-12h0m0 5h0m0 2h0m0 1h0m0 3h0m1-23h0m0 6h0m0 5h0m0 1h0m0 2h0m0 1h0m0 2h0m0 2h0m0 1h0m0 3h0m1-10h0m0 1h0m0 1h0m0 4h0m1-32h0m0 12h0m0 11h0m0 2h0m1-15h0m0 8h0m0 8h0m0 3h0m1-16h0m0 4h0m0 4h0m0 2h0m0 3h0m0 2h0m0 6h0m1-21h0m0 5h0m0 3h0m0 6h0m0 1h0m1-15h0m0 1h0m0 9h0m0 1h0m1-23h0m0 7h0m0 2h0m0 9h0m0 9h0m1-22h0m1-3h0m0 6h0m0 12h0m1-30h0m0 10h0m0 1h0m0 1h0m0 1h0m0 19h0m0 10h0m1-24h0m0 7h0m0 1h0m0 5h0m1-8h0m0 2h0m0 4h0m1-34h0m0 1h0m0 13h0m0 3h0m0 2h0m0 6h0m0 6h0m0 14h0m2-40h0m0 2h0m0 14h0m0 10h0m0 6h0m1-13h0m1-19h0m0 12h0m0 11h0m1-35h0m0 22h0m0 1h0m0 2h0m0 4h0m0 1h0m0 10h0m1-26h0m0 3h0m0 7h0m1-30h0m0 19h0m0 2h0m0 18h0m0 2h0m0 2h0m0 1h0m1-51h0m0 7h0m0 10h0m0 5h0m0 10h0m0 7h0m1-31h0m0 8h0m0 10h0m0 3h0m0 6h0m1 10h0m1-41h0m0 10h0m0 6h0m1-28h0m0 20h0m1-27h0m0 17h0m1 7h0m1-20h0m0 10h0m0 5h0m0 5h0m1-10h0m1-14h0m0 44h0m1-47h0m0 27h0m1-18h0m0 10h0m1-16h0m1 9h0m1 0h0m0 8h0m1-10h0m0 4h0m3 8h0m1-16h0m0 10h0m1-18h0m0 4h0m0 11h0m1 0h0m3-3h0m2-7h0m1-5h0m2-5h0m4 1h0" stroke="#e3282c" stroke-width="4"/><path d="M224 1340h0m2 2h0m14 14h0m14-10h0" stroke="#4daf4a"/><path d="M276 1247h0m17 4h0m1-18h0m0 14h0m1-7h0m1-14h0m1-37h0m0 50h0m0 9h0m0 2h0m1-88h0m1 74h0m0 5h0m1 5h0m1-23h0m0 6h0m0 14h0m1-24h0m0 17h0m0 13h0m1-29h0m1-12h0m1-2h0m0 8h0m0 25h0m0 10h0m1-52h0m0 1h0m1 1h0m0 26h0m0 16h0m1-34h0m0 34h0m1-9h0m0 7h0m1-12h0m0 2h0m0 21h0m1-74h0m0 4h0m0 47h0m1-61h0m0 64h0m1-19h0m0 20h0m1-4h0m0 6h0m1-22h0m0 22h0m0 6h0m1-77h0m0 24h0m1 40h0m0 17h0m1-31h0m1-33h0m0 3h0m0 1h0m0 5h0m0 14h0m1-32h0m1-14h0m0 33h0m0 17h0m0 7h0m1-23h0m0 7h0m0 17h0m1-29h0m1-3h0m0 10h0m1-34h0m0 35h0m0 10h0m1-29h0m0 26h0m1-36h0m0 23h0m0 4h0m0 26h0m1-50h0m0 4h0m0 6h0m0 2h0m0 5h0m0 13h0m0 50h0m1-79h0m0 18h0m0 24h0m0 23h0m5-76h0m0 8h0m0 25h0m1 8h0m1-4h0m0 3h0m1-25h0m1-3h0m0 13h0m1-2h0m1-12h0m0 2h0m2 3h0m0 1h0m4 0h0m1-3h0m0 18h0" stroke="#e9494c" stroke-width="3.8"/><path d="M144 1334h0m61 14h0m2 4h0m3 1h0m1-7h0m1-9h0m0 9h0m0 3h0m1-2h0m2-39h0m1 35h0m0 5h0m0 7h0m1-19h0m1 7h0m2-9h0m2 17h0m3-11h0m0 2h0m0 14h0m1-5h0m2-7h0m3-43h0m0 43h0m0 11h0m0 1h0m1-7h0m2 6h0m1-3h0m0 4h0m0 1h0m1-2h0m0 1h0m0 1h0m0 1h0m1-6h0m0 5h0m1-1h0m2 1h0m1 1h0m1 0h0m0 1h0m1 0h0m1-1h0m1-1h0m0 1h0m1-7h0m0 4h0m1-5h0m0 4h0m1-4h0m0 3h0m0 2h0m1-6h0m0 5h0m1-7h0m0 1h0m1 0h0m0 5h0m0 1h0m1-13h0m1 0h0m0 1h0m1 1h0m0 1h0m0 1h0m0 1h0m2-6h0m1-10h0m0 1h0m0 4h0m1 6h0m1-8h0m0 7h0m1-3h0m1-14h0m0 3h0m0 3h0m0 8h0m1-9h0m0 11h0m0 9h0m1-12h0m2 2h0m1-15h0m0 5h0m1-7h0m0 4h0m1-16h0m0 21h0m2-26h0m2 1h0m0 14h0m1-21h0m0 22h0m1-3h0m1-35h0m1-2h0m0 6h0m2-1h0m2-1h0m1-8h0m0 1h0m4-19h0m8 9h0m2-13h0m1 4h0m2 12h0m3-45h0m1-9h0m1 33h0m2-38h0m6-46h0m10 21h0m0 7h0m2-36h0m2 53h0m1 33h0m4-41h0" stroke="#377eb8"/><path d="M207 1325h0m0 18h0m0 2h0m0 1h0m0 4h0m0 5h0m1-27h0m0 17h0m0 1h0m0 2h0m0 1h0m0 1h0m0 1h0m0 4h0m1-20h0m0 3h0m0 5h0m0 2h0m0 3h0m0 3h0m0 4h0m1-32h0m0 14h0m0 1h0m0 3h0m0 11h0m0 1h0m0 3h0m1-22h0m0 14h0m0 1h0m0 5h0m0 1h0m1-27h0m0 1h0m0 17h0m0 4h0m0 3h0m1-34h0m0 19h0m0 3h0m0 1h0m0 2h0m0 4h0m0 1h0m0 2h0m0 3h0m0 1h0m0 1h0m1-16h0m0 6h0m0 2h0m0 1h0m1-24h0m0 7h0m0 12h0m0 1h0m0 4h0m0 2h0m1-22h0m0 6h0m0 15h0m0 2h0m0 2h0m1-27h0m0 5h0m0 7h0m1-4h0m0 6h0m0 4h0m0 3h0m0 2h0m0 3h0m0 2h0m1-34h0m0 12h0m0 6h0m0 3h0m0 1h0m0 2h0m0 2h0m0 2h0m0 1h0m0 2h0m1-28h0m0 15h0m0 5h0m0 1h0m0 1h0m0 3h0m0 1h0m0 4h0m1-53h0m0 35h0m0 10h0m0 1h0m1-10h0m0 8h0m0 3h0m0 5h0m0 2h0m0 2h0m1-21h0m0 4h0m0 11h0m0 6h0m1-17h0m0 3h0m0 2h0m0 3h0m0 2h0m0 3h0m0 3h0m1-52h0m0 23h0m0 8h0m0 21h0m1-26h0m0 2h0m0 13h0m0 5h0m0 1h0m0 2h0m1-17h0m0 1h0m0 7h0m0 1h0m0 2h0m0 2h0m0 4h0m0 4h0m1-23h0m0 6h0m0 2h0m1-12h0m0 4h0m0 15h0m0 7h0m1-11h0m0 5h0m0 5h0m1-33h0m0 20h0m0 2h0m0 1h0m0 2h0m0 1h0m0 1h0m0 1h0m0 3h0m1-31h0m0 16h0m0 12h0m0 3h0m0 1h0m0 1h0m0 2h0m0 1h0m1-16h0m0 6h0m0 2h0m0 1h0m0 5h0m0 2h0m1-13h0m0 1h0m0 10h0m1-13h0m0 3h0m0 3h0m0 1h0m0 4h0m0 1h0m0 2h0m1-9h0m0 2h0m0 3h0m0 2h0m1-37h0m0 31h0m0 2h0m0 1h0m0 1h0m0 2h0m1-4h0m0 3h0m0 1h0m0 1h0m0 1h0m0 1h0m1-4h0m0 1h0m0 2h0m0 2h0m1-3h0m0 1h0m0 1h0m0 1h0m1-2h0m1 2h0m1 0h0m3-4h0m1 1h0m2-4h0m15-20h0m1 7h0m1-23h0m1 12h0m2-20h0m1-3h0m0 5h0m7-6h0" stroke="#984ea3"/><path d="M214 1325h0m3 19h0m6-15h0m5 24h0m1-5h0m14 11h0m1-1h0m0 1h0m1-2h0m0 1h0m1-2h0m0 1h0m0 1h0m1-2h0m0 1h0m1-6h0m0 3h0m0 1h0m0 1h0m1-9h0m0 3h0m0 3h0m0 2h0m1-5h0m0 2h0m0 1h0m0 1h0m0 1h0m1-12h0m0 6h0m0 1h0m0 4h0m1-11h0m0 1h0m0 3h0m0 1h0m0 2h0m0 1h0m0 3h0m1-12h0m0 2h0m0 1h0m0 3h0m0 1h0m0 2h0m0 3h0m0 2h0m1-17h0m0 4h0m0 2h0m0 1h0m0 1h0m0 1h0m0 1h0m0 3h0m0 1h0m1-12h0m0 4h0m0 1h0m0 2h0m0 3h0m1-9h0m0 1h0m0 2h0m1-4h0m0 2h0m0 2h0m1-24h0m0 21h0m0 2h0m1-10h0m0 2h0m0 1h0m0 5h0m1-14h0m0 9h0m0 1h0m0 4h0m0 4h0m1-11h0m0 12h0m1-18h0m0 1h0m0 3h0m0 1h0m0 1h0m0 2h0m1-13h0m0 3h0m0 1h0m0 2h0m0 2h0m0 1h0m0 2h0m0 3h0m1-24h0m0 6h0m0 7h0m0 5h0m0 2h0m0 1h0m0 1h0m1-15h0m0 7h0m0 9h0m1-21h0m0 10h0m0 2h0m0 3h0m0 2h0m1-9h0m0 4h0m0 4h0m0 2h0m0 5h0m1-20h0m0 3h0m1-17h0m0 6h0m0 21h0m1-21h0m0 1h0m0 3h0m0 1h0m0 1h0m0 3h0m0 4h0m0 1h0m0 2h0m0 6h0m0 3h0m1-37h0m0 10h0m0 2h0m0 13h0m0 3h0m1-34h0m0 6h0m0 5h0m0 5h0m0 4h0m0 17h0m0 5h0m1-39h0m0 13h0m0 4h0m0 12h0m0 2h0m0 15h0m1-38h0m0 1h0m0 5h0m0 6h0m1-28h0m0 6h0m0 11h0m0 5h0m0 4h0m1-5h0m0 9h0m0 2h0m1-28h0m0 20h0m0 2h0m0 7h0m1-49h0m0 8h0m0 18h0m0 32h0m1-47h0m0 11h0m0 11h0m0 1h0m0 3h0m0 4h0m1-21h0m0 7h0m0 1h0m0 4h0m0 3h0m0 3h0m0 9h0m1-26h0m0 5h0m0 2h0m0 11h0m0 6h0m1-33h0m0 8h0m1 20h0m1-60h0m0 16h0m0 13h0m0 4h0m0 3h0m0 8h0m0 1h0m0 5h0m1-18h0m1-7h0m1 17h0m0 6h0m1-22h0m1-22h0m1 1h0m0 20h0m1-23h0m1 13h0m0 2h0m0 7h0m0 8h0m1-24h0m0 4h0m2 23h0m1-27h0m0 4h0m0 12h0m1-1h0m1 6h0m1-29h0m0 24h0m1-2h0m1-13h0m1 26h0m3-34h0m0 10h0m1 17h0m5-25h0m1 9h0" stroke="#e3282c" stroke-width="4"/><path d="M211 1330h0m4 11h0m13 13h0m3-13h0m4 14h0m2 0h0" stroke="#4daf4a"/><path d="M286 1241h0m5-19h0m4 25h0m1-14h0m0 6h0m0 11h0m1-54h0m1 50h0m1-21h0m0 14h0m1-33h0m0 6h0m0 2h0m0 6h0m0 5h0m0 1h0m1 3h0m0 1h0m0 4h0m0 15h0m1-32h0m0 18h0m1-53h0m0 26h0m0 20h0m0 15h0m1-18h0m0 14h0m1-15h0m0 25h0m1-44h0m0 18h0m0 2h0m1 7h0m1-45h0m0 17h0m0 6h0m0 26h0m0 9h0m0 2h0m1-19h0m0 4h0m1-51h0m1 12h0m0 26h0m0 12h0m0 3h0m2-43h0m0 13h0m0 5h0m0 30h0m1-53h0m1-5h0m0 2h0m0 44h0m0 15h0m1-24h0m0 16h0m0 8h0m1-45h0m0 10h0m1-22h0m0 57h0m0 1h0m1-82h0m0 33h0m0 24h0m1-17h0m1-11h0m0 16h0m2-22h0m1 3h0m0 8h0m0 12h0m1-51h0m0 69h0m0 21h0m1-66h0m0 4h0m0 51h0m1-68h0m0 50h0m0 22h0m2-72h0m1 3h0m1-12h0m0 15h0m0 6h0m0 33h0m2-19h0m1 1h0m2 0h0m3 6h0m1-41h0m1 30h0m1-27h0m0 17h0m1 27h0" stroke="#e9494c" stroke-width="3.8"/><path d="M207 1350h0m0 3h0m1-6h0m2-8h0m1-4h0m0 17h0m1-23h0m0 22h0m1-17h0m1 20h0m1-16h0m0 11h0m1-84h0m0 67h0m0 6h0m2 5h0m0 2h0m1-19h0m0 9h0m2-10h0m0 27h0m0 5h0m4-19h0m1 5h0m0 5h0m1-5h0m0 2h0m1-7h0m1 7h0m2-2h0m1-19h0m0 21h0m0 3h0m1-5h0m1 8h0m1 0h0m1-4h0m0 2h0m5 10h0m1-1h0m3-1h0m1-5h0m0 5h0m0 1h0m1-11h0m0 7h0m0 1h0m1-2h0m0 3h0m1-6h0m0 2h0m1-2h0m0 4h0m1-7h0m1 0h0m0 1h0m1-3h0m1 6h0m0 1h0m1-19h0m0 9h0m0 2h0m2-10h0m0 8h0m0 1h0m2-13h0m0 9h0m1-30h0m1 12h0m0 14h0m1-3h0m1-8h0m0 1h0m0 4h0m2-26h0m1 25h0m2-24h0m1 4h0m0 4h0m1-1h0m0 7h0m0 5h0m1-25h0m0 1h0m0 8h0m1-1h0m0 17h0m0 8h0m1-32h0m2-2h0m1 10h0m1 4h0m1-2h0m1-7h0m1-31h0m0 12h0m3 25h0m3-31h0m0 7h0m1-15h0m5-23h0m5-46h0m0 24h0m1 36h0m1-74h0m0 30h0m3 10h0m8-15h0m3 6h0m4-27h0m7-32h0m15 13h0m10 6h0" stroke="#377eb8"/><path d="M207 1345h0m0 3h0m0 1h0m0 2h0m0 1h0m1-11h0m0 6h0m0 1h0m0 6h0m0 1h0m1-11h0m0 2h0m1-15h0m0 9h0m0 1h0m0 2h0m0 1h0m0 3h0m0 2h0m0 4h0m1-23h0m0 14h0m0 1h0m0 1h0m0 2h0m0 1h0m0 1h0m1-11h0m0 3h0m0 5h0m0 2h0m0 1h0m0 2h0m0 3h0m1-14h0m0 3h0m0 4h0m0 2h0m1-11h0m0 8h0m0 1h0m0 1h0m0 2h0m0 1h0m0 3h0m1-51h0m0 22h0m0 3h0m0 11h0m0 2h0m0 1h0m0 1h0m0 2h0m0 1h0m0 4h0m0 1h0m0 1h0m0 3h0m1-34h0m0 12h0m0 12h0m1-15h0m0 2h0m0 1h0m0 3h0m0 7h0m0 1h0m0 3h0m0 3h0m0 3h0m0 1h0m1-21h0m0 1h0m0 4h0m0 5h0m0 3h0m0 3h0m0 2h0m1-18h0m0 8h0m0 3h0m0 1h0m0 3h0m1-39h0m0 25h0m0 1h0m0 4h0m0 5h0m0 2h0m1-41h0m0 22h0m0 6h0m0 7h0m0 8h0m0 3h0m0 1h0m0 3h0m1-26h0m0 3h0m0 3h0m0 7h0m0 11h0m0 1h0m1-30h0m0 3h0m0 28h0m1-30h0m0 3h0m0 3h0m0 8h0m0 5h0m0 1h0m0 1h0m0 1h0m0 3h0m0 2h0m0 1h0m0 1h0m1-45h0m0 33h0m0 11h0m0 1h0m1-37h0m0 19h0m0 3h0m0 16h0m1-18h0m0 1h0m0 1h0m0 4h0m0 6h0m1-11h0m0 7h0m0 6h0m1-18h0m0 1h0m0 16h0m0 5h0m1-21h0m0 3h0m0 7h0m0 11h0m1-18h0m0 8h0m0 3h0m0 3h0m0 1h0m0 4h0m1-20h0m0 4h0m0 5h0m0 5h0m0 1h0m1-35h0m0 25h0m0 2h0m0 2h0m0 1h0m0 1h0m0 2h0m0 3h0m0 4h0m1-14h0m0 1h0m0 2h0m0 1h0m0 1h0m0 3h0m0 7h0m1-9h0m0 1h0m0 1h0m0 1h0m0 3h0m0 1h0m1-45h0m0 39h0m0 2h0m0 3h0m1-4h0m0 1h0m0 2h0m0 2h0m1-20h0m0 17h0m0 4h0m0 1h0m1-6h0m0 1h0m0 2h0m0 3h0m1-2h0m0 2h0m0 1h0m1-2h0m0 1h0m0 1h0m1-1h0m0 1h0m1 0h0m1-2h0m2-1h0m0 2h0m5-7h0m10-15h0m9-8h0m6-16h0m2 1h0m17-55h0" stroke="#984ea3"/><path d="M208 1337h0m2 3h0m15 3h0m5-9h0m0 10h0m4-1h0m9 16h0m1-3h0m0 2h0m0 1h0m1-3h0m0 1h0m0 1h0m1-4h0m0 1h0m0 2h0m0 1h0m1-3h0m0 1h0m0 1h0m0 1h0m1-6h0m0 1h0m0 1h0m0 1h0m0 1h0m1-3h0m0 1h0m0 1h0m0 2h0m1-5h0m0 1h0m0 3h0m1-6h0m0 1h0m0 1h0m0 1h0m0 1h0m0 1h0m1-11h0m0 3h0m0 3h0m0 1h0m0 3h0m1-8h0m0 4h0m0 1h0m1-9h0m0 2h0m0 3h0m0 1h0m0 3h0m1-10h0m0 2h0m0 1h0m0 1h0m0 1h0m0 2h0m1-8h0m0 1h0m0 2h0m0 1h0m1-10h0m0 3h0m0 3h0m0 3h0m0 1h0m0 1h0m1-9h0m0 2h0m0 4h0m0 1h0m1-6h0m0 3h0m0 2h0m0 3h0m1-10h0m0 2h0m0 2h0m0 2h0m0 3h0m1-18h0m0 3h0m0 7h0m0 1h0m0 5h0m0 2h0m0 3h0m1-28h0m0 3h0m0 11h0m0 7h0m0 1h0m1-10h0m0 2h0m1-20h0m0 8h0m0 5h0m0 5h0m0 1h0m0 5h0m0 5h0m1-26h0m0 5h0m0 5h0m1-1h0m0 1h0m0 5h0m0 2h0m0 2h0m0 3h0m0 5h0m1-18h0m0 1h0m0 6h0m0 5h0m0 8h0m1-21h0m0 3h0m0 3h0m0 6h0m1-26h0m0 8h0m1-5h0m0 7h0m0 3h0m0 6h0m0 1h0m1-25h0m0 16h0m0 15h0m1-41h0m0 10h0m0 3h0m0 2h0m0 5h0m0 4h0m0 2h0m0 7h0m0 6h0m1-37h0m0 6h0m0 5h0m0 5h0m1-12h0m0 17h0m0 6h0m0 8h0m1-23h0m0 2h0m0 7h0m0 4h0m1-38h0m0 9h0m0 8h0m0 2h0m0 1h0m0 7h0m0 2h0m0 1h0m0 2h0m0 1h0m0 5h0m0 1h0m1-30h0m0 4h0m0 5h0m0 3h0m0 1h0m0 6h0m0 5h0m1-14h0m0 16h0m0 4h0m1-24h0m0 9h0m0 6h0m0 5h0m1-25h0m0 1h0m0 3h0m0 6h0m0 2h0m0 1h0m0 17h0m0 2h0m1-47h0m0 14h0m0 17h0m1-46h0m0 31h0m0 19h0m1-27h0m0 7h0m0 7h0m1-21h0m0 15h0m0 11h0m1-28h0m0 16h0m1-25h0m0 18h0m0 1h0m1-9h0m0 7h0m2-26h0m0 8h0m1 5h0m1 18h0m1-19h0m0 7h0m0 17h0m1-21h0m1-17h0m0 9h0m0 1h0m0 35h0m1-45h0m0 2h0m1-4h0m0 13h0m2-11h0m1 6h0m0 1h0m0 5h0m1-13h0m1 15h0m1-13h0m0 1h0m2 10h0m3-16h0m3 8h0m0 11h0m2-16h0m20-4h0" stroke="#e3282c" stroke-width="4"/><path d="M208 1351h0m4-121h0m0 116h0m1-18h0m2 11h0m0 2h0m6-9h0m1 20h0m4-3h0m5 3h0m4-6h0m3 8h0m0 2h0m35-27h0" stroke="#4daf4a"/><path d="M284 1246h0m5-8h0m3-25h0m0 22h0m1 1h0m2-5h0m0 2h0m0 6h0m0 9h0m1-49h0m0 9h0m0 22h0m0 21h0m1-42h0m0 25h0m1-15h0m0 13h0m1 1h0m1 13h0m1-47h0m0 1h0m2 39h0m1-42h0m0 49h0m1-66h0m0 8h0m0 1h0m0 26h0m1 30h0m0 1h0m1-54h0m0 36h0m1 12h0m1-37h0m1-24h0m0 19h0m0 9h0m0 20h0m1 14h0m1-42h0m0 22h0m0 17h0m1-61h0m1 11h0m0 3h0m0 17h0m2-41h0m0 28h0m1 32h0m1-56h0m0 34h0m0 27h0m1-29h0m0 40h0m1-47h0m1-30h0m0 10h0m1 18h0m0 14h0m0 14h0m2-24h0m1-15h0m0 1h0m0 30h0m0 9h0m4-56h0m0 16h0m1-23h0m0 28h0m0 31h0m1-56h0m0 28h0m1 2h0m1-31h0m0 24h0m0 14h0m1-8h0m0 5h0m1-33h0m0 11h0m0 34h0m1-47h0m0 18h0m0 3h0m2-24h0m0 48h0m0 22h0m2-71h0m0 15h0m0 14h0m9-2h0m1-8h0" stroke="#e9494c" stroke-width="3.8"/><path d="M207 1343h0m1 3h0m0 6h0m1-6h0m0 3h0m1 3h0m2-2h0m2 4h0m1-16h0m0 7h0m1-13h0m0 24h0m1-24h0m0 18h0m1-1h0m1 4h0m2-5h0m1-5h0m0 1h0m0 12h0m2-6h0m1 3h0m2-5h0m2-13h0m0 17h0m1-7h0m0 8h0m1-1h0m0 2h0m1-9h0m1 6h0m0 4h0m2-5h0m0 5h0m0 2h0m1-1h0m0 1h0m0 1h0m1-13h0m0 4h0m0 2h0m0 2h0m0 2h0m0 1h0m2 0h0m2 3h0m2-1h0m2-1h0m0 1h0m1-4h0m0 3h0m1-4h0m0 1h0m0 1h0m0 1h0m1-4h0m0 1h0m0 1h0m1-5h0m0 1h0m0 3h0m1-4h0m1-4h0m1 1h0m0 6h0m1-6h0m0 1h0m0 2h0m1-6h0m1-2h0m1-9h0m0 8h0m0 1h0m1-9h0m0 13h0m0 2h0m1-9h0m0 10h0m2-12h0m1-11h0m2 14h0m1-19h0m0 2h0m0 5h0m2-13h0m1 2h0m0 10h0m1-11h0m1-7h0m0 3h0m4 3h0m1 1h0m0 10h0m1-9h0m1-29h0m0 17h0m1-36h0m0 20h0m0 20h0m0 15h0m2-42h0m0 14h0m0 32h0m2-74h0m0 26h0m0 27h0m0 3h0m5-43h0m0 33h0m1-47h0m0 54h0m1-48h0m1 27h0m3-13h0m1 9h0m1 6h0m4-63h0m1 45h0m9-48h0m11-34h0m2-11h0m8 25h0" stroke="#377eb8"/><path d="M207 1345h0m0 1h0m0 1h0m0 3h0m0 1h0m1-14h0m0 6h0m0 5h0m0 2h0m0 2h0m1-49h0m0 35h0m0 10h0m0 1h0m0 3h0m0 2h0m1-11h0m0 2h0m0 2h0m1-10h0m0 3h0m0 2h0m0 1h0m0 6h0m0 4h0m0 1h0m0 1h0m1-17h0m0 8h0m0 3h0m0 2h0m0 2h0m0 1h0m1-26h0m0 5h0m0 16h0m0 3h0m0 4h0m1-19h0m0 6h0m0 6h0m0 1h0m0 2h0m0 1h0m0 3h0m1-16h0m0 10h0m1-30h0m0 7h0m0 4h0m0 6h0m0 10h0m0 4h0m1-72h0m0 42h0m0 21h0m0 7h0m0 4h0m0 2h0m0 1h0m1-65h0m0 33h0m0 4h0m0 3h0m0 9h0m0 8h0m0 1h0m0 2h0m0 2h0m0 2h0m1-52h0m0 25h0m0 2h0m0 4h0m0 7h0m0 6h0m0 1h0m1-85h0m0 62h0m0 3h0m0 12h0m0 4h0m0 6h0m0 2h0m0 1h0m1-27h0m0 3h0m0 6h0m0 3h0m0 4h0m0 1h0m0 2h0m0 1h0m0 6h0m0 2h0m1-35h0m0 3h0m0 2h0m0 12h0m0 5h0m0 1h0m0 4h0m0 2h0m1-5h0m0 3h0m0 2h0m0 5h0m1-27h0m1 2h0m0 18h0m0 4h0m0 4h0m0 1h0m1-50h0m0 15h0m0 7h0m0 5h0m0 9h0m0 6h0m0 1h0m0 4h0m0 3h0m1-26h0m0 9h0m0 8h0m0 2h0m0 5h0m0 3h0m1-24h0m0 7h0m0 3h0m0 4h0m0 7h0m1-17h0m0 7h0m0 9h0m0 6h0m1-24h0m0 3h0m0 2h0m0 3h0m0 13h0m0 3h0m1-19h0m0 3h0m0 2h0m0 3h0m0 1h0m0 4h0m0 2h0m0 4h0m1-30h0m0 11h0m0 2h0m0 1h0m0 4h0m0 1h0m0 9h0m0 1h0m1-10h0m0 3h0m1-34h0m0 27h0m0 4h0m0 1h0m0 2h0m0 2h0m0 1h0m0 1h0m1-5h0m0 1h0m0 1h0m0 4h0m1-7h0m0 3h0m0 4h0m1 0h0m0 4h0m1-9h0m0 4h0m0 2h0m0 2h0m1-4h0m0 1h0m0 1h0m1-2h0m0 1h0m0 1h0m0 2h0m1 0h0m0 1h0m1-1h0m1 1h0m6-8h0m8-13h0m0 3h0m4-23h0m4 1h0m9-18h0m5-13h0m1 6h0m0 19h0m0 18h0m14-41h0m7-22h0m7-6h0" stroke="#984ea3"/><path d="M222 1354h0m21 5h0m1-1h0m0 1h0m1-2h0m0 1h0m1-4h0m0 1h0m0 1h0m0 1h0m1-1h0m0 1h0m1-4h0m0 1h0m0 1h0m0 1h0m0 1h0m1-11h0m0 6h0m0 2h0m0 1h0m1-5h0m0 1h0m0 1h0m0 1h0m0 3h0m1-16h0m0 6h0m0 2h0m0 3h0m0 1h0m0 1h0m1-8h0m0 2h0m0 2h0m0 1h0m0 1h0m0 1h0m0 1h0m0 1h0m1-13h0m0 2h0m0 1h0m0 1h0m0 1h0m0 2h0m0 2h0m0 5h0m1-9h0m0 1h0m0 5h0m1-14h0m0 6h0m0 1h0m0 1h0m0 1h0m0 2h0m1-8h0m0 2h0m0 2h0m0 1h0m0 1h0m1-9h0m0 3h0m0 6h0m1-22h0m0 13h0m0 1h0m0 1h0m0 4h0m0 6h0m1-13h0m0 6h0m1-9h0m0 3h0m0 1h0m0 1h0m0 1h0m0 6h0m1-28h0m0 8h0m0 5h0m0 1h0m0 3h0m0 3h0m0 4h0m1-12h0m0 8h0m0 3h0m1-17h0m0 12h0m1-16h0m0 3h0m0 9h0m0 3h0m0 6h0m1-22h0m0 9h0m0 1h0m0 2h0m0 1h0m0 1h0m0 6h0m1-27h0m0 8h0m0 2h0m0 1h0m0 6h0m0 2h0m0 1h0m0 1h0m0 8h0m1-23h0m0 2h0m0 9h0m0 2h0m1-40h0m0 27h0m0 3h0m0 1h0m0 1h0m0 4h0m0 1h0m1-49h0m0 40h0m0 5h0m0 4h0m0 2h0m1-28h0m0 9h0m0 5h0m0 1h0m0 3h0m0 5h0m0 1h0m0 1h0m1-19h0m0 5h0m0 8h0m0 1h0m0 6h0m0 8h0m1-62h0m0 34h0m0 8h0m0 5h0m0 2h0m0 9h0m0 10h0m1-42h0m0 5h0m0 3h0m0 5h0m0 15h0m1-33h0m0 9h0m0 1h0m0 21h0m0 1h0m1-52h0m0 22h0m0 9h0m0 13h0m0 2h0m1-19h0m0 4h0m0 10h0m0 1h0m0 6h0m1-68h0m0 46h0m0 7h0m0 1h0m0 20h0m1-40h0m0 3h0m0 27h0m0 2h0m0 2h0m0 9h0m1-59h0m0 23h0m0 14h0m0 17h0m0 3h0m1-38h0m0 1h0m0 18h0m0 5h0m1-23h0m0 5h0m0 3h0m1-10h0m0 16h0m0 9h0m0 20h0m1-49h0m0 3h0m0 9h0m0 22h0m1-58h0m0 16h0m0 12h0m1 1h0m1-4h0m0 12h0m1-31h0m0 17h0m0 7h0m1-27h0m0 8h0m0 17h0m0 4h0m1-23h0m1-13h0m1-7h0m0 20h0m0 4h0m0 11h0m1-1h0m1-31h0m1-1h0m0 17h0m0 3h0m0 7h0m1-5h0m0 5h0m1-1h0m0 6h0m3-23h0m0 18h0m2-15h0m0 15h0m1-13h0m5-7h0" stroke="#e3282c" stroke-width="4"/></g>
<line x1="58.5" y1="572" x2="58.5" y2="685" stroke="#555555" stroke-width="1.1"/>
<line x1="57.9" y1="684.5" x2="184.3" y2="684.5" stroke="#777" stroke-width="1.3"/>
<line x1="85.5" y1="684.5" x2="85.5" y2="686.8" stroke="#555555" stroke-width="0.9"/>
<line x1="121.5" y1="684.5" x2="121.5" y2="686.8" stroke="#555555" stroke-width="0.9"/>
<line x1="157.5" y1="684.5" x2="157.5" y2="686.8" stroke="#555555" stroke-width="0.9"/>
<line x1="56.2" y1="679.5" x2="58.4" y2="679.5" stroke="#555555" stroke-width="0.9"/>
<line x1="56.2" y1="655.5" x2="58.4" y2="655.5" stroke="#555555" stroke-width="0.9"/>
<line x1="56.2" y1="630.5" x2="58.4" y2="630.5" stroke="#555555" stroke-width="0.9"/>
<line x1="56.2" y1="606.5" x2="58.4" y2="606.5" stroke="#555555" stroke-width="0.9"/>
<line x1="56.2" y1="581.5" x2="58.4" y2="581.5" stroke="#555555" stroke-width="0.9"/>
<text x="85.3" y="691.7" font-size="5.89" fill="#8c8c8c" text-anchor="middle" textLength="6.4" lengthAdjust="spacingAndGlyphs">−2</text>
<text x="121.3" y="691.7" font-size="5.89" fill="#8c8c8c" text-anchor="middle" textLength="3.2" lengthAdjust="spacingAndGlyphs">0</text>
<text x="157.3" y="691.7" font-size="5.89" fill="#8c8c8c" text-anchor="middle" textLength="3.2" lengthAdjust="spacingAndGlyphs">2</text>
<text x="55.2" y="681.9" font-size="5.89" fill="#8c8c8c" text-anchor="end" textLength="3.2" lengthAdjust="spacingAndGlyphs">0</text>
<text x="55.2" y="657.4" font-size="5.89" fill="#8c8c8c" text-anchor="end" textLength="8" lengthAdjust="spacingAndGlyphs">2.5</text>
<text x="55.2" y="632.9" font-size="5.89" fill="#8c8c8c" text-anchor="end" textLength="3.2" lengthAdjust="spacingAndGlyphs">5</text>
<text x="55.2" y="608.3" font-size="5.89" fill="#8c8c8c" text-anchor="end" textLength="8" lengthAdjust="spacingAndGlyphs">7.5</text>
<text x="55.2" y="583.8" font-size="5.89" fill="#8c8c8c" text-anchor="end" textLength="6.4" lengthAdjust="spacingAndGlyphs">10</text>
<text x="36.8" y="628" font-size="6.8" fill="#3a3a3a" text-anchor="middle" textLength="60" lengthAdjust="spacingAndGlyphs" transform="rotate(-90 36.8 628) translate(0 2.2)">Per-CpG −log<tspan font-size="4.5" dy="1.5">10</tspan><tspan dy="-1.5">(FDR)</tspan></text>
<line x1="231.5" y1="572" x2="231.5" y2="684.4" stroke="#2a78c2" stroke-width="1.5"/>
<line x1="261.5" y1="572" x2="261.5" y2="684.4" stroke="#d2d7da" stroke-width="0.8"/>
<line x1="279.5" y1="572" x2="279.5" y2="684.4" stroke="#d2d7da" stroke-width="0.8"/>
<line x1="298.5" y1="572" x2="298.5" y2="684.4" stroke="#d2d7da" stroke-width="0.8"/>
<line x1="316.5" y1="572" x2="316.5" y2="684.4" stroke="#d2d7da" stroke-width="0.8"/>
<line x1="335.5" y1="572" x2="335.5" y2="684.4" stroke="#d2d7da" stroke-width="0.8"/>
<line x1="250.4" y1="679.5" x2="346" y2="679.5" stroke="#d2d7da" stroke-width="0.8"/>
<line x1="250.4" y1="654.5" x2="346" y2="654.5" stroke="#d2d7da" stroke-width="0.8"/>
<line x1="250.4" y1="629.5" x2="346" y2="629.5" stroke="#d2d7da" stroke-width="0.8"/>
<line x1="250.4" y1="604.5" x2="346" y2="604.5" stroke="#d2d7da" stroke-width="0.8"/>
<line x1="250.4" y1="579.5" x2="346" y2="579.5" stroke="#d2d7da" stroke-width="0.8"/>
<line x1="298.5" y1="572" x2="298.5" y2="684.4" stroke="#dc4149" stroke-width="1.0" stroke-dasharray="1 1"/>
<line x1="250" y1="646.5" x2="346" y2="646.5" stroke="#dc4149" stroke-width="1.0" stroke-dasharray="1 1"/>
<g transform="scale(.5)" stroke-linecap="round" stroke-width="5" opacity="0.85"><path d="M563 1355h0m8-14h0m3 7h0m3-8h0m9 13h0m1-13h0m3 8h0" stroke="#4daf4a"/><path d="M512 1344h0m48 7h0m1 4h0m1-7h0m0 1h0m3-11h0m2 8h0m1 9h0m1-5h0m1-7h0m0 1h0m7-3h0m5 7h0m0 3h0m1 5h0m2-14h0m0 3h0m1-4h0m0 3h0m0 2h0m0 7h0m3-6h0m1 0h0m0 11h0m1-2h0m4 2h0m4 1h0m1-1h0m1 0h0m1-2h0m0 2h0m1-2h0m1-1h0m1 1h0m1 1h0m1 1h0m1-3h0m2-3h0m0 2h0m0 1h0m1-7h0m0 1h0m3-1h0m0 6h0m2-8h0m2-5h0m0 5h0m1-4h0m2-4h0m0 2h0m1-3h0m0 3h0m1-2h0m0 16h0m1-9h0m0 5h0m4-15h0m1-7h0m3 1h0m1-17h0m5-9h0m2-10h0m0 6h0m1 30h0m1-52h0m1 20h0m1 3h0m3-28h0m0 31h0m1-15h0m5-5h0m1-3h0m0 5h0" stroke="#377eb8"/><path d="M534 1341h0m6 10h0m20-6h0m0 6h0m1 4h0m1-10h0m0 3h0m0 4h0m0 3h0m1-4h0m1-6h0m0 3h0m0 5h0m1-6h0m0 2h0m0 3h0m1-12h0m0 6h0m0 6h0m0 1h0m1-35h0m1 6h0m0 27h0m0 1h0m1-12h0m1-31h0m0 33h0m0 6h0m0 3h0m0 2h0m0 1h0m1-14h0m0 5h0m0 2h0m1-9h0m1 8h0m0 3h0m0 7h0m1-16h0m0 7h0m0 3h0m0 3h0m0 2h0m1-13h0m0 10h0m1-11h0m0 2h0m0 2h0m0 10h0m0 1h0m1-18h0m0 7h0m0 1h0m0 5h0m1-18h0m0 14h0m0 1h0m0 6h0m1-15h0m0 14h0m1-10h0m0 4h0m0 8h0m0 3h0m1-18h0m0 4h0m0 1h0m0 6h0m0 6h0m1-20h0m0 5h0m0 5h0m0 3h0m0 4h0m0 1h0m0 2h0m1-10h0m0 2h0m0 4h0m0 3h0m0 1h0m0 1h0m1-16h0m0 13h0m1-14h0m0 8h0m0 2h0m0 1h0m0 3h0m0 1h0m0 2h0m1-2h0m0 2h0m1-5h0m0 1h0m0 1h0m0 1h0m1-13h0m0 1h0m0 9h0m0 3h0m0 3h0m1-3h0m0 1h0m0 1h0m1-8h0m1 5h0m0 2h0m1 0h0m0 1h0m1-7h0m0 3h0m0 2h0m0 2h0m0 1h0m1-3h0m0 2h0m1 0h0m1 0h0m1 1h0m5-1h0m14-11h0m7-8h0m1 2h0m5-19h0m0 23h0m1-34h0m16-25h0m3-8h0m0 11h0" stroke="#984ea3"/><path d="M597 1359h0m1-1h0m0 1h0m1-1h0m0 1h0m1-1h0m1 0h0m1-1h0m0 1h0m1 0h0m1-3h0m0 1h0m0 2h0m1-1h0m1-3h0m0 1h0m0 1h0m0 1h0m1-4h0m0 1h0m0 2h0m0 1h0m1-3h0m0 2h0m0 1h0m1-4h0m0 2h0m0 1h0m0 2h0m1-3h0m1-6h0m0 3h0m0 3h0m1-3h0m0 1h0m0 1h0m1-2h0m0 1h0m0 1h0m0 3h0m0 1h0m1-8h0m0 1h0m0 1h0m1-3h0m0 1h0m0 1h0m1-2h0m0 1h0m0 1h0m0 2h0m1-6h0m0 2h0m0 1h0m1-7h0m0 7h0m0 3h0m1-15h0m0 4h0m0 3h0m0 2h0m0 1h0m0 5h0m0 1h0m1-6h0m0 2h0m1-15h0m0 3h0m0 2h0m0 2h0m0 4h0m1-13h0m0 2h0m0 2h0m0 8h0m0 1h0m0 2h0m0 4h0m0 4h0m1-16h0m0 3h0m0 14h0m1-27h0m0 2h0m0 5h0m1 1h0m1 0h0m1-10h0m0 9h0m0 3h0m0 3h0m0 1h0m1-22h0m0 10h0m0 5h0m1-7h0m1-2h0m0 11h0m2-13h0m1 0h0m0 1h0m0 1h0m0 1h0m1-25h0m0 18h0m0 13h0m1-33h0m0 17h0m1-12h0m0 4h0m1 0h0m0 2h0m1-7h0m0 1h0m0 5h0m0 1h0m1-11h0m0 4h0m1-2h0m0 9h0m1-22h0m0 11h0m0 12h0m0 4h0m1-40h0m0 7h0m0 3h0m0 11h0m0 7h0m0 8h0m0 1h0m1-23h0m0 2h0m0 1h0m0 2h0m0 17h0m1-22h0m0 12h0m1-14h0m0 5h0m0 13h0m1-24h0m0 3h0m1-10h0m0 2h0m1 5h0m1-7h0m0 2h0m0 15h0m1-21h0m0 4h0m0 2h0m0 10h0m0 4h0m1-22h0m0 3h0m0 3h0m0 6h0m0 3h0m0 1h0m0 1h0m1-19h0m0 8h0m2-7h0m0 2h0m0 5h0m0 24h0m1-26h0m0 8h0m0 65h0m15 1h0" stroke="#e3282c" stroke-width="4"/><path d="M585 1357h0m1-21h0m6 21h0m2-2h0m36-29h0" stroke="#4daf4a"/><path d="M561 1348h0m1 0h0m4-3h0m0 5h0m0 3h0m1-14h0m1 12h0m1-6h0m6-5h0m1-1h0m0 16h0m1-17h0m1 14h0m0 1h0m2-7h0m2 2h0m0 9h0m2-6h0m1-3h0m1-1h0m2 8h0m0 1h0m2 1h0m1 1h0m1-1h0m3 1h0m0 1h0m1-1h0m0 1h0m2-1h0m1 0h0m1-1h0m0 1h0m1 0h0m1-1h0m1-1h0m1 0h0m0 1h0m1 1h0m1-3h0m0 2h0m1-1h0m1-4h0m1 1h0m0 2h0m2-5h0m0 5h0m1-1h0m0 1h0m1-9h0m0 5h0m2-6h0m2 2h0m1-1h0m0 5h0m2-5h0m0 2h0m2-11h0m1 0h0m1-1h0m1 3h0m2-11h0m0 5h0m2-22h0m4-4h0m2 5h0m2-1h0m0 3h0m2-30h0m5-5h0m0 24h0m1-34h0m0 10h0m3-9h0m7 4h0" stroke="#377eb8"/><path d="M534 1351h0m26-3h0m0 3h0m1-4h0m0 3h0m1-7h0m0 3h0m0 2h0m0 4h0m0 1h0m1-6h0m1 4h0m0 5h0m1-11h0m0 6h0m0 2h0m0 3h0m1-15h0m1 2h0m0 8h0m1-23h0m0 15h0m0 6h0m0 7h0m1-15h0m0 9h0m0 3h0m1-9h0m1 0h0m1 2h0m0 6h0m1-12h0m0 14h0m0 2h0m1-19h0m0 11h0m0 6h0m1-2h0m0 2h0m1-12h0m0 2h0m0 3h0m0 7h0m1-3h0m0 1h0m1-14h0m0 7h0m0 6h0m0 6h0m1-22h0m0 3h0m0 1h0m0 8h0m0 2h0m0 2h0m0 1h0m0 4h0m1-7h0m0 2h0m0 2h0m0 3h0m1-21h0m0 21h0m1-42h0m0 34h0m0 5h0m1 2h0m1-2h0m0 1h0m1 3h0m2-24h0m0 11h0m0 2h0m0 7h0m0 1h0m0 1h0m1-40h0m0 27h0m0 2h0m0 2h0m0 2h0m0 2h0m1 1h0m0 4h0m1-2h0m0 4h0m0 1h0m1-4h0m0 2h0m0 1h0m0 1h0m0 1h0m1-9h0m0 2h0m0 5h0m0 1h0m1-5h0m0 3h0m0 1h0m0 1h0m1 0h0m1 0h0m0 1h0m1 0h0m10-6h0m0 4h0m17-20h0m6-1h0m6-13h0m2-21h0m16-9h0" stroke="#984ea3"/><path d="M581 1352h0m7 2h0m9 5h0m1 0h0m1-1h0m0 1h0m1-1h0m1 0h0m1 0h0m1 0h0m1 0h0m1-1h0m1-3h0m0 1h0m0 2h0m0 1h0m1-4h0m0 2h0m0 1h0m0 1h0m1-7h0m0 1h0m0 4h0m0 1h0m1-7h0m0 4h0m0 1h0m1-3h0m0 2h0m0 1h0m0 1h0m0 1h0m1-4h0m0 1h0m0 1h0m0 2h0m0 1h0m1-6h0m0 1h0m0 1h0m0 1h0m0 1h0m1-7h0m0 3h0m0 1h0m1-1h0m1-6h0m0 4h0m0 1h0m0 2h0m1-4h0m0 1h0m0 2h0m1-6h0m0 1h0m0 2h0m0 6h0m1-7h0m0 1h0m0 1h0m0 4h0m1-14h0m0 6h0m0 1h0m0 1h0m1-5h0m0 2h0m0 5h0m0 9h0m1-17h0m0 2h0m0 10h0m0 4h0m1-16h0m0 2h0m0 9h0m0 5h0m1-18h0m0 1h0m0 1h0m1-2h0m0 3h0m0 1h0m1-1h0m1-15h0m0 2h0m0 5h0m0 1h0m0 2h0m1-5h0m0 7h0m1-8h0m1-7h0m0 4h0m0 1h0m0 1h0m1-2h0m1 1h0m1-8h0m0 3h0m0 2h0m1-4h0m0 3h0m1-16h0m0 16h0m0 4h0m1-1h0m1-16h0m0 9h0m1-15h0m0 2h0m0 1h0m0 8h0m1-13h0m0 11h0m0 8h0m0 1h0m2-28h0m0 2h0m0 6h0m0 4h0m1-29h0m0 19h0m0 1h0m1-3h0m0 1h0m0 2h0m0 7h0m0 7h0m0 1h0m0 1h0m0 5h0m1-31h0m0 7h0m0 1h0m0 6h0m0 9h0m2-28h0m0 3h0m0 6h0m0 1h0m0 10h0m1-21h0m0 1h0m0 2h0m0 2h0m0 2h0m0 12h0m0 10h0m1-35h0m0 10h0m1-3h0m0 18h0m1-31h0m0 14h0m0 17h0m1-24h0m0 14h0m0 12h0m1-26h0m0 18h0m1-1h0m0 53h0m1-52h0m1-28h0m1 3h0m0 13h0m0 2h0m2-34h0m3 0h0m3-12h0" stroke="#e3282c" stroke-width="4"/><path d="M575 1350h0m7 3h0m2 4h0m9-5h0m3 7h0" stroke="#4daf4a"/><path d="M556 1354h0m6-5h0m1 5h0m3-1h0m1 1h0m0 1h0m4 2h0m3-5h0m2-4h0m0 3h0m2-3h0m0 1h0m5 5h0m1 2h0m2-3h0m0 4h0m2-11h0m2-7h0m0 7h0m0 6h0m2-1h0m0 6h0m0 1h0m2-1h0m0 1h0m0 1h0m4 0h0m1-1h0m1 0h0m1 0h0m3-2h0m1-1h0m1 2h0m2-1h0m1-4h0m0 2h0m1-1h0m0 1h0m1-2h0m0 2h0m1-2h0m0 3h0m1-3h0m0 1h0m1-2h0m3-5h0m1-4h0m0 4h0m1-8h0m1 3h0m0 5h0m1-7h0m1 6h0m2-3h0m2-16h0m1 1h0m0 6h0m0 5h0m1-20h0m1 14h0m2 0h0m1-21h0m1-12h0m2 10h0m0 2h0m1 7h0m0 14h0m1-13h0m0 1h0m1-24h0m0 8h0m2 12h0m1-44h0m0 25h0m3 16h0m1-20h0m3-8h0m0 3h0m2-4h0m3-13h0m0 2h0" stroke="#377eb8"/><path d="M560 1352h0m1-2h0m0 3h0m2-9h0m0 9h0m1-4h0m0 5h0m1-11h0m0 9h0m0 4h0m1-27h0m0 27h0m1-6h0m0 2h0m1-7h0m0 5h0m1-7h0m0 3h0m0 1h0m0 7h0m0 1h0m1-12h0m0 2h0m0 1h0m0 3h0m0 2h0m0 4h0m1-44h0m0 35h0m0 1h0m0 1h0m0 7h0m2-56h0m0 47h0m0 5h0m0 1h0m0 3h0m1-11h0m0 1h0m0 7h0m1 1h0m1-5h0m1-3h0m0 3h0m0 5h0m0 5h0m1-23h0m0 11h0m0 3h0m0 4h0m0 4h0m1-6h0m0 1h0m1-5h0m0 3h0m1-8h0m0 6h0m0 1h0m1 3h0m0 4h0m1-17h0m0 10h0m0 1h0m0 3h0m1-17h0m0 17h0m0 4h0m1-20h0m0 5h0m0 1h0m0 7h0m0 1h0m0 3h0m0 1h0m0 1h0m0 1h0m0 1h0m1-18h0m0 3h0m0 2h0m0 9h0m0 1h0m0 3h0m1-18h0m0 3h0m0 12h0m0 1h0m0 2h0m1-11h0m0 7h0m0 2h0m0 2h0m1-3h0m0 4h0m1-14h0m0 1h0m0 1h0m0 8h0m1-6h0m0 3h0m0 2h0m0 2h0m0 2h0m2-1h0m0 1h0m1 0h0m1-2h0m0 2h0m1 0h0m2 1h0m1 0h0m18-15h0m5-9h0m8-12h0m17-52h0m8 7h0" stroke="#984ea3"/><path d="M575 1357h0m20 1h0m2 0h0m0 1h0m1-1h0m0 1h0m1-1h0m0 1h0m1-1h0m1 0h0m1-2h0m0 1h0m0 1h0m1-2h0m0 2h0m1-3h0m0 2h0m0 1h0m1-1h0m0 1h0m1-4h0m0 2h0m0 1h0m1-3h0m0 3h0m1-3h0m0 1h0m0 1h0m0 1h0m0 1h0m1-7h0m0 3h0m0 1h0m0 2h0m0 2h0m1-7h0m0 3h0m0 3h0m1-3h0m1-2h0m0 2h0m0 2h0m1-11h0m0 6h0m1-1h0m0 1h0m0 1h0m1-4h0m0 2h0m0 2h0m0 1h0m1-9h0m0 5h0m0 1h0m0 1h0m1-2h0m0 5h0m1-9h0m0 2h0m0 1h0m0 1h0m0 1h0m1-14h0m0 13h0m1-10h0m0 1h0m0 5h0m0 3h0m0 7h0m1-20h0m0 10h0m0 1h0m0 5h0m1-16h0m0 4h0m0 4h0m1-6h0m0 1h0m0 1h0m1-13h0m0 6h0m0 1h0m0 8h0m1 0h0m1-9h0m0 5h0m0 2h0m1-8h0m0 1h0m0 1h0m0 2h0m1-7h0m0 1h0m0 13h0m1-13h0m0 3h0m0 5h0m1-17h0m0 3h0m0 1h0m0 12h0m1-8h0m0 1h0m1-4h0m0 5h0m1-9h0m0 6h0m1-13h0m0 3h0m0 7h0m0 1h0m0 7h0m1-18h0m0 6h0m0 4h0m1-9h0m0 11h0m1-22h0m0 12h0m0 1h0m0 5h0m1-26h0m0 20h0m1 13h0m1-38h0m0 14h0m0 17h0m1-37h0m0 14h0m0 4h0m0 13h0m1-14h0m0 2h0m0 5h0m1-7h0m0 4h0m0 4h0m0 2h0m0 3h0m1-25h0m0 4h0m0 6h0m0 8h0m0 10h0m1-44h0m0 11h0m0 5h0m1-7h0m0 20h0m1-35h0m0 6h0m0 1h0m0 7h0m0 8h0m0 4h0m0 15h0m1-38h0m0 3h0m0 22h0m1-5h0m1-4h0m2 6h0m0 17h0m1-36h0m0 5h0m0 5h0m0 10h0m1-20h0m0 17h0m1-16h0m0 4h0m0 15h0m12-39h0" stroke="#e3282c" stroke-width="4"/><path d="M569 1348h0m7-4h0m5 12h0m32 1h0" stroke="#4daf4a"/><path d="M562 1354h0m2-7h0m1-5h0m0 13h0m1-11h0m1 10h0m4-16h0m0 8h0m0 1h0m0 7h0m1-14h0m1 17h0m1-2h0m3-3h0m1-10h0m1 8h0m2-8h0m0 7h0m1 5h0m1-4h0m2-15h0m0 8h0m1 11h0m1-14h0m0 18h0m1-4h0m0 2h0m1-11h0m1 3h0m0 9h0m1 1h0m2 0h0m2-2h0m1 3h0m5-1h0m2-1h0m0 1h0m1-1h0m2-3h0m0 2h0m0 1h0m3-2h0m2-1h0m2-6h0m1-1h0m1-2h0m0 5h0m1 0h0m1-4h0m0 1h0m4-4h0m0 4h0m0 2h0m1-12h0m0 6h0m1 4h0m1-14h0m1-2h0m0 1h0m1 0h0m0 6h0m2-11h0m1-4h0m1 0h0m0 5h0m1-17h0m0 23h0m1-19h0m1 6h0m1-8h0m1-6h0m1-11h0m2 7h0m9-19h0m1-1h0m0 8h0" stroke="#377eb8"/><path d="M560 1353h0m1-6h0m0 2h0m0 2h0m0 1h0m0 2h0m1-6h0m0 2h0m1-5h0m0 2h0m1 4h0m0 3h0m2-13h0m0 4h0m0 1h0m0 4h0m0 5h0m1-8h0m0 2h0m0 1h0m1-41h0m0 19h0m1 16h0m1 12h0m1-12h0m0 12h0m1-40h0m0 22h0m0 1h0m0 4h0m0 1h0m0 3h0m0 7h0m0 1h0m0 1h0m1-16h0m0 11h0m1-2h0m0 1h0m1-9h0m0 6h0m1-6h0m1 3h0m0 3h0m0 4h0m0 1h0m0 1h0m0 1h0m1-13h0m0 9h0m0 1h0m0 1h0m0 2h0m0 1h0m1-14h0m0 1h0m0 3h0m0 3h0m1 2h0m0 1h0m1-22h0m0 24h0m0 4h0m1-13h0m0 8h0m0 4h0m0 2h0m1-14h0m0 6h0m0 1h0m1-8h0m0 10h0m0 2h0m0 2h0m1-4h0m0 2h0m1-10h0m0 1h0m0 6h0m0 2h0m0 1h0m0 2h0m0 1h0m1-10h0m0 1h0m0 2h0m1 3h0m0 2h0m0 2h0m1-8h0m0 4h0m0 1h0m0 2h0m0 1h0m1-2h0m0 1h0m0 1h0m1-5h0m0 2h0m0 2h0m0 1h0m1-4h0m0 3h0m0 1h0m1-1h0m0 1h0m1-4h0m0 4h0m1-1h0m0 1h0m1 0h0m0 1h0m1 0h0m2-1h0m6-1h0m28-29h0m2-10h0m5-15h0m7-15h0" stroke="#984ea3"/><path d="M564 1344h0m14 1h0m16 10h0m4 3h0m0 1h0m1-1h0m0 1h0m1-1h0m1 0h0m1-2h0m0 2h0m1-1h0m0 1h0m0 1h0m1-2h0m0 1h0m1-1h0m0 1h0m2-2h0m0 1h0m1-2h0m0 1h0m0 1h0m1-5h0m0 3h0m0 1h0m1-3h0m0 1h0m0 1h0m0 2h0m0 1h0m1-9h0m0 1h0m0 4h0m1-2h0m0 1h0m1-1h0m0 1h0m0 5h0m1-9h0m0 2h0m0 4h0m1-5h0m1-9h0m0 5h0m0 4h0m0 1h0m0 7h0m2-12h0m0 1h0m0 1h0m0 1h0m0 3h0m1-7h0m0 1h0m0 1h0m0 4h0m1-9h0m0 5h0m0 1h0m0 1h0m0 2h0m0 5h0m1-16h0m0 3h0m0 2h0m0 1h0m0 5h0m1-11h0m0 5h0m0 1h0m1-12h0m0 4h0m0 6h0m0 2h0m1-8h0m1-4h0m0 5h0m0 5h0m1-7h0m0 4h0m0 1h0m0 3h0m1-6h0m1-1h0m0 1h0m1-27h0m0 17h0m0 3h0m0 1h0m1-7h0m0 4h0m0 1h0m1-2h0m0 2h0m0 4h0m1-15h0m0 3h0m0 6h0m0 3h0m1-46h0m0 45h0m0 3h0m1-21h0m0 14h0m1-6h0m0 2h0m0 5h0m1-14h0m0 9h0m0 1h0m1-28h0m0 6h0m0 7h0m0 2h0m0 2h0m1 4h0m0 3h0m1-14h0m0 1h0m0 7h0m0 8h0m1-35h0m0 23h0m0 2h0m0 5h0m0 5h0m1-49h0m0 24h0m0 3h0m2-15h0m0 2h0m0 13h0m0 6h0m1-21h0m0 3h0m0 22h0m0 14h0m1 3h0m1-46h0m0 15h0m1-8h0m0 2h0m0 10h0m0 3h0m0 2h0m1-7h0m1-9h0m0 8h0m1-28h0m0 15h0m1-8h0m0 14h0m0 10h0m0 4h0m1-30h0m0 24h0m1-18h0m2 3h0m7-30h0m12-99h0" stroke="#e3282c" stroke-width="4"/></g>
<line x1="250.5" y1="572" x2="250.5" y2="684.9" stroke="#555555" stroke-width="1.1"/>
<line x1="249.9" y1="684.5" x2="346" y2="684.5" stroke="#777" stroke-width="1.3"/>
<line x1="261.5" y1="684.4" x2="261.5" y2="686.7" stroke="#555555" stroke-width="0.9"/>
<line x1="279.5" y1="684.4" x2="279.5" y2="686.7" stroke="#555555" stroke-width="0.9"/>
<line x1="298.5" y1="684.4" x2="298.5" y2="686.7" stroke="#555555" stroke-width="0.9"/>
<line x1="316.5" y1="684.4" x2="316.5" y2="686.7" stroke="#555555" stroke-width="0.9"/>
<line x1="335.5" y1="684.4" x2="335.5" y2="686.7" stroke="#555555" stroke-width="0.9"/>
<line x1="248.2" y1="679.5" x2="250.4" y2="679.5" stroke="#555555" stroke-width="0.9"/>
<line x1="248.2" y1="654.5" x2="250.4" y2="654.5" stroke="#555555" stroke-width="0.9"/>
<line x1="248.2" y1="629.5" x2="250.4" y2="629.5" stroke="#555555" stroke-width="0.9"/>
<line x1="248.2" y1="604.5" x2="250.4" y2="604.5" stroke="#555555" stroke-width="0.9"/>
<line x1="248.2" y1="579.5" x2="250.4" y2="579.5" stroke="#555555" stroke-width="0.9"/>
<text x="261.5" y="691.7" font-size="5.89" fill="#8c8c8c" text-anchor="middle" textLength="6.4" lengthAdjust="spacingAndGlyphs">−2</text>
<text x="279.9" y="691.7" font-size="5.89" fill="#8c8c8c" text-anchor="middle" textLength="6.4" lengthAdjust="spacingAndGlyphs">−1</text>
<text x="298.3" y="691.7" font-size="5.89" fill="#8c8c8c" text-anchor="middle" textLength="3.2" lengthAdjust="spacingAndGlyphs">0</text>
<text x="316.7" y="691.7" font-size="5.89" fill="#8c8c8c" text-anchor="middle" textLength="3.2" lengthAdjust="spacingAndGlyphs">1</text>
<text x="335.1" y="691.7" font-size="5.89" fill="#8c8c8c" text-anchor="middle" textLength="3.2" lengthAdjust="spacingAndGlyphs">2</text>
<text x="247.4" y="681.5" font-size="5.89" fill="#8c8c8c" text-anchor="end" textLength="3.2" lengthAdjust="spacingAndGlyphs">0</text>
<text x="247.4" y="656.5" font-size="5.89" fill="#8c8c8c" text-anchor="end" textLength="3.2" lengthAdjust="spacingAndGlyphs">1</text>
<text x="247.4" y="631.5" font-size="5.89" fill="#8c8c8c" text-anchor="end" textLength="3.2" lengthAdjust="spacingAndGlyphs">2</text>
<text x="247.4" y="606.5" font-size="5.89" fill="#8c8c8c" text-anchor="end" textLength="3.2" lengthAdjust="spacingAndGlyphs">3</text>
<text x="247.4" y="581.5" font-size="5.89" fill="#8c8c8c" text-anchor="end" textLength="3.2" lengthAdjust="spacingAndGlyphs">4</text>
<text x="310.5" y="705" font-size="6.8" fill="#3a3a3a" font-weight="bold" text-anchor="middle" textLength="116" lengthAdjust="spacingAndGlyphs">Per-CpG log<tspan font-size="4.5" dy="1.5">2</tspan><tspan dy="-1.5">(methylation fold change)</tspan></text>
<line x1="364.5" y1="572" x2="364.5" y2="684.4" stroke="#2a78c2" stroke-width="1.5"/>
<line x1="394.5" y1="572" x2="394.5" y2="684.4" stroke="#d2d7da" stroke-width="0.8"/>
<line x1="414.5" y1="572" x2="414.5" y2="684.4" stroke="#d2d7da" stroke-width="0.8"/>
<line x1="434.5" y1="572" x2="434.5" y2="684.4" stroke="#d2d7da" stroke-width="0.8"/>
<line x1="453.5" y1="572" x2="453.5" y2="684.4" stroke="#d2d7da" stroke-width="0.8"/>
<line x1="473.5" y1="572" x2="473.5" y2="684.4" stroke="#d2d7da" stroke-width="0.8"/>
<line x1="388" y1="679.5" x2="480" y2="679.5" stroke="#d2d7da" stroke-width="0.8"/>
<line x1="388" y1="640.5" x2="480" y2="640.5" stroke="#d2d7da" stroke-width="0.8"/>
<line x1="388" y1="601.5" x2="480" y2="601.5" stroke="#d2d7da" stroke-width="0.8"/>
<line x1="434.5" y1="572" x2="434.5" y2="684.4" stroke="#dc4149" stroke-width="1.0" stroke-dasharray="1 1"/>
<line x1="388" y1="601.5" x2="480" y2="601.5" stroke="#dc4149" stroke-width="1.0" stroke-dasharray="1 1"/>
<g transform="scale(.5)" stroke-linecap="round" stroke-width="5" opacity="0.85"><path d="M851 1294h0m1 23h0m8 21h0m5 19h0m2 0h0m16-12h0" stroke="#4daf4a"/><path d="M850 1286h0m1-29h0m2 33h0m1 0h0m0 8h0m2-2h0m0 25h0m1-2h0m0 5h0m1 4h0m1 7h0m0 10h0m1 2h0m1 2h0m1 8h0m2 1h0m1 0h0m2-1h0m2 0h0m2-1h0m0 1h0m0 1h0m1-2h0m3 2h0m3-3h0m1 1h0m3-20h0m0 13h0m3-12h0m2-14h0m1-3h0m0 16h0m1-17h0m4-4h0m2-12h0m1-123h0m1 63h0m0 40h0m2-55h0m1-27h0m8 53h0m4-58h0" stroke="#377eb8"/><path d="M795 1318h0m41-3h0m4 31h0m8-97h0m0 14h0m0 1h0m1-27h0m0 3h0m0 12h0m0 56h0m1-48h0m0 26h0m0 1h0m0 1h0m1-49h0m0 25h0m0 14h0m1-41h0m0 7h0m0 7h0m0 9h0m0 5h0m0 37h0m1-59h0m0 29h0m0 8h0m0 12h0m0 11h0m1-30h0m0 9h0m0 9h0m0 24h0m0 2h0m0 9h0m0 1h0m1-68h0m0 19h0m0 19h0m0 15h0m0 8h0m1-53h0m0 13h0m0 11h0m0 2h0m0 4h0m0 8h0m0 9h0m0 5h0m0 4h0m1-34h0m0 11h0m0 19h0m0 9h0m0 7h0m0 4h0m1-63h0m0 33h0m0 6h0m0 12h0m0 1h0m1 0h0m0 4h0m0 1h0m0 3h0m0 4h0m0 4h0m1-9h0m0 4h0m0 1h0m0 17h0m1-26h0m0 2h0m0 5h0m0 8h0m0 1h0m0 1h0m0 5h0m0 4h0m1-11h0m0 7h0m0 1h0m0 2h0m0 1h0m0 2h0m1-2h0m0 1h0m0 1h0m1-2h0m1-1h0m0 1h0m2 0h0m0 1h0m1-1h0m1 0h0m10-2h0m9-21h0m6-26h0m10-106h0m5 0h0" stroke="#984ea3"/><path d="M852 1249h0m7 93h0m9 14h0m0 2h0m1-2h0m0 1h0m0 1h0m1-2h0m1 0h0m0 1h0m0 1h0m1-1h0m0 1h0m1-2h0m0 1h0m0 1h0m1-1h0m0 1h0m1-2h0m0 1h0m0 1h0m1-1h0m0 1h0m0 1h0m1-2h0m0 1h0m1-4h0m0 1h0m0 1h0m0 1h0m0 1h0m1-10h0m0 3h0m0 1h0m0 1h0m0 1h0m0 1h0m0 3h0m1-11h0m0 1h0m0 1h0m0 1h0m0 3h0m1-8h0m0 3h0m0 1h0m1-7h0m0 1h0m0 5h0m0 2h0m1-11h0m0 3h0m1-10h0m0 2h0m0 1h0m0 2h0m0 5h0m0 3h0m1-18h0m0 5h0m0 2h0m1-5h0m0 1h0m0 6h0m1-33h0m0 15h0m0 2h0m0 3h0m0 4h0m0 14h0m1-29h0m0 8h0m0 2h0m0 1h0m0 4h0m0 9h0m1-29h0m0 7h0m0 3h0m0 13h0m1-67h0m0 36h0m0 7h0m0 6h0m0 4h0m0 1h0m0 1h0m0 3h0m0 4h0m1-27h0m0 12h0m0 2h0m0 1h0m1-26h0m0 13h0m0 3h0m0 1h0m0 4h0m0 2h0m1-25h0m0 8h0m0 7h0m0 7h0m0 2h0m0 2h0m0 1h0m1-20h0m0 31h0m1-67h0m0 17h0m0 15h0m0 31h0m1-95h0m0 28h0m0 6h0m0 15h0m0 6h0m0 34h0m1-88h0m0 4h0m0 4h0m0 26h0m0 25h0m0 18h0m1-82h0m0 26h0m0 3h0m0 8h0m0 26h0m0 1h0m1-7h0m0 3h0m0 15h0m1-96h0m0 19h0m0 11h0m0 21h0m0 21h0m0 5h0m0 21h0m1-96h0m0 47h0m0 2h0m0 2h0m0 7h0m0 1h0m0 1h0m0 6h0m1-77h0m0 21h0m0 23h0m0 2h0m0 16h0m0 1h0m0 2h0m1-41h0m0 3h0m0 3h0m0 46h0m0 88h0m1-171h0m0 18h0m0 29h0m0 27h0m0 6h0m0 10h0m1-34h0m0 1h0m0 3h0m0 1h0m0 17h0m1-66h0m0 33h0m0 10h0m0 6h0m1-57h0m0 25h0m0 19h0m0 22h0m1-67h0m0 9h0m0 5h0m0 13h0m0 11h0m0 13h0m1-54h0m0 21h0m0 1h0m0 54h0m1-81h0m0 5h0m0 32h0m1-28h0m0 25h0m1-2h0" stroke="#e3282c" stroke-width="4"/><path d="M852 1312h0m9 45h0m4 1h0" stroke="#4daf4a"/><path d="M850 1246h0m0 10h0m0 18h0m2-10h0m0 46h0m1-7h0m1-31h0m1 8h0m1-1h0m1 12h0m1 47h0m1 20h0m1-1h0m0 1h0m1-17h0m0 17h0m2-2h0m1 2h0m1-1h0m1 1h0m1-2h0m0 1h0m0 1h0m1 1h0m2-1h0m2-1h0m0 1h0m2 0h0m1-1h0m1 1h0m0 1h0m1-1h0m1-4h0m3-7h0m2-16h0m1 4h0m4-18h0m1-1h0m2-11h0m2-58h0m0 68h0m1-26h0m0 13h0m1-15h0m1-42h0m4 36h0m3-52h0m0 34h0m4-29h0m1-24h0m2 15h0" stroke="#377eb8"/><path d="M848 1244h0m0 32h0m1-35h0m0 13h0m0 7h0m0 37h0m1-47h0m0 19h0m0 8h0m0 7h0m1-29h0m0 5h0m0 4h0m1-21h0m0 2h0m0 7h0m0 26h0m0 4h0m0 1h0m0 15h0m0 4h0m0 8h0m1-72h0m0 32h0m0 24h0m0 3h0m0 15h0m1-52h0m0 31h0m0 17h0m0 11h0m1-60h0m0 47h0m0 1h0m0 34h0m1-46h0m0 3h0m0 2h0m0 13h0m0 20h0m1-38h0m0 21h0m0 7h0m0 1h0m0 7h0m0 4h0m1-27h0m0 11h0m0 11h0m1-8h0m0 9h0m0 4h0m0 1h0m0 8h0m1-20h0m0 13h0m0 5h0m0 3h0m0 10h0m0 1h0m0 1h0m1-10h0m0 1h0m0 1h0m0 7h0m0 1h0m1-6h0m0 1h0m0 1h0m0 1h0m0 2h0m0 1h0m1-3h0m0 1h0m0 1h0m0 1h0m0 1h0m1-2h0m0 1h0m1-1h0m1 0h0m0 1h0m1-1h0m0 1h0m1-1h0m0 1h0m10-2h0m6-26h0m15-73h0m1-10h0m6 30h0" stroke="#984ea3"/><path d="M861 1338h0m3 20h0m4 0h0m1-1h0m0 1h0m0 1h0m1-3h0m0 2h0m1-2h0m0 1h0m0 1h0m1-2h0m0 2h0m0 1h0m1-3h0m0 1h0m1 0h0m0 1h0m1-2h0m0 1h0m0 1h0m1 0h0m1-1h0m0 1h0m1-3h0m0 1h0m0 2h0m1-7h0m0 2h0m0 1h0m0 1h0m0 3h0m1-10h0m0 1h0m0 2h0m0 1h0m0 1h0m0 2h0m1-13h0m0 3h0m0 4h0m0 1h0m0 1h0m0 1h0m1-11h0m0 1h0m0 1h0m0 1h0m0 1h0m0 1h0m0 5h0m1-17h0m0 2h0m0 2h0m0 3h0m0 2h0m0 1h0m0 1h0m0 1h0m1-21h0m0 13h0m0 5h0m0 5h0m1-36h0m0 17h0m0 4h0m0 9h0m1-32h0m0 15h0m0 2h0m0 2h0m0 1h0m0 2h0m1-22h0m0 9h0m0 4h0m0 1h0m0 3h0m0 9h0m0 2h0m1-19h0m0 3h0m0 5h0m1-29h0m0 3h0m0 11h0m0 8h0m0 1h0m1-23h0m0 5h0m0 3h0m0 4h0m0 2h0m0 8h0m0 1h0m0 10h0m0 2h0m0 1h0m1-29h0m0 1h0m0 1h0m0 6h0m0 1h0m0 9h0m1-56h0m0 18h0m0 5h0m0 11h0m0 1h0m0 8h0m1-8h0m0 4h0m1-33h0m0 2h0m0 5h0m0 14h0m0 20h0m1-44h0m0 5h0m0 21h0m0 6h0m1-60h0m0 40h0m0 7h0m0 3h0m0 25h0m1-50h0m0 10h0m1-32h0m0 28h0m0 2h0m0 2h0m0 19h0m0 3h0m0 11h0m0 45h0m1-166h0m0 47h0m0 11h0m0 4h0m0 6h0m0 2h0m0 12h0m0 4h0m0 10h0m1-48h0m0 29h0m0 2h0m1-85h0m0 12h0m0 29h0m0 11h0m0 24h0m0 19h0m1-25h0m0 2h0m0 21h0m1-59h0m0 31h0m1-34h0m0 35h0m0 22h0m1-88h0m0 1h0m0 18h0m0 4h0m0 4h0m0 4h0m0 1h0m0 46h0m0 13h0m1-39h0m0 5h0m0 6h0m1-33h0m0 13h0m0 14h0m0 16h0m1-72h0m0 23h0m0 8h0m0 4h0m0 52h0m1-82h0m0 21h0m0 3h0m0 1h0m0 19h0m0 7h0m1-53h0m0 6h0m0 19h0m0 29h0m0 6h0m0 14h0m0 9h0m1-67h0m1-25h0m0 21h0m0 18h0m0 10h0m7 53h0m16 58h0" stroke="#e3282c" stroke-width="4"/><path d="M852 1278h0m1-7h0m8 77h0m33-68h0" stroke="#4daf4a"/><path d="M846 1288h0m3-6h0m2 3h0m0 31h0m3-42h0m0 12h0m3 30h0m0 17h0m0 2h0m1-23h0m1 11h0m1 13h0m1 7h0m1 5h0m0 10h0m1-1h0m1 0h0m8 0h0m1 0h0m2 0h0m1 1h0m2 0h0m1-5h0m0 2h0m5-22h0m1 4h0m7-25h0m2-7h0m0 5h0m2-17h0m2-16h0m1-15h0m0 27h0m1-67h0m0 79h0m1-77h0m1 43h0m1-23h0m0 56h0m2-83h0m0 63h0m2-71h0m0 17h0m4-26h0" stroke="#377eb8"/><path d="M849 1255h0m0 6h0m0 9h0m0 1h0m0 14h0m1-38h0m0 24h0m0 4h0m0 9h0m0 9h0m0 4h0m0 24h0m0 1h0m1-9h0m1-47h0m0 30h0m0 19h0m1-62h0m0 26h0m0 2h0m0 18h0m0 7h0m0 4h0m1-46h0m0 2h0m0 24h0m0 3h0m0 3h0m0 14h0m0 9h0m1-38h0m0 28h0m1-69h0m0 12h0m0 36h0m0 16h0m0 1h0m0 6h0m0 8h0m1-24h0m1-10h0m0 9h0m0 6h0m0 8h0m0 6h0m0 10h0m0 1h0m0 3h0m0 2h0m0 3h0m0 3h0m1-24h0m0 4h0m0 10h0m0 7h0m0 5h0m0 3h0m0 15h0m0 2h0m1-21h0m0 2h0m0 1h0m0 2h0m0 5h0m0 1h0m0 8h0m0 1h0m0 1h0m1-18h0m0 4h0m0 1h0m0 5h0m0 6h0m0 1h0m0 1h0m0 1h0m1-13h0m0 5h0m0 5h0m0 1h0m0 1h0m1-1h0m0 1h0m0 1h0m1-3h0m0 2h0m1-2h0m0 1h0m0 1h0m1-1h0m1 0h0m0 1h0m1-1h0m10 1h0m2-10h0m6-22h0m3-40h0m2-6h0m1 15h0m4-78h0m2 82h0m8-66h0" stroke="#984ea3"/><path d="M858 1322h0m8 35h0m0 1h0m2-1h0m0 1h0m1-2h0m0 1h0m0 1h0m1-1h0m0 1h0m1 0h0m1-1h0m0 1h0m1-1h0m1 1h0m1-1h0m0 1h0m1-1h0m0 1h0m0 1h0m1-2h0m0 1h0m1-3h0m0 1h0m0 1h0m0 1h0m1-7h0m0 3h0m0 1h0m0 2h0m1-13h0m0 3h0m0 3h0m0 2h0m0 1h0m1-16h0m0 3h0m0 8h0m0 2h0m0 1h0m0 2h0m1-10h0m0 2h0m0 2h0m1-26h0m0 11h0m0 10h0m0 3h0m0 1h0m1-11h0m0 4h0m0 3h0m1-24h0m0 5h0m0 5h0m0 2h0m0 1h0m0 8h0m0 10h0m1-35h0m0 12h0m0 1h0m0 3h0m0 11h0m0 3h0m1-26h0m0 2h0m0 3h0m0 1h0m0 5h0m0 1h0m1-14h0m0 3h0m0 1h0m0 2h0m0 4h0m0 4h0m0 8h0m1-51h0m0 22h0m0 2h0m0 12h0m1-18h0m0 2h0m0 3h0m0 7h0m0 4h0m1-50h0m0 13h0m0 3h0m0 1h0m0 20h0m1-28h0m0 18h0m0 2h0m0 1h0m0 12h0m0 9h0m1-98h0m0 39h0m0 22h0m0 8h0m0 17h0m0 3h0m0 1h0m0 8h0m1-47h0m0 4h0m0 1h0m0 11h0m1-26h0m0 13h0m0 18h0m0 1h0m0 14h0m1-122h0m0 91h0m0 4h0m1-41h0m0 19h0m0 8h0m0 49h0m1-87h0m0 13h0m0 21h0m0 7h0m1-85h0m0 34h0m0 18h0m0 19h0m0 7h0m0 19h0m1-70h0m0 7h0m0 14h0m0 1h0m0 1h0m0 15h0m0 7h0m0 6h0m0 5h0m0 1h0m0 13h0m0 3h0m0 3h0m0 5h0m0 4h0m1-101h0m0 10h0m0 46h0m0 14h0m0 90h0m1-151h0m0 5h0m0 2h0m0 20h0m1-23h0m0 10h0m0 40h0m1-58h0m0 12h0m0 6h0m0 1h0m0 24h0m1-45h0m0 25h0m0 39h0m1-60h0m0 7h0m0 48h0m1-65h0m0 11h0m0 35h0m0 14h0m0 31h0m1-96h0m0 3h0m0 10h0m0 14h0m0 16h0m1-49h0m0 1h0m0 29h0m0 12h0m0 47h0m1-76h0m0 4h0m0 13h0m0 35h0m1-65h0m0 3h0m0 14h0m0 28h0m1-51h0m0 13h0m0 23h0m0 1h0m0 28h0m5-85h0" stroke="#e3282c" stroke-width="4"/><path d="M849 1243h0m1 23h0m5 70h0m2-18h0m1 8h0m3 21h0m21-3h0" stroke="#4daf4a"/><path d="M848 1299h0m1-34h0m1 18h0m0 22h0m1-66h0m1 35h0m0 13h0m1 4h0m1 17h0m3 12h0m1 1h0m0 2h0m1 18h0m2 4h0m0 6h0m1-4h0m0 1h0m1 9h0m2 1h0m0 1h0m1-3h0m1 2h0m3 0h0m1 0h0m4-1h0m1 0h0m2-2h0m2-8h0m2-1h0m2-10h0m1-17h0m0 21h0m1-10h0m0 1h0m1-40h0m2 40h0m1-12h0m8-59h0m1-25h0m0 10h0m0 40h0m1 7h0m1-88h0m0 62h0m0 25h0m1-25h0m2-61h0m1 33h0m1 28h0m1-46h0m2-12h0m0 29h0" stroke="#377eb8"/><path d="M785 1299h0m63-25h0m1-37h0m0 42h0m1-38h0m0 32h0m1-17h0m0 20h0m0 9h0m0 20h0m1-47h0m0 9h0m0 17h0m0 4h0m0 20h0m1-67h0m0 26h0m0 1h0m0 2h0m0 11h0m0 12h0m0 1h0m1-16h0m0 7h0m0 1h0m0 1h0m0 13h0m0 1h0m0 13h0m0 19h0m1-87h0m0 48h0m0 5h0m0 6h0m0 3h0m0 2h0m0 12h0m0 3h0m1-66h0m0 24h0m0 13h0m0 15h0m0 13h0m1-14h0m0 6h0m0 2h0m1-9h0m0 5h0m0 3h0m0 5h0m0 3h0m0 2h0m1-1h0m0 2h0m0 1h0m0 8h0m1-12h0m0 16h0m0 7h0m0 9h0m0 1h0m1-12h0m0 1h0m0 3h0m0 1h0m0 6h0m0 1h0m1-6h0m0 4h0m0 1h0m0 1h0m1-2h0m0 1h0m0 1h0m1 0h0m1-1h0m0 1h0m1-1h0m0 1h0m0 1h0m1-2h0m1 1h0m0 1h0m1-1h0m9-1h0m1-4h0m4-6h0" stroke="#984ea3"/><path d="M849 1243h0m5 51h0m8 64h0m7-1h0m0 1h0m1-1h0m0 1h0m0 1h0m1-3h0m0 1h0m0 1h0m1-2h0m0 2h0m1-1h0m0 1h0m1 0h0m1-2h0m0 1h0m1 0h0m0 1h0m0 1h0m1-2h0m0 1h0m0 1h0m1-5h0m0 1h0m0 1h0m0 1h0m0 1h0m1-9h0m0 1h0m0 2h0m0 1h0m0 1h0m1-4h0m1-6h0m0 2h0m0 1h0m0 1h0m0 2h0m0 1h0m1-11h0m0 6h0m0 1h0m0 1h0m0 1h0m0 1h0m1-23h0m0 19h0m1-15h0m0 3h0m1-6h0m0 5h0m0 5h0m0 1h0m0 1h0m1-23h0m0 14h0m0 1h0m0 7h0m1-37h0m0 8h0m0 7h0m0 5h0m0 2h0m0 8h0m0 9h0m1-55h0m0 32h0m0 4h0m0 4h0m0 3h0m0 3h0m0 1h0m1-55h0m0 7h0m0 12h0m0 16h0m0 3h0m0 8h0m1-31h0m0 13h0m0 4h0m0 11h0m0 2h0m0 5h0m1-77h0m0 8h0m0 33h0m0 6h0m0 9h0m0 1h0m0 3h0m0 4h0m1-48h0m0 12h0m0 19h0m0 1h0m0 2h0m0 6h0m0 11h0m0 4h0m1-35h0m0 12h0m0 6h0m1-49h0m0 14h0m0 23h0m0 7h0m0 7h0m1-60h0m0 32h0m0 24h0m1-64h0m0 16h0m1 4h0m0 18h0m0 4h0m1-36h0m0 7h0m0 7h0m0 6h0m1-36h0m0 20h0m0 12h0m0 2h0m0 11h0m0 32h0m1-110h0m0 14h0m0 14h0m0 14h0m0 6h0m0 13h0m0 19h0m0 1h0m0 4h0m0 6h0m0 9h0m1-91h0m0 50h0m0 3h0m0 2h0m0 13h0m0 2h0m0 23h0m1-93h0m0 24h0m0 9h0m0 21h0m0 1h0m0 13h0m0 8h0m1-97h0m0 37h0m0 5h0m0 11h0m0 22h0m0 27h0m1-56h0m0 10h0m0 15h0m1-71h0m0 50h0m0 14h0m1-38h0m0 9h0m0 6h0m0 6h0m0 48h0m1-32h0m1-56h0m0 16h0m0 3h0m0 2h0m0 5h0m0 11h0m0 6h0m1-54h0m0 7h0m0 8h0m0 15h0m0 4h0m0 23h0m0 5h0m1-54h0m0 20h0m0 24h0m0 3h0m0 26h0m1-39h0m0 5h0m0 10h0m0 1h0m14-75h0m2 24h0m2 15h0" stroke="#e3282c" stroke-width="4"/></g>
<line x1="388.5" y1="572" x2="388.5" y2="684.9" stroke="#555555" stroke-width="1.1"/>
<line x1="387.5" y1="684.5" x2="480" y2="684.5" stroke="#777" stroke-width="1.3"/>
<line x1="394.5" y1="684.4" x2="394.5" y2="686.7" stroke="#555555" stroke-width="0.9"/>
<line x1="414.5" y1="684.4" x2="414.5" y2="686.7" stroke="#555555" stroke-width="0.9"/>
<line x1="434.5" y1="684.4" x2="434.5" y2="686.7" stroke="#555555" stroke-width="0.9"/>
<line x1="453.5" y1="684.4" x2="453.5" y2="686.7" stroke="#555555" stroke-width="0.9"/>
<line x1="473.5" y1="684.4" x2="473.5" y2="686.7" stroke="#555555" stroke-width="0.9"/>
<line x1="385.8" y1="679.5" x2="388" y2="679.5" stroke="#555555" stroke-width="0.9"/>
<line x1="385.8" y1="640.5" x2="388" y2="640.5" stroke="#555555" stroke-width="0.9"/>
<line x1="385.8" y1="601.5" x2="388" y2="601.5" stroke="#555555" stroke-width="0.9"/>
<text x="394.6" y="691.7" font-size="5.89" fill="#8c8c8c" text-anchor="middle" textLength="6.4" lengthAdjust="spacingAndGlyphs">−2</text>
<text x="414.3" y="691.7" font-size="5.89" fill="#8c8c8c" text-anchor="middle" textLength="6.4" lengthAdjust="spacingAndGlyphs">−1</text>
<text x="434" y="691.7" font-size="5.89" fill="#8c8c8c" text-anchor="middle" textLength="3.2" lengthAdjust="spacingAndGlyphs">0</text>
<text x="453.7" y="691.7" font-size="5.89" fill="#8c8c8c" text-anchor="middle" textLength="3.2" lengthAdjust="spacingAndGlyphs">1</text>
<text x="473.4" y="691.7" font-size="5.89" fill="#8c8c8c" text-anchor="middle" textLength="3.2" lengthAdjust="spacingAndGlyphs">2</text>
<text x="385.2" y="681.5" font-size="5.89" fill="#8c8c8c" text-anchor="end" textLength="3.2" lengthAdjust="spacingAndGlyphs">0</text>
<text x="385.2" y="642.5" font-size="5.89" fill="#8c8c8c" text-anchor="end" textLength="8" lengthAdjust="spacingAndGlyphs">0.5</text>
<text x="385.2" y="603.4" font-size="5.89" fill="#8c8c8c" text-anchor="end" textLength="3.2" lengthAdjust="spacingAndGlyphs">1</text>
<line x1="498.5" y1="572" x2="498.5" y2="684.4" stroke="#2a78c2" stroke-width="1.5"/>
<line x1="540.5" y1="571.7" x2="540.5" y2="684.8" stroke="#d2d7da" stroke-width="0.8"/>
<line x1="563.5" y1="571.7" x2="563.5" y2="684.8" stroke="#d2d7da" stroke-width="0.8"/>
<line x1="586.5" y1="571.7" x2="586.5" y2="684.8" stroke="#d2d7da" stroke-width="0.8"/>
<line x1="517.7" y1="679.5" x2="609.3" y2="679.5" stroke="#d2d7da" stroke-width="0.8"/>
<line x1="517.7" y1="651.5" x2="609.3" y2="651.5" stroke="#d2d7da" stroke-width="0.8"/>
<line x1="517.7" y1="622.5" x2="609.3" y2="622.5" stroke="#d2d7da" stroke-width="0.8"/>
<line x1="517.7" y1="594.5" x2="609.3" y2="594.5" stroke="#d2d7da" stroke-width="0.8"/>
<line x1="563.5" y1="572" x2="563.5" y2="684.8" stroke="#dc4149" stroke-width="1.0" stroke-dasharray="1 1"/>
<line x1="518" y1="594.5" x2="609.3" y2="594.5" stroke="#dc4149" stroke-width="1.0" stroke-dasharray="1 1"/>
<g transform="scale(.5)" stroke-linecap="round" stroke-width="5" opacity="0.85"><path d="M1108 1359h0m10 0h0m16 1h0m6-1h0m10 0h0m5 0h0" stroke="#377eb8"/><path d="M1045 1360h0m60-1h0m1 0h0m1 0h0m1 0h0m2 0h0m5-1h0m0 1h0m1 0h0m2 0h0m0 1h0m1 0h0m1-1h0m1 0h0m0 1h0m1-1h0m2 0h0m5 0h0m3 0h0m1 0h0m2 1h0m1-1h0m2 0h0m6 0h0m1 0h0m2 0h0m2 0h0m3 0h0m1 0h0" stroke="#984ea3"/><path d="M1104 1359h0m1 0h0m1 0h0m1 0h0m2 0h0m1 0h0m1 0h0m3 0h0m1 0h0m2 0h0m4-1h0m1 0h0m1 1h0m1 0h0m2 0h0m1 0h0m1 0h0m2 0h0m1 0h0m0 1h0m2-1h0m1 0h0m1 0h0m1-1h0m0 1h0m1 0h0m1 0h0m1 0h0m1 0h0m3 0h0m1-1h0m0 1h0m2 0h0m1 0h0m1-1h0m1 1h0m2 0h0m1-15h0m0 15h0m2 0h0m1-1h0m0 1h0" stroke="#e41a1c"/><path d="M1125 1359h0m6 1h0m10-1h0m2 0h0m9 1h0" stroke="#377eb8"/><path d="M1106 1359h0m1 0h0m1 0h0m1 0h0m2 0h0m3 0h0m1 0h0m0 1h0m1-1h0m1 0h0m4 0h0m1 0h0m1 0h0m3 0h0m1 0h0m3 0h0m5 0h0m1 1h0m1-1h0m1 0h0m1 0h0m1 0h0m2 0h0m1 0h0m1 0h0m4 0h0m2 0h0m1 0h0m1 0h0m1-1h0" stroke="#984ea3"/><path d="M1107 1359h0m1 0h0m1 0h0m4 0h0m1 0h0m1 0h0m2 0h0m1 0h0m1 0h0m3 0h0m0 1h0m3-1h0m1 0h0m1 0h0m1 0h0m1 0h0m1 0h0m1 0h0m1 0h0m1 0h0m1 0h0m3 0h0m3 0h0m0 1h0m1 0h0m1-1h0m2 0h0m1 0h0m1 0h0m1 0h0m2 0h0m1 0h0m1 1h0m1-1h0m1 0h0m1 0h0m1 0h0m1 0h0m1 0h0" stroke="#e41a1c"/><path d="M1112 1359h0m3 0h0m8 0h0m13 0h0m12-1h0m2 1h0m1 0h0" stroke="#377eb8"/><path d="M1106 1359h0m1-1h0m0 1h0m1-1h0m0 1h0m1 0h0m5 0h0m2 0h0m1 1h0m2 0h0m2-1h0m1 0h0m2 0h0m1 0h0m1 0h0m1-1h0m0 1h0m1 0h0m1 0h0m3 0h0m1 0h0m1 0h0m1 0h0m1 0h0m4 0h0m3 0h0m4 0h0m1-1h0m0 1h0m3 0h0m2-204h0m1 204h0m1 0h0m1 0h0m12 1h0" stroke="#984ea3"/><path d="M1105 1359h0m0 1h0m1-1h0m3 0h0m1 0h0m0 1h0m3-1h0m1 0h0m1 1h0m1-1h0m2 1h0m1-1h0m1 0h0m2-1h0m0 1h0m3 1h0m1-1h0m7-1h0m0 1h0m1 0h0m1 0h0m0 1h0m1-1h0m2-1h0m0 1h0m1 0h0m1 0h0m1 0h0m2 0h0m2 0h0m1 0h0m0 1h0m1-1h0m1 0h0m1 0h0m1 0h0m1 0h0m3 0h0m2 0h0" stroke="#e41a1c"/><path d="M1113 1359h0m1 0h0m10 0h0m5 0h0m8 0h0m11 0h0" stroke="#377eb8"/><path d="M1104 1359h0m1 0h0m1-1h0m3 1h0m3-1h0m2 2h0m1-2h0m1 1h0m3 0h0m2 0h0m3 0h0m2 0h0m1 0h0m0 1h0m5-1h0m2 0h0m1 0h0m4 0h0m2 0h0m1 0h0m1 0h0m3 0h0m1 0h0m2 0h0m1 1h0m3-2h0m2 1h0m1 0h0m1 0h0" stroke="#984ea3"/><path d="M1097 1360h0m7-1h0m2 0h0m1 0h0m5 0h0m1 0h0m1 0h0m2 1h0m1-1h0m1 0h0m1 0h0m1 0h0m1 0h0m1 0h0m1 0h0m2 0h0m1 0h0m0 1h0m1-1h0m6 0h0m1 0h0m1 0h0m1 0h0m2 0h0m3 0h0m1 0h0m1 0h0m1 0h0m1 0h0m3-1h0m1 1h0m1 0h0m1 0h0m1 0h0m1 0h0m2 0h0m1 0h0" stroke="#e41a1c"/></g>
<line x1="517.5" y1="571.7" x2="517.5" y2="685.3" stroke="#555555" stroke-width="1.1"/>
<line x1="517.2" y1="684.5" x2="609.3" y2="684.5" stroke="#777" stroke-width="1.3"/>
<line x1="540.5" y1="684.8" x2="540.5" y2="687.1" stroke="#555555" stroke-width="0.9"/>
<line x1="563.5" y1="684.8" x2="563.5" y2="687.1" stroke="#555555" stroke-width="0.9"/>
<line x1="586.5" y1="684.8" x2="586.5" y2="687.1" stroke="#555555" stroke-width="0.9"/>
<line x1="515.5" y1="679.5" x2="517.7" y2="679.5" stroke="#555555" stroke-width="0.9"/>
<line x1="515.5" y1="651.5" x2="517.7" y2="651.5" stroke="#555555" stroke-width="0.9"/>
<line x1="515.5" y1="622.5" x2="517.7" y2="622.5" stroke="#555555" stroke-width="0.9"/>
<line x1="515.5" y1="594.5" x2="517.7" y2="594.5" stroke="#555555" stroke-width="0.9"/>
<text x="540.7" y="691.7" font-size="5.89" fill="#8c8c8c" text-anchor="middle" textLength="6.4" lengthAdjust="spacingAndGlyphs">−2</text>
<text x="563.5" y="691.7" font-size="5.89" fill="#8c8c8c" text-anchor="middle" textLength="3.2" lengthAdjust="spacingAndGlyphs">0</text>
<text x="586.3" y="691.7" font-size="5.89" fill="#8c8c8c" text-anchor="middle" textLength="3.2" lengthAdjust="spacingAndGlyphs">2</text>
<text x="514.6" y="682" font-size="5.89" fill="#8c8c8c" text-anchor="end" textLength="3.2" lengthAdjust="spacingAndGlyphs">0</text>
<text x="514.6" y="653.5" font-size="5.89" fill="#8c8c8c" text-anchor="end" textLength="8" lengthAdjust="spacingAndGlyphs">0.1</text>
<text x="514.6" y="625.1" font-size="5.89" fill="#8c8c8c" text-anchor="end" textLength="8" lengthAdjust="spacingAndGlyphs">0.2</text>
<text x="514.6" y="596.6" font-size="5.89" fill="#8c8c8c" text-anchor="end" textLength="8" lengthAdjust="spacingAndGlyphs">0.3</text>
<text x="624.5" y="610.9" font-size="6.44" fill="#2b78c1" font-weight="bold" textLength="52" lengthAdjust="spacingAndGlyphs">CpG−overlapping</text>
<text x="624.5" y="618.7" font-size="6.44" fill="#2b78c1" font-weight="bold" textLength="22.1" lengthAdjust="spacingAndGlyphs">feature</text>
<path d="M624.9 626.6h4.2M627 624.5v4.2" stroke="#e41a1c" stroke-width="0.9"/>
<text x="634.5" y="629" font-size="6.07" fill="#505050" textLength="16.5" lengthAdjust="spacingAndGlyphs">Island</text>
<rect x="625.5" y="632.3" width="3" height="3" fill="#377eb8"/>
<text x="634.5" y="636.2" font-size="6.07" fill="#505050" textLength="16.2" lengthAdjust="spacingAndGlyphs">Shore</text>
<path d="M625.5 639.5l3 3M625.5 642.5l3 -3" stroke="#4daf4a" stroke-width="0.8"/>
<text x="634.5" y="643.4" font-size="6.07" fill="#505050" textLength="14" lengthAdjust="spacingAndGlyphs">Shelf</text>
<circle cx="627" cy="648.2" r="1.4" fill="#984ea3"/>
<text x="634.5" y="650.6" font-size="6.07" fill="#505050" textLength="25.7" lengthAdjust="spacingAndGlyphs">Inter−CGI</text>
<line x1="59" y1="734.5" x2="137.9" y2="734.5" stroke="#e0e4e6" stroke-width="0.8"/>
<line x1="141.3" y1="734.5" x2="221.6" y2="734.5" stroke="#e0e4e6" stroke-width="0.8"/>
<line x1="59" y1="759.5" x2="137.9" y2="759.5" stroke="#e0e4e6" stroke-width="0.8"/>
<line x1="141.3" y1="759.5" x2="221.6" y2="759.5" stroke="#e0e4e6" stroke-width="0.8"/>
<line x1="59" y1="785.5" x2="137.9" y2="785.5" stroke="#e0e4e6" stroke-width="0.8"/>
<line x1="141.3" y1="785.5" x2="221.6" y2="785.5" stroke="#e0e4e6" stroke-width="0.8"/>
<line x1="59" y1="810.5" x2="137.9" y2="810.5" stroke="#e0e4e6" stroke-width="0.8"/>
<line x1="141.3" y1="810.5" x2="221.6" y2="810.5" stroke="#e0e4e6" stroke-width="0.8"/>
<line x1="93" y1="734.5" x2="107" y2="734.5" stroke="#8a8585" stroke-width="0.8" opacity="0.4"/>
<path d="M95.2 734.7 95.7 734.6 96.2 734.5 96.6 734.4 97.1 734.1 97.6 733.8 98.1 733.3 98.6 732.8 99 732.4 99.5 732 100 731.9 100.5 732 101.1 732.4 101.6 732.8 102.2 733.3 102.7 733.8 103.2 734.1 103.8 734.4 104.3 734.5 104.9 734.6 105.4 734.7 105.4 734.7 104.9 734.8 104.3 734.9 103.8 735 103.2 735.3 102.7 735.6 102.2 736.1 101.6 736.6 101.1 737 100.5 737.4 100 737.5 99.5 737.4 99 737 98.6 736.6 98.1 736.1 97.6 735.6 97.1 735.3 96.6 735 96.2 734.9 95.7 734.8 95.2 734.7Z" fill="#3d3a3a" opacity="0.9"/>
<line x1="101.5" y1="731.9" x2="101.5" y2="737.5" stroke="#f0852d" stroke-width="1.1"/>
<line x1="99.5" y1="731.9" x2="99.5" y2="737.5" stroke="#1a1a1a" stroke-width="1.1"/>
<line x1="134.5" y1="731.9" x2="134.5" y2="737.5" stroke="#4a86c8" stroke-width="1.1"/>
<line x1="66" y1="759.5" x2="80" y2="759.5" stroke="#8a8585" stroke-width="0.8" opacity="0.4"/>
<path d="M68.8 759.9 69.2 759.9 69.6 759.8 70.1 759.6 70.5 759.4 70.9 759 71.3 758.6 71.7 758.1 72.2 757.6 72.6 757.3 73 757.1 73.5 757.3 74 757.6 74.4 758.1 74.9 758.6 75.4 759 75.9 759.4 76.4 759.6 76.8 759.8 77.3 759.9 77.8 759.9 77.8 760 77.3 760 76.8 760.1 76.4 760.2 75.9 760.5 75.4 760.8 74.9 761.3 74.4 761.8 74 762.3 73.5 762.6 73 762.7 72.6 762.6 72.2 762.3 71.7 761.8 71.3 761.3 70.9 760.8 70.5 760.5 70.1 760.2 69.6 760.1 69.2 760 68.8 760Z" fill="#3d3a3a" opacity="0.9"/>
<line x1="72.5" y1="757.1" x2="72.5" y2="762.7" stroke="#f0852d" stroke-width="1.1"/>
<line x1="73.5" y1="757.1" x2="73.5" y2="762.7" stroke="#1a1a1a" stroke-width="1.1"/>
<line x1="67.5" y1="757.1" x2="67.5" y2="762.7" stroke="#4a86c8" stroke-width="1.1"/>
<line x1="57.4" y1="785.5" x2="71.4" y2="785.5" stroke="#8a8585" stroke-width="0.8" opacity="0.4"/>
<path d="M62.3 785.1 62.5 784.9 62.7 784.7 62.9 784.2 63.1 783.5 63.4 782.4 63.6 781 63.8 779.5 64 778.1 64.2 777 64.4 776.7 64.6 777 64.9 778.1 65.1 779.5 65.4 781 65.6 782.4 65.8 783.5 66.1 784.2 66.3 784.7 66.6 784.9 66.8 785.1 66.8 785.3 66.6 785.4 66.3 785.6 66.1 786.1 65.8 786.8 65.6 787.9 65.4 789.3 65.1 790.8 64.9 792.3 64.6 793.3 64.4 793.7 64.2 793.3 64 792.3 63.8 790.8 63.6 789.3 63.4 787.9 63.1 786.8 62.9 786.1 62.7 785.6 62.5 785.4 62.3 785.3Z" fill="#3d3a3a" opacity="0.9"/>
<line x1="64.5" y1="782.4" x2="64.5" y2="788" stroke="#f0852d" stroke-width="1.1"/>
<line x1="64.5" y1="782.4" x2="64.5" y2="788" stroke="#1a1a1a" stroke-width="1.1"/>
<line x1="61.5" y1="782.4" x2="61.5" y2="788" stroke="#4a86c8" stroke-width="1.1"/>
<line x1="84.5" y1="810.5" x2="98.5" y2="810.5" stroke="#8a8585" stroke-width="0.8" opacity="0.4"/>
<path d="M86.7 810.4 87.2 810.3 87.7 810.2 88.1 810.1 88.6 809.8 89.1 809.5 89.6 809 90.1 808.5 90.5 808.1 91 807.7 91.5 807.6 92 807.7 92.6 808.1 93.1 808.5 93.7 809 94.2 809.5 94.7 809.8 95.3 810.1 95.8 810.2 96.4 810.3 96.9 810.4 96.9 810.4 96.4 810.5 95.8 810.5 95.3 810.7 94.7 810.9 94.2 811.3 93.7 811.8 93.1 812.3 92.6 812.7 92 813.1 91.5 813.2 91 813.1 90.5 812.7 90.1 812.3 89.6 811.8 89.1 811.3 88.6 810.9 88.1 810.7 87.7 810.5 87.2 810.5 86.7 810.4Z" fill="#3d3a3a" opacity="0.9"/>
<line x1="90.5" y1="807.6" x2="90.5" y2="813.2" stroke="#f0852d" stroke-width="1.1"/>
<line x1="91.5" y1="807.6" x2="91.5" y2="813.2" stroke="#1a1a1a" stroke-width="1.1"/>
<line x1="65.5" y1="807.6" x2="65.5" y2="813.2" stroke="#4a86c8" stroke-width="1.1"/>
<line x1="176.6" y1="734.5" x2="207.6" y2="734.5" stroke="#8a8585" stroke-width="0.8" opacity="0.4"/>
<path d="M182.6 734.7 183.5 734.6 184.4 734.5 185.3 734.3 186.2 734 187.1 733.5 188 732.9 188.9 732.3 189.8 731.7 190.7 731.3 191.6 731.1 192.5 731.3 193.4 731.7 194.3 732.3 195.2 732.9 196.1 733.5 197 734 197.9 734.3 198.8 734.5 199.7 734.6 200.6 734.7 200.6 734.7 199.7 734.8 198.8 734.9 197.9 735.1 197 735.4 196.1 735.9 195.2 736.5 194.3 737.1 193.4 737.7 192.5 738.1 191.6 738.3 190.7 738.1 189.8 737.7 188.9 737.1 188 736.5 187.1 735.9 186.2 735.4 185.3 735.1 184.4 734.9 183.5 734.8 182.6 734.7Z" fill="#6d6666" opacity="0.85"/>
<line x1="186.5" y1="731.9" x2="186.5" y2="737.5" stroke="#f0852d" stroke-width="1.1"/>
<line x1="191.5" y1="731.9" x2="191.5" y2="737.5" stroke="#1a1a1a" stroke-width="1.1"/>
<line x1="146.5" y1="731.9" x2="146.5" y2="737.5" stroke="#4a86c8" stroke-width="1.1"/>
<line x1="145.8" y1="759.5" x2="172.8" y2="759.5" stroke="#8a8585" stroke-width="0.8" opacity="0.4"/>
<path d="M151.3 759.9 152.1 759.8 152.8 759.7 153.6 759.5 154.3 759.2 155.1 758.8 155.8 758.2 156.6 757.5 157.3 756.9 158.1 756.5 158.8 756.3 159.6 756.5 160.3 756.9 161.1 757.5 161.8 758.2 162.6 758.8 163.3 759.2 164.1 759.5 164.8 759.7 165.6 759.8 166.3 759.9 166.3 760 165.6 760 164.8 760.1 164.1 760.3 163.3 760.6 162.6 761.1 161.8 761.7 161.1 762.3 160.3 762.9 159.6 763.4 158.8 763.5 158.1 763.4 157.3 762.9 156.6 762.3 155.8 761.7 155.1 761.1 154.3 760.6 153.6 760.3 152.8 760.1 152.1 760 151.3 760Z" fill="#6d6666" opacity="0.85"/>
<line x1="162.5" y1="757.1" x2="162.5" y2="762.7" stroke="#f0852d" stroke-width="1.1"/>
<line x1="158.5" y1="757.1" x2="158.5" y2="762.7" stroke="#1a1a1a" stroke-width="1.1"/>
<line x1="164.5" y1="757.1" x2="164.5" y2="762.7" stroke="#4a86c8" stroke-width="1.1"/>
<line x1="141.5" y1="785.5" x2="156.5" y2="785.5" stroke="#8a8585" stroke-width="0.8" opacity="0.4"/>
<path d="M145.5 785.1 145.8 784.9 146.1 784.7 146.4 784.2 146.7 783.5 147 782.4 147.3 781 147.6 779.5 147.9 778.1 148.2 777 148.5 776.7 148.8 777 149.1 778.1 149.4 779.5 149.7 781 150 782.4 150.3 783.5 150.6 784.2 150.9 784.7 151.2 784.9 151.5 785.1 151.5 785.3 151.2 785.4 150.9 785.6 150.6 786.1 150.3 786.8 150 787.9 149.7 789.3 149.4 790.8 149.1 792.3 148.8 793.3 148.5 793.7 148.2 793.3 147.9 792.3 147.6 790.8 147.3 789.3 147 787.9 146.7 786.8 146.4 786.1 146.1 785.6 145.8 785.4 145.5 785.3Z" fill="#6d6666" opacity="0.85"/>
<line x1="148.5" y1="782.4" x2="148.5" y2="788" stroke="#1a1a1a" stroke-width="1.1"/>
<line x1="149.5" y1="782.4" x2="149.5" y2="788" stroke="#4a86c8" stroke-width="1.1"/>
<line x1="165.6" y1="810.5" x2="196.6" y2="810.5" stroke="#8a8585" stroke-width="0.8" opacity="0.4"/>
<path d="M171.6 810.4 172.5 810.3 173.4 810.2 174.3 810 175.2 809.7 176.1 809.2 177 808.6 177.9 808 178.8 807.4 179.7 806.9 180.6 806.8 181.5 806.9 182.4 807.4 183.3 808 184.2 808.6 185.1 809.2 186 809.7 186.9 810 187.8 810.2 188.7 810.3 189.6 810.4 189.6 810.4 188.7 810.5 187.8 810.6 186.9 810.8 186 811.1 185.1 811.6 184.2 812.1 183.3 812.8 182.4 813.4 181.5 813.8 180.6 814 179.7 813.8 178.8 813.4 177.9 812.8 177 812.1 176.1 811.6 175.2 811.1 174.3 810.8 173.4 810.6 172.5 810.5 171.6 810.4Z" fill="#6d6666" opacity="0.85"/>
<line x1="185.5" y1="807.6" x2="185.5" y2="813.2" stroke="#f0852d" stroke-width="1.1"/>
<line x1="180.5" y1="807.6" x2="180.5" y2="813.2" stroke="#1a1a1a" stroke-width="1.1"/>
<line x1="217.5" y1="807.6" x2="217.5" y2="813.2" stroke="#4a86c8" stroke-width="1.1"/>
<line x1="58.5" y1="719.5" x2="58.5" y2="825.7" stroke="#555555" stroke-width="1.1"/>
<line x1="58.4" y1="825.5" x2="137.9" y2="825.5" stroke="#777" stroke-width="1.3"/>
<line x1="61.5" y1="825.2" x2="61.5" y2="827.4" stroke="#555555" stroke-width="0.9"/>
<text x="61.3" y="832.9" font-size="5.7" fill="#8c8c8c" text-anchor="middle" textLength="3.1" lengthAdjust="spacingAndGlyphs">0</text>
<line x1="89.5" y1="825.2" x2="89.5" y2="827.4" stroke="#555555" stroke-width="0.9"/>
<text x="89.2" y="832.9" font-size="5.7" fill="#8c8c8c" text-anchor="middle" textLength="9.2" lengthAdjust="spacingAndGlyphs">500</text>
<line x1="117.5" y1="825.2" x2="117.5" y2="827.4" stroke="#555555" stroke-width="0.9"/>
<text x="117.1" y="832.9" font-size="5.7" fill="#8c8c8c" text-anchor="middle" textLength="12.3" lengthAdjust="spacingAndGlyphs">1000</text>
<line x1="141.3" y1="825.5" x2="221.6" y2="825.5" stroke="#777" stroke-width="1.3"/>
<line x1="144.5" y1="825.2" x2="144.5" y2="827.4" stroke="#555555" stroke-width="0.9"/>
<text x="144.7" y="832.9" font-size="5.7" fill="#8c8c8c" text-anchor="middle" textLength="3.1" lengthAdjust="spacingAndGlyphs">0</text>
<line x1="161.5" y1="825.2" x2="161.5" y2="827.4" stroke="#555555" stroke-width="0.9"/>
<text x="161.4" y="832.9" font-size="5.7" fill="#8c8c8c" text-anchor="middle" textLength="6.2" lengthAdjust="spacingAndGlyphs">50</text>
<line x1="178.5" y1="825.2" x2="178.5" y2="827.4" stroke="#555555" stroke-width="0.9"/>
<text x="178.1" y="832.9" font-size="5.7" fill="#8c8c8c" text-anchor="middle" textLength="9.2" lengthAdjust="spacingAndGlyphs">100</text>
<line x1="194.5" y1="825.2" x2="194.5" y2="827.4" stroke="#555555" stroke-width="0.9"/>
<text x="194.8" y="832.9" font-size="5.7" fill="#8c8c8c" text-anchor="middle" textLength="9.2" lengthAdjust="spacingAndGlyphs">150</text>
<line x1="211.5" y1="825.2" x2="211.5" y2="827.4" stroke="#555555" stroke-width="0.9"/>
<text x="211.5" y="832.9" font-size="5.7" fill="#8c8c8c" text-anchor="middle" textLength="9.2" lengthAdjust="spacingAndGlyphs">200</text>
<text x="55" y="737" font-size="6.16" fill="#6a6a6a" text-anchor="end" textLength="19.6" lengthAdjust="spacingAndGlyphs">Islands</text>
<text x="55" y="762.2" font-size="6.16" fill="#6a6a6a" text-anchor="end" textLength="19.2" lengthAdjust="spacingAndGlyphs">Shores</text>
<text x="55" y="787.4" font-size="6.16" fill="#6a6a6a" text-anchor="end" textLength="21.5" lengthAdjust="spacingAndGlyphs">Shelves</text>
<text x="55" y="812.7" font-size="6.16" fill="#6a6a6a" text-anchor="end" textLength="26.1" lengthAdjust="spacingAndGlyphs">Inter−CGI</text>
<text x="55" y="713.8" font-size="6.44" fill="#333333" font-weight="bold" text-anchor="end" textLength="10.6" lengthAdjust="spacingAndGlyphs">CGI</text>
<text x="55" y="721.9" font-size="6.44" fill="#333333" font-weight="bold" text-anchor="end" textLength="28.5" lengthAdjust="spacingAndGlyphs">features</text>
<text x="98.1" y="719.1" font-size="6.35" fill="#2b78c1" font-weight="bold" text-anchor="middle" textLength="42.3" lengthAdjust="spacingAndGlyphs">Hyper-mCpGs</text>
<text x="181.6" y="719.1" font-size="6.35" fill="#2b78c1" font-weight="bold" text-anchor="middle" textLength="39.9" lengthAdjust="spacingAndGlyphs">Hypo-mCpGs</text>
<line x1="231.5" y1="719.5" x2="231.5" y2="825.2" stroke="#2a78c2" stroke-width="1.5"/>
<line x1="251.1" y1="734.5" x2="340.6" y2="734.5" stroke="#e0e4e6" stroke-width="0.8"/>
<line x1="251.1" y1="759.5" x2="340.6" y2="759.5" stroke="#e0e4e6" stroke-width="0.8"/>
<line x1="251.1" y1="785.5" x2="340.6" y2="785.5" stroke="#e0e4e6" stroke-width="0.8"/>
<line x1="251.1" y1="810.5" x2="340.6" y2="810.5" stroke="#e0e4e6" stroke-width="0.8"/>
<line x1="265.5" y1="734.5" x2="319.2" y2="734.5" stroke="#8a8585" stroke-width="0.8" opacity="0.3"/>
<path d="M263.6 734.6 266.5 734.5 269.3 734.5 272.2 734.4 275 734.2 277.8 733.9 280.7 733.5 283.5 733.1 286.3 732.7 289.2 732.4 292 732.4 294.8 732.4 297.7 732.7 300.5 733.1 303.3 733.5 306.2 733.9 309 734.2 311.8 734.4 314.7 734.5 317.5 734.5 320.4 734.6 320.4 734.6 317.5 734.7 314.7 734.7 311.8 734.8 309 735 306.2 735.3 303.3 735.7 300.5 736.1 297.7 736.5 294.8 736.8 292 736.9 289.2 736.8 286.3 736.5 283.5 736.1 280.7 735.7 277.8 735.3 275 735 272.2 734.8 269.3 734.7 266.5 734.7 263.6 734.6Z" fill="#8f8989" opacity="0.45"/>
<path d="M272.5 734.2V735M274.9 734V735.2M277.2 733.9V735.3M279.5 733.3V735.9M281.9 733.4V735.8M284.2 732.3V736.9M286.6 731.8V737.4M288.9 731.8V737.4M291.2 732.2V737M293.6 731.7V737.5M295.9 731.3V737.9M298.3 732.3V736.9M300.6 732.3V736.9M302.9 733.4V735.8M305.3 733.7V735.5M307.6 734.1V735.1M310 734.1V735.1M312.3 734.3V734.9" stroke="#4a4545" stroke-width="0.9" opacity="0.65"/>
<line x1="303.5" y1="731.8" x2="303.5" y2="737.4" stroke="#f0852d" stroke-width="1.1"/>
<line x1="292.5" y1="731.8" x2="292.5" y2="737.4" stroke="#1a1a1a" stroke-width="1.1"/>
<line x1="336.5" y1="731.8" x2="336.5" y2="737.4" stroke="#4a86c8" stroke-width="1.1"/>
<line x1="256" y1="759.5" x2="288" y2="759.5" stroke="#8a8585" stroke-width="0.8" opacity="0.3"/>
<path d="M252.4 759.9 253.7 759.9 254.9 759.8 256.2 759.7 257.4 759.5 258.7 759.2 260 758.8 261.2 758.4 262.5 758 263.7 757.7 265 757.6 267.2 757.7 269.4 758 271.6 758.4 273.8 758.8 276 759.2 278.2 759.5 280.4 759.7 282.6 759.8 284.8 759.9 287.1 759.9 287.1 760 284.8 760 282.6 760.1 280.4 760.2 278.2 760.4 276 760.7 273.8 761.1 271.6 761.5 269.4 761.9 267.2 762.2 265 762.3 263.7 762.2 262.5 761.9 261.2 761.5 260 761.1 258.7 760.7 257.4 760.4 256.2 760.2 254.9 760.1 253.7 760 252.4 760Z" fill="#8f8989" opacity="0.45"/>
<path d="M258.3 759V760.8M260.7 758.4V761.5M263 756.8V763.1M265.4 756.5V763.4M267.7 756.6V763.3M270 757.7V762.2M272.4 757.9V761.9M274.7 758.6V761.3M277.1 759.4V760.5M279.4 759.5V760.3" stroke="#4a4545" stroke-width="0.9" opacity="0.65"/>
<line x1="258.5" y1="757.1" x2="258.5" y2="762.7" stroke="#f0852d" stroke-width="1.1"/>
<line x1="265.5" y1="757.1" x2="265.5" y2="762.7" stroke="#1a1a1a" stroke-width="1.1"/>
<line x1="254.5" y1="757.1" x2="254.5" y2="762.7" stroke="#4a86c8" stroke-width="1.1"/>
<line x1="254.1" y1="785.5" x2="268" y2="785.5" stroke="#8a8585" stroke-width="0.8" opacity="0.3"/>
<path d="M250.8 785.2 251.4 785.1 252 785 252.5 784.7 253.1 784.2 253.7 783.6 254.2 782.7 254.8 781.8 255.4 780.9 255.9 780.2 256.5 780 257.6 780.2 258.7 780.9 259.8 781.8 260.9 782.7 262 783.6 263.1 784.2 264.2 784.7 265.3 785 266.4 785.1 267.5 785.2 267.5 785.3 266.4 785.4 265.3 785.6 264.2 785.8 263.1 786.3 262 787 260.9 787.8 259.8 788.8 258.7 789.6 257.6 790.3 256.5 790.5 255.9 790.3 255.4 789.6 254.8 788.8 254.2 787.8 253.7 787 253.1 786.3 252.5 785.8 252 785.6 251.4 785.4 250.8 785.3Z" fill="#8f8989" opacity="0.45"/>
<path d="M254.1 782.7V787.8M256.4 779.3V791.2M258.8 780.5V790M261.1 782.5V788M263.5 784.5V786.1" stroke="#4a4545" stroke-width="0.9" opacity="0.65"/>
<line x1="256.5" y1="782.5" x2="256.5" y2="788.1" stroke="#1a1a1a" stroke-width="1.1"/>
<line x1="254.5" y1="782.5" x2="254.5" y2="788.1" stroke="#4a86c8" stroke-width="1.1"/>
<line x1="262" y1="810.5" x2="310" y2="810.5" stroke="#8a8585" stroke-width="0.8" opacity="0.3"/>
<path d="M261.9 810.6 264.2 810.5 266.4 810.5 268.6 810.3 270.8 810.1 273 809.9 275.2 809.5 277.4 809.1 279.6 808.7 281.8 808.4 284 808.3 286.5 808.4 289 808.7 291.6 809.1 294.1 809.5 296.6 809.9 299.1 810.1 301.6 810.3 304.2 810.5 306.7 810.5 309.2 810.6 309.2 810.6 306.7 810.6 304.2 810.7 301.6 810.8 299.1 811 296.6 811.3 294.1 811.7 291.6 812.1 289 812.5 286.5 812.7 284 812.8 281.8 812.7 279.6 812.5 277.4 812.1 275.2 811.7 273 811.3 270.8 811 268.6 810.8 266.4 810.7 264.2 810.6 261.9 810.6Z" fill="#8f8989" opacity="0.45"/>
<path d="M269 810.3V810.9M271.4 810.1V811.1M273.7 809.4V811.7M276 809V812.2M278.4 808.1V813M280.7 808.4V812.7M283.1 807.5V813.7M285.4 807.1V814.1M287.7 807.3V813.9M290.1 807.8V813.4M292.4 808.5V812.7M294.8 809.4V811.8M297.1 809.8V811.3M299.4 810.2V811M301.8 810.3V810.9" stroke="#4a4545" stroke-width="0.9" opacity="0.65"/>
<line x1="272.5" y1="807.8" x2="272.5" y2="813.4" stroke="#f0852d" stroke-width="1.1"/>
<line x1="283.5" y1="807.8" x2="283.5" y2="813.4" stroke="#1a1a1a" stroke-width="1.1"/>
<line x1="254.5" y1="807.8" x2="254.5" y2="813.4" stroke="#4a86c8" stroke-width="1.1"/>
<line x1="250.5" y1="719.7" x2="250.5" y2="826.4" stroke="#555555" stroke-width="1.1"/>
<line x1="250.6" y1="825.5" x2="340.6" y2="825.5" stroke="#777" stroke-width="1.3"/>
<line x1="254.5" y1="825.9" x2="254.5" y2="828.1" stroke="#555555" stroke-width="0.9"/>
<text x="254.6" y="832.9" font-size="5.7" fill="#8c8c8c" text-anchor="middle" textLength="3.1" lengthAdjust="spacingAndGlyphs">0</text>
<line x1="278.5" y1="825.9" x2="278.5" y2="828.1" stroke="#555555" stroke-width="0.9"/>
<text x="278" y="832.9" font-size="5.7" fill="#8c8c8c" text-anchor="middle" textLength="6.2" lengthAdjust="spacingAndGlyphs">10</text>
<line x1="301.5" y1="825.9" x2="301.5" y2="828.1" stroke="#555555" stroke-width="0.9"/>
<text x="301.4" y="832.9" font-size="5.7" fill="#8c8c8c" text-anchor="middle" textLength="6.2" lengthAdjust="spacingAndGlyphs">20</text>
<line x1="324.5" y1="825.9" x2="324.5" y2="828.1" stroke="#555555" stroke-width="0.9"/>
<text x="324.8" y="832.9" font-size="5.7" fill="#8c8c8c" text-anchor="middle" textLength="6.2" lengthAdjust="spacingAndGlyphs">30</text>
<text x="295.7" y="718.8" font-size="6.35" fill="#2b78c1" font-weight="bold" text-anchor="middle" textLength="41.6" lengthAdjust="spacingAndGlyphs">Hyper-mCpGs</text>
<text x="310.5" y="843.5" font-size="6.35" fill="#3a3a3a" font-weight="bold" text-anchor="middle" textLength="102.9" lengthAdjust="spacingAndGlyphs">CpG sites overlapping CGI features</text>
<line x1="364.5" y1="719.7" x2="364.5" y2="825.9" stroke="#2a78c2" stroke-width="1.5"/>
<line x1="388.5" y1="734.5" x2="478.2" y2="734.5" stroke="#e0e4e6" stroke-width="0.8"/>
<line x1="388.5" y1="759.5" x2="478.2" y2="759.5" stroke="#e0e4e6" stroke-width="0.8"/>
<line x1="388.5" y1="785.5" x2="478.2" y2="785.5" stroke="#e0e4e6" stroke-width="0.8"/>
<line x1="388.5" y1="810.5" x2="478.2" y2="810.5" stroke="#e0e4e6" stroke-width="0.8"/>
<line x1="404" y1="734.5" x2="465" y2="734.5" stroke="#8a8585" stroke-width="0.8" opacity="0.3"/>
<path d="M400.1 734.6 403.2 734.5 406.4 734.5 409.6 734.4 412.7 734.2 415.9 733.9 419 733.5 422.2 733.1 425.3 732.7 428.5 732.4 431.6 732.4 434.4 732.4 437.3 732.7 440.1 733.1 442.9 733.5 445.8 733.9 448.6 734.2 451.4 734.4 454.3 734.5 457.1 734.5 460 734.6 460 734.6 457.1 734.7 454.3 734.7 451.4 734.8 448.6 735 445.8 735.3 442.9 735.7 440.1 736.1 437.3 736.5 434.4 736.8 431.6 736.9 428.5 736.8 425.3 736.5 422.2 736.1 419 735.7 415.9 735.3 412.7 735 409.6 734.8 406.4 734.7 403.2 734.7 400.1 734.6Z" fill="#8f8989" opacity="0.45"/>
<path d="M409.7 734.3V734.9M412.6 734.1V735.1M415.4 733.7V735.5M418.3 733.2V736M421.1 732.8V736.4M424 732.3V736.9M426.8 731.7V737.5M429.7 732V737.2M432.5 731.3V737.9M435.4 731.6V737.6M438.2 732.7V736.5M441.1 732.5V736.7M443.9 733.3V735.9M446.8 733.8V735.4M449.6 734.3V734.9" stroke="#4a4545" stroke-width="0.9" opacity="0.65"/>
<line x1="443.5" y1="731.8" x2="443.5" y2="737.4" stroke="#f0852d" stroke-width="1.1"/>
<line x1="431.5" y1="731.8" x2="431.5" y2="737.4" stroke="#1a1a1a" stroke-width="1.1"/>
<line x1="474.5" y1="731.8" x2="474.5" y2="737.4" stroke="#4a86c8" stroke-width="1.1"/>
<line x1="394" y1="759.5" x2="430" y2="759.5" stroke="#8a8585" stroke-width="0.8" opacity="0.3"/>
<path d="M391.2 759.9 392.5 759.9 393.7 759.8 395 759.7 396.2 759.5 397.5 759.2 398.8 758.8 400 758.4 401.3 758 402.5 757.7 403.8 757.6 406 757.7 408.2 758 410.4 758.4 412.6 758.8 414.8 759.2 417 759.5 419.2 759.7 421.4 759.8 423.6 759.9 425.9 759.9 425.9 760 423.6 760 421.4 760.1 419.2 760.2 417 760.4 414.8 760.7 412.6 761.1 410.4 761.5 408.2 761.9 406 762.2 403.8 762.3 402.5 762.2 401.3 761.9 400 761.5 398.8 761.1 397.5 760.7 396.2 760.4 395 760.2 393.7 760.1 392.5 760 391.2 760Z" fill="#8f8989" opacity="0.45"/>
<path d="M396.9 759.4V760.4M399.7 758.4V761.5M402.6 757.2V762.6M405.4 757.2V762.7M408.3 757.1V762.7M411.1 758V761.9M414 758.9V761M416.8 759.4V760.4" stroke="#4a4545" stroke-width="0.9" opacity="0.65"/>
<line x1="403.5" y1="757.1" x2="403.5" y2="762.7" stroke="#1a1a1a" stroke-width="1.1"/>
<line x1="394.5" y1="757.1" x2="394.5" y2="762.7" stroke="#4a86c8" stroke-width="1.1"/>
<line x1="392.2" y1="785.5" x2="408" y2="785.5" stroke="#8a8585" stroke-width="0.8" opacity="0.3"/>
<path d="M388.9 785.2 389.5 785.1 390.1 785 390.6 784.7 391.2 784.2 391.8 783.6 392.3 782.7 392.9 781.8 393.5 780.9 394 780.2 394.6 780 395.7 780.2 396.8 780.9 397.9 781.8 399 782.7 400.1 783.6 401.2 784.2 402.3 784.7 403.4 785 404.5 785.1 405.6 785.2 405.6 785.3 404.5 785.4 403.4 785.6 402.3 785.8 401.2 786.3 400.1 787 399 787.8 397.9 788.8 396.8 789.6 395.7 790.3 394.6 790.5 394 790.3 393.5 789.6 392.9 788.8 392.3 787.8 391.8 787 391.2 786.3 390.6 785.8 390.1 785.6 389.5 785.4 388.9 785.3Z" fill="#8f8989" opacity="0.45"/>
<path d="M392.2 782.4V788.1M395.1 776.7V793.8M397.9 779.7V790.8M400.8 784V786.5M403.6 785V785.6" stroke="#4a4545" stroke-width="0.9" opacity="0.65"/>
<line x1="394.5" y1="782.5" x2="394.5" y2="788.1" stroke="#1a1a1a" stroke-width="1.1"/>
<line x1="392.5" y1="782.5" x2="392.5" y2="788.1" stroke="#4a86c8" stroke-width="1.1"/>
<line x1="398" y1="810.5" x2="451" y2="810.5" stroke="#8a8585" stroke-width="0.8" opacity="0.3"/>
<path d="M400.8 810.6 403 810.5 405.2 810.5 407.4 810.3 409.6 810.1 411.8 809.9 414 809.5 416.2 809.1 418.4 808.7 420.6 808.4 422.8 808.3 425.6 808.4 428.5 808.7 431.3 809.1 434.1 809.5 437 809.9 439.8 810.1 442.6 810.3 445.5 810.5 448.3 810.5 451.2 810.6 451.2 810.6 448.3 810.6 445.5 810.7 442.6 810.8 439.8 811 437 811.3 434.1 811.7 431.3 812.1 428.5 812.5 425.6 812.7 422.8 812.8 420.6 812.7 418.4 812.5 416.2 812.1 414 811.7 411.8 811.3 409.6 811 407.4 810.8 405.2 810.7 403 810.6 400.8 810.6Z" fill="#8f8989" opacity="0.45"/>
<path d="M409.4 810.2V811M412.3 809.5V811.7M415.1 808.7V812.5M418 808.1V813M420.8 808.4V812.8M423.7 807.4V813.8M426.5 807.7V813.5M429.4 808.6V812.6M432.2 808.5V812.7M435.1 809.2V812M437.9 809.8V811.4M440.8 810.2V811M443.6 810.3V810.8" stroke="#4a4545" stroke-width="0.9" opacity="0.65"/>
<line x1="411.5" y1="807.8" x2="411.5" y2="813.4" stroke="#f0852d" stroke-width="1.1"/>
<line x1="422.5" y1="807.8" x2="422.5" y2="813.4" stroke="#1a1a1a" stroke-width="1.1"/>
<line x1="391.5" y1="807.8" x2="391.5" y2="813.4" stroke="#4a86c8" stroke-width="1.1"/>
<line x1="388.5" y1="719.7" x2="388.5" y2="826.4" stroke="#555555" stroke-width="1.1"/>
<line x1="388" y1="825.5" x2="478.2" y2="825.5" stroke="#777" stroke-width="1.3"/>
<line x1="392.5" y1="825.9" x2="392.5" y2="828.1" stroke="#555555" stroke-width="0.9"/>
<text x="392.2" y="832.9" font-size="5.7" fill="#8c8c8c" text-anchor="middle" textLength="3.1" lengthAdjust="spacingAndGlyphs">0</text>
<line x1="420.5" y1="825.9" x2="420.5" y2="828.1" stroke="#555555" stroke-width="0.9"/>
<text x="420.7" y="832.9" font-size="5.7" fill="#8c8c8c" text-anchor="middle" textLength="6.2" lengthAdjust="spacingAndGlyphs">10</text>
<line x1="449.5" y1="825.9" x2="449.5" y2="828.1" stroke="#555555" stroke-width="0.9"/>
<text x="449.1" y="832.9" font-size="5.7" fill="#8c8c8c" text-anchor="middle" textLength="6.2" lengthAdjust="spacingAndGlyphs">20</text>
<line x1="477.5" y1="825.9" x2="477.5" y2="828.1" stroke="#555555" stroke-width="0.9"/>
<text x="477.6" y="832.9" font-size="5.7" fill="#8c8c8c" text-anchor="middle" textLength="6.2" lengthAdjust="spacingAndGlyphs">30</text>
<text x="433.4" y="718.8" font-size="6.35" fill="#2b78c1" font-weight="bold" text-anchor="middle" textLength="41.6" lengthAdjust="spacingAndGlyphs">Hyper-mCpGs</text>
<line x1="498.5" y1="719.7" x2="498.5" y2="825.9" stroke="#2a78c2" stroke-width="1.5"/>
<line x1="521.4" y1="734.5" x2="604.6" y2="734.5" stroke="#9a9595" stroke-width="0.9" opacity="0.8"/>
<path d="M521.4 731.3L536.6 734.3L536.6 735.1L521.4 738.1Z" fill="#8a8282" opacity="0.9"/>
<path d="M590.7 734.3L604.6 731.3L604.6 738.1L590.7 735.1Z" fill="#8a8282" opacity="0.9"/>
<line x1="560.5" y1="731.9" x2="560.5" y2="737.5" stroke="#1a1a1a" stroke-width="1.1"/>
<line x1="604.5" y1="731.9" x2="604.5" y2="737.5" stroke="#4a86c8" stroke-width="1.1"/>
<line x1="521.4" y1="760.5" x2="604.6" y2="760.5" stroke="#9a9595" stroke-width="0.9" opacity="0.8"/>
<path d="M521.4 756.4L532.4 759.7L532.4 760.7L521.4 764Z" fill="#8a8282" opacity="0.9"/>
<path d="M595 760L604.6 759.2L604.6 761.2L595 760.4Z" fill="#8a8282" opacity="0.9"/>
<line x1="532.5" y1="757.4" x2="532.5" y2="763" stroke="#1a1a1a" stroke-width="1.1"/>
<line x1="521.5" y1="757.4" x2="521.5" y2="763" stroke="#4a86c8" stroke-width="1.1"/>
<line x1="521.4" y1="785.5" x2="604.6" y2="785.5" stroke="#9a9595" stroke-width="0.9" opacity="0.8"/>
<path d="M521.4 775.9L525 784.6L525 786.2L521.4 794.9Z" fill="#8a8282" opacity="0.9"/>
<line x1="524.5" y1="782.6" x2="524.5" y2="788.2" stroke="#1a1a1a" stroke-width="1.1"/>
<line x1="521.5" y1="782.6" x2="521.5" y2="788.2" stroke="#4a86c8" stroke-width="1.1"/>
<line x1="521.4" y1="811.5" x2="604.6" y2="811.5" stroke="#9a9595" stroke-width="0.9" opacity="0.8"/>
<path d="M521.4 807.6L536.6 810.6L536.6 811.4L521.4 814.4Z" fill="#8a8282" opacity="0.9"/>
<path d="M590.7 810.6L604.6 807.6L604.6 814.4L590.7 811.4Z" fill="#8a8282" opacity="0.9"/>
<line x1="551.5" y1="808.2" x2="551.5" y2="813.8" stroke="#1a1a1a" stroke-width="1.1"/>
<line x1="521.5" y1="808.2" x2="521.5" y2="813.8" stroke="#4a86c8" stroke-width="1.1"/>
<line x1="517.5" y1="719.4" x2="517.5" y2="826.7" stroke="#555555" stroke-width="1.1"/>
<line x1="517.7" y1="826.5" x2="607.9" y2="826.5" stroke="#777" stroke-width="1.3"/>
<line x1="521.5" y1="826.2" x2="521.5" y2="828.4" stroke="#555555" stroke-width="0.9"/>
<text x="521.6" y="832.9" font-size="5.7" fill="#8c8c8c" text-anchor="middle" textLength="3.1" lengthAdjust="spacingAndGlyphs">0</text>
<line x1="542.5" y1="826.2" x2="542.5" y2="828.4" stroke="#555555" stroke-width="0.9"/>
<text x="542.4" y="832.9" font-size="5.7" fill="#8c8c8c" text-anchor="middle" textLength="10.8" lengthAdjust="spacingAndGlyphs">0.25</text>
<line x1="563.5" y1="826.2" x2="563.5" y2="828.4" stroke="#555555" stroke-width="0.9"/>
<text x="563.1" y="832.9" font-size="5.7" fill="#8c8c8c" text-anchor="middle" textLength="7.7" lengthAdjust="spacingAndGlyphs">0.5</text>
<line x1="583.5" y1="826.2" x2="583.5" y2="828.4" stroke="#555555" stroke-width="0.9"/>
<text x="583.9" y="832.9" font-size="5.7" fill="#8c8c8c" text-anchor="middle" textLength="10.8" lengthAdjust="spacingAndGlyphs">0.75</text>
<line x1="604.5" y1="826.2" x2="604.5" y2="828.4" stroke="#555555" stroke-width="0.9"/>
<text x="604.6" y="832.9" font-size="5.7" fill="#8c8c8c" text-anchor="middle" textLength="3.1" lengthAdjust="spacingAndGlyphs">1</text>
<text x="563" y="719" font-size="6.35" fill="#2b78c1" font-weight="bold" text-anchor="middle" textLength="42.7" lengthAdjust="spacingAndGlyphs">Hyper-mCpGs</text>
<rect x="624.2" y="754.2" width="2.5" height="9.2" fill="#f0852d"/>
<text x="631" y="761.1" font-size="6.07" fill="#555" textLength="30.4" lengthAdjust="spacingAndGlyphs">Alpha=0.05</text>
<rect x="624.2" y="768.1" width="2.5" height="9.2" fill="#111"/>
<text x="631" y="775" font-size="6.07" fill="#555" textLength="25.4" lengthAdjust="spacingAndGlyphs">Expected</text>
<rect x="624.2" y="781.9" width="2.5" height="9.2" fill="#4a86c8"/>
<text x="631" y="788.8" font-size="6.07" fill="#555" textLength="26.2" lengthAdjust="spacingAndGlyphs">Observed</text>
<line x1="498.5" y1="719.4" x2="498.5" y2="825.4" stroke="#2a78c2" stroke-width="1.5"/></svg></body></html>
